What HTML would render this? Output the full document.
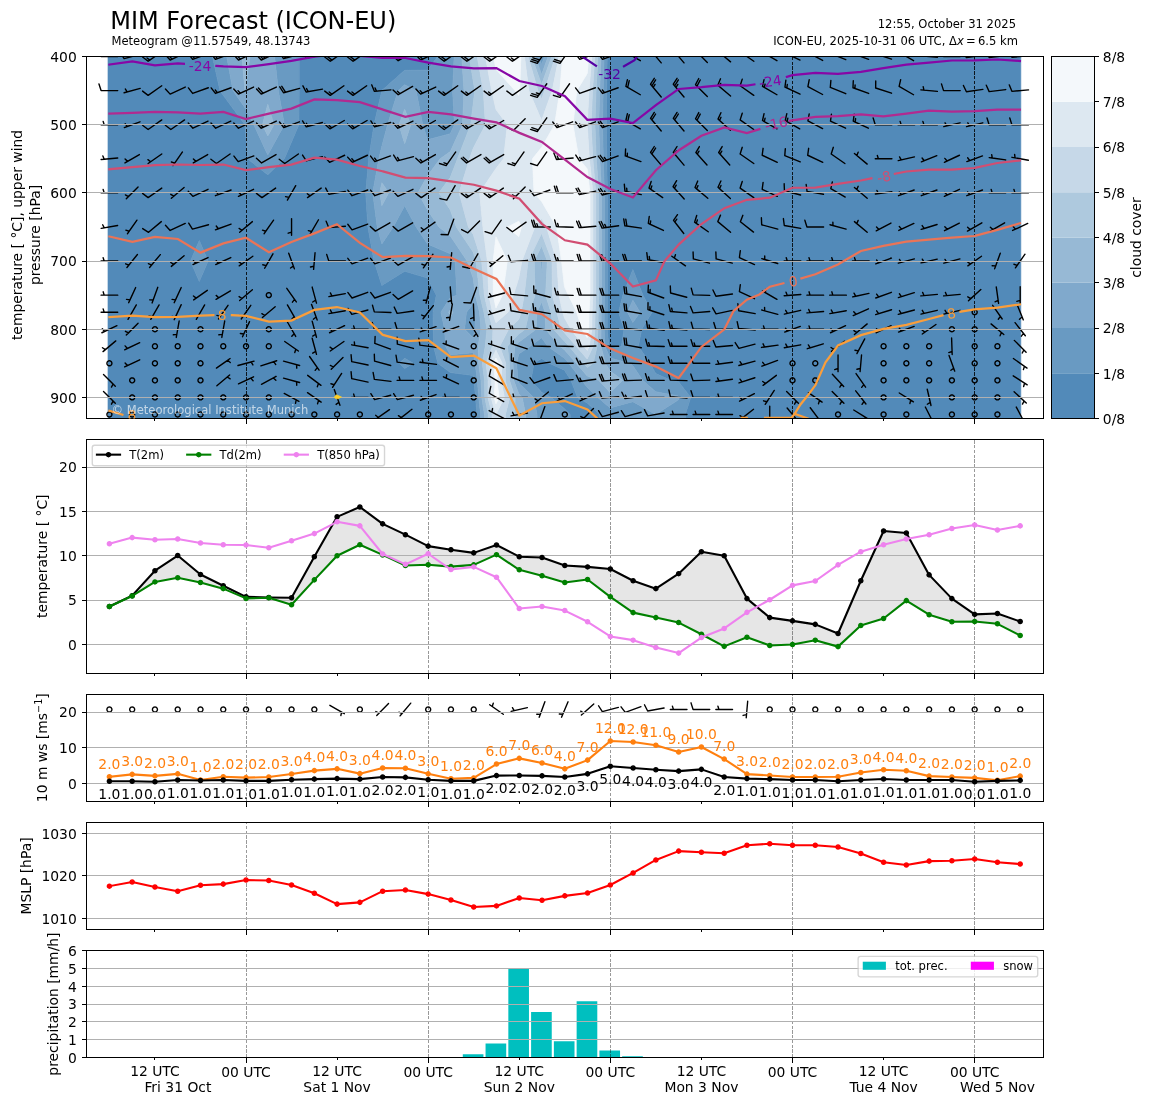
<!DOCTYPE html>
<html><head><meta charset="utf-8"><title>MIM Forecast (ICON-EU)</title>
<style>html,body{margin:0;padding:0;background:#fff}svg{display:block}text{font-family:"DejaVu Sans","Liberation Sans",sans-serif}</style></head>
<body>
<svg width="1155" height="1105" viewBox="0 0 831.6 795.6"><defs><style type="text/css">*{stroke-linejoin: round; stroke-linecap: butt}</style></defs><g id="figure_1"><g id="patch_1"><path d="M 0 795.6 L 831.6 795.6 L 831.6 0 L 0 0 z " style="fill: #ffffff"/></g><g id="axes_1"><g id="patch_2"><path d="M 62.28 301.32 L 751.32 301.32 L 751.32 40.68 L 62.28 40.68 z " style="fill: #ffffff"/></g><g id="QuadContourSet_1"><path d="M 94.21 40.68 L 110.64 40.68 L 127.07 40.68 L 143.5 40.68 L 152.96 40.68 L 158.37 65.22 L 159.93 67.56 L 176.36 89.77 L 176.36 89.77 L 178.19 114.31 L 192.79 125.86 L 204.74 114.31 L 209.22 103.8 L 215.2 89.77 L 215.38 65.22 L 215.38 40.68 L 225.65 40.68 L 242.08 40.68 L 258.51 40.68 L 274.94 40.68 L 291.37 40.68 L 307.8 40.68 L 315.11 40.68 L 307.8 50.5 L 291.37 50.6 L 274.94 65.22 L 274.94 65.22 L 269.28 89.77 L 265.45 114.31 L 263.32 138.86 L 264.88 163.4 L 269.28 187.95 L 274.94 205.48 L 291.37 195.31 L 307.8 200.22 L 314.12 212.49 L 311.77 224.77 L 311.91 237.04 L 312.13 249.31 L 315.27 261.58 L 324.23 268.28 L 340.66 270.35 L 341.18 273.86 L 342.44 286.13 L 343.29 298.4 L 343.29 310.67 L 340.66 310.67 L 324.23 310.67 L 307.8 310.67 L 291.37 310.67 L 274.94 310.67 L 258.51 310.67 L 242.08 310.67 L 225.65 310.67 L 209.22 310.67 L 192.79 310.67 L 176.36 310.67 L 159.93 310.67 L 143.5 310.67 L 127.07 310.67 L 110.64 310.67 L 94.21 310.67 L 77.78 310.67 L 77.78 298.4 L 77.78 286.13 L 77.78 273.86 L 77.78 261.58 L 77.78 249.31 L 77.78 237.04 L 77.78 224.77 L 77.78 212.49 L 77.78 187.95 L 77.78 163.4 L 77.78 138.86 L 77.78 114.31 L 77.78 89.77 L 77.78 65.22 L 77.78 40.68 z M 137.14 187.95 L 143.5 202.68 L 149.86 187.95 L 143.5 173.22 z M 287.43 261.58 L 291.37 265.26 L 297.53 261.58 L 291.37 257.9 z M 439.24 40.68 L 455.67 40.68 L 472.1 40.68 L 488.53 40.68 L 504.96 40.68 L 521.39 40.68 L 537.82 40.68 L 554.25 40.68 L 570.68 40.68 L 587.11 40.68 L 603.54 40.68 L 619.97 40.68 L 636.4 40.68 L 652.83 40.68 L 669.26 40.68 L 685.69 40.68 L 702.12 40.68 L 718.55 40.68 L 734.98 40.68 L 734.98 65.22 L 734.98 89.77 L 734.98 114.31 L 734.98 138.86 L 734.98 163.4 L 734.98 187.95 L 734.98 212.49 L 734.98 224.77 L 734.98 237.04 L 734.98 249.31 L 734.98 261.58 L 734.98 273.86 L 734.98 286.13 L 734.98 298.4 L 734.98 310.67 L 718.55 310.67 L 702.12 310.67 L 685.69 310.67 L 669.26 310.67 L 652.83 310.67 L 636.4 310.67 L 619.97 310.67 L 603.54 310.67 L 587.11 310.67 L 570.68 310.67 L 554.25 310.67 L 537.82 310.67 L 521.39 310.67 L 504.96 310.67 L 493.4 310.67 L 493.4 298.4 L 497.35 286.13 L 488.53 274.88 L 483.06 273.86 L 472.1 268.95 L 467.99 261.58 L 459.62 249.31 L 462.03 237.04 L 469.51 224.77 L 462.92 212.49 L 455.67 194.09 L 448.42 212.49 L 445.36 224.77 L 449.31 237.04 L 447.46 249.31 L 439.24 251.25 L 438.39 249.31 L 437.15 237.04 L 437.18 224.77 L 437.27 212.49 L 437.27 187.95 L 437.27 163.4 L 437.27 138.86 L 436.86 114.31 L 436.62 89.77 L 436.82 65.22 L 437.15 40.68 z M 389.95 258.08 L 395.43 261.58 L 406.38 266.49 L 411.08 273.86 L 415.77 286.13 L 422.81 290.22 L 431.77 298.4 L 431.77 310.67 L 422.81 310.67 L 410.49 310.67 L 410.49 298.4 L 406.38 294.31 L 396.99 286.13 L 389.95 282.45 L 382.29 273.86 L 384.48 261.58 z " clip-path="url(#p9851077e19)" style="fill: #528ab9; stroke: #528ab9; stroke-width: 0.5"/><path d="M 159.93 40.68 L 163.22 40.68 L 167.72 65.22 L 176.36 77.5 L 182.68 89.77 L 192.79 111.59 L 204.74 89.77 L 200.38 65.22 L 197.72 40.68 L 209.22 40.68 L 215.38 40.68 L 215.38 65.22 L 215.2 89.77 L 209.22 103.8 L 204.74 114.31 L 192.79 125.86 L 178.19 114.31 L 176.36 89.77 L 176.36 89.77 L 159.93 67.56 L 158.37 65.22 L 152.96 40.68 z M 291.37 50.6 L 307.8 50.5 L 315.11 40.68 L 324.23 40.68 L 326.97 40.68 L 325.88 65.22 L 327.17 89.77 L 324.23 96.23 L 307.8 100.68 L 304.34 89.77 L 299.59 65.22 L 291.37 61.05 L 286.68 65.22 L 279.05 89.77 L 274.94 105.11 L 272.75 114.31 L 268.37 138.86 L 271.59 163.4 L 274.94 175.68 L 283.16 163.4 L 291.37 148.06 L 299.59 163.4 L 307.8 175.68 L 324.23 182.78 L 327.69 187.95 L 328.93 212.49 L 324.23 214.25 L 317.43 224.77 L 320.13 237.04 L 320.77 249.31 L 324.23 255.45 L 340.66 253.91 L 341.99 261.58 L 343.74 273.86 L 344.66 286.13 L 346.05 298.4 L 346.05 310.67 L 343.29 310.67 L 343.29 298.4 L 342.44 286.13 L 341.18 273.86 L 340.66 270.35 L 324.23 268.28 L 315.27 261.58 L 312.13 249.31 L 311.91 237.04 L 311.77 224.77 L 314.12 212.49 L 307.8 200.22 L 291.37 195.31 L 274.94 205.48 L 269.28 187.95 L 264.88 163.4 L 263.32 138.86 L 265.45 114.31 L 269.28 89.77 L 274.94 65.22 L 274.94 65.22 z M 389.95 40.68 L 392.04 40.68 L 389.95 46.46 L 387.9 40.68 z M 436.82 65.22 L 436.62 89.77 L 436.86 114.31 L 437.27 138.86 L 437.27 163.4 L 437.27 187.95 L 437.27 212.49 L 437.18 224.77 L 437.15 237.04 L 438.39 249.31 L 439.24 251.25 L 447.46 249.31 L 449.31 237.04 L 445.36 224.77 L 448.42 212.49 L 455.67 194.09 L 462.92 212.49 L 469.51 224.77 L 462.03 237.04 L 459.62 249.31 L 467.99 261.58 L 472.1 268.95 L 483.06 273.86 L 488.53 274.88 L 497.35 286.13 L 493.4 298.4 L 493.4 310.67 L 488.53 310.67 L 472.1 310.67 L 455.67 310.67 L 439.24 310.67 L 431.77 310.67 L 431.77 298.4 L 422.81 290.22 L 415.77 286.13 L 411.08 273.86 L 406.38 266.49 L 395.43 261.58 L 389.95 258.08 L 384.48 261.58 L 382.29 273.86 L 389.95 282.45 L 396.99 286.13 L 406.38 294.31 L 410.49 298.4 L 410.49 310.67 L 406.38 310.67 L 389.95 310.67 L 386.67 310.67 L 386.67 298.4 L 384.2 286.13 L 373.52 275.49 L 372.91 273.86 L 371.96 261.58 L 373.52 254.89 L 381.74 249.31 L 389.95 243.17 L 394.28 249.31 L 406.38 257.9 L 409.56 261.58 L 418.9 273.86 L 422.81 278.97 L 430.48 286.13 L 439.24 293.68 L 455.67 289.2 L 472.1 298.4 L 488.53 287.88 L 489.33 286.13 L 488.53 285.11 L 472.1 282.04 L 462.71 273.86 L 455.67 263.34 L 453.33 261.58 L 439.24 257.71 L 435.56 249.31 L 434.94 237.04 L 435 224.77 L 435.19 212.49 L 435.19 187.95 L 435.19 163.4 L 435.19 138.86 L 434.35 114.31 L 433.86 89.77 L 434.28 65.22 L 434.94 40.68 L 437.15 40.68 z M 451.81 224.77 L 455.67 232.13 L 460.86 224.77 L 455.67 216.1 z M 143.5 173.22 L 149.86 187.95 L 143.5 202.68 L 137.14 187.95 z M 340.66 218.63 L 342.21 224.77 L 341.96 237.04 L 340.66 243.17 L 334.5 237.04 L 335.83 224.77 z M 291.37 257.9 L 297.53 261.58 L 291.37 265.26 L 287.43 261.58 z " clip-path="url(#p9851077e19)" style="fill: #699ac2; stroke: #699ac2; stroke-width: 0.5"/><path d="M 176.36 65.22 L 180.01 40.68 L 192.79 40.68 L 197.72 40.68 L 200.38 65.22 L 204.74 89.77 L 192.79 111.59 L 182.68 89.77 L 176.36 77.5 L 167.72 65.22 L 163.22 40.68 L 174.17 40.68 z M 189 89.77 L 192.79 97.95 L 197.27 89.77 L 192.79 75.04 z M 291.37 61.05 L 299.59 65.22 L 304.34 89.77 L 307.8 100.68 L 324.23 96.23 L 327.17 89.77 L 325.88 65.22 L 326.97 40.68 L 332.45 40.68 L 334.09 65.22 L 333.03 89.77 L 324.23 109.15 L 316.93 114.31 L 307.8 126.59 L 300.96 138.86 L 307.8 151.13 L 316.02 163.4 L 324.23 169.86 L 336.34 187.95 L 340.66 200.22 L 342.27 212.49 L 345.31 224.77 L 346.28 237.04 L 344.26 249.31 L 344.64 261.58 L 346.31 273.86 L 346.88 286.13 L 348.81 298.4 L 348.81 310.67 L 346.05 310.67 L 346.05 298.4 L 344.66 286.13 L 343.74 273.86 L 341.99 261.58 L 340.66 253.91 L 324.23 255.45 L 320.77 249.31 L 320.13 237.04 L 317.43 224.77 L 324.23 214.25 L 328.93 212.49 L 327.69 187.95 L 324.23 182.78 L 307.8 175.68 L 299.59 163.4 L 291.37 148.06 L 283.16 163.4 L 274.94 175.68 L 271.59 163.4 L 268.37 138.86 L 272.75 114.31 L 274.94 105.11 L 279.05 89.77 L 286.68 65.22 z M 287.27 89.77 L 291.37 103.41 L 295.7 89.77 L 291.37 78.61 z M 273.43 138.86 L 274.94 148.06 L 279.87 138.86 L 274.94 131.5 z M 323.1 224.77 L 324.23 228.27 L 326.17 224.77 L 324.23 223.01 z M 335.83 224.77 L 334.5 237.04 L 340.66 243.17 L 341.96 237.04 L 342.21 224.77 L 340.66 218.63 z M 389.95 46.46 L 392.04 40.68 L 394.65 40.68 L 389.95 53.67 L 385.33 40.68 L 387.9 40.68 z M 434.28 65.22 L 433.86 89.77 L 434.35 114.31 L 435.19 138.86 L 435.19 163.4 L 435.19 187.95 L 435.19 212.49 L 435 224.77 L 434.94 237.04 L 435.56 249.31 L 439.24 257.71 L 453.33 261.58 L 455.67 263.34 L 462.71 273.86 L 472.1 282.04 L 488.53 285.11 L 489.33 286.13 L 488.53 287.88 L 472.1 298.4 L 455.67 289.2 L 439.24 293.68 L 430.48 286.13 L 422.81 278.97 L 418.9 273.86 L 409.56 261.58 L 406.38 257.9 L 394.28 249.31 L 389.95 243.17 L 381.74 249.31 L 373.52 254.89 L 371.96 261.58 L 372.91 273.86 L 373.52 275.49 L 384.2 286.13 L 386.67 298.4 L 386.67 310.67 L 378.45 310.67 L 378.45 298.4 L 375.99 286.13 L 373.52 283.67 L 369.87 273.86 L 369.35 261.58 L 370.78 249.31 L 373.52 246.39 L 386.04 237.04 L 386.55 224.77 L 389.95 217.4 L 392.48 224.77 L 392.79 237.04 L 402.92 249.31 L 406.38 251.77 L 414.86 261.58 L 422.81 270.79 L 431.03 273.86 L 439.24 282.62 L 448.37 273.86 L 439.24 267.04 L 435.78 261.58 L 432.73 249.31 L 432.74 237.04 L 432.82 224.77 L 433.11 212.49 L 433.11 187.95 L 433.11 163.4 L 433.11 138.86 L 431.84 114.31 L 431.1 89.77 L 431.73 65.22 L 432.74 40.68 L 434.94 40.68 z M 389.95 186.13 L 390.64 187.95 L 389.95 196.13 L 389.06 187.95 z M 455.67 216.1 L 460.86 224.77 L 455.67 232.13 L 451.81 224.77 z " clip-path="url(#p9851077e19)" style="fill: #80a9cc; stroke: #80a9cc; stroke-width: 0.5"/><path d="M 176.36 40.68 L 180.01 40.68 L 176.36 65.22 L 174.17 40.68 z M 340.66 58.21 L 341.88 65.22 L 340.66 75.04 L 338.9 89.77 L 329.42 114.31 L 324.23 127.7 L 316.02 138.86 L 324.23 151.13 L 328.56 163.4 L 340.66 181.49 L 342.72 187.95 L 345.5 212.49 L 348.41 224.77 L 350.61 237.04 L 349.39 249.31 L 347.29 261.58 L 348.88 273.86 L 349.1 286.13 L 351.57 298.4 L 351.57 310.67 L 348.81 310.67 L 348.81 298.4 L 346.88 286.13 L 346.31 273.86 L 344.64 261.58 L 344.26 249.31 L 346.28 237.04 L 345.31 224.77 L 342.27 212.49 L 340.66 200.22 L 336.34 187.95 L 324.23 169.86 L 316.02 163.4 L 307.8 151.13 L 300.96 138.86 L 307.8 126.59 L 316.93 114.31 L 324.23 109.15 L 333.03 89.77 L 334.09 65.22 L 332.45 40.68 L 337.92 40.68 z M 389.95 53.67 L 394.65 40.68 L 397.26 40.68 L 389.95 60.89 L 382.76 40.68 L 385.33 40.68 z M 431.73 65.22 L 431.1 89.77 L 431.84 114.31 L 433.11 138.86 L 433.11 163.4 L 433.11 187.95 L 433.11 212.49 L 432.82 224.77 L 432.74 237.04 L 432.73 249.31 L 435.78 261.58 L 439.24 267.04 L 448.37 273.86 L 439.24 282.62 L 431.03 273.86 L 422.81 270.79 L 414.86 261.58 L 406.38 251.77 L 402.92 249.31 L 392.79 237.04 L 392.48 224.77 L 389.95 217.4 L 386.55 224.77 L 386.04 237.04 L 373.52 246.39 L 370.78 249.31 L 369.35 261.58 L 369.87 273.86 L 373.52 283.67 L 375.99 286.13 L 378.45 298.4 L 378.45 310.67 L 373.52 310.67 L 370.78 310.67 L 370.78 298.4 L 370.85 286.13 L 366.83 273.86 L 366.74 261.58 L 365.31 249.31 L 373.52 240.54 L 378.22 237.04 L 380.89 224.77 L 385.26 212.49 L 384.62 187.95 L 389.95 177.04 L 394.06 187.95 L 392.85 212.49 L 396.69 224.77 L 398.45 237.04 L 406.38 245.63 L 409.56 249.31 L 420.16 261.58 L 422.81 264.65 L 427.14 261.58 L 429.89 249.31 L 430.53 237.04 L 430.65 224.77 L 431.03 212.49 L 431.03 187.95 L 431.03 163.4 L 431.03 138.86 L 429.33 114.31 L 428.34 89.77 L 429.18 65.22 L 430.53 40.68 L 432.74 40.68 z M 389.06 187.95 L 389.95 196.13 L 390.64 187.95 L 389.95 186.13 z M 192.79 75.04 L 197.27 89.77 L 192.79 97.95 L 189 89.77 z M 291.37 78.61 L 295.7 89.77 L 291.37 103.41 L 287.27 89.77 z M 274.94 131.5 L 279.87 138.86 L 274.94 148.06 L 273.43 138.86 z M 324.23 223.01 L 326.17 224.77 L 324.23 228.27 L 323.1 224.77 z " clip-path="url(#p9851077e19)" style="fill: #97b9d5; stroke: #97b9d5; stroke-width: 0.5"/><path d="M 340.66 40.68 L 343.6 40.68 L 347.97 65.22 L 349.51 89.77 L 340.66 106.95 L 338.07 114.31 L 330.55 138.86 L 337.2 163.4 L 340.66 168.57 L 346.82 187.95 L 348.72 212.49 L 351.51 224.77 L 354.93 237.04 L 354.53 249.31 L 349.94 261.58 L 351.45 273.86 L 351.32 286.13 L 354.33 298.4 L 354.33 310.67 L 351.57 310.67 L 351.57 298.4 L 349.1 286.13 L 348.88 273.86 L 347.29 261.58 L 349.39 249.31 L 350.61 237.04 L 348.41 224.77 L 345.5 212.49 L 342.72 187.95 L 340.66 181.49 L 328.56 163.4 L 324.23 151.13 L 316.02 138.86 L 324.23 127.7 L 329.42 114.31 L 338.9 89.77 L 340.66 75.04 L 341.88 65.22 L 340.66 58.21 L 337.92 40.68 z M 389.95 60.89 L 397.26 40.68 L 399.86 40.68 L 392.14 65.22 L 389.95 71.36 L 387.32 65.22 L 380.2 40.68 L 382.76 40.68 z M 429.18 65.22 L 428.34 89.77 L 429.33 114.31 L 431.03 138.86 L 431.03 163.4 L 431.03 187.95 L 431.03 212.49 L 430.65 224.77 L 430.53 237.04 L 429.89 249.31 L 427.14 261.58 L 422.81 264.65 L 420.16 261.58 L 409.56 249.31 L 406.38 245.63 L 398.45 237.04 L 396.69 224.77 L 392.85 212.49 L 394.06 187.95 L 389.95 177.04 L 384.62 187.95 L 385.26 212.49 L 380.89 224.77 L 378.22 237.04 L 373.52 240.54 L 365.31 249.31 L 366.74 261.58 L 366.83 273.86 L 370.85 286.13 L 370.78 298.4 L 370.78 310.67 L 363.94 310.67 L 363.94 298.4 L 367.03 286.13 L 363.79 273.86 L 364.13 261.58 L 359.83 249.31 L 366.22 237.04 L 373.52 230.03 L 375.22 224.77 L 377.43 212.49 L 380.18 187.95 L 389.95 167.95 L 397.48 187.95 L 397.68 212.49 L 400.91 224.77 L 404.12 237.04 L 406.38 239.49 L 414.86 249.31 L 422.81 258.52 L 427.06 249.31 L 428.33 237.04 L 428.47 224.77 L 428.95 212.49 L 428.95 187.95 L 428.95 163.4 L 428.95 138.86 L 426.83 114.31 L 425.57 89.77 L 426.63 65.22 L 428.33 40.68 L 430.53 40.68 z " clip-path="url(#p9851077e19)" style="fill: #aec9de; stroke: #aec9de; stroke-width: 0.5"/><path d="M 354.05 65.22 L 357.09 78.86 L 365.31 89.77 L 362.57 114.31 L 357.09 121.33 L 345.36 138.86 L 347.7 163.4 L 350.93 187.95 L 351.94 212.49 L 354.61 224.77 L 357.09 232.32 L 365.86 224.77 L 369.61 212.49 L 373.52 200.22 L 375.74 187.95 L 385.12 163.4 L 389.95 157.27 L 393.52 163.4 L 400.91 187.95 L 402.52 212.49 L 405.12 224.77 L 406.38 228.86 L 411.08 237.04 L 420.16 249.31 L 422.81 252.38 L 424.23 249.31 L 426.12 237.04 L 426.29 224.77 L 426.87 212.49 L 426.87 187.95 L 426.87 163.4 L 426.87 138.86 L 424.32 114.31 L 422.81 89.77 L 422.81 89.77 L 422.81 89.77 L 424.09 65.22 L 426.12 40.68 L 428.33 40.68 L 426.63 65.22 L 425.57 89.77 L 426.83 114.31 L 428.95 138.86 L 428.95 163.4 L 428.95 187.95 L 428.95 212.49 L 428.47 224.77 L 428.33 237.04 L 427.06 249.31 L 422.81 258.52 L 414.86 249.31 L 406.38 239.49 L 404.12 237.04 L 400.91 224.77 L 397.68 212.49 L 397.48 187.95 L 389.95 167.95 L 380.18 187.95 L 377.43 212.49 L 375.22 224.77 L 373.52 230.03 L 366.22 237.04 L 359.83 249.31 L 364.13 261.58 L 363.79 273.86 L 367.03 286.13 L 363.94 298.4 L 363.94 310.67 L 357.09 310.67 L 354.33 310.67 L 354.33 298.4 L 351.32 286.13 L 351.45 273.86 L 349.94 261.58 L 354.53 249.31 L 354.93 237.04 L 351.51 224.77 L 348.72 212.49 L 346.82 187.95 L 340.66 168.57 L 337.2 163.4 L 330.55 138.86 L 338.07 114.31 L 340.66 106.95 L 349.51 89.77 L 347.97 65.22 L 343.6 40.68 L 349.46 40.68 z M 352.59 261.58 L 354.01 273.86 L 353.54 286.13 L 357.09 298.4 L 363.21 286.13 L 360.74 273.86 L 361.53 261.58 L 357.09 252.1 z M 387.32 65.22 L 389.95 71.36 L 392.14 65.22 L 399.86 40.68 L 402.47 40.68 L 397.62 65.22 L 389.95 86.7 L 380.75 65.22 L 377.63 40.68 L 380.2 40.68 z M 373.52 138.86 L 373.52 138.86 L 373.52 138.86 L 373.52 138.86 z " clip-path="url(#p9851077e19)" style="fill: #c6d8e8; stroke: #c6d8e8; stroke-width: 0.5"/><path d="M 357.09 49.88 L 370.78 65.22 L 373.52 68.73 L 374.18 65.22 L 375.06 40.68 L 377.63 40.68 L 380.75 65.22 L 389.95 86.7 L 397.62 65.22 L 402.47 40.68 L 405.08 40.68 L 403.1 65.22 L 399.34 89.77 L 389.95 106.13 L 383.38 114.31 L 384.48 138.86 L 389.95 145 L 400.67 163.4 L 404.33 187.95 L 406.38 206.36 L 409.24 212.49 L 415.23 224.77 L 418.9 237.04 L 422.81 243.17 L 423.92 237.04 L 424.12 224.77 L 424.79 212.49 L 424.79 187.95 L 424.79 163.4 L 424.79 138.86 L 422.81 121.59 L 416.84 114.31 L 412.54 89.77 L 415.34 65.22 L 422.81 52.95 L 423.92 40.68 L 426.12 40.68 L 424.09 65.22 L 422.81 89.77 L 422.81 89.77 L 422.81 89.77 L 424.32 114.31 L 426.87 138.86 L 426.87 163.4 L 426.87 187.95 L 426.87 212.49 L 426.29 224.77 L 426.12 237.04 L 424.23 249.31 L 422.81 252.38 L 420.16 249.31 L 411.08 237.04 L 406.38 228.86 L 405.12 224.77 L 402.52 212.49 L 400.91 187.95 L 393.52 163.4 L 389.95 157.27 L 385.12 163.4 L 375.74 187.95 L 373.52 200.22 L 369.61 212.49 L 365.86 224.77 L 357.09 232.32 L 354.61 224.77 L 351.94 212.49 L 350.93 187.95 L 347.7 163.4 L 345.36 138.86 L 357.09 121.33 L 362.57 114.31 L 365.31 89.77 L 357.09 78.86 L 354.05 65.22 L 349.46 40.68 L 355.33 40.68 z M 373.52 138.86 L 373.52 138.86 L 373.52 138.86 L 373.52 138.86 z M 365.31 163.4 L 373.52 170.42 L 375.46 163.4 L 373.52 159.31 z M 355.04 187.95 L 355.16 212.49 L 357.09 221.7 L 361.79 212.49 L 365.31 187.95 L 357.09 170.42 z M 357.09 252.1 L 361.53 261.58 L 360.74 273.86 L 363.21 286.13 L 357.09 298.4 L 353.54 286.13 L 354.01 273.86 L 352.59 261.58 z M 355.24 261.58 L 356.58 273.86 L 355.76 286.13 L 357.09 290.73 L 359.39 286.13 L 357.7 273.86 L 358.92 261.58 L 357.09 257.68 z " clip-path="url(#p9851077e19)" style="fill: #dde8f1; stroke: #dde8f1; stroke-width: 0.5"/><path d="M 357.09 40.68 L 373.52 40.68 L 375.06 40.68 L 374.18 65.22 L 373.52 68.73 L 370.78 65.22 L 357.09 49.88 L 355.33 40.68 z M 406.38 40.68 L 422.81 40.68 L 423.92 40.68 L 422.81 52.95 L 415.34 65.22 L 412.54 89.77 L 416.84 114.31 L 422.81 121.59 L 424.79 138.86 L 424.79 163.4 L 424.79 187.95 L 424.79 212.49 L 424.12 224.77 L 423.92 237.04 L 422.81 243.17 L 418.9 237.04 L 415.23 224.77 L 409.24 212.49 L 406.38 206.36 L 404.33 187.95 L 400.67 163.4 L 389.95 145 L 384.48 138.86 L 383.38 114.31 L 389.95 106.13 L 399.34 89.77 L 403.1 65.22 L 405.08 40.68 z M 373.52 159.31 L 375.46 163.4 L 373.52 170.42 L 365.31 163.4 z M 357.09 170.42 L 365.31 187.95 L 361.79 212.49 L 357.09 221.7 L 355.16 212.49 L 355.04 187.95 z M 357.09 257.68 L 358.92 261.58 L 357.7 273.86 L 359.39 286.13 L 357.09 290.73 L 355.76 286.13 L 356.58 273.86 L 355.24 261.58 z " clip-path="url(#p9851077e19)" style="fill: #f4f8fb; stroke: #f4f8fb; stroke-width: 0.5"/></g><g id="Barbs_1"><path d="M 84.77 40.68 L 72.77 40.68 L 71.26 35.88 L 72.77 40.68 L 74.27 40.68 L 73.52 38.28 L 74.27 40.68 z " clip-path="url(#p9851077e19)" style="stroke: #000000"/><path d="M 100.96 39.13 L 89.36 42.23 L 86.67 37.98 L 89.36 42.23 z " clip-path="url(#p9851077e19)" style="stroke: #000000"/><path d="M 116.47 37.24 L 106.64 44.12 L 102.66 41.05 L 106.64 44.12 L 107.87 43.26 L 105.88 41.73 L 107.87 43.26 z " clip-path="url(#p9851077e19)" style="stroke: #000000"/><path d="M 133.39 38.14 L 122.51 43.22 L 119.12 39.5 L 122.51 43.22 L 123.87 42.58 L 122.18 40.72 L 123.87 42.58 z " clip-path="url(#p9851077e19)" style="stroke: #000000"/><path d="M 149.99 38.63 L 138.71 42.73 L 135.65 38.73 L 138.71 42.73 L 140.12 42.22 L 138.59 40.22 L 140.12 42.22 z " clip-path="url(#p9851077e19)" style="stroke: #000000"/><path d="M 166.38 38.63 L 155.1 42.73 L 152.05 38.73 L 155.1 42.73 L 156.51 42.22 L 153.46 38.22 L 156.51 42.22 z " clip-path="url(#p9851077e19)" style="stroke: #000000"/><path d="M 182.57 38.14 L 171.69 43.22 L 168.3 39.5 L 171.69 43.22 L 173.05 42.58 L 169.66 38.86 L 173.05 42.58 z " clip-path="url(#p9851077e19)" style="stroke: #000000"/><path d="M 198.97 38.14 L 188.09 43.22 L 184.7 39.5 L 188.09 43.22 L 189.45 42.58 L 186.06 38.86 L 189.45 42.58 L 190.81 41.95 L 189.11 40.09 L 190.81 41.95 z " clip-path="url(#p9851077e19)" style="stroke: #000000"/><path d="M 215.72 39.13 L 204.13 42.23 L 201.43 37.98 L 204.13 42.23 L 205.57 41.85 L 202.88 37.6 L 205.57 41.85 L 207.02 41.46 L 205.68 39.33 L 207.02 41.46 z " clip-path="url(#p9851077e19)" style="stroke: #000000"/><path d="M 232.23 39.64 L 220.41 41.72 L 218.09 37.25 L 220.41 41.72 L 221.88 41.46 L 219.57 36.99 L 221.88 41.46 z " clip-path="url(#p9851077e19)" style="stroke: #000000"/><path d="M 247.63 37.24 L 237.8 44.12 L 233.81 41.05 L 237.8 44.12 L 239.02 43.26 L 235.04 40.19 L 239.02 43.26 z " clip-path="url(#p9851077e19)" style="stroke: #000000"/><path d="M 264.02 37.24 L 254.19 44.12 L 250.21 41.05 L 254.19 44.12 L 255.42 43.26 L 251.44 40.19 L 255.42 43.26 z " clip-path="url(#p9851077e19)" style="stroke: #000000"/><path d="M 281.48 40.16 L 269.52 41.2 L 267.61 36.55 L 269.52 41.2 L 271.02 41.07 L 269.1 36.42 L 271.02 41.07 z " clip-path="url(#p9851077e19)" style="stroke: #000000"/><path d="M 297.09 37.68 L 286.7 43.68 L 283 40.27 L 286.7 43.68 L 288 42.93 L 284.3 39.52 L 288 42.93 z " clip-path="url(#p9851077e19)" style="stroke: #000000"/><path d="M 313.73 38.14 L 302.85 43.22 L 299.46 39.5 L 302.85 43.22 L 304.21 42.58 L 300.82 38.86 L 304.21 42.58 z " clip-path="url(#p9851077e19)" style="stroke: #000000"/><path d="M 329.6 37.24 L 319.77 44.12 L 315.78 41.05 L 319.77 44.12 L 321 43.26 L 317.01 40.19 L 321 43.26 z " clip-path="url(#p9851077e19)" style="stroke: #000000"/><path d="M 346 37.24 L 336.16 44.12 L 332.18 41.05 L 336.16 44.12 L 337.39 43.26 L 333.41 40.19 L 337.39 43.26 z " clip-path="url(#p9851077e19)" style="stroke: #000000"/><path d="M 362.39 37.24 L 352.56 44.12 L 348.57 41.05 L 352.56 44.12 L 353.79 43.26 L 349.8 40.19 L 353.79 43.26 z " clip-path="url(#p9851077e19)" style="stroke: #000000"/><path d="M 378.78 37.24 L 368.95 44.12 L 364.97 41.05 L 368.95 44.12 L 370.18 43.26 L 368.19 41.73 L 370.18 43.26 z " clip-path="url(#p9851077e19)" style="stroke: #000000"/><path d="M 393.7 35.76 L 386.82 45.6 L 382.02 44.07 L 386.82 45.6 L 387.68 44.37 L 382.89 42.84 L 387.68 44.37 L 388.54 43.14 L 383.75 41.61 L 388.54 43.14 z " clip-path="url(#p9851077e19)" style="stroke: #000000"/><path d="M 410.1 35.76 L 403.21 45.6 L 398.42 44.07 L 403.21 45.6 L 404.07 44.37 L 399.28 42.84 L 404.07 44.37 z " clip-path="url(#p9851077e19)" style="stroke: #000000"/><path d="M 428.69 38.63 L 417.41 42.73 L 414.36 38.73 L 417.41 42.73 L 418.82 42.22 L 417.29 40.22 L 418.82 42.22 z " clip-path="url(#p9851077e19)" style="stroke: #000000"/><path d="M 445.09 38.63 L 433.8 42.73 L 430.75 38.73 L 433.8 42.73 L 435.21 42.22 L 432.16 38.22 L 435.21 42.22 z " clip-path="url(#p9851077e19)" style="stroke: #000000"/><path d="M 461.04 43.68 L 450.64 37.68 L 451.74 32.77 L 450.64 37.68 L 451.94 38.43 L 453.04 33.52 L 451.94 38.43 L 453.24 39.18 L 453.79 36.72 L 453.24 39.18 z " clip-path="url(#p9851077e19)" style="stroke: #000000"/><path d="M 476.09 45.28 L 468.38 36.08 L 471.09 31.85 L 468.38 36.08 L 469.34 37.23 L 472.05 33 L 469.34 37.23 L 470.3 38.38 L 473.02 34.14 L 470.3 38.38 z " clip-path="url(#p9851077e19)" style="stroke: #000000"/><path d="M 492.49 45.28 L 484.77 36.08 L 487.48 31.85 L 484.77 36.08 L 485.73 37.23 L 488.45 33 L 485.73 37.23 L 486.7 38.38 L 489.41 34.14 L 486.7 38.38 z " clip-path="url(#p9851077e19)" style="stroke: #000000"/><path d="M 509.27 44.92 L 500.78 36.44 L 503.11 31.98 L 500.78 36.44 L 501.84 37.5 L 504.17 33.04 L 501.84 37.5 L 502.9 38.56 L 504.07 36.33 L 502.9 38.56 z " clip-path="url(#p9851077e19)" style="stroke: #000000"/><path d="M 526.01 44.54 L 516.82 36.82 L 518.76 32.18 L 516.82 36.82 L 517.97 37.79 L 519.91 33.14 L 517.97 37.79 z " clip-path="url(#p9851077e19)" style="stroke: #000000"/><path d="M 542.73 44.12 L 532.89 37.24 L 534.42 32.44 L 532.89 37.24 L 534.12 38.1 L 534.89 35.7 L 534.12 38.1 z " clip-path="url(#p9851077e19)" style="stroke: #000000"/><path d="M 559.4 43.68 L 549.01 37.68 L 550.11 32.77 L 549.01 37.68 L 550.31 38.43 L 551.41 33.52 L 550.31 38.43 z " clip-path="url(#p9851077e19)" style="stroke: #000000"/><path d="M 576.04 43.22 L 565.16 38.14 L 565.83 33.16 L 565.16 38.14 L 566.52 38.78 L 567.19 33.79 L 566.52 38.78 z " clip-path="url(#p9851077e19)" style="stroke: #000000"/><path d="M 592.29 43.5 L 581.69 37.86 L 582.62 32.92 L 581.69 37.86 L 583.02 38.57 L 583.48 36.09 L 583.02 38.57 z " clip-path="url(#p9851077e19)" style="stroke: #000000"/><path d="M 608.95 42.93 L 597.82 38.43 L 598.23 33.42 L 597.82 38.43 L 599.21 38.99 L 599.42 36.49 L 599.21 38.99 z " clip-path="url(#p9851077e19)" style="stroke: #000000"/><path d="M 625.42 42.73 L 614.14 38.63 L 614.37 33.6 L 614.14 38.63 L 615.55 39.14 L 615.79 34.11 L 615.55 39.14 z " clip-path="url(#p9851077e19)" style="stroke: #000000"/><path d="M 641.89 42.53 L 630.47 38.83 L 630.53 33.79 L 630.47 38.83 L 631.9 39.29 L 631.92 36.77 L 631.9 39.29 z " clip-path="url(#p9851077e19)" style="stroke: #000000"/><path d="M 657.77 43.68 L 647.37 37.68 L 648.48 32.77 L 647.37 37.68 L 648.67 38.43 L 649.22 35.97 L 648.67 38.43 z " clip-path="url(#p9851077e19)" style="stroke: #000000"/><path d="M 674.95 41.2 L 662.99 40.16 L 661.91 35.24 L 662.99 40.16 z " clip-path="url(#p9851077e19)" style="stroke: #000000"/><path d="M 691.36 40.68 L 679.36 40.68 L 677.86 35.88 L 679.36 40.68 L 680.86 40.68 L 680.11 38.28 L 680.86 40.68 z " clip-path="url(#p9851077e19)" style="stroke: #000000"/><path d="M 707.7 39.84 L 695.81 41.52 L 693.66 36.97 L 695.81 41.52 L 697.3 41.31 L 696.22 39.03 L 697.3 41.31 z " clip-path="url(#p9851077e19)" style="stroke: #000000"/><path d="M 724.11 39.95 L 712.19 41.41 L 710.12 36.83 L 712.19 41.41 L 713.68 41.23 L 712.64 38.94 L 713.68 41.23 z " clip-path="url(#p9851077e19)" style="stroke: #000000"/><path d="M 740.52 40.16 L 728.56 41.2 L 726.65 36.55 L 728.56 41.2 L 730.06 41.07 L 729.1 38.75 L 730.06 41.07 z " clip-path="url(#p9851077e19)" style="stroke: #000000"/><path d="M 84.77 65.22 L 72.77 65.22 L 71.26 60.42 L 72.77 65.22 z " clip-path="url(#p9851077e19)" style="stroke: #000000"/><path d="M 100.96 63.67 L 89.36 66.78 L 91.54 66.2 L 90.19 64.07 L 91.54 66.2 z " clip-path="url(#p9851077e19)" style="stroke: #000000"/><path d="M 116.47 61.78 L 106.64 68.67 L 102.66 65.59 L 106.64 68.67 z " clip-path="url(#p9851077e19)" style="stroke: #000000"/><path d="M 133.39 62.69 L 122.51 67.76 L 119.12 64.04 L 122.51 67.76 z " clip-path="url(#p9851077e19)" style="stroke: #000000"/><path d="M 149.99 63.17 L 138.71 67.28 L 135.65 63.28 L 138.71 67.28 z " clip-path="url(#p9851077e19)" style="stroke: #000000"/><path d="M 166.38 63.17 L 155.1 67.28 L 152.05 63.28 L 155.1 67.28 L 156.51 66.76 L 154.98 64.76 L 156.51 66.76 z " clip-path="url(#p9851077e19)" style="stroke: #000000"/><path d="M 182.57 62.69 L 171.69 67.76 L 168.3 64.04 L 171.69 67.76 L 173.05 67.13 L 171.36 65.27 L 173.05 67.13 z " clip-path="url(#p9851077e19)" style="stroke: #000000"/><path d="M 198.97 62.69 L 188.09 67.76 L 184.7 64.04 L 188.09 67.76 L 189.45 67.13 L 186.06 63.41 L 189.45 67.13 z " clip-path="url(#p9851077e19)" style="stroke: #000000"/><path d="M 215.72 63.67 L 204.13 66.78 L 201.43 62.53 L 204.13 66.78 L 205.57 66.39 L 202.88 62.14 L 205.57 66.39 z " clip-path="url(#p9851077e19)" style="stroke: #000000"/><path d="M 232.23 64.18 L 220.41 66.27 L 218.09 61.8 L 220.41 66.27 L 221.88 66.01 L 220.73 63.77 L 221.88 66.01 z " clip-path="url(#p9851077e19)" style="stroke: #000000"/><path d="M 247.63 61.78 L 237.8 68.67 L 233.81 65.59 L 237.8 68.67 L 239.02 67.81 L 237.03 66.27 L 239.02 67.81 z " clip-path="url(#p9851077e19)" style="stroke: #000000"/><path d="M 264.02 61.78 L 254.19 68.67 L 250.21 65.59 L 254.19 68.67 L 255.42 67.81 L 253.43 66.27 L 255.42 67.81 z " clip-path="url(#p9851077e19)" style="stroke: #000000"/><path d="M 281.48 64.7 L 269.52 65.75 L 267.61 61.1 L 269.52 65.75 L 271.02 65.62 L 270.06 63.29 L 271.02 65.62 z " clip-path="url(#p9851077e19)" style="stroke: #000000"/><path d="M 297.09 62.22 L 286.7 68.23 L 283 64.82 L 286.7 68.23 L 288 67.48 L 286.15 65.77 L 288 67.48 z " clip-path="url(#p9851077e19)" style="stroke: #000000"/><path d="M 313.73 62.69 L 302.85 67.76 L 299.46 64.04 L 302.85 67.76 L 304.21 67.13 L 302.51 65.27 L 304.21 67.13 z " clip-path="url(#p9851077e19)" style="stroke: #000000"/><path d="M 329.6 61.78 L 319.77 68.67 L 315.78 65.59 L 319.77 68.67 L 321 67.81 L 319 66.27 L 321 67.81 z " clip-path="url(#p9851077e19)" style="stroke: #000000"/><path d="M 346 61.78 L 336.16 68.67 L 332.18 65.59 L 336.16 68.67 L 337.39 67.81 L 335.4 66.27 L 337.39 67.81 z " clip-path="url(#p9851077e19)" style="stroke: #000000"/><path d="M 362.39 61.78 L 352.56 68.67 L 348.57 65.59 L 352.56 68.67 L 353.79 67.81 L 351.79 66.27 L 353.79 67.81 z " clip-path="url(#p9851077e19)" style="stroke: #000000"/><path d="M 378.78 61.78 L 368.95 68.67 L 364.97 65.59 L 368.95 68.67 z " clip-path="url(#p9851077e19)" style="stroke: #000000"/><path d="M 393.7 60.31 L 386.82 70.14 L 382.02 68.62 L 386.82 70.14 L 387.68 68.91 L 382.89 67.39 L 387.68 68.91 L 388.54 67.68 L 386.14 66.92 L 388.54 67.68 z " clip-path="url(#p9851077e19)" style="stroke: #000000"/><path d="M 410.1 60.31 L 403.21 70.14 L 398.42 68.62 L 403.21 70.14 L 404.07 68.91 L 401.68 68.15 L 404.07 68.91 z " clip-path="url(#p9851077e19)" style="stroke: #000000"/><path d="M 428.69 63.17 L 417.41 67.28 L 414.36 63.28 L 417.41 67.28 z " clip-path="url(#p9851077e19)" style="stroke: #000000"/><path d="M 445.09 63.17 L 433.8 67.28 L 430.75 63.28 L 433.8 67.28 L 435.21 66.76 L 433.69 64.76 L 435.21 66.76 z " clip-path="url(#p9851077e19)" style="stroke: #000000"/><path d="M 461.04 68.23 L 450.64 62.22 L 451.74 57.31 L 450.64 62.22 L 451.94 62.97 L 453.04 58.06 L 451.94 62.97 z " clip-path="url(#p9851077e19)" style="stroke: #000000"/><path d="M 476.09 69.82 L 468.38 60.63 L 471.09 56.39 L 468.38 60.63 L 469.34 61.78 L 472.05 57.54 L 469.34 61.78 L 470.3 62.93 L 471.66 60.81 L 470.3 62.93 z " clip-path="url(#p9851077e19)" style="stroke: #000000"/><path d="M 492.49 69.82 L 484.77 60.63 L 487.48 56.39 L 484.77 60.63 L 485.73 61.78 L 488.45 57.54 L 485.73 61.78 L 486.7 62.93 L 488.06 60.81 L 486.7 62.93 z " clip-path="url(#p9851077e19)" style="stroke: #000000"/><path d="M 509.27 69.47 L 500.78 60.98 L 503.11 56.52 L 500.78 60.98 L 501.84 62.04 L 504.17 57.58 L 501.84 62.04 z " clip-path="url(#p9851077e19)" style="stroke: #000000"/><path d="M 526.01 69.08 L 516.82 61.37 L 518.76 56.72 L 516.82 61.37 L 517.97 62.33 L 518.94 60.01 L 517.97 62.33 z " clip-path="url(#p9851077e19)" style="stroke: #000000"/><path d="M 542.73 68.67 L 532.89 61.78 L 534.42 56.99 L 532.89 61.78 z " clip-path="url(#p9851077e19)" style="stroke: #000000"/><path d="M 559.4 68.23 L 549.01 62.22 L 550.11 57.31 L 549.01 62.22 L 550.31 62.97 L 550.86 60.52 L 550.31 62.97 z " clip-path="url(#p9851077e19)" style="stroke: #000000"/><path d="M 576.04 67.76 L 565.16 62.69 L 565.83 57.7 L 565.16 62.69 L 566.52 63.32 L 566.85 60.83 L 566.52 63.32 z " clip-path="url(#p9851077e19)" style="stroke: #000000"/><path d="M 592.29 68.04 L 581.69 62.41 L 582.62 57.46 L 581.69 62.41 z " clip-path="url(#p9851077e19)" style="stroke: #000000"/><path d="M 608.95 67.47 L 597.82 62.98 L 598.23 57.96 L 597.82 62.98 z " clip-path="url(#p9851077e19)" style="stroke: #000000"/><path d="M 625.42 67.28 L 614.14 63.17 L 614.37 58.15 L 614.14 63.17 L 615.55 63.69 L 615.67 61.17 L 615.55 63.69 z " clip-path="url(#p9851077e19)" style="stroke: #000000"/><path d="M 641.89 67.08 L 630.47 63.37 L 630.53 58.34 L 630.47 63.37 z " clip-path="url(#p9851077e19)" style="stroke: #000000"/><path d="M 657.77 68.23 L 647.37 62.22 L 648.48 57.31 L 647.37 62.22 z " clip-path="url(#p9851077e19)" style="stroke: #000000"/><path d="M 674.95 65.75 L 662.99 64.7 L 665.23 64.9 L 664.69 62.44 L 665.23 64.9 z " clip-path="url(#p9851077e19)" style="stroke: #000000"/><path d="M 691.36 65.22 L 679.36 65.22 L 677.86 60.42 L 679.36 65.22 z " clip-path="url(#p9851077e19)" style="stroke: #000000"/><path d="M 707.7 64.39 L 695.81 66.06 L 693.66 61.51 L 695.81 66.06 z " clip-path="url(#p9851077e19)" style="stroke: #000000"/><path d="M 724.11 64.49 L 712.19 65.96 L 710.12 61.37 L 712.19 65.96 z " clip-path="url(#p9851077e19)" style="stroke: #000000"/><path d="M 740.52 64.7 L 728.56 65.75 L 726.65 61.1 L 728.56 65.75 z " clip-path="url(#p9851077e19)" style="stroke: #000000"/><path d="M 84.77 89.77 L 72.77 89.77 L 75.02 89.77 L 74.27 87.37 L 75.02 89.77 z " clip-path="url(#p9851077e19)" style="stroke: #000000"/><path d="M 100.8 87.72 L 89.52 91.82 L 91.64 91.05 L 90.11 89.05 L 91.64 91.05 z " clip-path="url(#p9851077e19)" style="stroke: #000000"/><path d="M 116.47 86.33 L 106.64 93.21 L 102.66 90.14 L 106.64 93.21 z " clip-path="url(#p9851077e19)" style="stroke: #000000"/><path d="M 132.87 86.33 L 123.03 93.21 L 119.05 90.14 L 123.03 93.21 z " clip-path="url(#p9851077e19)" style="stroke: #000000"/><path d="M 149.79 87.23 L 138.91 92.31 L 135.52 88.59 L 138.91 92.31 z " clip-path="url(#p9851077e19)" style="stroke: #000000"/><path d="M 166.18 87.23 L 155.3 92.31 L 151.91 88.59 L 155.3 92.31 z " clip-path="url(#p9851077e19)" style="stroke: #000000"/><path d="M 182.57 87.23 L 171.69 92.31 L 168.3 88.59 L 171.69 92.31 z " clip-path="url(#p9851077e19)" style="stroke: #000000"/><path d="M 198.97 87.23 L 188.09 92.31 L 184.7 88.59 L 188.09 92.31 L 189.45 91.67 L 187.75 89.81 L 189.45 91.67 z " clip-path="url(#p9851077e19)" style="stroke: #000000"/><path d="M 215.56 87.72 L 204.28 91.82 L 201.23 87.82 L 204.28 91.82 L 205.69 91.31 L 204.17 89.31 L 205.69 91.31 z " clip-path="url(#p9851077e19)" style="stroke: #000000"/><path d="M 232.12 88.22 L 220.52 91.32 L 217.83 87.07 L 220.52 91.32 L 221.97 90.93 L 220.62 88.81 L 221.97 90.93 z " clip-path="url(#p9851077e19)" style="stroke: #000000"/><path d="M 247.91 86.77 L 237.51 92.77 L 233.81 89.36 L 237.51 92.77 L 238.81 92.02 L 236.96 90.32 L 238.81 92.02 z " clip-path="url(#p9851077e19)" style="stroke: #000000"/><path d="M 264.3 86.77 L 253.91 92.77 L 250.21 89.36 L 253.91 92.77 L 255.21 92.02 L 253.36 90.32 L 255.21 92.02 z " clip-path="url(#p9851077e19)" style="stroke: #000000"/><path d="M 281.3 88.22 L 269.7 91.32 L 267.01 87.07 L 269.7 91.32 L 271.15 90.93 L 269.81 88.81 L 271.15 90.93 z " clip-path="url(#p9851077e19)" style="stroke: #000000"/><path d="M 297.34 87.23 L 286.46 92.31 L 283.07 88.59 L 286.46 92.31 L 287.82 91.67 L 286.12 89.81 L 287.82 91.67 z " clip-path="url(#p9851077e19)" style="stroke: #000000"/><path d="M 313.49 86.77 L 303.09 92.77 L 299.39 89.36 L 303.09 92.77 L 304.39 92.02 L 302.54 90.32 L 304.39 92.02 z " clip-path="url(#p9851077e19)" style="stroke: #000000"/><path d="M 329.6 86.33 L 319.77 93.21 L 315.78 90.14 L 319.77 93.21 L 321 92.35 L 319 90.82 L 321 92.35 z " clip-path="url(#p9851077e19)" style="stroke: #000000"/><path d="M 346.28 86.77 L 335.88 92.77 L 332.18 89.36 L 335.88 92.77 L 337.18 92.02 L 335.33 90.32 L 337.18 92.02 z " clip-path="url(#p9851077e19)" style="stroke: #000000"/><path d="M 362.67 86.77 L 352.27 92.77 L 348.57 89.36 L 352.27 92.77 L 353.57 92.02 L 351.72 90.32 L 353.57 92.02 z " clip-path="url(#p9851077e19)" style="stroke: #000000"/><path d="M 378.11 85.53 L 369.62 94.01 L 365.17 91.68 L 369.62 94.01 z " clip-path="url(#p9851077e19)" style="stroke: #000000"/><path d="M 393.7 84.85 L 386.82 94.69 L 382.02 93.16 L 386.82 94.69 L 387.68 93.46 L 382.89 91.93 L 387.68 93.46 z " clip-path="url(#p9851077e19)" style="stroke: #000000"/><path d="M 412.3 87.72 L 401.02 91.82 L 397.96 87.82 L 401.02 91.82 L 402.43 91.31 L 400.9 89.31 L 402.43 91.31 z " clip-path="url(#p9851077e19)" style="stroke: #000000"/><path d="M 428.69 87.72 L 417.41 91.82 L 414.36 87.82 L 417.41 91.82 L 418.82 91.31 L 417.29 89.31 L 418.82 91.31 z " clip-path="url(#p9851077e19)" style="stroke: #000000"/><path d="M 445.09 87.72 L 433.8 91.82 L 430.75 87.82 L 433.8 91.82 L 435.21 91.31 L 432.16 87.31 L 435.21 91.31 z " clip-path="url(#p9851077e19)" style="stroke: #000000"/><path d="M 461.04 92.77 L 450.64 86.77 L 451.74 81.86 L 450.64 86.77 L 451.94 87.52 L 453.04 82.61 L 451.94 87.52 z " clip-path="url(#p9851077e19)" style="stroke: #000000"/><path d="M 476.09 94.37 L 468.38 85.17 L 471.09 80.94 L 468.38 85.17 L 469.34 86.32 L 472.05 82.08 L 469.34 86.32 z " clip-path="url(#p9851077e19)" style="stroke: #000000"/><path d="M 492.49 94.37 L 484.77 85.17 L 487.48 80.94 L 484.77 85.17 L 485.73 86.32 L 488.45 82.08 L 485.73 86.32 z " clip-path="url(#p9851077e19)" style="stroke: #000000"/><path d="M 509.27 94.01 L 500.78 85.53 L 503.11 81.07 L 500.78 85.53 L 501.84 86.59 L 504.17 82.13 L 501.84 86.59 z " clip-path="url(#p9851077e19)" style="stroke: #000000"/><path d="M 525.88 93.79 L 516.96 85.75 L 519.05 81.18 L 516.96 85.75 L 518.07 86.76 L 519.12 84.47 L 518.07 86.76 z " clip-path="url(#p9851077e19)" style="stroke: #000000"/><path d="M 542.73 93.21 L 532.89 86.33 L 534.42 81.53 L 532.89 86.33 z " clip-path="url(#p9851077e19)" style="stroke: #000000"/><path d="M 559.4 92.77 L 549.01 86.77 L 550.11 81.86 L 549.01 86.77 L 550.31 87.52 L 550.86 85.06 L 550.31 87.52 z " clip-path="url(#p9851077e19)" style="stroke: #000000"/><path d="M 575.8 92.77 L 565.4 86.77 L 566.5 81.86 L 565.4 86.77 L 566.7 87.52 L 567.25 85.06 L 566.7 87.52 z " clip-path="url(#p9851077e19)" style="stroke: #000000"/><path d="M 592.29 92.59 L 581.69 86.95 L 582.62 82.01 L 581.69 86.95 z " clip-path="url(#p9851077e19)" style="stroke: #000000"/><path d="M 608.83 92.31 L 597.95 87.23 L 598.62 82.25 L 597.95 87.23 z " clip-path="url(#p9851077e19)" style="stroke: #000000"/><path d="M 625.22 92.31 L 614.34 87.23 L 615.01 82.25 L 614.34 87.23 L 615.7 87.87 L 616.04 85.37 L 615.7 87.87 z " clip-path="url(#p9851077e19)" style="stroke: #000000"/><path d="M 642.18 89.77 L 630.18 89.77 L 628.67 84.97 L 630.18 89.77 z " clip-path="url(#p9851077e19)" style="stroke: #000000"/><path d="M 658.57 89.77 L 646.57 89.77 L 648.82 89.77 L 648.07 87.37 L 648.82 89.77 z " clip-path="url(#p9851077e19)" style="stroke: #000000"/><path d="M 674.97 89.77 L 662.96 89.77 L 665.21 89.77 L 664.46 87.37 L 665.21 89.77 z " clip-path="url(#p9851077e19)" style="stroke: #000000"/><path d="M 691.21 88.42 L 679.51 91.12 L 681.71 90.61 L 680.43 88.44 L 681.71 90.61 z " clip-path="url(#p9851077e19)" style="stroke: #000000"/><path d="M 707.6 88.42 L 695.91 91.12 L 698.1 90.61 L 696.83 88.44 L 698.1 90.61 z " clip-path="url(#p9851077e19)" style="stroke: #000000"/><path d="M 724.15 89.77 L 712.15 89.77 L 710.65 84.97 L 712.15 89.77 z " clip-path="url(#p9851077e19)" style="stroke: #000000"/><path d="M 740.55 89.77 L 728.54 89.77 L 727.04 84.97 L 728.54 89.77 z " clip-path="url(#p9851077e19)" style="stroke: #000000"/><path d="M 84.75 113.79 L 72.79 114.84 L 75.03 114.64 L 74.07 112.31 L 75.03 114.64 z " clip-path="url(#p9851077e19)" style="stroke: #000000"/><path d="M 100.36 111.31 L 89.96 117.32 L 91.91 116.19 L 90.06 114.49 L 91.91 116.19 z " clip-path="url(#p9851077e19)" style="stroke: #000000"/><path d="M 116.47 110.87 L 106.64 117.76 L 108.48 116.47 L 106.49 114.93 L 108.48 116.47 z " clip-path="url(#p9851077e19)" style="stroke: #000000"/><path d="M 131.39 109.4 L 124.51 119.23 L 125.8 117.39 L 123.4 116.62 L 125.8 117.39 z " clip-path="url(#p9851077e19)" style="stroke: #000000"/><path d="M 149.54 111.31 L 139.15 117.32 L 141.1 116.19 L 139.25 114.49 L 141.1 116.19 z " clip-path="url(#p9851077e19)" style="stroke: #000000"/><path d="M 165.66 110.87 L 155.82 117.76 L 151.84 114.68 L 155.82 117.76 z " clip-path="url(#p9851077e19)" style="stroke: #000000"/><path d="M 182.77 112.26 L 171.49 116.37 L 168.44 112.37 L 171.49 116.37 z " clip-path="url(#p9851077e19)" style="stroke: #000000"/><path d="M 198.73 111.31 L 188.33 117.32 L 184.63 113.91 L 188.33 117.32 z " clip-path="url(#p9851077e19)" style="stroke: #000000"/><path d="M 214.84 110.87 L 205.01 117.76 L 201.02 114.68 L 205.01 117.76 z " clip-path="url(#p9851077e19)" style="stroke: #000000"/><path d="M 232.12 112.76 L 220.52 115.87 L 217.83 111.62 L 220.52 115.87 z " clip-path="url(#p9851077e19)" style="stroke: #000000"/><path d="M 248.15 111.78 L 237.27 116.85 L 233.88 113.13 L 237.27 116.85 z " clip-path="url(#p9851077e19)" style="stroke: #000000"/><path d="M 264.55 111.78 L 253.67 116.85 L 250.28 113.13 L 253.67 116.85 L 255.03 116.22 L 253.33 114.36 L 255.03 116.22 z " clip-path="url(#p9851077e19)" style="stroke: #000000"/><path d="M 281.14 112.26 L 269.86 116.37 L 266.81 112.37 L 269.86 116.37 L 271.27 115.85 L 269.74 113.85 L 271.27 115.85 z " clip-path="url(#p9851077e19)" style="stroke: #000000"/><path d="M 297.69 112.76 L 286.1 115.87 L 283.4 111.62 L 286.1 115.87 L 287.55 115.48 L 286.2 113.35 L 287.55 115.48 z " clip-path="url(#p9851077e19)" style="stroke: #000000"/><path d="M 313.49 111.31 L 303.09 117.32 L 299.39 113.91 L 303.09 117.32 L 304.39 116.57 L 302.54 114.86 L 304.39 116.57 z " clip-path="url(#p9851077e19)" style="stroke: #000000"/><path d="M 328.13 109.4 L 321.24 119.23 L 316.45 117.71 L 321.24 119.23 L 322.1 118 L 319.7 117.24 L 322.1 118 z " clip-path="url(#p9851077e19)" style="stroke: #000000"/><path d="M 346.28 111.31 L 335.88 117.32 L 332.18 113.91 L 335.88 117.32 L 337.18 116.57 L 333.48 113.16 L 337.18 116.57 z " clip-path="url(#p9851077e19)" style="stroke: #000000"/><path d="M 362.67 111.31 L 352.27 117.32 L 348.57 113.91 L 352.27 117.32 L 353.57 116.57 L 349.87 113.16 L 353.57 116.57 z " clip-path="url(#p9851077e19)" style="stroke: #000000"/><path d="M 377.31 109.4 L 370.42 119.23 L 365.63 117.71 L 370.42 119.23 L 371.29 118 L 368.89 117.24 L 371.29 118 z " clip-path="url(#p9851077e19)" style="stroke: #000000"/><path d="M 393.7 109.4 L 386.82 119.23 L 382.02 117.71 L 386.82 119.23 z " clip-path="url(#p9851077e19)" style="stroke: #000000"/><path d="M 412.64 113.79 L 400.68 114.84 L 398.76 110.18 L 400.68 114.84 L 402.17 114.71 L 401.21 112.38 L 402.17 114.71 z " clip-path="url(#p9851077e19)" style="stroke: #000000"/><path d="M 428.85 112.76 L 417.25 115.87 L 414.56 111.62 L 417.25 115.87 L 418.7 115.48 L 417.36 113.35 L 418.7 115.48 z " clip-path="url(#p9851077e19)" style="stroke: #000000"/><path d="M 445.09 112.26 L 433.8 116.37 L 430.75 112.37 L 433.8 116.37 L 435.21 115.85 L 432.16 111.85 L 435.21 115.85 L 436.62 115.34 L 435.1 113.34 L 436.62 115.34 z " clip-path="url(#p9851077e19)" style="stroke: #000000"/><path d="M 461.48 116.37 L 450.2 112.26 L 450.43 107.24 L 450.2 112.26 L 451.61 112.77 L 451.72 110.26 L 451.61 112.77 z " clip-path="url(#p9851077e19)" style="stroke: #000000"/><path d="M 476.09 118.91 L 468.38 109.72 L 471.09 105.48 L 468.38 109.72 L 469.34 110.87 L 472.05 106.63 L 469.34 110.87 z " clip-path="url(#p9851077e19)" style="stroke: #000000"/><path d="M 492.49 118.91 L 484.77 109.72 L 487.48 105.48 L 484.77 109.72 L 485.73 110.87 L 487.09 108.75 L 485.73 110.87 z " clip-path="url(#p9851077e19)" style="stroke: #000000"/><path d="M 509.04 118.78 L 501.01 109.85 L 503.57 105.53 L 501.01 109.85 L 502.01 110.97 L 503.29 108.8 L 502.01 110.97 z " clip-path="url(#p9851077e19)" style="stroke: #000000"/><path d="M 525.43 118.78 L 517.4 109.85 L 519.96 105.53 L 517.4 109.85 L 518.4 110.97 L 519.69 108.8 L 518.4 110.97 z " clip-path="url(#p9851077e19)" style="stroke: #000000"/><path d="M 542.73 117.76 L 532.89 110.87 L 534.42 106.08 L 532.89 110.87 z " clip-path="url(#p9851077e19)" style="stroke: #000000"/><path d="M 559.65 116.85 L 548.77 111.78 L 549.43 106.79 L 548.77 111.78 z " clip-path="url(#p9851077e19)" style="stroke: #000000"/><path d="M 576.17 116.56 L 565.03 112.07 L 565.44 107.05 L 565.03 112.07 z " clip-path="url(#p9851077e19)" style="stroke: #000000"/><path d="M 592.43 116.85 L 581.55 111.78 L 582.22 106.79 L 581.55 111.78 z " clip-path="url(#p9851077e19)" style="stroke: #000000"/><path d="M 608.31 117.76 L 598.47 110.87 L 600 106.08 L 598.47 110.87 z " clip-path="url(#p9851077e19)" style="stroke: #000000"/><path d="M 624.38 118.17 L 615.19 110.46 L 616.91 111.9 L 617.88 109.58 L 616.91 111.9 z " clip-path="url(#p9851077e19)" style="stroke: #000000"/><path d="M 642.18 114.31 L 630.18 114.31 L 632.43 114.31 L 631.68 111.91 L 632.43 114.31 z " clip-path="url(#p9851077e19)" style="stroke: #000000"/><path d="M 658.42 112.96 L 646.72 115.66 L 648.92 115.16 L 647.65 112.99 L 648.92 115.16 z " clip-path="url(#p9851077e19)" style="stroke: #000000"/><path d="M 674.53 112.07 L 663.4 116.56 L 665.49 115.72 L 663.89 113.77 L 665.49 115.72 z " clip-path="url(#p9851077e19)" style="stroke: #000000"/><path d="M 690.8 111.78 L 679.92 116.85 L 681.96 115.9 L 680.27 114.04 L 681.96 115.9 z " clip-path="url(#p9851077e19)" style="stroke: #000000"/><path d="M 707.4 112.26 L 696.11 116.37 L 698.23 115.6 L 696.7 113.6 L 698.23 115.6 z " clip-path="url(#p9851077e19)" style="stroke: #000000"/><path d="M 724.09 115.15 L 712.21 113.48 L 714.43 113.79 L 714.03 111.31 L 714.43 113.79 z " clip-path="url(#p9851077e19)" style="stroke: #000000"/><path d="M 740.46 115.36 L 728.63 113.27 L 730.85 113.66 L 730.53 111.17 L 730.85 113.66 z " clip-path="url(#p9851077e19)" style="stroke: #000000"/><path d="M 84.77 138.86 L 72.77 138.86 L 75.02 138.86 L 74.27 136.46 L 75.02 138.86 z " clip-path="url(#p9851077e19)" style="stroke: #000000"/><path d="M 99.41 134.61 L 90.92 143.1 L 92.51 141.51 L 90.28 140.34 L 92.51 141.51 z " clip-path="url(#p9851077e19)" style="stroke: #000000"/><path d="M 116.47 135.42 L 106.64 142.3 L 102.66 139.23 L 106.64 142.3 z " clip-path="url(#p9851077e19)" style="stroke: #000000"/><path d="M 132.55 135 L 123.35 142.72 L 125.08 141.27 L 122.96 139.91 L 125.08 141.27 z " clip-path="url(#p9851077e19)" style="stroke: #000000"/><path d="M 149.79 136.32 L 138.91 141.4 L 135.52 137.68 L 138.91 141.4 z " clip-path="url(#p9851077e19)" style="stroke: #000000"/><path d="M 166.38 136.81 L 155.1 140.91 L 157.21 140.14 L 155.69 138.14 L 157.21 140.14 z " clip-path="url(#p9851077e19)" style="stroke: #000000"/><path d="M 182.57 136.32 L 171.69 141.4 L 173.73 140.44 L 172.04 138.59 L 173.73 140.44 z " clip-path="url(#p9851077e19)" style="stroke: #000000"/><path d="M 198.45 135.42 L 188.61 142.3 L 184.63 139.23 L 188.61 142.3 z " clip-path="url(#p9851077e19)" style="stroke: #000000"/><path d="M 212.92 133.66 L 206.92 144.06 L 208.05 142.11 L 205.59 141.56 L 208.05 142.11 z " clip-path="url(#p9851077e19)" style="stroke: #000000"/><path d="M 231.23 135.42 L 221.4 142.3 L 223.24 141.01 L 221.25 139.47 L 223.24 141.01 z " clip-path="url(#p9851077e19)" style="stroke: #000000"/><path d="M 248.62 137.82 L 236.8 139.9 L 234.49 135.43 L 236.8 139.9 z " clip-path="url(#p9851077e19)" style="stroke: #000000"/><path d="M 264.75 136.81 L 253.47 140.91 L 250.41 136.91 L 253.47 140.91 z " clip-path="url(#p9851077e19)" style="stroke: #000000"/><path d="M 281.14 136.81 L 269.86 140.91 L 266.81 136.91 L 269.86 140.91 z " clip-path="url(#p9851077e19)" style="stroke: #000000"/><path d="M 297.34 136.32 L 286.46 141.4 L 283.07 137.68 L 286.46 141.4 z " clip-path="url(#p9851077e19)" style="stroke: #000000"/><path d="M 313.21 135.42 L 303.37 142.3 L 299.39 139.23 L 303.37 142.3 z " clip-path="url(#p9851077e19)" style="stroke: #000000"/><path d="M 327.69 133.66 L 321.68 144.06 L 316.77 142.96 L 321.68 144.06 z " clip-path="url(#p9851077e19)" style="stroke: #000000"/><path d="M 346 135.42 L 336.16 142.3 L 332.18 139.23 L 336.16 142.3 L 337.39 141.44 L 335.4 139.9 L 337.39 141.44 z " clip-path="url(#p9851077e19)" style="stroke: #000000"/><path d="M 362.39 135.42 L 352.56 142.3 L 348.57 139.23 L 352.56 142.3 L 353.79 141.44 L 351.79 139.9 L 353.79 141.44 z " clip-path="url(#p9851077e19)" style="stroke: #000000"/><path d="M 378.11 134.61 L 369.62 143.1 L 371.21 141.51 L 368.99 140.34 L 371.21 141.51 z " clip-path="url(#p9851077e19)" style="stroke: #000000"/><path d="M 395.9 136.81 L 384.62 140.91 L 381.57 136.91 L 384.62 140.91 z " clip-path="url(#p9851077e19)" style="stroke: #000000"/><path d="M 412.66 138.86 L 400.65 138.86 L 399.15 134.06 L 400.65 138.86 L 402.15 138.86 L 400.65 134.06 L 402.15 138.86 z " clip-path="url(#p9851077e19)" style="stroke: #000000"/><path d="M 428.92 137.61 L 417.18 140.11 L 414.71 135.72 L 417.18 140.11 L 418.65 139.8 L 416.18 135.41 L 418.65 139.8 z " clip-path="url(#p9851077e19)" style="stroke: #000000"/><path d="M 445.24 137.31 L 433.65 140.41 L 430.95 136.16 L 433.65 140.41 L 435.1 140.02 L 432.4 135.77 L 435.1 140.02 L 436.55 139.64 L 435.2 137.51 L 436.55 139.64 z " clip-path="url(#p9851077e19)" style="stroke: #000000"/><path d="M 461.71 140.11 L 449.97 137.61 L 449.5 132.6 L 449.97 137.61 L 451.44 137.92 L 451.2 135.42 L 451.44 137.92 z " clip-path="url(#p9851077e19)" style="stroke: #000000"/><path d="M 477.15 142.3 L 467.32 135.42 L 468.84 130.62 L 467.32 135.42 L 468.55 136.28 L 469.31 133.88 L 468.55 136.28 z " clip-path="url(#p9851077e19)" style="stroke: #000000"/><path d="M 492.64 143.32 L 484.61 134.4 L 487.18 130.07 L 484.61 134.4 L 485.62 135.51 L 486.9 133.35 L 485.62 135.51 z " clip-path="url(#p9851077e19)" style="stroke: #000000"/><path d="M 509.62 142.72 L 500.42 135 L 502.36 130.36 L 500.42 135 L 501.57 135.97 L 502.54 133.64 L 501.57 135.97 z " clip-path="url(#p9851077e19)" style="stroke: #000000"/><path d="M 525.88 142.88 L 516.96 134.84 L 519.05 130.27 L 516.96 134.84 L 518.07 135.85 L 519.12 133.56 L 518.07 135.85 z " clip-path="url(#p9851077e19)" style="stroke: #000000"/><path d="M 542.73 142.3 L 532.89 135.42 L 534.42 130.62 L 532.89 135.42 z " clip-path="url(#p9851077e19)" style="stroke: #000000"/><path d="M 559.65 141.4 L 548.77 136.32 L 549.43 131.34 L 548.77 136.32 z " clip-path="url(#p9851077e19)" style="stroke: #000000"/><path d="M 576.4 140.41 L 564.8 137.31 L 564.6 132.28 L 564.8 137.31 z " clip-path="url(#p9851077e19)" style="stroke: #000000"/><path d="M 592.91 139.9 L 581.08 137.82 L 580.44 132.83 L 581.08 137.82 z " clip-path="url(#p9851077e19)" style="stroke: #000000"/><path d="M 608.59 141.86 L 598.19 135.86 L 599.29 130.95 L 598.19 135.86 z " clip-path="url(#p9851077e19)" style="stroke: #000000"/><path d="M 624.38 142.72 L 615.19 135 L 616.91 136.45 L 617.88 134.13 L 616.91 136.45 z " clip-path="url(#p9851077e19)" style="stroke: #000000"/><path d="M 642.12 138.02 L 630.23 139.69 L 632.46 139.38 L 631.39 137.11 L 632.46 139.38 z " clip-path="url(#p9851077e19)" style="stroke: #000000"/><path d="M 658.21 136.81 L 646.93 140.91 L 649.05 140.14 L 647.52 138.14 L 649.05 140.14 z " clip-path="url(#p9851077e19)" style="stroke: #000000"/><path d="M 674.61 136.81 L 663.33 140.91 L 665.44 140.14 L 663.91 138.14 L 665.44 140.14 z " clip-path="url(#p9851077e19)" style="stroke: #000000"/><path d="M 690.8 136.32 L 679.92 141.4 L 681.96 140.44 L 680.27 138.59 L 681.96 140.44 z " clip-path="url(#p9851077e19)" style="stroke: #000000"/><path d="M 707.4 136.81 L 696.11 140.91 L 698.23 140.14 L 696.7 138.14 L 698.23 140.14 z " clip-path="url(#p9851077e19)" style="stroke: #000000"/><path d="M 724.15 138.86 L 712.15 138.86 L 714.4 138.86 L 713.65 136.46 L 714.4 138.86 z " clip-path="url(#p9851077e19)" style="stroke: #000000"/><path d="M 740.55 138.86 L 728.54 138.86 L 730.79 138.86 L 730.04 136.46 L 730.79 138.86 z " clip-path="url(#p9851077e19)" style="stroke: #000000"/><path d="M 84.68 162.36 L 72.86 164.45 L 75.07 164.06 L 73.92 161.82 L 75.07 164.06 z " clip-path="url(#p9851077e19)" style="stroke: #000000"/><path d="M 98.61 158.49 L 91.72 168.32 L 93.01 166.48 L 90.61 165.71 L 93.01 166.48 z " clip-path="url(#p9851077e19)" style="stroke: #000000"/><path d="M 116.15 159.55 L 106.96 167.26 L 102.72 164.55 L 106.96 167.26 z " clip-path="url(#p9851077e19)" style="stroke: #000000"/><path d="M 133.39 160.87 L 122.51 165.94 L 119.12 162.22 L 122.51 165.94 z " clip-path="url(#p9851077e19)" style="stroke: #000000"/><path d="M 150.14 161.85 L 138.55 164.96 L 135.86 160.71 L 138.55 164.96 z " clip-path="url(#p9851077e19)" style="stroke: #000000"/><path d="M 166.38 161.35 L 155.1 165.46 L 157.21 164.69 L 155.69 162.69 L 157.21 164.69 z " clip-path="url(#p9851077e19)" style="stroke: #000000"/><path d="M 181.73 159.55 L 172.54 167.26 L 174.26 165.82 L 172.14 164.46 L 174.26 165.82 z " clip-path="url(#p9851077e19)" style="stroke: #000000"/><path d="M 196.97 158.49 L 190.09 168.32 L 191.38 166.48 L 188.98 165.71 L 191.38 166.48 z " clip-path="url(#p9851077e19)" style="stroke: #000000"/><path d="M 209.92 157.4 L 209.92 169.41 L 209.92 167.16 L 207.52 167.91 L 209.92 167.16 z " clip-path="url(#p9851077e19)" style="stroke: #000000"/><path d="M 229.32 158.21 L 223.32 168.6 L 224.44 166.65 L 221.99 166.1 L 224.44 166.65 z " clip-path="url(#p9851077e19)" style="stroke: #000000"/><path d="M 248.69 162.88 L 236.73 163.93 L 234.82 159.27 L 236.73 163.93 z " clip-path="url(#p9851077e19)" style="stroke: #000000"/><path d="M 264.75 161.35 L 253.47 165.46 L 250.41 161.46 L 253.47 165.46 z " clip-path="url(#p9851077e19)" style="stroke: #000000"/><path d="M 280.7 160.4 L 270.3 166.41 L 266.6 163 L 270.3 166.41 z " clip-path="url(#p9851077e19)" style="stroke: #000000"/><path d="M 297.09 160.4 L 286.7 166.41 L 283 163 L 286.7 166.41 z " clip-path="url(#p9851077e19)" style="stroke: #000000"/><path d="M 313.21 159.96 L 303.37 166.85 L 305.22 165.56 L 303.22 164.02 L 305.22 165.56 z " clip-path="url(#p9851077e19)" style="stroke: #000000"/><path d="M 326.74 157.76 L 322.63 169.04 L 317.61 168.81 L 322.63 169.04 z " clip-path="url(#p9851077e19)" style="stroke: #000000"/><path d="M 345.32 159.16 L 336.83 167.65 L 332.38 165.31 L 336.83 167.65 z " clip-path="url(#p9851077e19)" style="stroke: #000000"/><path d="M 360.92 158.49 L 354.03 168.32 L 349.24 166.8 L 354.03 168.32 z " clip-path="url(#p9851077e19)" style="stroke: #000000"/><path d="M 378.78 159.96 L 368.95 166.85 L 364.97 163.77 L 368.95 166.85 z " clip-path="url(#p9851077e19)" style="stroke: #000000"/><path d="M 396.26 163.4 L 384.26 163.4 L 382.76 158.6 L 384.26 163.4 L 385.76 163.4 L 384.26 158.6 L 385.76 163.4 L 387.26 163.4 L 386.51 161 L 387.26 163.4 z " clip-path="url(#p9851077e19)" style="stroke: #000000"/><path d="M 412.65 163.61 L 400.66 163.19 L 399.33 158.34 L 400.66 163.19 L 402.16 163.25 L 401.49 160.82 L 402.16 163.25 z " clip-path="url(#p9851077e19)" style="stroke: #000000"/><path d="M 429.03 162.88 L 417.07 163.93 L 415.16 159.27 L 417.07 163.93 L 418.57 163.8 L 416.65 159.14 L 418.57 163.8 z " clip-path="url(#p9851077e19)" style="stroke: #000000"/><path d="M 445.39 162.57 L 433.5 164.24 L 431.35 159.69 L 433.5 164.24 L 434.99 164.03 L 432.83 159.48 L 434.99 164.03 L 436.47 163.82 L 435.4 161.55 L 436.47 163.82 z " clip-path="url(#p9851077e19)" style="stroke: #000000"/><path d="M 461.78 164.24 L 449.9 162.57 L 449.08 157.6 L 449.9 162.57 L 451.38 162.78 L 450.56 157.81 L 451.38 162.78 z " clip-path="url(#p9851077e19)" style="stroke: #000000"/><path d="M 477.67 165.94 L 466.79 160.87 L 467.46 155.88 L 466.79 160.87 L 468.15 161.5 L 468.49 159.01 L 468.15 161.5 z " clip-path="url(#p9851077e19)" style="stroke: #000000"/><path d="M 492.32 168.13 L 484.93 158.67 L 487.79 154.54 L 484.93 158.67 L 485.86 159.86 L 487.29 157.79 L 485.86 159.86 z " clip-path="url(#p9851077e19)" style="stroke: #000000"/><path d="M 509.94 166.85 L 500.11 159.96 L 501.63 155.17 L 500.11 159.96 L 501.33 160.82 L 502.1 158.42 L 501.33 160.82 z " clip-path="url(#p9851077e19)" style="stroke: #000000"/><path d="M 526.01 167.26 L 516.82 159.55 L 518.76 154.9 L 516.82 159.55 z " clip-path="url(#p9851077e19)" style="stroke: #000000"/><path d="M 542.54 167.1 L 533.08 159.71 L 534.86 155 L 533.08 159.71 z " clip-path="url(#p9851077e19)" style="stroke: #000000"/><path d="M 560 164.96 L 548.41 161.85 L 548.2 156.82 L 548.41 161.85 z " clip-path="url(#p9851077e19)" style="stroke: #000000"/><path d="M 576.51 164.45 L 564.69 162.36 L 564.04 157.37 L 564.69 162.36 z " clip-path="url(#p9851077e19)" style="stroke: #000000"/><path d="M 593 163.4 L 580.99 163.4 L 579.49 158.6 L 580.99 163.4 z " clip-path="url(#p9851077e19)" style="stroke: #000000"/><path d="M 609.19 164.96 L 597.59 161.85 L 599.77 162.43 L 599.66 159.92 L 599.77 162.43 z " clip-path="url(#p9851077e19)" style="stroke: #000000"/><path d="M 624.38 167.26 L 615.19 159.55 L 616.91 160.99 L 617.88 158.67 L 616.91 160.99 z " clip-path="url(#p9851077e19)" style="stroke: #000000"/><path d="M 641.48 160.59 L 630.88 166.22 L 632.87 165.17 L 631.08 163.4 L 632.87 165.17 z " clip-path="url(#p9851077e19)" style="stroke: #000000"/><path d="M 658.01 160.87 L 647.13 165.94 L 649.17 164.99 L 647.48 163.13 L 649.17 164.99 z " clip-path="url(#p9851077e19)" style="stroke: #000000"/><path d="M 674.71 161.65 L 663.23 165.16 L 665.38 164.5 L 663.96 162.42 L 665.38 164.5 z " clip-path="url(#p9851077e19)" style="stroke: #000000"/><path d="M 690.71 160.68 L 680.01 166.13 L 682.02 165.11 L 680.26 163.31 L 682.02 165.11 z " clip-path="url(#p9851077e19)" style="stroke: #000000"/><path d="M 706.95 160.4 L 696.56 166.41 L 698.51 165.28 L 696.66 163.58 L 698.51 165.28 z " clip-path="url(#p9851077e19)" style="stroke: #000000"/><path d="M 723.35 160.4 L 712.95 166.41 L 714.9 165.28 L 713.05 163.58 L 714.9 165.28 z " clip-path="url(#p9851077e19)" style="stroke: #000000"/><path d="M 739.98 160.87 L 729.1 165.94 L 731.14 164.99 L 729.45 163.13 L 731.14 164.99 z " clip-path="url(#p9851077e19)" style="stroke: #000000"/><path d="M 84.77 187.95 L 72.77 187.95 L 75.02 187.95 L 74.27 185.55 L 75.02 187.95 z " clip-path="url(#p9851077e19)" style="stroke: #000000"/><path d="M 98.94 183.28 L 91.38 192.61 L 92.8 190.86 L 90.46 189.94 L 92.8 190.86 z " clip-path="url(#p9851077e19)" style="stroke: #000000"/><path d="M 115.42 183.35 L 107.7 192.55 L 109.15 190.82 L 106.82 189.85 L 109.15 190.82 z " clip-path="url(#p9851077e19)" style="stroke: #000000"/><path d="M 132.55 184.09 L 123.35 191.81 L 125.08 190.36 L 122.96 189 L 125.08 190.36 z " clip-path="url(#p9851077e19)" style="stroke: #000000"/><path d="M 149.79 185.41 L 138.91 190.49 L 140.95 189.53 L 139.25 187.68 L 140.95 189.53 z " clip-path="url(#p9851077e19)" style="stroke: #000000"/><path d="M 166.18 185.41 L 155.3 190.49 L 157.34 189.53 L 155.65 187.68 L 157.34 189.53 z " clip-path="url(#p9851077e19)" style="stroke: #000000"/><path d="M 182.05 184.51 L 172.22 191.39 L 174.06 190.1 L 172.07 188.56 L 174.06 190.1 z " clip-path="url(#p9851077e19)" style="stroke: #000000"/><path d="M 196.53 182.75 L 190.53 193.15 L 191.65 191.2 L 189.2 190.65 L 191.65 191.2 z " clip-path="url(#p9851077e19)" style="stroke: #000000"/><path d="M 207.87 182.31 L 211.98 193.59 L 211.21 191.47 L 209.21 193 L 211.21 191.47 z " clip-path="url(#p9851077e19)" style="stroke: #000000"/><path d="M 226.84 181.97 L 225.79 193.93 L 225.99 191.69 L 223.53 192.22 L 225.99 191.69 z " clip-path="url(#p9851077e19)" style="stroke: #000000"/><path d="M 248.71 187.95 L 236.71 187.95 L 235.21 183.15 L 236.71 187.95 z " clip-path="url(#p9851077e19)" style="stroke: #000000"/><path d="M 264.75 185.9 L 253.47 190 L 250.41 186 L 253.47 190 z " clip-path="url(#p9851077e19)" style="stroke: #000000"/><path d="M 281.14 185.9 L 269.86 190 L 266.81 186 L 269.86 190 z " clip-path="url(#p9851077e19)" style="stroke: #000000"/><path d="M 297.09 184.95 L 286.7 190.95 L 283 187.54 L 286.7 190.95 z " clip-path="url(#p9851077e19)" style="stroke: #000000"/><path d="M 311.73 183.03 L 304.85 192.87 L 306.14 191.02 L 303.74 190.26 L 306.14 191.02 z " clip-path="url(#p9851077e19)" style="stroke: #000000"/><path d="M 325.21 181.97 L 324.16 193.93 L 324.36 191.69 L 321.9 192.22 L 324.36 191.69 z " clip-path="url(#p9851077e19)" style="stroke: #000000"/><path d="M 344.08 182.75 L 338.08 193.15 L 333.17 192.05 L 338.08 193.15 z " clip-path="url(#p9851077e19)" style="stroke: #000000"/><path d="M 362.07 184.09 L 352.87 191.81 L 354.6 190.36 L 352.48 189 L 354.6 190.36 z " clip-path="url(#p9851077e19)" style="stroke: #000000"/><path d="M 379.85 187.43 L 367.89 188.47 L 365.97 183.82 L 367.89 188.47 z " clip-path="url(#p9851077e19)" style="stroke: #000000"/><path d="M 396.26 187.95 L 384.26 187.95 L 382.76 183.15 L 384.26 187.95 L 385.76 187.95 L 384.26 183.15 L 385.76 187.95 z " clip-path="url(#p9851077e19)" style="stroke: #000000"/><path d="M 412.66 187.95 L 400.65 187.95 L 399.15 183.15 L 400.65 187.95 L 402.15 187.95 L 401.4 185.55 L 402.15 187.95 z " clip-path="url(#p9851077e19)" style="stroke: #000000"/><path d="M 429.05 187.95 L 417.05 187.95 L 415.55 183.15 L 417.05 187.95 L 418.55 187.95 L 417.05 183.15 L 418.55 187.95 z " clip-path="url(#p9851077e19)" style="stroke: #000000"/><path d="M 445.44 187.74 L 433.45 188.16 L 431.78 183.41 L 433.45 188.16 L 434.95 188.11 L 433.28 183.36 L 434.95 188.11 L 436.45 188.05 L 435.61 185.68 L 436.45 188.05 z " clip-path="url(#p9851077e19)" style="stroke: #000000"/><path d="M 461.84 187.95 L 449.84 187.95 L 448.34 183.15 L 449.84 187.95 L 451.34 187.95 L 449.84 183.15 L 451.34 187.95 z " clip-path="url(#p9851077e19)" style="stroke: #000000"/><path d="M 478.14 188.99 L 466.32 186.91 L 465.68 181.92 L 466.32 186.91 L 467.8 187.17 L 467.48 184.67 L 467.8 187.17 z " clip-path="url(#p9851077e19)" style="stroke: #000000"/><path d="M 493.54 191.39 L 483.71 184.51 L 485.55 185.8 L 486.32 183.4 L 485.55 185.8 z " clip-path="url(#p9851077e19)" style="stroke: #000000"/><path d="M 510.82 189.5 L 499.22 186.4 L 499.02 181.37 L 499.22 186.4 z " clip-path="url(#p9851077e19)" style="stroke: #000000"/><path d="M 527.21 189.5 L 515.62 186.4 L 515.41 181.37 L 515.62 186.4 z " clip-path="url(#p9851077e19)" style="stroke: #000000"/><path d="M 543.25 190.49 L 532.37 185.41 L 533.04 180.43 L 532.37 185.41 z " clip-path="url(#p9851077e19)" style="stroke: #000000"/><path d="M 559.95 189.7 L 548.47 186.19 L 550.62 186.85 L 550.6 184.34 L 550.62 186.85 z " clip-path="url(#p9851077e19)" style="stroke: #000000"/><path d="M 576.6 187.95 L 564.6 187.95 L 566.85 187.95 L 566.1 185.55 L 566.85 187.95 z " clip-path="url(#p9851077e19)" style="stroke: #000000"/><path d="M 593 187.95 L 580.99 187.95 L 583.24 187.95 L 582.49 185.55 L 583.24 187.95 z " clip-path="url(#p9851077e19)" style="stroke: #000000"/><path d="M 609.39 187.95 L 597.39 187.95 L 599.64 187.95 L 598.89 185.55 L 599.64 187.95 z " clip-path="url(#p9851077e19)" style="stroke: #000000"/><path d="M 625.79 187.95 L 613.78 187.95 L 616.03 187.95 L 615.28 185.55 L 616.03 187.95 z " clip-path="url(#p9851077e19)" style="stroke: #000000"/><path d="M 641.82 185.9 L 630.54 190 L 632.65 189.23 L 631.13 187.23 L 632.65 189.23 z " clip-path="url(#p9851077e19)" style="stroke: #000000"/><path d="M 658.37 186.4 L 646.77 189.5 L 648.95 188.92 L 647.6 186.79 L 648.95 188.92 z " clip-path="url(#p9851077e19)" style="stroke: #000000"/><path d="M 674.82 186.6 L 663.12 189.3 L 665.31 188.79 L 664.04 186.62 L 665.31 188.79 z " clip-path="url(#p9851077e19)" style="stroke: #000000"/><path d="M 691.16 186.4 L 679.56 189.5 L 681.74 188.92 L 680.39 186.79 L 681.74 188.92 z " clip-path="url(#p9851077e19)" style="stroke: #000000"/><path d="M 706.67 184.51 L 696.84 191.39 L 698.68 190.1 L 696.69 188.56 L 698.68 190.1 z " clip-path="url(#p9851077e19)" style="stroke: #000000"/><path d="M 720.2 182.31 L 716.1 193.59 L 716.87 191.47 L 714.35 191.36 L 716.87 191.47 z " clip-path="url(#p9851077e19)" style="stroke: #000000"/><path d="M 737.99 183.03 L 731.1 192.87 L 732.39 191.02 L 730 190.26 L 732.39 191.02 z " clip-path="url(#p9851077e19)" style="stroke: #000000"/><path d="M 84.77 212.49 L 72.77 212.49 L 75.02 212.49 L 74.27 210.09 L 75.02 212.49 z " clip-path="url(#p9851077e19)" style="stroke: #000000"/><path d="M 97.7 207.05 L 92.63 217.93 L 93.58 215.89 L 91.08 215.56 L 93.58 215.89 z " clip-path="url(#p9851077e19)" style="stroke: #000000"/><path d="M 113.61 206.85 L 109.5 218.13 L 110.27 216.02 L 107.76 215.9 L 110.27 216.02 z " clip-path="url(#p9851077e19)" style="stroke: #000000"/><path d="M 130.49 207.05 L 125.41 217.93 L 126.37 215.89 L 123.87 215.56 L 126.37 215.89 z " clip-path="url(#p9851077e19)" style="stroke: #000000"/><path d="M 149.26 209.05 L 139.43 215.94 L 141.27 214.65 L 139.28 213.11 L 141.27 214.65 z " clip-path="url(#p9851077e19)" style="stroke: #000000"/><path d="M 165.94 209.49 L 155.54 215.49 L 157.49 214.37 L 155.64 212.67 L 157.49 214.37 z " clip-path="url(#p9851077e19)" style="stroke: #000000"/><path d="M 181.73 208.64 L 172.54 216.35 L 174.26 214.91 L 172.14 213.55 L 174.26 214.91 z " clip-path="url(#p9851077e19)" style="stroke: #000000"/><path d="M 193.53 210.69 L 192.97 210.78 L 192.47 211.04 L 192.07 211.44 L 191.82 211.94 L 191.73 212.49 L 191.82 213.05 L 192.07 213.55 L 192.47 213.95 L 192.97 214.21 L 193.53 214.29 L 194.09 214.21 L 194.59 213.95 L 194.99 213.55 L 195.24 213.05 L 195.33 212.49 L 195.24 211.94 L 194.99 211.44 L 194.59 211.04 L 194.09 210.78 L 193.53 210.69 L 193.53 210.69 L 194.09 210.78 L 194.59 211.04 L 194.99 211.44 L 195.24 211.94 L 195.33 212.49 L 195.24 213.05 L 194.99 213.55 L 194.59 213.95 L 194.09 214.21 L 193.53 214.29 L 192.97 214.21 L 192.47 213.95 L 192.07 213.55 L 191.82 213.05 L 191.73 212.49 L 191.82 211.94 L 192.07 211.44 L 192.47 211.04 L 192.97 210.78 L 193.53 210.69 z " clip-path="url(#p9851077e19)" style="stroke: #000000"/><path d="M 206.48 207.58 L 213.37 217.41 L 212.08 215.57 L 210.54 217.56 L 212.08 215.57 z " clip-path="url(#p9851077e19)" style="stroke: #000000"/><path d="M 224.76 206.7 L 227.87 218.29 L 227.29 216.12 L 225.16 217.46 L 227.29 216.12 z " clip-path="url(#p9851077e19)" style="stroke: #000000"/><path d="M 248.62 211.45 L 236.8 213.54 L 239.02 213.15 L 237.86 210.91 L 239.02 213.15 z " clip-path="url(#p9851077e19)" style="stroke: #000000"/><path d="M 264.75 210.44 L 253.47 214.55 L 250.41 210.55 L 253.47 214.55 z " clip-path="url(#p9851077e19)" style="stroke: #000000"/><path d="M 281.14 210.44 L 269.86 214.55 L 266.81 210.55 L 269.86 214.55 z " clip-path="url(#p9851077e19)" style="stroke: #000000"/><path d="M 297.09 209.49 L 286.7 215.49 L 283 212.09 L 286.7 215.49 z " clip-path="url(#p9851077e19)" style="stroke: #000000"/><path d="M 309.84 206.7 L 306.74 218.29 L 307.32 216.12 L 304.81 216.22 L 307.32 216.12 z " clip-path="url(#p9851077e19)" style="stroke: #000000"/><path d="M 324.16 206.51 L 325.21 218.47 L 325.01 216.23 L 322.68 217.19 L 325.01 216.23 z " clip-path="url(#p9851077e19)" style="stroke: #000000"/><path d="M 343.13 206.85 L 339.03 218.13 L 334 217.9 L 339.03 218.13 z " clip-path="url(#p9851077e19)" style="stroke: #000000"/><path d="M 363.27 210.94 L 351.67 214.05 L 353.85 213.46 L 352.5 211.34 L 353.85 213.46 z " clip-path="url(#p9851077e19)" style="stroke: #000000"/><path d="M 379.85 213.02 L 367.89 211.97 L 366.81 207.06 L 367.89 211.97 z " clip-path="url(#p9851077e19)" style="stroke: #000000"/><path d="M 396.06 214.05 L 384.46 210.94 L 384.26 205.91 L 384.46 210.94 L 385.91 211.33 L 385.81 208.82 L 385.91 211.33 z " clip-path="url(#p9851077e19)" style="stroke: #000000"/><path d="M 412.65 212.7 L 400.66 212.28 L 399.33 207.43 L 400.66 212.28 L 402.16 212.34 L 401.49 209.91 L 402.16 212.34 z " clip-path="url(#p9851077e19)" style="stroke: #000000"/><path d="M 429.05 212.49 L 417.05 212.49 L 415.55 207.69 L 417.05 212.49 L 418.55 212.49 L 417.05 207.69 L 418.55 212.49 z " clip-path="url(#p9851077e19)" style="stroke: #000000"/><path d="M 445.45 212.49 L 433.44 212.49 L 431.94 207.69 L 433.44 212.49 L 434.94 212.49 L 433.44 207.69 L 434.94 212.49 z " clip-path="url(#p9851077e19)" style="stroke: #000000"/><path d="M 461.75 213.54 L 449.93 211.45 L 449.28 206.46 L 449.93 211.45 L 451.41 211.71 L 450.76 206.72 L 451.41 211.71 z " clip-path="url(#p9851077e19)" style="stroke: #000000"/><path d="M 477.87 214.55 L 466.59 210.44 L 466.83 205.41 L 466.59 210.44 L 468 210.95 L 468.12 208.44 L 468 210.95 z " clip-path="url(#p9851077e19)" style="stroke: #000000"/><path d="M 494.43 214.05 L 482.83 210.94 L 482.62 205.91 L 482.83 210.94 z " clip-path="url(#p9851077e19)" style="stroke: #000000"/><path d="M 511.02 212.7 L 499.02 212.28 L 497.69 207.43 L 499.02 212.28 z " clip-path="url(#p9851077e19)" style="stroke: #000000"/><path d="M 527.36 211.66 L 515.47 213.33 L 513.32 208.78 L 515.47 213.33 z " clip-path="url(#p9851077e19)" style="stroke: #000000"/><path d="M 543.25 215.03 L 532.37 209.96 L 533.04 204.97 L 532.37 209.96 z " clip-path="url(#p9851077e19)" style="stroke: #000000"/><path d="M 559.4 215.49 L 549.01 209.49 L 550.96 210.62 L 551.51 208.16 L 550.96 210.62 z " clip-path="url(#p9851077e19)" style="stroke: #000000"/><path d="M 576.59 212.07 L 564.61 212.91 L 566.86 212.76 L 565.94 210.41 L 566.86 212.76 z " clip-path="url(#p9851077e19)" style="stroke: #000000"/><path d="M 593 212.49 L 580.99 212.49 L 583.24 212.49 L 582.49 210.09 L 583.24 212.49 z " clip-path="url(#p9851077e19)" style="stroke: #000000"/><path d="M 609.39 212.49 L 597.39 212.49 L 599.64 212.49 L 598.89 210.09 L 599.64 212.49 z " clip-path="url(#p9851077e19)" style="stroke: #000000"/><path d="M 625.65 211.25 L 613.91 213.74 L 616.11 213.27 L 614.88 211.08 L 616.11 213.27 z " clip-path="url(#p9851077e19)" style="stroke: #000000"/><path d="M 641.82 210.44 L 630.54 214.55 L 632.65 213.78 L 631.13 211.78 L 632.65 213.78 z " clip-path="url(#p9851077e19)" style="stroke: #000000"/><path d="M 658.31 210.74 L 646.83 214.25 L 648.98 213.59 L 647.56 211.51 L 648.98 213.59 z " clip-path="url(#p9851077e19)" style="stroke: #000000"/><path d="M 674.95 211.97 L 662.99 213.02 L 665.23 212.82 L 664.27 210.49 L 665.23 212.82 z " clip-path="url(#p9851077e19)" style="stroke: #000000"/><path d="M 691.34 211.97 L 679.38 213.02 L 681.62 212.82 L 680.67 210.49 L 681.62 212.82 z " clip-path="url(#p9851077e19)" style="stroke: #000000"/><path d="M 706.22 208.48 L 697.29 216.51 L 698.97 215 L 696.8 213.72 L 698.97 215 z " clip-path="url(#p9851077e19)" style="stroke: #000000"/><path d="M 717.31 206.55 L 718.98 218.44 L 718.67 216.21 L 716.4 217.29 L 718.67 216.21 z " clip-path="url(#p9851077e19)" style="stroke: #000000"/><path d="M 734.54 206.49 L 734.54 218.5 L 734.54 216.25 L 732.14 217 L 734.54 216.25 z " clip-path="url(#p9851077e19)" style="stroke: #000000"/><path d="M 84.77 224.77 L 72.77 224.77 L 75.02 224.77 L 74.27 222.37 L 75.02 224.77 z " clip-path="url(#p9851077e19)" style="stroke: #000000"/><path d="M 98.16 219.57 L 92.16 229.96 L 93.29 228.01 L 90.83 227.46 L 93.29 228.01 z " clip-path="url(#p9851077e19)" style="stroke: #000000"/><path d="M 114.56 219.57 L 108.56 229.96 L 109.68 228.01 L 107.23 227.46 L 109.68 228.01 z " clip-path="url(#p9851077e19)" style="stroke: #000000"/><path d="M 130.49 219.33 L 125.41 230.21 L 126.37 228.17 L 123.87 227.83 L 126.37 228.17 z " clip-path="url(#p9851077e19)" style="stroke: #000000"/><path d="M 147.35 219.57 L 141.34 229.96 L 142.47 228.01 L 140.02 227.46 L 142.47 228.01 z " clip-path="url(#p9851077e19)" style="stroke: #000000"/><path d="M 164.18 219.85 L 157.3 229.68 L 158.59 227.84 L 156.19 227.08 L 158.59 227.84 z " clip-path="url(#p9851077e19)" style="stroke: #000000"/><path d="M 180.58 219.85 L 173.69 229.68 L 174.98 227.84 L 172.59 227.08 L 174.98 227.84 z " clip-path="url(#p9851077e19)" style="stroke: #000000"/><path d="M 198.13 220.91 L 188.93 228.62 L 190.65 227.18 L 188.54 225.82 L 190.65 227.18 z " clip-path="url(#p9851077e19)" style="stroke: #000000"/><path d="M 206.92 219.57 L 212.92 229.96 L 211.8 228.01 L 210.09 229.87 L 211.8 228.01 z " clip-path="url(#p9851077e19)" style="stroke: #000000"/><path d="M 224.26 219.13 L 228.37 230.41 L 227.6 228.29 L 225.6 229.82 L 227.6 228.29 z " clip-path="url(#p9851077e19)" style="stroke: #000000"/><path d="M 248.62 223.72 L 236.8 225.81 L 239.02 225.42 L 237.86 223.18 L 239.02 225.42 z " clip-path="url(#p9851077e19)" style="stroke: #000000"/><path d="M 264.9 223.21 L 253.31 226.32 L 250.62 222.07 L 253.31 226.32 z " clip-path="url(#p9851077e19)" style="stroke: #000000"/><path d="M 281.5 224.98 L 269.5 224.56 L 268.17 219.71 L 269.5 224.56 z " clip-path="url(#p9851077e19)" style="stroke: #000000"/><path d="M 297.84 223.93 L 285.95 225.6 L 283.8 221.05 L 285.95 225.6 z " clip-path="url(#p9851077e19)" style="stroke: #000000"/><path d="M 311.99 220.04 L 304.59 229.5 L 305.98 227.72 L 303.63 226.84 L 305.98 227.72 z " clip-path="url(#p9851077e19)" style="stroke: #000000"/><path d="M 325.73 218.85 L 323.64 230.68 L 324.03 228.46 L 321.54 228.78 L 324.03 228.46 z " clip-path="url(#p9851077e19)" style="stroke: #000000"/><path d="M 340.87 218.77 L 341.29 230.76 L 341.21 228.52 L 338.84 229.35 L 341.21 228.52 z " clip-path="url(#p9851077e19)" style="stroke: #000000"/><path d="M 363.21 223.01 L 351.73 226.52 L 353.89 225.86 L 352.47 223.79 L 353.89 225.86 z " clip-path="url(#p9851077e19)" style="stroke: #000000"/><path d="M 379.78 225.81 L 367.96 223.72 L 367.31 218.73 L 367.96 223.72 z " clip-path="url(#p9851077e19)" style="stroke: #000000"/><path d="M 396.17 225.81 L 384.35 223.72 L 383.71 218.73 L 384.35 223.72 L 385.83 223.98 L 385.51 221.49 L 385.83 223.98 z " clip-path="url(#p9851077e19)" style="stroke: #000000"/><path d="M 412.65 224.98 L 400.66 224.56 L 399.33 219.71 L 400.66 224.56 L 402.16 224.61 L 401.49 222.18 L 402.16 224.61 z " clip-path="url(#p9851077e19)" style="stroke: #000000"/><path d="M 429.05 224.77 L 417.05 224.77 L 415.55 219.96 L 417.05 224.77 L 418.55 224.77 L 417.05 219.96 L 418.55 224.77 z " clip-path="url(#p9851077e19)" style="stroke: #000000"/><path d="M 445.45 224.77 L 433.44 224.77 L 431.94 219.96 L 433.44 224.77 L 434.94 224.77 L 433.44 219.96 L 434.94 224.77 z " clip-path="url(#p9851077e19)" style="stroke: #000000"/><path d="M 461.75 225.81 L 449.93 223.72 L 449.28 218.73 L 449.93 223.72 L 451.41 223.98 L 450.76 218.99 L 451.41 223.98 z " clip-path="url(#p9851077e19)" style="stroke: #000000"/><path d="M 477.94 226.62 L 466.52 222.91 L 466.58 217.88 L 466.52 222.91 L 467.95 223.37 L 467.98 220.86 L 467.95 223.37 z " clip-path="url(#p9851077e19)" style="stroke: #000000"/><path d="M 494.61 225.29 L 482.65 224.24 L 481.57 219.33 L 482.65 224.24 L 484.14 224.37 L 483.61 221.92 L 484.14 224.37 z " clip-path="url(#p9851077e19)" style="stroke: #000000"/><path d="M 511 224.24 L 499.04 225.29 L 497.13 220.64 L 499.04 225.29 z " clip-path="url(#p9851077e19)" style="stroke: #000000"/><path d="M 527.29 223.52 L 515.55 226.01 L 513.08 221.63 L 515.55 226.01 z " clip-path="url(#p9851077e19)" style="stroke: #000000"/><path d="M 543.72 225.81 L 531.9 223.72 L 531.26 218.73 L 531.9 223.72 z " clip-path="url(#p9851077e19)" style="stroke: #000000"/><path d="M 560 226.32 L 548.41 223.21 L 550.58 223.8 L 550.48 221.28 L 550.58 223.8 z " clip-path="url(#p9851077e19)" style="stroke: #000000"/><path d="M 576.45 223.42 L 564.75 226.12 L 566.94 225.61 L 565.67 223.44 L 566.94 225.61 z " clip-path="url(#p9851077e19)" style="stroke: #000000"/><path d="M 592.97 224.24 L 581.01 225.29 L 583.26 225.09 L 582.3 222.77 L 583.26 225.09 z " clip-path="url(#p9851077e19)" style="stroke: #000000"/><path d="M 609.3 223.72 L 597.48 225.81 L 599.69 225.42 L 598.54 223.18 L 599.69 225.42 z " clip-path="url(#p9851077e19)" style="stroke: #000000"/><path d="M 625.27 222.32 L 614.3 227.21 L 616.36 226.29 L 614.69 224.4 L 616.36 226.29 z " clip-path="url(#p9851077e19)" style="stroke: #000000"/><path d="M 641.92 223.01 L 630.44 226.52 L 632.59 225.86 L 631.17 223.79 L 632.59 225.86 z " clip-path="url(#p9851077e19)" style="stroke: #000000"/><path d="M 658.37 223.21 L 646.77 226.32 L 648.95 225.74 L 647.6 223.61 L 648.95 225.74 z " clip-path="url(#p9851077e19)" style="stroke: #000000"/><path d="M 674.82 223.42 L 663.12 226.12 L 665.31 225.61 L 664.04 223.44 L 665.31 225.61 z " clip-path="url(#p9851077e19)" style="stroke: #000000"/><path d="M 691.21 223.42 L 679.51 226.12 L 681.71 225.61 L 680.43 223.44 L 681.71 225.61 z " clip-path="url(#p9851077e19)" style="stroke: #000000"/><path d="M 701.76 222.97 L 701.2 223.05 L 700.7 223.31 L 700.3 223.71 L 700.04 224.21 L 699.95 224.77 L 700.04 225.32 L 700.3 225.82 L 700.7 226.22 L 701.2 226.48 L 701.76 226.57 L 702.31 226.48 L 702.81 226.22 L 703.21 225.82 L 703.47 225.32 L 703.56 224.77 L 703.47 224.21 L 703.21 223.71 L 702.81 223.31 L 702.31 223.05 L 701.76 222.97 L 701.76 222.97 L 702.31 223.05 L 702.81 223.31 L 703.21 223.71 L 703.47 224.21 L 703.56 224.77 L 703.47 225.32 L 703.21 225.82 L 702.81 226.22 L 702.31 226.48 L 701.76 226.57 L 701.2 226.48 L 700.7 226.22 L 700.3 225.82 L 700.04 225.32 L 699.95 224.77 L 700.04 224.21 L 700.3 223.71 L 700.7 223.31 L 701.2 223.05 L 701.76 222.97 z " clip-path="url(#p9851077e19)" style="stroke: #000000"/><path d="M 714.71 219.85 L 721.59 229.68 L 720.3 227.84 L 718.76 229.83 L 720.3 227.84 z " clip-path="url(#p9851077e19)" style="stroke: #000000"/><path d="M 732.3 219.2 L 736.79 230.33 L 735.95 228.24 L 734 229.84 L 735.95 228.24 z " clip-path="url(#p9851077e19)" style="stroke: #000000"/><path d="M 84.21 234.5 L 73.33 239.58 L 75.37 238.62 L 73.67 236.76 L 75.37 238.62 z " clip-path="url(#p9851077e19)" style="stroke: #000000"/><path d="M 99.41 232.79 L 90.92 241.28 L 92.51 239.69 L 90.28 238.52 L 92.51 239.69 z " clip-path="url(#p9851077e19)" style="stroke: #000000"/><path d="M 111.56 235.24 L 111 235.33 L 110.5 235.58 L 110.1 235.98 L 109.84 236.48 L 109.76 237.04 L 109.84 237.59 L 110.1 238.1 L 110.5 238.5 L 111 238.75 L 111.56 238.84 L 112.11 238.75 L 112.62 238.5 L 113.01 238.1 L 113.27 237.59 L 113.36 237.04 L 113.27 236.48 L 113.01 235.98 L 112.62 235.58 L 112.11 235.33 L 111.56 235.24 L 111.56 235.24 L 112.11 235.33 L 112.62 235.58 L 113.01 235.98 L 113.27 236.48 L 113.36 237.04 L 113.27 237.59 L 113.01 238.1 L 112.62 238.5 L 112.11 238.75 L 111.56 238.84 L 111 238.75 L 110.5 238.5 L 110.1 238.1 L 109.84 237.59 L 109.76 237.04 L 109.84 236.48 L 110.1 235.98 L 110.5 235.58 L 111 235.33 L 111.56 235.24 z " clip-path="url(#p9851077e19)" style="stroke: #000000"/><path d="M 128.99 231.13 L 126.91 242.95 L 127.3 240.73 L 124.8 241.05 L 127.3 240.73 z " clip-path="url(#p9851077e19)" style="stroke: #000000"/><path d="M 144.35 235.24 L 143.79 235.33 L 143.29 235.58 L 142.89 235.98 L 142.63 236.48 L 142.54 237.04 L 142.63 237.59 L 142.89 238.1 L 143.29 238.5 L 143.79 238.75 L 144.35 238.84 L 144.9 238.75 L 145.4 238.5 L 145.8 238.1 L 146.06 237.59 L 146.15 237.04 L 146.06 236.48 L 145.8 235.98 L 145.4 235.58 L 144.9 235.33 L 144.35 235.24 L 144.35 235.24 L 144.9 235.33 L 145.4 235.58 L 145.8 235.98 L 146.06 236.48 L 146.15 237.04 L 146.06 237.59 L 145.8 238.1 L 145.4 238.5 L 144.9 238.75 L 144.35 238.84 L 143.79 238.75 L 143.29 238.5 L 142.89 238.1 L 142.63 237.59 L 142.54 237.04 L 142.63 236.48 L 142.89 235.98 L 143.29 235.58 L 143.79 235.33 L 144.35 235.24 z " clip-path="url(#p9851077e19)" style="stroke: #000000"/><path d="M 161.78 231.13 L 159.7 242.95 L 160.09 240.73 L 157.59 241.05 L 160.09 240.73 z " clip-path="url(#p9851077e19)" style="stroke: #000000"/><path d="M 179.67 231.6 L 174.6 242.48 L 175.55 240.44 L 173.06 240.1 L 175.55 240.44 z " clip-path="url(#p9851077e19)" style="stroke: #000000"/><path d="M 193.53 235.24 L 192.97 235.33 L 192.47 235.58 L 192.07 235.98 L 191.82 236.48 L 191.73 237.04 L 191.82 237.59 L 192.07 238.1 L 192.47 238.5 L 192.97 238.75 L 193.53 238.84 L 194.09 238.75 L 194.59 238.5 L 194.99 238.1 L 195.24 237.59 L 195.33 237.04 L 195.24 236.48 L 194.99 235.98 L 194.59 235.58 L 194.09 235.33 L 193.53 235.24 L 193.53 235.24 L 194.09 235.33 L 194.59 235.58 L 194.99 235.98 L 195.24 236.48 L 195.33 237.04 L 195.24 237.59 L 194.99 238.1 L 194.59 238.5 L 194.09 238.75 L 193.53 238.84 L 192.97 238.75 L 192.47 238.5 L 192.07 238.1 L 191.82 237.59 L 191.73 237.04 L 191.82 236.48 L 192.07 235.98 L 192.47 235.58 L 192.97 235.33 L 193.53 235.24 z " clip-path="url(#p9851077e19)" style="stroke: #000000"/><path d="M 206.92 231.84 L 212.92 242.24 L 211.8 240.29 L 210.09 242.14 L 211.8 240.29 z " clip-path="url(#p9851077e19)" style="stroke: #000000"/><path d="M 224.76 231.24 L 227.87 242.84 L 227.29 240.66 L 225.16 242.01 L 227.29 240.66 z " clip-path="url(#p9851077e19)" style="stroke: #000000"/><path d="M 248.15 234.5 L 237.27 239.58 L 239.31 238.62 L 237.62 236.76 L 239.31 238.62 z " clip-path="url(#p9851077e19)" style="stroke: #000000"/><path d="M 265.11 237.04 L 253.1 237.04 L 255.35 237.04 L 254.6 234.64 L 255.35 237.04 z " clip-path="url(#p9851077e19)" style="stroke: #000000"/><path d="M 281.5 237.04 L 269.5 237.04 L 268 232.24 L 269.5 237.04 z " clip-path="url(#p9851077e19)" style="stroke: #000000"/><path d="M 297.9 237.04 L 285.89 237.04 L 284.39 232.24 L 285.89 237.04 z " clip-path="url(#p9851077e19)" style="stroke: #000000"/><path d="M 314 235.18 L 302.58 238.89 L 304.72 238.2 L 303.27 236.15 L 304.72 238.2 z " clip-path="url(#p9851077e19)" style="stroke: #000000"/><path d="M 330.32 234.99 L 319.04 239.09 L 321.16 238.32 L 319.63 236.32 L 321.16 238.32 z " clip-path="url(#p9851077e19)" style="stroke: #000000"/><path d="M 338.08 231.84 L 344.08 242.24 L 342.95 240.29 L 341.25 242.14 L 342.95 240.29 z " clip-path="url(#p9851077e19)" style="stroke: #000000"/><path d="M 363.48 237.04 L 351.47 237.04 L 353.72 237.04 L 352.97 234.64 L 353.72 237.04 z " clip-path="url(#p9851077e19)" style="stroke: #000000"/><path d="M 379.87 237.04 L 367.86 237.04 L 366.36 232.24 L 367.86 237.04 L 369.37 237.04 L 368.62 234.64 L 369.37 237.04 z " clip-path="url(#p9851077e19)" style="stroke: #000000"/><path d="M 396.17 238.08 L 384.35 236 L 383.71 231.01 L 384.35 236 z " clip-path="url(#p9851077e19)" style="stroke: #000000"/><path d="M 412.65 237.25 L 400.66 236.83 L 399.33 231.98 L 400.66 236.83 z " clip-path="url(#p9851077e19)" style="stroke: #000000"/><path d="M 429.05 237.04 L 417.05 237.04 L 415.55 232.24 L 417.05 237.04 L 418.55 237.04 L 417.05 232.24 L 418.55 237.04 z " clip-path="url(#p9851077e19)" style="stroke: #000000"/><path d="M 445.45 237.04 L 433.44 237.04 L 431.94 232.24 L 433.44 237.04 L 434.94 237.04 L 433.44 232.24 L 434.94 237.04 z " clip-path="url(#p9851077e19)" style="stroke: #000000"/><path d="M 461.82 237.56 L 449.86 236.52 L 448.78 231.6 L 449.86 236.52 L 451.35 236.65 L 450.28 231.73 L 451.35 236.65 z " clip-path="url(#p9851077e19)" style="stroke: #000000"/><path d="M 478.18 237.87 L 466.29 236.2 L 465.47 231.24 L 466.29 236.2 L 467.78 236.41 L 467.37 233.93 L 467.78 236.41 z " clip-path="url(#p9851077e19)" style="stroke: #000000"/><path d="M 494.61 237.56 L 482.65 236.52 L 481.57 231.6 L 482.65 236.52 L 484.14 236.65 L 483.61 234.19 L 484.14 236.65 z " clip-path="url(#p9851077e19)" style="stroke: #000000"/><path d="M 511.02 237.25 L 499.02 236.83 L 497.69 231.98 L 499.02 236.83 z " clip-path="url(#p9851077e19)" style="stroke: #000000"/><path d="M 527.42 237.04 L 515.41 237.04 L 513.91 232.24 L 515.41 237.04 z " clip-path="url(#p9851077e19)" style="stroke: #000000"/><path d="M 543.79 237.56 L 531.83 236.52 L 530.76 231.6 L 531.83 236.52 z " clip-path="url(#p9851077e19)" style="stroke: #000000"/><path d="M 560.21 237.04 L 548.2 237.04 L 550.45 237.04 L 549.7 234.64 L 550.45 237.04 z " clip-path="url(#p9851077e19)" style="stroke: #000000"/><path d="M 576.24 234.99 L 564.96 239.09 L 567.07 238.32 L 565.55 236.32 L 567.07 238.32 z " clip-path="url(#p9851077e19)" style="stroke: #000000"/><path d="M 593 237.04 L 580.99 237.04 L 583.24 237.04 L 582.49 234.64 L 583.24 237.04 z " clip-path="url(#p9851077e19)" style="stroke: #000000"/><path d="M 608.83 234.5 L 597.95 239.58 L 599.99 238.62 L 598.29 236.76 L 599.99 238.62 z " clip-path="url(#p9851077e19)" style="stroke: #000000"/><path d="M 624.38 233.18 L 615.19 240.9 L 616.91 239.45 L 614.79 238.09 L 616.91 239.45 z " clip-path="url(#p9851077e19)" style="stroke: #000000"/><path d="M 641.62 234.5 L 630.74 239.58 L 632.78 238.62 L 631.08 236.76 L 632.78 238.62 z " clip-path="url(#p9851077e19)" style="stroke: #000000"/><path d="M 658.21 234.99 L 646.93 239.09 L 649.05 238.32 L 647.52 236.32 L 649.05 238.32 z " clip-path="url(#p9851077e19)" style="stroke: #000000"/><path d="M 673.88 233.6 L 664.05 240.48 L 665.89 239.19 L 663.9 237.65 L 665.89 239.19 z " clip-path="url(#p9851077e19)" style="stroke: #000000"/><path d="M 685.36 235.24 L 684.8 235.33 L 684.3 235.58 L 683.9 235.98 L 683.65 236.48 L 683.56 237.04 L 683.65 237.59 L 683.9 238.1 L 684.3 238.5 L 684.8 238.75 L 685.36 238.84 L 685.92 238.75 L 686.42 238.5 L 686.82 238.1 L 687.07 237.59 L 687.16 237.04 L 687.07 236.48 L 686.82 235.98 L 686.42 235.58 L 685.92 235.33 L 685.36 235.24 L 685.36 235.24 L 685.92 235.33 L 686.42 235.58 L 686.82 235.98 L 687.07 236.48 L 687.16 237.04 L 687.07 237.59 L 686.82 238.1 L 686.42 238.5 L 685.92 238.75 L 685.36 238.84 L 684.8 238.75 L 684.3 238.5 L 683.9 238.1 L 683.65 237.59 L 683.56 237.04 L 683.65 236.48 L 683.9 235.98 L 684.3 235.58 L 684.8 235.33 L 685.36 235.24 z " clip-path="url(#p9851077e19)" style="stroke: #000000"/><path d="M 701.76 235.24 L 701.2 235.33 L 700.7 235.58 L 700.3 235.98 L 700.04 236.48 L 699.95 237.04 L 700.04 237.59 L 700.3 238.1 L 700.7 238.5 L 701.2 238.75 L 701.76 238.84 L 702.31 238.75 L 702.81 238.5 L 703.21 238.1 L 703.47 237.59 L 703.56 237.04 L 703.47 236.48 L 703.21 235.98 L 702.81 235.58 L 702.31 235.33 L 701.76 235.24 L 701.76 235.24 L 702.31 235.33 L 702.81 235.58 L 703.21 235.98 L 703.47 236.48 L 703.56 237.04 L 703.47 237.59 L 703.21 238.1 L 702.81 238.5 L 702.31 238.75 L 701.76 238.84 L 701.2 238.75 L 700.7 238.5 L 700.3 238.1 L 700.04 237.59 L 699.95 237.04 L 700.04 236.48 L 700.3 235.98 L 700.7 235.58 L 701.2 235.33 L 701.76 235.24 z " clip-path="url(#p9851077e19)" style="stroke: #000000"/><path d="M 713.55 233.18 L 722.75 240.9 L 721.02 239.45 L 720.05 241.77 L 721.02 239.45 z " clip-path="url(#p9851077e19)" style="stroke: #000000"/><path d="M 730.85 232.31 L 738.24 241.77 L 736.85 239.99 L 735.42 242.06 L 736.85 239.99 z " clip-path="url(#p9851077e19)" style="stroke: #000000"/><path d="M 83.37 245.45 L 74.17 253.17 L 75.89 251.72 L 73.78 250.37 L 75.89 251.72 z " clip-path="url(#p9851077e19)" style="stroke: #000000"/><path d="M 100.6 246.77 L 89.72 251.85 L 91.76 250.9 L 90.07 249.04 L 91.76 250.9 z " clip-path="url(#p9851077e19)" style="stroke: #000000"/><path d="M 111.56 247.51 L 111 247.6 L 110.5 247.85 L 110.1 248.25 L 109.84 248.75 L 109.76 249.31 L 109.84 249.87 L 110.1 250.37 L 110.5 250.77 L 111 251.02 L 111.56 251.11 L 112.11 251.02 L 112.62 250.77 L 113.01 250.37 L 113.27 249.87 L 113.36 249.31 L 113.27 248.75 L 113.01 248.25 L 112.62 247.85 L 112.11 247.6 L 111.56 247.51 L 111.56 247.51 L 112.11 247.6 L 112.62 247.85 L 113.01 248.25 L 113.27 248.75 L 113.36 249.31 L 113.27 249.87 L 113.01 250.37 L 112.62 250.77 L 112.11 251.02 L 111.56 251.11 L 111 251.02 L 110.5 250.77 L 110.1 250.37 L 109.84 249.87 L 109.76 249.31 L 109.84 248.75 L 110.1 248.25 L 110.5 247.85 L 111 247.6 L 111.56 247.51 z " clip-path="url(#p9851077e19)" style="stroke: #000000"/><path d="M 127.95 247.51 L 127.39 247.6 L 126.89 247.85 L 126.49 248.25 L 126.24 248.75 L 126.15 249.31 L 126.24 249.87 L 126.49 250.37 L 126.89 250.77 L 127.39 251.02 L 127.95 251.11 L 128.51 251.02 L 129.01 250.77 L 129.41 250.37 L 129.66 249.87 L 129.75 249.31 L 129.66 248.75 L 129.41 248.25 L 129.01 247.85 L 128.51 247.6 L 127.95 247.51 L 127.95 247.51 L 128.51 247.6 L 129.01 247.85 L 129.41 248.25 L 129.66 248.75 L 129.75 249.31 L 129.66 249.87 L 129.41 250.37 L 129.01 250.77 L 128.51 251.02 L 127.95 251.11 L 127.39 251.02 L 126.89 250.77 L 126.49 250.37 L 126.24 249.87 L 126.15 249.31 L 126.24 248.75 L 126.49 248.25 L 126.89 247.85 L 127.39 247.6 L 127.95 247.51 z " clip-path="url(#p9851077e19)" style="stroke: #000000"/><path d="M 144.35 247.51 L 143.79 247.6 L 143.29 247.85 L 142.89 248.25 L 142.63 248.75 L 142.54 249.31 L 142.63 249.87 L 142.89 250.37 L 143.29 250.77 L 143.79 251.02 L 144.35 251.11 L 144.9 251.02 L 145.4 250.77 L 145.8 250.37 L 146.06 249.87 L 146.15 249.31 L 146.06 248.75 L 145.8 248.25 L 145.4 247.85 L 144.9 247.6 L 144.35 247.51 L 144.35 247.51 L 144.9 247.6 L 145.4 247.85 L 145.8 248.25 L 146.06 248.75 L 146.15 249.31 L 146.06 249.87 L 145.8 250.37 L 145.4 250.77 L 144.9 251.02 L 144.35 251.11 L 143.79 251.02 L 143.29 250.77 L 142.89 250.37 L 142.63 249.87 L 142.54 249.31 L 142.63 248.75 L 142.89 248.25 L 143.29 247.85 L 143.79 247.6 L 144.35 247.51 z " clip-path="url(#p9851077e19)" style="stroke: #000000"/><path d="M 160.74 247.51 L 160.18 247.6 L 159.68 247.85 L 159.28 248.25 L 159.03 248.75 L 158.94 249.31 L 159.03 249.87 L 159.28 250.37 L 159.68 250.77 L 160.18 251.02 L 160.74 251.11 L 161.3 251.02 L 161.8 250.77 L 162.2 250.37 L 162.45 249.87 L 162.54 249.31 L 162.45 248.75 L 162.2 248.25 L 161.8 247.85 L 161.3 247.6 L 160.74 247.51 L 160.74 247.51 L 161.3 247.6 L 161.8 247.85 L 162.2 248.25 L 162.45 248.75 L 162.54 249.31 L 162.45 249.87 L 162.2 250.37 L 161.8 250.77 L 161.3 251.02 L 160.74 251.11 L 160.18 251.02 L 159.68 250.77 L 159.28 250.37 L 159.03 249.87 L 158.94 249.31 L 159.03 248.75 L 159.28 248.25 L 159.68 247.85 L 160.18 247.6 L 160.74 247.51 z " clip-path="url(#p9851077e19)" style="stroke: #000000"/><path d="M 177.13 247.51 L 176.58 247.6 L 176.08 247.85 L 175.68 248.25 L 175.42 248.75 L 175.33 249.31 L 175.42 249.87 L 175.68 250.37 L 176.08 250.77 L 176.58 251.02 L 177.13 251.11 L 177.69 251.02 L 178.19 250.77 L 178.59 250.37 L 178.85 249.87 L 178.94 249.31 L 178.85 248.75 L 178.59 248.25 L 178.19 247.85 L 177.69 247.6 L 177.13 247.51 L 177.13 247.51 L 177.69 247.6 L 178.19 247.85 L 178.59 248.25 L 178.85 248.75 L 178.94 249.31 L 178.85 249.87 L 178.59 250.37 L 178.19 250.77 L 177.69 251.02 L 177.13 251.11 L 176.58 251.02 L 176.08 250.77 L 175.68 250.37 L 175.42 249.87 L 175.33 249.31 L 175.42 248.75 L 175.68 248.25 L 176.08 247.85 L 176.58 247.6 L 177.13 247.51 z " clip-path="url(#p9851077e19)" style="stroke: #000000"/><path d="M 193.53 247.51 L 192.97 247.6 L 192.47 247.85 L 192.07 248.25 L 191.82 248.75 L 191.73 249.31 L 191.82 249.87 L 192.07 250.37 L 192.47 250.77 L 192.97 251.02 L 193.53 251.11 L 194.09 251.02 L 194.59 250.77 L 194.99 250.37 L 195.24 249.87 L 195.33 249.31 L 195.24 248.75 L 194.99 248.25 L 194.59 247.85 L 194.09 247.6 L 193.53 247.51 L 193.53 247.51 L 194.09 247.6 L 194.59 247.85 L 194.99 248.25 L 195.24 248.75 L 195.33 249.31 L 195.24 249.87 L 194.99 250.37 L 194.59 250.77 L 194.09 251.02 L 193.53 251.11 L 192.97 251.02 L 192.47 250.77 L 192.07 250.37 L 191.82 249.87 L 191.73 249.31 L 191.82 248.75 L 192.07 248.25 L 192.47 247.85 L 192.97 247.6 L 193.53 247.51 z " clip-path="url(#p9851077e19)" style="stroke: #000000"/><path d="M 205.01 245.87 L 214.84 252.75 L 213 251.46 L 212.23 253.86 L 213 251.46 z " clip-path="url(#p9851077e19)" style="stroke: #000000"/><path d="M 224.76 243.51 L 227.87 255.11 L 227.29 252.93 L 225.16 254.28 L 227.29 252.93 z " clip-path="url(#p9851077e19)" style="stroke: #000000"/><path d="M 247.63 245.87 L 237.8 252.75 L 239.64 251.46 L 237.65 249.93 L 239.64 251.46 z " clip-path="url(#p9851077e19)" style="stroke: #000000"/><path d="M 265.02 250.35 L 253.2 248.27 L 255.41 248.66 L 255.09 246.16 L 255.41 248.66 z " clip-path="url(#p9851077e19)" style="stroke: #000000"/><path d="M 281.14 251.36 L 269.86 247.26 L 270.09 242.23 L 269.86 247.26 z " clip-path="url(#p9851077e19)" style="stroke: #000000"/><path d="M 297.69 250.86 L 286.1 247.76 L 285.89 242.73 L 286.1 247.76 z " clip-path="url(#p9851077e19)" style="stroke: #000000"/><path d="M 314.23 250.15 L 302.35 248.48 L 301.53 243.51 L 302.35 248.48 z " clip-path="url(#p9851077e19)" style="stroke: #000000"/><path d="M 330.32 251.36 L 319.04 247.26 L 321.16 248.03 L 321.27 245.51 L 321.16 248.03 z " clip-path="url(#p9851077e19)" style="stroke: #000000"/><path d="M 341.08 247.51 L 340.52 247.6 L 340.02 247.85 L 339.62 248.25 L 339.37 248.75 L 339.28 249.31 L 339.37 249.87 L 339.62 250.37 L 340.02 250.77 L 340.52 251.02 L 341.08 251.11 L 341.63 251.02 L 342.14 250.77 L 342.54 250.37 L 342.79 249.87 L 342.88 249.31 L 342.79 248.75 L 342.54 248.25 L 342.14 247.85 L 341.63 247.6 L 341.08 247.51 L 341.08 247.51 L 341.63 247.6 L 342.14 247.85 L 342.54 248.25 L 342.79 248.75 L 342.88 249.31 L 342.79 249.87 L 342.54 250.37 L 342.14 250.77 L 341.63 251.02 L 341.08 251.11 L 340.52 251.02 L 340.02 250.77 L 339.62 250.37 L 339.37 249.87 L 339.28 249.31 L 339.37 248.75 L 339.62 248.25 L 340.02 247.85 L 340.52 247.6 L 341.08 247.51 z " clip-path="url(#p9851077e19)" style="stroke: #000000"/><path d="M 363.18 251.17 L 351.76 247.46 L 353.9 248.15 L 353.93 245.64 L 353.9 248.15 z " clip-path="url(#p9851077e19)" style="stroke: #000000"/><path d="M 379.58 251.17 L 368.16 247.46 L 368.22 242.43 L 368.16 247.46 L 369.59 247.92 L 369.61 245.4 L 369.59 247.92 z " clip-path="url(#p9851077e19)" style="stroke: #000000"/><path d="M 396.26 249.52 L 384.26 249.1 L 382.93 244.25 L 384.26 249.1 z " clip-path="url(#p9851077e19)" style="stroke: #000000"/><path d="M 412.65 249.52 L 400.66 249.1 L 399.33 244.25 L 400.66 249.1 z " clip-path="url(#p9851077e19)" style="stroke: #000000"/><path d="M 429.05 249.1 L 417.05 249.52 L 415.38 244.77 L 417.05 249.52 L 418.55 249.47 L 416.88 244.72 L 418.55 249.47 z " clip-path="url(#p9851077e19)" style="stroke: #000000"/><path d="M 445.45 249.31 L 433.44 249.31 L 431.94 244.51 L 433.44 249.31 L 434.94 249.31 L 433.44 244.51 L 434.94 249.31 z " clip-path="url(#p9851077e19)" style="stroke: #000000"/><path d="M 461.75 250.35 L 449.93 248.27 L 449.28 243.28 L 449.93 248.27 L 451.41 248.53 L 450.76 243.54 L 451.41 248.53 z " clip-path="url(#p9851077e19)" style="stroke: #000000"/><path d="M 478.23 249.52 L 466.23 249.1 L 464.9 244.25 L 466.23 249.1 L 467.73 249.15 L 467.07 246.73 L 467.73 249.15 z " clip-path="url(#p9851077e19)" style="stroke: #000000"/><path d="M 494.63 249.31 L 482.63 249.31 L 481.12 244.51 L 482.63 249.31 L 484.13 249.31 L 483.38 246.91 L 484.13 249.31 z " clip-path="url(#p9851077e19)" style="stroke: #000000"/><path d="M 511.02 249.31 L 499.02 249.31 L 497.52 244.51 L 499.02 249.31 L 500.52 249.31 L 499.77 246.91 L 500.52 249.31 z " clip-path="url(#p9851077e19)" style="stroke: #000000"/><path d="M 527.4 248.79 L 515.44 249.83 L 513.52 245.18 L 515.44 249.83 z " clip-path="url(#p9851077e19)" style="stroke: #000000"/><path d="M 543.61 247.76 L 532.01 250.86 L 529.32 246.61 L 532.01 250.86 z " clip-path="url(#p9851077e19)" style="stroke: #000000"/><path d="M 560.15 248.48 L 548.26 250.15 L 550.49 249.83 L 549.41 247.56 L 550.49 249.83 z " clip-path="url(#p9851077e19)" style="stroke: #000000"/><path d="M 576.51 248.27 L 564.69 250.35 L 566.91 249.96 L 565.75 247.73 L 566.91 249.96 z " clip-path="url(#p9851077e19)" style="stroke: #000000"/><path d="M 592.73 247.56 L 581.25 251.07 L 583.41 250.41 L 581.99 248.33 L 583.41 250.41 z " clip-path="url(#p9851077e19)" style="stroke: #000000"/><path d="M 608.12 245.62 L 598.66 253.01 L 600.43 251.62 L 598.36 250.19 L 600.43 251.62 z " clip-path="url(#p9851077e19)" style="stroke: #000000"/><path d="M 622.6 244.01 L 616.97 254.61 L 618.02 252.62 L 615.55 252.16 L 618.02 252.62 z " clip-path="url(#p9851077e19)" style="stroke: #000000"/><path d="M 636.18 247.51 L 635.62 247.6 L 635.12 247.85 L 634.72 248.25 L 634.46 248.75 L 634.38 249.31 L 634.46 249.87 L 634.72 250.37 L 635.12 250.77 L 635.62 251.02 L 636.18 251.11 L 636.73 251.02 L 637.24 250.77 L 637.63 250.37 L 637.89 249.87 L 637.98 249.31 L 637.89 248.75 L 637.63 248.25 L 637.24 247.85 L 636.73 247.6 L 636.18 247.51 L 636.18 247.51 L 636.73 247.6 L 637.24 247.85 L 637.63 248.25 L 637.89 248.75 L 637.98 249.31 L 637.89 249.87 L 637.63 250.37 L 637.24 250.77 L 636.73 251.02 L 636.18 251.11 L 635.62 251.02 L 635.12 250.77 L 634.72 250.37 L 634.46 249.87 L 634.38 249.31 L 634.46 248.75 L 634.72 248.25 L 635.12 247.85 L 635.62 247.6 L 636.18 247.51 z " clip-path="url(#p9851077e19)" style="stroke: #000000"/><path d="M 652.57 247.51 L 652.02 247.6 L 651.51 247.85 L 651.12 248.25 L 650.86 248.75 L 650.77 249.31 L 650.86 249.87 L 651.12 250.37 L 651.51 250.77 L 652.02 251.02 L 652.57 251.11 L 653.13 251.02 L 653.63 250.77 L 654.03 250.37 L 654.28 249.87 L 654.37 249.31 L 654.28 248.75 L 654.03 248.25 L 653.63 247.85 L 653.13 247.6 L 652.57 247.51 L 652.57 247.51 L 653.13 247.6 L 653.63 247.85 L 654.03 248.25 L 654.28 248.75 L 654.37 249.31 L 654.28 249.87 L 654.03 250.37 L 653.63 250.77 L 653.13 251.02 L 652.57 251.11 L 652.02 251.02 L 651.51 250.77 L 651.12 250.37 L 650.86 249.87 L 650.77 249.31 L 650.86 248.75 L 651.12 248.25 L 651.51 247.85 L 652.02 247.6 L 652.57 247.51 z " clip-path="url(#p9851077e19)" style="stroke: #000000"/><path d="M 668.97 247.51 L 668.41 247.6 L 667.91 247.85 L 667.51 248.25 L 667.25 248.75 L 667.17 249.31 L 667.25 249.87 L 667.51 250.37 L 667.91 250.77 L 668.41 251.02 L 668.97 251.11 L 669.52 251.02 L 670.02 250.77 L 670.42 250.37 L 670.68 249.87 L 670.77 249.31 L 670.68 248.75 L 670.42 248.25 L 670.02 247.85 L 669.52 247.6 L 668.97 247.51 L 668.97 247.51 L 669.52 247.6 L 670.02 247.85 L 670.42 248.25 L 670.68 248.75 L 670.77 249.31 L 670.68 249.87 L 670.42 250.37 L 670.02 250.77 L 669.52 251.02 L 668.97 251.11 L 668.41 251.02 L 667.91 250.77 L 667.51 250.37 L 667.25 249.87 L 667.17 249.31 L 667.25 248.75 L 667.51 248.25 L 667.91 247.85 L 668.41 247.6 L 668.97 247.51 z " clip-path="url(#p9851077e19)" style="stroke: #000000"/><path d="M 685.15 243.31 L 685.57 255.31 L 685.49 253.06 L 683.12 253.89 L 685.49 253.06 z " clip-path="url(#p9851077e19)" style="stroke: #000000"/><path d="M 701.76 247.51 L 701.2 247.6 L 700.7 247.85 L 700.3 248.25 L 700.04 248.75 L 699.95 249.31 L 700.04 249.87 L 700.3 250.37 L 700.7 250.77 L 701.2 251.02 L 701.76 251.11 L 702.31 251.02 L 702.81 250.77 L 703.21 250.37 L 703.47 249.87 L 703.56 249.31 L 703.47 248.75 L 703.21 248.25 L 702.81 247.85 L 702.31 247.6 L 701.76 247.51 L 701.76 247.51 L 702.31 247.6 L 702.81 247.85 L 703.21 248.25 L 703.47 248.75 L 703.56 249.31 L 703.47 249.87 L 703.21 250.37 L 702.81 250.77 L 702.31 251.02 L 701.76 251.11 L 701.2 251.02 L 700.7 250.77 L 700.3 250.37 L 700.04 249.87 L 699.95 249.31 L 700.04 248.75 L 700.3 248.25 L 700.7 247.85 L 701.2 247.6 L 701.76 247.51 z " clip-path="url(#p9851077e19)" style="stroke: #000000"/><path d="M 718.15 247.51 L 717.59 247.6 L 717.09 247.85 L 716.69 248.25 L 716.44 248.75 L 716.35 249.31 L 716.44 249.87 L 716.69 250.37 L 717.09 250.77 L 717.59 251.02 L 718.15 251.11 L 718.71 251.02 L 719.21 250.77 L 719.61 250.37 L 719.86 249.87 L 719.95 249.31 L 719.86 248.75 L 719.61 248.25 L 719.21 247.85 L 718.71 247.6 L 718.15 247.51 L 718.15 247.51 L 718.71 247.6 L 719.21 247.85 L 719.61 248.25 L 719.86 248.75 L 719.95 249.31 L 719.86 249.87 L 719.61 250.37 L 719.21 250.77 L 718.71 251.02 L 718.15 251.11 L 717.59 251.02 L 717.09 250.77 L 716.69 250.37 L 716.44 249.87 L 716.35 249.31 L 716.44 248.75 L 716.69 248.25 L 717.09 247.85 L 717.59 247.6 L 718.15 247.51 z " clip-path="url(#p9851077e19)" style="stroke: #000000"/><path d="M 730.3 245.07 L 738.79 253.56 L 737.2 251.96 L 736.03 254.19 L 737.2 251.96 z " clip-path="url(#p9851077e19)" style="stroke: #000000"/><path d="M 78.77 259.78 L 78.21 259.87 L 77.71 260.13 L 77.31 260.52 L 77.06 261.03 L 76.97 261.58 L 77.06 262.14 L 77.31 262.64 L 77.71 263.04 L 78.21 263.3 L 78.77 263.38 L 79.32 263.3 L 79.83 263.04 L 80.22 262.64 L 80.48 262.14 L 80.57 261.58 L 80.48 261.03 L 80.22 260.52 L 79.83 260.13 L 79.32 259.87 L 78.77 259.78 L 78.77 259.78 L 79.32 259.87 L 79.83 260.13 L 80.22 260.52 L 80.48 261.03 L 80.57 261.58 L 80.48 262.14 L 80.22 262.64 L 79.83 263.04 L 79.32 263.3 L 78.77 263.38 L 78.21 263.3 L 77.71 263.04 L 77.31 262.64 L 77.06 262.14 L 76.97 261.58 L 77.06 261.03 L 77.31 260.52 L 77.71 260.13 L 78.21 259.87 L 78.77 259.78 z " clip-path="url(#p9851077e19)" style="stroke: #000000"/><path d="M 100.6 259.05 L 89.72 264.12 L 91.76 263.17 L 90.07 261.31 L 91.76 263.17 z " clip-path="url(#p9851077e19)" style="stroke: #000000"/><path d="M 111.56 259.78 L 111 259.87 L 110.5 260.13 L 110.1 260.52 L 109.84 261.03 L 109.76 261.58 L 109.84 262.14 L 110.1 262.64 L 110.5 263.04 L 111 263.3 L 111.56 263.38 L 112.11 263.3 L 112.62 263.04 L 113.01 262.64 L 113.27 262.14 L 113.36 261.58 L 113.27 261.03 L 113.01 260.52 L 112.62 260.13 L 112.11 259.87 L 111.56 259.78 L 111.56 259.78 L 112.11 259.87 L 112.62 260.13 L 113.01 260.52 L 113.27 261.03 L 113.36 261.58 L 113.27 262.14 L 113.01 262.64 L 112.62 263.04 L 112.11 263.3 L 111.56 263.38 L 111 263.3 L 110.5 263.04 L 110.1 262.64 L 109.84 262.14 L 109.76 261.58 L 109.84 261.03 L 110.1 260.52 L 110.5 260.13 L 111 259.87 L 111.56 259.78 z " clip-path="url(#p9851077e19)" style="stroke: #000000"/><path d="M 127.95 259.78 L 127.39 259.87 L 126.89 260.13 L 126.49 260.52 L 126.24 261.03 L 126.15 261.58 L 126.24 262.14 L 126.49 262.64 L 126.89 263.04 L 127.39 263.3 L 127.95 263.38 L 128.51 263.3 L 129.01 263.04 L 129.41 262.64 L 129.66 262.14 L 129.75 261.58 L 129.66 261.03 L 129.41 260.52 L 129.01 260.13 L 128.51 259.87 L 127.95 259.78 L 127.95 259.78 L 128.51 259.87 L 129.01 260.13 L 129.41 260.52 L 129.66 261.03 L 129.75 261.58 L 129.66 262.14 L 129.41 262.64 L 129.01 263.04 L 128.51 263.3 L 127.95 263.38 L 127.39 263.3 L 126.89 263.04 L 126.49 262.64 L 126.24 262.14 L 126.15 261.58 L 126.24 261.03 L 126.49 260.52 L 126.89 260.13 L 127.39 259.87 L 127.95 259.78 z " clip-path="url(#p9851077e19)" style="stroke: #000000"/><path d="M 144.35 259.78 L 143.79 259.87 L 143.29 260.13 L 142.89 260.52 L 142.63 261.03 L 142.54 261.58 L 142.63 262.14 L 142.89 262.64 L 143.29 263.04 L 143.79 263.3 L 144.35 263.38 L 144.9 263.3 L 145.4 263.04 L 145.8 262.64 L 146.06 262.14 L 146.15 261.58 L 146.06 261.03 L 145.8 260.52 L 145.4 260.13 L 144.9 259.87 L 144.35 259.78 L 144.35 259.78 L 144.9 259.87 L 145.4 260.13 L 145.8 260.52 L 146.06 261.03 L 146.15 261.58 L 146.06 262.14 L 145.8 262.64 L 145.4 263.04 L 144.9 263.3 L 144.35 263.38 L 143.79 263.3 L 143.29 263.04 L 142.89 262.64 L 142.63 262.14 L 142.54 261.58 L 142.63 261.03 L 142.89 260.52 L 143.29 260.13 L 143.79 259.87 L 144.35 259.78 z " clip-path="url(#p9851077e19)" style="stroke: #000000"/><path d="M 155.82 265.03 L 165.66 258.14 L 163.81 259.43 L 165.8 260.97 L 163.81 259.43 z " clip-path="url(#p9851077e19)" style="stroke: #000000"/><path d="M 171.34 263.14 L 182.93 260.03 L 180.76 260.61 L 182.1 262.74 L 180.76 260.61 z " clip-path="url(#p9851077e19)" style="stroke: #000000"/><path d="M 187.82 263.44 L 199.24 259.73 L 197.1 260.42 L 198.55 262.48 L 197.1 260.42 z " clip-path="url(#p9851077e19)" style="stroke: #000000"/><path d="M 204.13 260.03 L 215.72 263.14 L 213.55 262.55 L 213.65 265.07 L 213.55 262.55 z " clip-path="url(#p9851077e19)" style="stroke: #000000"/><path d="M 222.87 256.67 L 229.76 266.5 L 228.47 264.66 L 226.93 266.65 L 228.47 264.66 z " clip-path="url(#p9851077e19)" style="stroke: #000000"/><path d="M 246.96 257.34 L 238.47 265.83 L 240.06 264.24 L 237.83 263.07 L 240.06 264.24 z " clip-path="url(#p9851077e19)" style="stroke: #000000"/><path d="M 264.98 262.83 L 253.24 260.34 L 252.77 255.33 L 253.24 260.34 z " clip-path="url(#p9851077e19)" style="stroke: #000000"/><path d="M 281.3 263.14 L 269.7 260.03 L 269.5 255 L 269.7 260.03 z " clip-path="url(#p9851077e19)" style="stroke: #000000"/><path d="M 297.84 262.42 L 285.95 260.75 L 285.13 255.78 L 285.95 260.75 z " clip-path="url(#p9851077e19)" style="stroke: #000000"/><path d="M 314.25 262.31 L 302.33 260.85 L 304.57 261.13 L 304.11 258.65 L 304.57 261.13 z " clip-path="url(#p9851077e19)" style="stroke: #000000"/><path d="M 330.03 264.31 L 319.34 258.86 L 321.34 259.88 L 321.76 257.4 L 321.34 259.88 z " clip-path="url(#p9851077e19)" style="stroke: #000000"/><path d="M 341.08 259.78 L 340.52 259.87 L 340.02 260.13 L 339.62 260.52 L 339.37 261.03 L 339.28 261.58 L 339.37 262.14 L 339.62 262.64 L 340.02 263.04 L 340.52 263.3 L 341.08 263.38 L 341.63 263.3 L 342.14 263.04 L 342.54 262.64 L 342.79 262.14 L 342.88 261.58 L 342.79 261.03 L 342.54 260.52 L 342.14 260.13 L 341.63 259.87 L 341.08 259.78 L 341.08 259.78 L 341.63 259.87 L 342.14 260.13 L 342.54 260.52 L 342.79 261.03 L 342.88 261.58 L 342.79 262.14 L 342.54 262.64 L 342.14 263.04 L 341.63 263.3 L 341.08 263.38 L 340.52 263.3 L 340.02 263.04 L 339.62 262.64 L 339.37 262.14 L 339.28 261.58 L 339.37 261.03 L 339.62 260.52 L 340.02 260.13 L 340.52 259.87 L 341.08 259.78 z " clip-path="url(#p9851077e19)" style="stroke: #000000"/><path d="M 362.67 264.58 L 352.27 258.58 L 353.38 253.67 L 352.27 258.58 z " clip-path="url(#p9851077e19)" style="stroke: #000000"/><path d="M 379.58 263.44 L 368.16 259.73 L 368.22 254.7 L 368.16 259.73 L 369.59 260.19 L 369.61 257.68 L 369.59 260.19 z " clip-path="url(#p9851077e19)" style="stroke: #000000"/><path d="M 396.21 260.75 L 384.32 262.42 L 382.16 257.87 L 384.32 262.42 L 385.8 262.21 L 384.73 259.94 L 385.8 262.21 z " clip-path="url(#p9851077e19)" style="stroke: #000000"/><path d="M 412.66 261.58 L 400.65 261.58 L 399.15 256.78 L 400.65 261.58 z " clip-path="url(#p9851077e19)" style="stroke: #000000"/><path d="M 428.99 260.75 L 417.11 262.42 L 414.95 257.87 L 417.11 262.42 L 418.59 262.21 L 417.52 259.94 L 418.59 262.21 z " clip-path="url(#p9851077e19)" style="stroke: #000000"/><path d="M 445.44 261.37 L 433.45 261.79 L 431.78 257.05 L 433.45 261.79 L 434.95 261.74 L 433.28 256.99 L 434.95 261.74 z " clip-path="url(#p9851077e19)" style="stroke: #000000"/><path d="M 461.84 261.79 L 449.84 261.37 L 448.51 256.52 L 449.84 261.37 L 451.34 261.43 L 450.01 256.57 L 451.34 261.43 z " clip-path="url(#p9851077e19)" style="stroke: #000000"/><path d="M 478.24 261.58 L 466.23 261.58 L 464.73 256.78 L 466.23 261.58 L 467.73 261.58 L 466.98 259.18 L 467.73 261.58 z " clip-path="url(#p9851077e19)" style="stroke: #000000"/><path d="M 494.63 261.58 L 482.63 261.58 L 481.12 256.78 L 482.63 261.58 L 484.13 261.58 L 483.38 259.18 L 484.13 261.58 z " clip-path="url(#p9851077e19)" style="stroke: #000000"/><path d="M 511.02 261.58 L 499.02 261.58 L 497.52 256.78 L 499.02 261.58 z " clip-path="url(#p9851077e19)" style="stroke: #000000"/><path d="M 527.37 260.85 L 515.46 262.31 L 517.69 262.04 L 516.66 259.75 L 517.69 262.04 z " clip-path="url(#p9851077e19)" style="stroke: #000000"/><path d="M 543.61 260.03 L 532.01 263.14 L 534.19 262.55 L 532.84 260.43 L 534.19 262.55 z " clip-path="url(#p9851077e19)" style="stroke: #000000"/><path d="M 559.85 259.53 L 548.57 263.64 L 550.68 262.87 L 549.15 260.87 L 550.68 262.87 z " clip-path="url(#p9851077e19)" style="stroke: #000000"/><path d="M 570.6 259.78 L 570.04 259.87 L 569.54 260.13 L 569.14 260.52 L 568.89 261.03 L 568.8 261.58 L 568.89 262.14 L 569.14 262.64 L 569.54 263.04 L 570.04 263.3 L 570.6 263.38 L 571.16 263.3 L 571.66 263.04 L 572.06 262.64 L 572.31 262.14 L 572.4 261.58 L 572.31 261.03 L 572.06 260.52 L 571.66 260.13 L 571.16 259.87 L 570.6 259.78 L 570.6 259.78 L 571.16 259.87 L 571.66 260.13 L 572.06 260.52 L 572.31 261.03 L 572.4 261.58 L 572.31 262.14 L 572.06 262.64 L 571.66 263.04 L 571.16 263.3 L 570.6 263.38 L 570.04 263.3 L 569.54 263.04 L 569.14 262.64 L 568.89 262.14 L 568.8 261.58 L 568.89 261.03 L 569.14 260.52 L 569.54 260.13 L 570.04 259.87 L 570.6 259.78 z " clip-path="url(#p9851077e19)" style="stroke: #000000"/><path d="M 586.99 259.78 L 586.44 259.87 L 585.94 260.13 L 585.54 260.52 L 585.28 261.03 L 585.19 261.58 L 585.28 262.14 L 585.54 262.64 L 585.94 263.04 L 586.44 263.3 L 586.99 263.38 L 587.55 263.3 L 588.05 263.04 L 588.45 262.64 L 588.71 262.14 L 588.8 261.58 L 588.71 261.03 L 588.45 260.52 L 588.05 260.13 L 587.55 259.87 L 586.99 259.78 L 586.99 259.78 L 587.55 259.87 L 588.05 260.13 L 588.45 260.52 L 588.71 261.03 L 588.8 261.58 L 588.71 262.14 L 588.45 262.64 L 588.05 263.04 L 587.55 263.3 L 586.99 263.38 L 586.44 263.3 L 585.94 263.04 L 585.54 262.64 L 585.28 262.14 L 585.19 261.58 L 585.28 261.03 L 585.54 260.52 L 585.94 260.13 L 586.44 259.87 L 586.99 259.78 z " clip-path="url(#p9851077e19)" style="stroke: #000000"/><path d="M 603.39 255.58 L 603.39 267.59 L 603.39 265.33 L 600.99 266.09 L 603.39 265.33 z " clip-path="url(#p9851077e19)" style="stroke: #000000"/><path d="M 620.31 255.6 L 619.26 267.56 L 619.46 265.32 L 617 265.86 L 619.46 265.32 z " clip-path="url(#p9851077e19)" style="stroke: #000000"/><path d="M 636.18 259.78 L 635.62 259.87 L 635.12 260.13 L 634.72 260.52 L 634.46 261.03 L 634.38 261.58 L 634.46 262.14 L 634.72 262.64 L 635.12 263.04 L 635.62 263.3 L 636.18 263.38 L 636.73 263.3 L 637.24 263.04 L 637.63 262.64 L 637.89 262.14 L 637.98 261.58 L 637.89 261.03 L 637.63 260.52 L 637.24 260.13 L 636.73 259.87 L 636.18 259.78 L 636.18 259.78 L 636.73 259.87 L 637.24 260.13 L 637.63 260.52 L 637.89 261.03 L 637.98 261.58 L 637.89 262.14 L 637.63 262.64 L 637.24 263.04 L 636.73 263.3 L 636.18 263.38 L 635.62 263.3 L 635.12 263.04 L 634.72 262.64 L 634.46 262.14 L 634.38 261.58 L 634.46 261.03 L 634.72 260.52 L 635.12 260.13 L 635.62 259.87 L 636.18 259.78 z " clip-path="url(#p9851077e19)" style="stroke: #000000"/><path d="M 652.57 259.78 L 652.02 259.87 L 651.51 260.13 L 651.12 260.52 L 650.86 261.03 L 650.77 261.58 L 650.86 262.14 L 651.12 262.64 L 651.51 263.04 L 652.02 263.3 L 652.57 263.38 L 653.13 263.3 L 653.63 263.04 L 654.03 262.64 L 654.28 262.14 L 654.37 261.58 L 654.28 261.03 L 654.03 260.52 L 653.63 260.13 L 653.13 259.87 L 652.57 259.78 L 652.57 259.78 L 653.13 259.87 L 653.63 260.13 L 654.03 260.52 L 654.28 261.03 L 654.37 261.58 L 654.28 262.14 L 654.03 262.64 L 653.63 263.04 L 653.13 263.3 L 652.57 263.38 L 652.02 263.3 L 651.51 263.04 L 651.12 262.64 L 650.86 262.14 L 650.77 261.58 L 650.86 261.03 L 651.12 260.52 L 651.51 260.13 L 652.02 259.87 L 652.57 259.78 z " clip-path="url(#p9851077e19)" style="stroke: #000000"/><path d="M 668.97 259.78 L 668.41 259.87 L 667.91 260.13 L 667.51 260.52 L 667.25 261.03 L 667.17 261.58 L 667.25 262.14 L 667.51 262.64 L 667.91 263.04 L 668.41 263.3 L 668.97 263.38 L 669.52 263.3 L 670.02 263.04 L 670.42 262.64 L 670.68 262.14 L 670.77 261.58 L 670.68 261.03 L 670.42 260.52 L 670.02 260.13 L 669.52 259.87 L 668.97 259.78 L 668.97 259.78 L 669.52 259.87 L 670.02 260.13 L 670.42 260.52 L 670.68 261.03 L 670.77 261.58 L 670.68 262.14 L 670.42 262.64 L 670.02 263.04 L 669.52 263.3 L 668.97 263.38 L 668.41 263.3 L 667.91 263.04 L 667.51 262.64 L 667.25 262.14 L 667.17 261.58 L 667.25 261.03 L 667.51 260.52 L 667.91 260.13 L 668.41 259.87 L 668.97 259.78 z " clip-path="url(#p9851077e19)" style="stroke: #000000"/><path d="M 683.31 255.94 L 687.41 267.22 L 686.64 265.11 L 684.64 266.63 L 686.64 265.11 z " clip-path="url(#p9851077e19)" style="stroke: #000000"/><path d="M 701.76 259.78 L 701.2 259.87 L 700.7 260.13 L 700.3 260.52 L 700.04 261.03 L 699.95 261.58 L 700.04 262.14 L 700.3 262.64 L 700.7 263.04 L 701.2 263.3 L 701.76 263.38 L 702.31 263.3 L 702.81 263.04 L 703.21 262.64 L 703.47 262.14 L 703.56 261.58 L 703.47 261.03 L 703.21 260.52 L 702.81 260.13 L 702.31 259.87 L 701.76 259.78 L 701.76 259.78 L 702.31 259.87 L 702.81 260.13 L 703.21 260.52 L 703.47 261.03 L 703.56 261.58 L 703.47 262.14 L 703.21 262.64 L 702.81 263.04 L 702.31 263.3 L 701.76 263.38 L 701.2 263.3 L 700.7 263.04 L 700.3 262.64 L 700.04 262.14 L 699.95 261.58 L 700.04 261.03 L 700.3 260.52 L 700.7 260.13 L 701.2 259.87 L 701.76 259.78 z " clip-path="url(#p9851077e19)" style="stroke: #000000"/><path d="M 718.15 259.78 L 717.59 259.87 L 717.09 260.13 L 716.69 260.52 L 716.44 261.03 L 716.35 261.58 L 716.44 262.14 L 716.69 262.64 L 717.09 263.04 L 717.59 263.3 L 718.15 263.38 L 718.71 263.3 L 719.21 263.04 L 719.61 262.64 L 719.86 262.14 L 719.95 261.58 L 719.86 261.03 L 719.61 260.52 L 719.21 260.13 L 718.71 259.87 L 718.15 259.78 L 718.15 259.78 L 718.71 259.87 L 719.21 260.13 L 719.61 260.52 L 719.86 261.03 L 719.95 261.58 L 719.86 262.14 L 719.61 262.64 L 719.21 263.04 L 718.71 263.3 L 718.15 263.38 L 717.59 263.3 L 717.09 263.04 L 716.69 262.64 L 716.44 262.14 L 716.35 261.58 L 716.44 261.03 L 716.69 260.52 L 717.09 260.13 L 717.59 259.87 L 718.15 259.78 z " clip-path="url(#p9851077e19)" style="stroke: #000000"/><path d="M 729.63 258.14 L 739.46 265.03 L 737.62 263.74 L 736.85 266.13 L 737.62 263.74 z " clip-path="url(#p9851077e19)" style="stroke: #000000"/><path d="M 74.52 269.61 L 83.01 278.1 L 81.42 276.51 L 80.25 278.74 L 81.42 276.51 z " clip-path="url(#p9851077e19)" style="stroke: #000000"/><path d="M 95.16 272.05 L 94.61 272.14 L 94.1 272.4 L 93.71 272.8 L 93.45 273.3 L 93.36 273.86 L 93.45 274.41 L 93.71 274.91 L 94.1 275.31 L 94.61 275.57 L 95.16 275.66 L 95.72 275.57 L 96.22 275.31 L 96.62 274.91 L 96.88 274.41 L 96.96 273.86 L 96.88 273.3 L 96.62 272.8 L 96.22 272.4 L 95.72 272.14 L 95.16 272.05 L 95.16 272.05 L 95.72 272.14 L 96.22 272.4 L 96.62 272.8 L 96.88 273.3 L 96.96 273.86 L 96.88 274.41 L 96.62 274.91 L 96.22 275.31 L 95.72 275.57 L 95.16 275.66 L 94.61 275.57 L 94.1 275.31 L 93.71 274.91 L 93.45 274.41 L 93.36 273.86 L 93.45 273.3 L 93.71 272.8 L 94.1 272.4 L 94.61 272.14 L 95.16 272.05 z " clip-path="url(#p9851077e19)" style="stroke: #000000"/><path d="M 111.56 272.05 L 111 272.14 L 110.5 272.4 L 110.1 272.8 L 109.84 273.3 L 109.76 273.86 L 109.84 274.41 L 110.1 274.91 L 110.5 275.31 L 111 275.57 L 111.56 275.66 L 112.11 275.57 L 112.62 275.31 L 113.01 274.91 L 113.27 274.41 L 113.36 273.86 L 113.27 273.3 L 113.01 272.8 L 112.62 272.4 L 112.11 272.14 L 111.56 272.05 L 111.56 272.05 L 112.11 272.14 L 112.62 272.4 L 113.01 272.8 L 113.27 273.3 L 113.36 273.86 L 113.27 274.41 L 113.01 274.91 L 112.62 275.31 L 112.11 275.57 L 111.56 275.66 L 111 275.57 L 110.5 275.31 L 110.1 274.91 L 109.84 274.41 L 109.76 273.86 L 109.84 273.3 L 110.1 272.8 L 110.5 272.4 L 111 272.14 L 111.56 272.05 z " clip-path="url(#p9851077e19)" style="stroke: #000000"/><path d="M 127.95 272.05 L 127.39 272.14 L 126.89 272.4 L 126.49 272.8 L 126.24 273.3 L 126.15 273.86 L 126.24 274.41 L 126.49 274.91 L 126.89 275.31 L 127.39 275.57 L 127.95 275.66 L 128.51 275.57 L 129.01 275.31 L 129.41 274.91 L 129.66 274.41 L 129.75 273.86 L 129.66 273.3 L 129.41 272.8 L 129.01 272.4 L 128.51 272.14 L 127.95 272.05 L 127.95 272.05 L 128.51 272.14 L 129.01 272.4 L 129.41 272.8 L 129.66 273.3 L 129.75 273.86 L 129.66 274.41 L 129.41 274.91 L 129.01 275.31 L 128.51 275.57 L 127.95 275.66 L 127.39 275.57 L 126.89 275.31 L 126.49 274.91 L 126.24 274.41 L 126.15 273.86 L 126.24 273.3 L 126.49 272.8 L 126.89 272.4 L 127.39 272.14 L 127.95 272.05 z " clip-path="url(#p9851077e19)" style="stroke: #000000"/><path d="M 144.35 272.05 L 143.79 272.14 L 143.29 272.4 L 142.89 272.8 L 142.63 273.3 L 142.54 273.86 L 142.63 274.41 L 142.89 274.91 L 143.29 275.31 L 143.79 275.57 L 144.35 275.66 L 144.9 275.57 L 145.4 275.31 L 145.8 274.91 L 146.06 274.41 L 146.15 273.86 L 146.06 273.3 L 145.8 272.8 L 145.4 272.4 L 144.9 272.14 L 144.35 272.05 L 144.35 272.05 L 144.9 272.14 L 145.4 272.4 L 145.8 272.8 L 146.06 273.3 L 146.15 273.86 L 146.06 274.41 L 145.8 274.91 L 145.4 275.31 L 144.9 275.57 L 144.35 275.66 L 143.79 275.57 L 143.29 275.31 L 142.89 274.91 L 142.63 274.41 L 142.54 273.86 L 142.63 273.3 L 142.89 272.8 L 143.29 272.4 L 143.79 272.14 L 144.35 272.05 z " clip-path="url(#p9851077e19)" style="stroke: #000000"/><path d="M 156.14 277.71 L 165.34 270 L 163.61 271.44 L 165.73 272.8 L 163.61 271.44 z " clip-path="url(#p9851077e19)" style="stroke: #000000"/><path d="M 171.69 276.39 L 182.57 271.32 L 180.53 272.27 L 182.23 274.13 L 180.53 272.27 z " clip-path="url(#p9851077e19)" style="stroke: #000000"/><path d="M 188.23 276.67 L 198.83 271.04 L 196.84 272.09 L 198.63 273.86 L 196.84 272.09 z " clip-path="url(#p9851077e19)" style="stroke: #000000"/><path d="M 204.13 272.3 L 215.72 275.41 L 213.55 274.83 L 213.65 277.34 L 213.55 274.83 z " clip-path="url(#p9851077e19)" style="stroke: #000000"/><path d="M 221.52 270.24 L 231.11 277.47 L 229.31 276.11 L 228.47 278.48 L 229.31 276.11 z " clip-path="url(#p9851077e19)" style="stroke: #000000"/><path d="M 245.98 268.82 L 239.44 278.89 L 240.67 277 L 238.25 276.32 L 240.67 277 z " clip-path="url(#p9851077e19)" style="stroke: #000000"/><path d="M 264.98 275.1 L 253.24 272.61 L 252.77 267.6 L 253.24 272.61 z " clip-path="url(#p9851077e19)" style="stroke: #000000"/><path d="M 281.46 274.59 L 269.54 273.12 L 268.64 268.17 L 269.54 273.12 z " clip-path="url(#p9851077e19)" style="stroke: #000000"/><path d="M 297.9 273.86 L 285.89 273.86 L 288.14 273.86 L 287.39 271.45 L 288.14 273.86 z " clip-path="url(#p9851077e19)" style="stroke: #000000"/><path d="M 314.29 273.86 L 302.29 273.86 L 304.54 273.86 L 303.79 271.45 L 304.54 273.86 z " clip-path="url(#p9851077e19)" style="stroke: #000000"/><path d="M 330.12 276.39 L 319.24 271.32 L 321.28 272.27 L 321.62 269.78 L 321.28 272.27 z " clip-path="url(#p9851077e19)" style="stroke: #000000"/><path d="M 341.08 272.05 L 340.52 272.14 L 340.02 272.4 L 339.62 272.8 L 339.37 273.3 L 339.28 273.86 L 339.37 274.41 L 339.62 274.91 L 340.02 275.31 L 340.52 275.57 L 341.08 275.66 L 341.63 275.57 L 342.14 275.31 L 342.54 274.91 L 342.79 274.41 L 342.88 273.86 L 342.79 273.3 L 342.54 272.8 L 342.14 272.4 L 341.63 272.14 L 341.08 272.05 L 341.08 272.05 L 341.63 272.14 L 342.14 272.4 L 342.54 272.8 L 342.79 273.3 L 342.88 273.86 L 342.79 274.41 L 342.54 274.91 L 342.14 275.31 L 341.63 275.57 L 341.08 275.66 L 340.52 275.57 L 340.02 275.31 L 339.62 274.91 L 339.37 274.41 L 339.28 273.86 L 339.37 273.3 L 339.62 272.8 L 340.02 272.4 L 340.52 272.14 L 341.08 272.05 z " clip-path="url(#p9851077e19)" style="stroke: #000000"/><path d="M 362.67 276.86 L 352.27 270.85 L 353.38 265.95 L 352.27 270.85 z " clip-path="url(#p9851077e19)" style="stroke: #000000"/><path d="M 379.43 276.1 L 368.3 271.61 L 368.71 266.59 L 368.3 271.61 z " clip-path="url(#p9851077e19)" style="stroke: #000000"/><path d="M 395.9 271.8 L 384.62 275.91 L 381.57 271.91 L 384.62 275.91 z " clip-path="url(#p9851077e19)" style="stroke: #000000"/><path d="M 412.64 273.33 L 400.68 274.38 L 398.76 269.73 L 400.68 274.38 z " clip-path="url(#p9851077e19)" style="stroke: #000000"/><path d="M 428.99 273.02 L 417.11 274.69 L 414.95 270.14 L 417.11 274.69 L 418.59 274.48 L 417.52 272.21 L 418.59 274.48 z " clip-path="url(#p9851077e19)" style="stroke: #000000"/><path d="M 445.42 273.33 L 433.47 274.38 L 431.55 269.73 L 433.47 274.38 L 434.96 274.25 L 433.05 269.6 L 434.96 274.25 z " clip-path="url(#p9851077e19)" style="stroke: #000000"/><path d="M 461.84 273.65 L 449.84 274.07 L 448.17 269.32 L 449.84 274.07 L 451.34 274.01 L 449.67 269.27 L 451.34 274.01 z " clip-path="url(#p9851077e19)" style="stroke: #000000"/><path d="M 478.24 273.86 L 466.23 273.86 L 464.73 269.05 L 466.23 273.86 L 467.73 273.86 L 466.98 271.45 L 467.73 273.86 z " clip-path="url(#p9851077e19)" style="stroke: #000000"/><path d="M 494.63 274.07 L 482.63 273.65 L 481.3 268.79 L 482.63 273.65 z " clip-path="url(#p9851077e19)" style="stroke: #000000"/><path d="M 511.02 273.65 L 499.02 274.07 L 497.36 269.32 L 499.02 274.07 z " clip-path="url(#p9851077e19)" style="stroke: #000000"/><path d="M 527.36 273.02 L 515.47 274.69 L 517.7 274.38 L 516.62 272.1 L 517.7 274.38 z " clip-path="url(#p9851077e19)" style="stroke: #000000"/><path d="M 543.52 272 L 532.1 275.71 L 534.24 275.01 L 532.79 272.96 L 534.24 275.01 z " clip-path="url(#p9851077e19)" style="stroke: #000000"/><path d="M 559 270.24 L 549.41 277.47 L 551.21 276.11 L 549.17 274.65 L 551.21 276.11 z " clip-path="url(#p9851077e19)" style="stroke: #000000"/><path d="M 570.6 272.05 L 570.04 272.14 L 569.54 272.4 L 569.14 272.8 L 568.89 273.3 L 568.8 273.86 L 568.89 274.41 L 569.14 274.91 L 569.54 275.31 L 570.04 275.57 L 570.6 275.66 L 571.16 275.57 L 571.66 275.31 L 572.06 274.91 L 572.31 274.41 L 572.4 273.86 L 572.31 273.3 L 572.06 272.8 L 571.66 272.4 L 571.16 272.14 L 570.6 272.05 L 570.6 272.05 L 571.16 272.14 L 571.66 272.4 L 572.06 272.8 L 572.31 273.3 L 572.4 273.86 L 572.31 274.41 L 572.06 274.91 L 571.66 275.31 L 571.16 275.57 L 570.6 275.66 L 570.04 275.57 L 569.54 275.31 L 569.14 274.91 L 568.89 274.41 L 568.8 273.86 L 568.89 273.3 L 569.14 272.8 L 569.54 272.4 L 570.04 272.14 L 570.6 272.05 z " clip-path="url(#p9851077e19)" style="stroke: #000000"/><path d="M 586.99 272.05 L 586.44 272.14 L 585.94 272.4 L 585.54 272.8 L 585.28 273.3 L 585.19 273.86 L 585.28 274.41 L 585.54 274.91 L 585.94 275.31 L 586.44 275.57 L 586.99 275.66 L 587.55 275.57 L 588.05 275.31 L 588.45 274.91 L 588.71 274.41 L 588.8 273.86 L 588.71 273.3 L 588.45 272.8 L 588.05 272.4 L 587.55 272.14 L 586.99 272.05 L 586.99 272.05 L 587.55 272.14 L 588.05 272.4 L 588.45 272.8 L 588.71 273.3 L 588.8 273.86 L 588.71 274.41 L 588.45 274.91 L 588.05 275.31 L 587.55 275.57 L 586.99 275.66 L 586.44 275.57 L 585.94 275.31 L 585.54 274.91 L 585.28 274.41 L 585.19 273.86 L 585.28 273.3 L 585.54 272.8 L 585.94 272.4 L 586.44 272.14 L 586.99 272.05 z " clip-path="url(#p9851077e19)" style="stroke: #000000"/><path d="M 599.3 269.47 L 607.48 278.25 L 605.95 276.6 L 604.7 278.79 L 605.95 276.6 z " clip-path="url(#p9851077e19)" style="stroke: #000000"/><path d="M 616.34 268.94 L 623.23 278.77 L 621.94 276.93 L 620.4 278.92 L 621.94 276.93 z " clip-path="url(#p9851077e19)" style="stroke: #000000"/><path d="M 636.18 272.05 L 635.62 272.14 L 635.12 272.4 L 634.72 272.8 L 634.46 273.3 L 634.38 273.86 L 634.46 274.41 L 634.72 274.91 L 635.12 275.31 L 635.62 275.57 L 636.18 275.66 L 636.73 275.57 L 637.24 275.31 L 637.63 274.91 L 637.89 274.41 L 637.98 273.86 L 637.89 273.3 L 637.63 272.8 L 637.24 272.4 L 636.73 272.14 L 636.18 272.05 L 636.18 272.05 L 636.73 272.14 L 637.24 272.4 L 637.63 272.8 L 637.89 273.3 L 637.98 273.86 L 637.89 274.41 L 637.63 274.91 L 637.24 275.31 L 636.73 275.57 L 636.18 275.66 L 635.62 275.57 L 635.12 275.31 L 634.72 274.91 L 634.46 274.41 L 634.38 273.86 L 634.46 273.3 L 634.72 272.8 L 635.12 272.4 L 635.62 272.14 L 636.18 272.05 z " clip-path="url(#p9851077e19)" style="stroke: #000000"/><path d="M 652.57 272.05 L 652.02 272.14 L 651.51 272.4 L 651.12 272.8 L 650.86 273.3 L 650.77 273.86 L 650.86 274.41 L 651.12 274.91 L 651.51 275.31 L 652.02 275.57 L 652.57 275.66 L 653.13 275.57 L 653.63 275.31 L 654.03 274.91 L 654.28 274.41 L 654.37 273.86 L 654.28 273.3 L 654.03 272.8 L 653.63 272.4 L 653.13 272.14 L 652.57 272.05 L 652.57 272.05 L 653.13 272.14 L 653.63 272.4 L 654.03 272.8 L 654.28 273.3 L 654.37 273.86 L 654.28 274.41 L 654.03 274.91 L 653.63 275.31 L 653.13 275.57 L 652.57 275.66 L 652.02 275.57 L 651.51 275.31 L 651.12 274.91 L 650.86 274.41 L 650.77 273.86 L 650.86 273.3 L 651.12 272.8 L 651.51 272.4 L 652.02 272.14 L 652.57 272.05 z " clip-path="url(#p9851077e19)" style="stroke: #000000"/><path d="M 668.97 272.05 L 668.41 272.14 L 667.91 272.4 L 667.51 272.8 L 667.25 273.3 L 667.17 273.86 L 667.25 274.41 L 667.51 274.91 L 667.91 275.31 L 668.41 275.57 L 668.97 275.66 L 669.52 275.57 L 670.02 275.31 L 670.42 274.91 L 670.68 274.41 L 670.77 273.86 L 670.68 273.3 L 670.42 272.8 L 670.02 272.4 L 669.52 272.14 L 668.97 272.05 L 668.97 272.05 L 669.52 272.14 L 670.02 272.4 L 670.42 272.8 L 670.68 273.3 L 670.77 273.86 L 670.68 274.41 L 670.42 274.91 L 670.02 275.31 L 669.52 275.57 L 668.97 275.66 L 668.41 275.57 L 667.91 275.31 L 667.51 274.91 L 667.25 274.41 L 667.17 273.86 L 667.25 273.3 L 667.51 272.8 L 667.91 272.4 L 668.41 272.14 L 668.97 272.05 z " clip-path="url(#p9851077e19)" style="stroke: #000000"/><path d="M 685.36 272.05 L 684.8 272.14 L 684.3 272.4 L 683.9 272.8 L 683.65 273.3 L 683.56 273.86 L 683.65 274.41 L 683.9 274.91 L 684.3 275.31 L 684.8 275.57 L 685.36 275.66 L 685.92 275.57 L 686.42 275.31 L 686.82 274.91 L 687.07 274.41 L 687.16 273.86 L 687.07 273.3 L 686.82 272.8 L 686.42 272.4 L 685.92 272.14 L 685.36 272.05 L 685.36 272.05 L 685.92 272.14 L 686.42 272.4 L 686.82 272.8 L 687.07 273.3 L 687.16 273.86 L 687.07 274.41 L 686.82 274.91 L 686.42 275.31 L 685.92 275.57 L 685.36 275.66 L 684.8 275.57 L 684.3 275.31 L 683.9 274.91 L 683.65 274.41 L 683.56 273.86 L 683.65 273.3 L 683.9 272.8 L 684.3 272.4 L 684.8 272.14 L 685.36 272.05 z " clip-path="url(#p9851077e19)" style="stroke: #000000"/><path d="M 701.76 272.05 L 701.2 272.14 L 700.7 272.4 L 700.3 272.8 L 700.04 273.3 L 699.95 273.86 L 700.04 274.41 L 700.3 274.91 L 700.7 275.31 L 701.2 275.57 L 701.76 275.66 L 702.31 275.57 L 702.81 275.31 L 703.21 274.91 L 703.47 274.41 L 703.56 273.86 L 703.47 273.3 L 703.21 272.8 L 702.81 272.4 L 702.31 272.14 L 701.76 272.05 L 701.76 272.05 L 702.31 272.14 L 702.81 272.4 L 703.21 272.8 L 703.47 273.3 L 703.56 273.86 L 703.47 274.41 L 703.21 274.91 L 702.81 275.31 L 702.31 275.57 L 701.76 275.66 L 701.2 275.57 L 700.7 275.31 L 700.3 274.91 L 700.04 274.41 L 699.95 273.86 L 700.04 273.3 L 700.3 272.8 L 700.7 272.4 L 701.2 272.14 L 701.76 272.05 z " clip-path="url(#p9851077e19)" style="stroke: #000000"/><path d="M 718.15 272.05 L 717.59 272.14 L 717.09 272.4 L 716.69 272.8 L 716.44 273.3 L 716.35 273.86 L 716.44 274.41 L 716.69 274.91 L 717.09 275.31 L 717.59 275.57 L 718.15 275.66 L 718.71 275.57 L 719.21 275.31 L 719.61 274.91 L 719.86 274.41 L 719.95 273.86 L 719.86 273.3 L 719.61 272.8 L 719.21 272.4 L 718.71 272.14 L 718.15 272.05 L 718.15 272.05 L 718.71 272.14 L 719.21 272.4 L 719.61 272.8 L 719.86 273.3 L 719.95 273.86 L 719.86 274.41 L 719.61 274.91 L 719.21 275.31 L 718.71 275.57 L 718.15 275.66 L 717.59 275.57 L 717.09 275.31 L 716.69 274.91 L 716.44 274.41 L 716.35 273.86 L 716.44 273.3 L 716.69 272.8 L 717.09 272.4 L 717.59 272.14 L 718.15 272.05 z " clip-path="url(#p9851077e19)" style="stroke: #000000"/><path d="M 729.51 270.59 L 739.58 277.12 L 737.69 275.9 L 737.01 278.32 L 737.69 275.9 z " clip-path="url(#p9851077e19)" style="stroke: #000000"/><path d="M 74.52 281.88 L 83.01 290.37 L 81.42 288.78 L 80.25 291.01 L 81.42 288.78 z " clip-path="url(#p9851077e19)" style="stroke: #000000"/><path d="M 95.16 284.33 L 94.61 284.42 L 94.1 284.67 L 93.71 285.07 L 93.45 285.57 L 93.36 286.13 L 93.45 286.68 L 93.71 287.19 L 94.1 287.58 L 94.61 287.84 L 95.16 287.93 L 95.72 287.84 L 96.22 287.58 L 96.62 287.19 L 96.88 286.68 L 96.96 286.13 L 96.88 285.57 L 96.62 285.07 L 96.22 284.67 L 95.72 284.42 L 95.16 284.33 L 95.16 284.33 L 95.72 284.42 L 96.22 284.67 L 96.62 285.07 L 96.88 285.57 L 96.96 286.13 L 96.88 286.68 L 96.62 287.19 L 96.22 287.58 L 95.72 287.84 L 95.16 287.93 L 94.61 287.84 L 94.1 287.58 L 93.71 287.19 L 93.45 286.68 L 93.36 286.13 L 93.45 285.57 L 93.71 285.07 L 94.1 284.67 L 94.61 284.42 L 95.16 284.33 z " clip-path="url(#p9851077e19)" style="stroke: #000000"/><path d="M 111.56 284.33 L 111 284.42 L 110.5 284.67 L 110.1 285.07 L 109.84 285.57 L 109.76 286.13 L 109.84 286.68 L 110.1 287.19 L 110.5 287.58 L 111 287.84 L 111.56 287.93 L 112.11 287.84 L 112.62 287.58 L 113.01 287.19 L 113.27 286.68 L 113.36 286.13 L 113.27 285.57 L 113.01 285.07 L 112.62 284.67 L 112.11 284.42 L 111.56 284.33 L 111.56 284.33 L 112.11 284.42 L 112.62 284.67 L 113.01 285.07 L 113.27 285.57 L 113.36 286.13 L 113.27 286.68 L 113.01 287.19 L 112.62 287.58 L 112.11 287.84 L 111.56 287.93 L 111 287.84 L 110.5 287.58 L 110.1 287.19 L 109.84 286.68 L 109.76 286.13 L 109.84 285.57 L 110.1 285.07 L 110.5 284.67 L 111 284.42 L 111.56 284.33 z " clip-path="url(#p9851077e19)" style="stroke: #000000"/><path d="M 127.95 284.33 L 127.39 284.42 L 126.89 284.67 L 126.49 285.07 L 126.24 285.57 L 126.15 286.13 L 126.24 286.68 L 126.49 287.19 L 126.89 287.58 L 127.39 287.84 L 127.95 287.93 L 128.51 287.84 L 129.01 287.58 L 129.41 287.19 L 129.66 286.68 L 129.75 286.13 L 129.66 285.57 L 129.41 285.07 L 129.01 284.67 L 128.51 284.42 L 127.95 284.33 L 127.95 284.33 L 128.51 284.42 L 129.01 284.67 L 129.41 285.07 L 129.66 285.57 L 129.75 286.13 L 129.66 286.68 L 129.41 287.19 L 129.01 287.58 L 128.51 287.84 L 127.95 287.93 L 127.39 287.84 L 126.89 287.58 L 126.49 287.19 L 126.24 286.68 L 126.15 286.13 L 126.24 285.57 L 126.49 285.07 L 126.89 284.67 L 127.39 284.42 L 127.95 284.33 z " clip-path="url(#p9851077e19)" style="stroke: #000000"/><path d="M 144.35 284.33 L 143.79 284.42 L 143.29 284.67 L 142.89 285.07 L 142.63 285.57 L 142.54 286.13 L 142.63 286.68 L 142.89 287.19 L 143.29 287.58 L 143.79 287.84 L 144.35 287.93 L 144.9 287.84 L 145.4 287.58 L 145.8 287.19 L 146.06 286.68 L 146.15 286.13 L 146.06 285.57 L 145.8 285.07 L 145.4 284.67 L 144.9 284.42 L 144.35 284.33 L 144.35 284.33 L 144.9 284.42 L 145.4 284.67 L 145.8 285.07 L 146.06 285.57 L 146.15 286.13 L 146.06 286.68 L 145.8 287.19 L 145.4 287.58 L 144.9 287.84 L 144.35 287.93 L 143.79 287.84 L 143.29 287.58 L 142.89 287.19 L 142.63 286.68 L 142.54 286.13 L 142.63 285.57 L 142.89 285.07 L 143.29 284.67 L 143.79 284.42 L 144.35 284.33 z " clip-path="url(#p9851077e19)" style="stroke: #000000"/><path d="M 160.74 284.33 L 160.18 284.42 L 159.68 284.67 L 159.28 285.07 L 159.03 285.57 L 158.94 286.13 L 159.03 286.68 L 159.28 287.19 L 159.68 287.58 L 160.18 287.84 L 160.74 287.93 L 161.3 287.84 L 161.8 287.58 L 162.2 287.19 L 162.45 286.68 L 162.54 286.13 L 162.45 285.57 L 162.2 285.07 L 161.8 284.67 L 161.3 284.42 L 160.74 284.33 L 160.74 284.33 L 161.3 284.42 L 161.8 284.67 L 162.2 285.07 L 162.45 285.57 L 162.54 286.13 L 162.45 286.68 L 162.2 287.19 L 161.8 287.58 L 161.3 287.84 L 160.74 287.93 L 160.18 287.84 L 159.68 287.58 L 159.28 287.19 L 159.03 286.68 L 158.94 286.13 L 159.03 285.57 L 159.28 285.07 L 159.68 284.67 L 160.18 284.42 L 160.74 284.33 z " clip-path="url(#p9851077e19)" style="stroke: #000000"/><path d="M 177.13 284.33 L 176.58 284.42 L 176.08 284.67 L 175.68 285.07 L 175.42 285.57 L 175.33 286.13 L 175.42 286.68 L 175.68 287.19 L 176.08 287.58 L 176.58 287.84 L 177.13 287.93 L 177.69 287.84 L 178.19 287.58 L 178.59 287.19 L 178.85 286.68 L 178.94 286.13 L 178.85 285.57 L 178.59 285.07 L 178.19 284.67 L 177.69 284.42 L 177.13 284.33 L 177.13 284.33 L 177.69 284.42 L 178.19 284.67 L 178.59 285.07 L 178.85 285.57 L 178.94 286.13 L 178.85 286.68 L 178.59 287.19 L 178.19 287.58 L 177.69 287.84 L 177.13 287.93 L 176.58 287.84 L 176.08 287.58 L 175.68 287.19 L 175.42 286.68 L 175.33 286.13 L 175.42 285.57 L 175.68 285.07 L 176.08 284.67 L 176.58 284.42 L 177.13 284.33 z " clip-path="url(#p9851077e19)" style="stroke: #000000"/><path d="M 193.53 284.33 L 192.97 284.42 L 192.47 284.67 L 192.07 285.07 L 191.82 285.57 L 191.73 286.13 L 191.82 286.68 L 192.07 287.19 L 192.47 287.58 L 192.97 287.84 L 193.53 287.93 L 194.09 287.84 L 194.59 287.58 L 194.99 287.19 L 195.24 286.68 L 195.33 286.13 L 195.24 285.57 L 194.99 285.07 L 194.59 284.67 L 194.09 284.42 L 193.53 284.33 L 193.53 284.33 L 194.09 284.42 L 194.59 284.67 L 194.99 285.07 L 195.24 285.57 L 195.33 286.13 L 195.24 286.68 L 194.99 287.19 L 194.59 287.58 L 194.09 287.84 L 193.53 287.93 L 192.97 287.84 L 192.47 287.58 L 192.07 287.19 L 191.82 286.68 L 191.73 286.13 L 191.82 285.57 L 192.07 285.07 L 192.47 284.67 L 192.97 284.42 L 193.53 284.33 z " clip-path="url(#p9851077e19)" style="stroke: #000000"/><path d="M 204.62 283.31 L 215.22 288.95 L 213.24 287.89 L 212.77 290.36 L 213.24 287.89 z " clip-path="url(#p9851077e19)" style="stroke: #000000"/><path d="M 221.4 282.69 L 231.23 289.57 L 229.39 288.28 L 228.63 290.68 L 229.39 288.28 z " clip-path="url(#p9851077e19)" style="stroke: #000000"/><path d="M 240.66 280.49 L 244.76 291.77 L 244 289.65 L 242 291.18 L 244 289.65 z " clip-path="url(#p9851077e19)" style="stroke: #000000"/><path d="M 265.11 286.13 L 253.1 286.13 L 255.35 286.13 L 254.6 283.73 L 255.35 286.13 z " clip-path="url(#p9851077e19)" style="stroke: #000000"/><path d="M 281.3 284.57 L 269.7 287.68 L 267.01 283.43 L 269.7 287.68 z " clip-path="url(#p9851077e19)" style="stroke: #000000"/><path d="M 297.69 284.57 L 286.1 287.68 L 283.4 283.43 L 286.1 287.68 z " clip-path="url(#p9851077e19)" style="stroke: #000000"/><path d="M 313.93 284.08 L 302.65 288.18 L 304.76 287.41 L 303.24 285.41 L 304.76 287.41 z " clip-path="url(#p9851077e19)" style="stroke: #000000"/><path d="M 330.69 286.13 L 318.68 286.13 L 320.93 286.13 L 320.18 283.73 L 320.93 286.13 z " clip-path="url(#p9851077e19)" style="stroke: #000000"/><path d="M 341.08 284.33 L 340.52 284.42 L 340.02 284.67 L 339.62 285.07 L 339.37 285.57 L 339.28 286.13 L 339.37 286.68 L 339.62 287.19 L 340.02 287.58 L 340.52 287.84 L 341.08 287.93 L 341.63 287.84 L 342.14 287.58 L 342.54 287.19 L 342.79 286.68 L 342.88 286.13 L 342.79 285.57 L 342.54 285.07 L 342.14 284.67 L 341.63 284.42 L 341.08 284.33 L 341.08 284.33 L 341.63 284.42 L 342.14 284.67 L 342.54 285.07 L 342.79 285.57 L 342.88 286.13 L 342.79 286.68 L 342.54 287.19 L 342.14 287.58 L 341.63 287.84 L 341.08 287.93 L 340.52 287.84 L 340.02 287.58 L 339.62 287.19 L 339.37 286.68 L 339.28 286.13 L 339.37 285.57 L 339.62 285.07 L 340.02 284.67 L 340.52 284.42 L 341.08 284.33 z " clip-path="url(#p9851077e19)" style="stroke: #000000"/><path d="M 362.67 289.13 L 352.27 283.13 L 353.38 278.22 L 352.27 283.13 z " clip-path="url(#p9851077e19)" style="stroke: #000000"/><path d="M 379.87 286.13 L 367.86 286.13 L 370.12 286.13 L 369.37 283.73 L 370.12 286.13 z " clip-path="url(#p9851077e19)" style="stroke: #000000"/><path d="M 394.86 282.27 L 385.66 289.99 L 387.39 288.54 L 385.27 287.18 L 387.39 288.54 z " clip-path="url(#p9851077e19)" style="stroke: #000000"/><path d="M 412.1 283.59 L 401.22 288.66 L 403.26 287.71 L 401.56 285.85 L 403.26 287.71 z " clip-path="url(#p9851077e19)" style="stroke: #000000"/><path d="M 428.49 283.59 L 417.61 288.66 L 419.65 287.71 L 417.96 285.85 L 419.65 287.71 z " clip-path="url(#p9851077e19)" style="stroke: #000000"/><path d="M 445.42 285.6 L 433.47 286.65 L 431.55 282 L 433.47 286.65 z " clip-path="url(#p9851077e19)" style="stroke: #000000"/><path d="M 461.78 285.29 L 449.9 286.96 L 447.74 282.42 L 449.9 286.96 L 451.38 286.75 L 450.3 284.48 L 451.38 286.75 z " clip-path="url(#p9851077e19)" style="stroke: #000000"/><path d="M 478.24 286.13 L 466.23 286.13 L 464.73 281.33 L 466.23 286.13 z " clip-path="url(#p9851077e19)" style="stroke: #000000"/><path d="M 494.61 286.65 L 482.65 285.6 L 481.57 280.69 L 482.65 285.6 z " clip-path="url(#p9851077e19)" style="stroke: #000000"/><path d="M 511.02 286.13 L 499.02 286.13 L 497.52 281.33 L 499.02 286.13 z " clip-path="url(#p9851077e19)" style="stroke: #000000"/><path d="M 527.42 286.13 L 515.41 286.13 L 517.67 286.13 L 516.91 283.73 L 517.67 286.13 z " clip-path="url(#p9851077e19)" style="stroke: #000000"/><path d="M 543.16 283.4 L 532.46 288.85 L 534.47 287.83 L 532.71 286.03 L 534.47 287.83 z " clip-path="url(#p9851077e19)" style="stroke: #000000"/><path d="M 557.47 281.09 L 550.94 291.16 L 552.16 289.27 L 549.74 288.6 L 552.16 289.27 z " clip-path="url(#p9851077e19)" style="stroke: #000000"/><path d="M 566.36 281.88 L 574.84 290.37 L 573.25 288.78 L 572.09 291.01 L 573.25 288.78 z " clip-path="url(#p9851077e19)" style="stroke: #000000"/><path d="M 582.08 282.69 L 591.91 289.57 L 590.07 288.28 L 589.3 290.68 L 590.07 288.28 z " clip-path="url(#p9851077e19)" style="stroke: #000000"/><path d="M 599.14 281.88 L 607.63 290.37 L 606.04 288.78 L 604.87 291.01 L 606.04 288.78 z " clip-path="url(#p9851077e19)" style="stroke: #000000"/><path d="M 616.09 281.4 L 623.48 290.86 L 622.09 289.08 L 620.66 291.15 L 622.09 289.08 z " clip-path="url(#p9851077e19)" style="stroke: #000000"/><path d="M 636.18 284.33 L 635.62 284.42 L 635.12 284.67 L 634.72 285.07 L 634.46 285.57 L 634.38 286.13 L 634.46 286.68 L 634.72 287.19 L 635.12 287.58 L 635.62 287.84 L 636.18 287.93 L 636.73 287.84 L 637.24 287.58 L 637.63 287.19 L 637.89 286.68 L 637.98 286.13 L 637.89 285.57 L 637.63 285.07 L 637.24 284.67 L 636.73 284.42 L 636.18 284.33 L 636.18 284.33 L 636.73 284.42 L 637.24 284.67 L 637.63 285.07 L 637.89 285.57 L 637.98 286.13 L 637.89 286.68 L 637.63 287.19 L 637.24 287.58 L 636.73 287.84 L 636.18 287.93 L 635.62 287.84 L 635.12 287.58 L 634.72 287.19 L 634.46 286.68 L 634.38 286.13 L 634.46 285.57 L 634.72 285.07 L 635.12 284.67 L 635.62 284.42 L 636.18 284.33 z " clip-path="url(#p9851077e19)" style="stroke: #000000"/><path d="M 647.48 282.95 L 657.66 289.31 L 655.75 288.12 L 655.12 290.55 L 655.75 288.12 z " clip-path="url(#p9851077e19)" style="stroke: #000000"/><path d="M 667.62 280.28 L 670.32 291.98 L 669.81 289.78 L 667.64 291.05 L 669.81 289.78 z " clip-path="url(#p9851077e19)" style="stroke: #000000"/><path d="M 685.36 284.33 L 684.8 284.42 L 684.3 284.67 L 683.9 285.07 L 683.65 285.57 L 683.56 286.13 L 683.65 286.68 L 683.9 287.19 L 684.3 287.58 L 684.8 287.84 L 685.36 287.93 L 685.92 287.84 L 686.42 287.58 L 686.82 287.19 L 687.07 286.68 L 687.16 286.13 L 687.07 285.57 L 686.82 285.07 L 686.42 284.67 L 685.92 284.42 L 685.36 284.33 L 685.36 284.33 L 685.92 284.42 L 686.42 284.67 L 686.82 285.07 L 687.07 285.57 L 687.16 286.13 L 687.07 286.68 L 686.82 287.19 L 686.42 287.58 L 685.92 287.84 L 685.36 287.93 L 684.8 287.84 L 684.3 287.58 L 683.9 287.19 L 683.65 286.68 L 683.56 286.13 L 683.65 285.57 L 683.9 285.07 L 684.3 284.67 L 684.8 284.42 L 685.36 284.33 z " clip-path="url(#p9851077e19)" style="stroke: #000000"/><path d="M 701.76 284.33 L 701.2 284.42 L 700.7 284.67 L 700.3 285.07 L 700.04 285.57 L 699.95 286.13 L 700.04 286.68 L 700.3 287.19 L 700.7 287.58 L 701.2 287.84 L 701.76 287.93 L 702.31 287.84 L 702.81 287.58 L 703.21 287.19 L 703.47 286.68 L 703.56 286.13 L 703.47 285.57 L 703.21 285.07 L 702.81 284.67 L 702.31 284.42 L 701.76 284.33 L 701.76 284.33 L 702.31 284.42 L 702.81 284.67 L 703.21 285.07 L 703.47 285.57 L 703.56 286.13 L 703.47 286.68 L 703.21 287.19 L 702.81 287.58 L 702.31 287.84 L 701.76 287.93 L 701.2 287.84 L 700.7 287.58 L 700.3 287.19 L 700.04 286.68 L 699.95 286.13 L 700.04 285.57 L 700.3 285.07 L 700.7 284.67 L 701.2 284.42 L 701.76 284.33 z " clip-path="url(#p9851077e19)" style="stroke: #000000"/><path d="M 718.15 284.33 L 717.59 284.42 L 717.09 284.67 L 716.69 285.07 L 716.44 285.57 L 716.35 286.13 L 716.44 286.68 L 716.69 287.19 L 717.09 287.58 L 717.59 287.84 L 718.15 287.93 L 718.71 287.84 L 719.21 287.58 L 719.61 287.19 L 719.86 286.68 L 719.95 286.13 L 719.86 285.57 L 719.61 285.07 L 719.21 284.67 L 718.71 284.42 L 718.15 284.33 L 718.15 284.33 L 718.71 284.42 L 719.21 284.67 L 719.61 285.07 L 719.86 285.57 L 719.95 286.13 L 719.86 286.68 L 719.61 287.19 L 719.21 287.58 L 718.71 287.84 L 718.15 287.93 L 717.59 287.84 L 717.09 287.58 L 716.69 287.19 L 716.44 286.68 L 716.35 286.13 L 716.44 285.57 L 716.69 285.07 L 717.09 284.67 L 717.59 284.42 L 718.15 284.33 z " clip-path="url(#p9851077e19)" style="stroke: #000000"/><path d="M 730.15 282.03 L 738.93 290.22 L 737.29 288.69 L 736.2 290.95 L 737.29 288.69 z " clip-path="url(#p9851077e19)" style="stroke: #000000"/><path d="M 78.77 296.6 L 78.21 296.69 L 77.71 296.94 L 77.31 297.34 L 77.06 297.84 L 76.97 298.4 L 77.06 298.96 L 77.31 299.46 L 77.71 299.86 L 78.21 300.11 L 78.77 300.2 L 79.32 300.11 L 79.83 299.86 L 80.22 299.46 L 80.48 298.96 L 80.57 298.4 L 80.48 297.84 L 80.22 297.34 L 79.83 296.94 L 79.32 296.69 L 78.77 296.6 L 78.77 296.6 L 79.32 296.69 L 79.83 296.94 L 80.22 297.34 L 80.48 297.84 L 80.57 298.4 L 80.48 298.96 L 80.22 299.46 L 79.83 299.86 L 79.32 300.11 L 78.77 300.2 L 78.21 300.11 L 77.71 299.86 L 77.31 299.46 L 77.06 298.96 L 76.97 298.4 L 77.06 297.84 L 77.31 297.34 L 77.71 296.94 L 78.21 296.69 L 78.77 296.6 z " clip-path="url(#p9851077e19)" style="stroke: #000000"/><path d="M 95.16 296.6 L 94.61 296.69 L 94.1 296.94 L 93.71 297.34 L 93.45 297.84 L 93.36 298.4 L 93.45 298.96 L 93.71 299.46 L 94.1 299.86 L 94.61 300.11 L 95.16 300.2 L 95.72 300.11 L 96.22 299.86 L 96.62 299.46 L 96.88 298.96 L 96.96 298.4 L 96.88 297.84 L 96.62 297.34 L 96.22 296.94 L 95.72 296.69 L 95.16 296.6 L 95.16 296.6 L 95.72 296.69 L 96.22 296.94 L 96.62 297.34 L 96.88 297.84 L 96.96 298.4 L 96.88 298.96 L 96.62 299.46 L 96.22 299.86 L 95.72 300.11 L 95.16 300.2 L 94.61 300.11 L 94.1 299.86 L 93.71 299.46 L 93.45 298.96 L 93.36 298.4 L 93.45 297.84 L 93.71 297.34 L 94.1 296.94 L 94.61 296.69 L 95.16 296.6 z " clip-path="url(#p9851077e19)" style="stroke: #000000"/><path d="M 111.56 296.6 L 111 296.69 L 110.5 296.94 L 110.1 297.34 L 109.84 297.84 L 109.76 298.4 L 109.84 298.96 L 110.1 299.46 L 110.5 299.86 L 111 300.11 L 111.56 300.2 L 112.11 300.11 L 112.62 299.86 L 113.01 299.46 L 113.27 298.96 L 113.36 298.4 L 113.27 297.84 L 113.01 297.34 L 112.62 296.94 L 112.11 296.69 L 111.56 296.6 L 111.56 296.6 L 112.11 296.69 L 112.62 296.94 L 113.01 297.34 L 113.27 297.84 L 113.36 298.4 L 113.27 298.96 L 113.01 299.46 L 112.62 299.86 L 112.11 300.11 L 111.56 300.2 L 111 300.11 L 110.5 299.86 L 110.1 299.46 L 109.84 298.96 L 109.76 298.4 L 109.84 297.84 L 110.1 297.34 L 110.5 296.94 L 111 296.69 L 111.56 296.6 z " clip-path="url(#p9851077e19)" style="stroke: #000000"/><path d="M 127.95 296.6 L 127.39 296.69 L 126.89 296.94 L 126.49 297.34 L 126.24 297.84 L 126.15 298.4 L 126.24 298.96 L 126.49 299.46 L 126.89 299.86 L 127.39 300.11 L 127.95 300.2 L 128.51 300.11 L 129.01 299.86 L 129.41 299.46 L 129.66 298.96 L 129.75 298.4 L 129.66 297.84 L 129.41 297.34 L 129.01 296.94 L 128.51 296.69 L 127.95 296.6 L 127.95 296.6 L 128.51 296.69 L 129.01 296.94 L 129.41 297.34 L 129.66 297.84 L 129.75 298.4 L 129.66 298.96 L 129.41 299.46 L 129.01 299.86 L 128.51 300.11 L 127.95 300.2 L 127.39 300.11 L 126.89 299.86 L 126.49 299.46 L 126.24 298.96 L 126.15 298.4 L 126.24 297.84 L 126.49 297.34 L 126.89 296.94 L 127.39 296.69 L 127.95 296.6 z " clip-path="url(#p9851077e19)" style="stroke: #000000"/><path d="M 144.35 296.6 L 143.79 296.69 L 143.29 296.94 L 142.89 297.34 L 142.63 297.84 L 142.54 298.4 L 142.63 298.96 L 142.89 299.46 L 143.29 299.86 L 143.79 300.11 L 144.35 300.2 L 144.9 300.11 L 145.4 299.86 L 145.8 299.46 L 146.06 298.96 L 146.15 298.4 L 146.06 297.84 L 145.8 297.34 L 145.4 296.94 L 144.9 296.69 L 144.35 296.6 L 144.35 296.6 L 144.9 296.69 L 145.4 296.94 L 145.8 297.34 L 146.06 297.84 L 146.15 298.4 L 146.06 298.96 L 145.8 299.46 L 145.4 299.86 L 144.9 300.11 L 144.35 300.2 L 143.79 300.11 L 143.29 299.86 L 142.89 299.46 L 142.63 298.96 L 142.54 298.4 L 142.63 297.84 L 142.89 297.34 L 143.29 296.94 L 143.79 296.69 L 144.35 296.6 z " clip-path="url(#p9851077e19)" style="stroke: #000000"/><path d="M 160.74 296.6 L 160.18 296.69 L 159.68 296.94 L 159.28 297.34 L 159.03 297.84 L 158.94 298.4 L 159.03 298.96 L 159.28 299.46 L 159.68 299.86 L 160.18 300.11 L 160.74 300.2 L 161.3 300.11 L 161.8 299.86 L 162.2 299.46 L 162.45 298.96 L 162.54 298.4 L 162.45 297.84 L 162.2 297.34 L 161.8 296.94 L 161.3 296.69 L 160.74 296.6 L 160.74 296.6 L 161.3 296.69 L 161.8 296.94 L 162.2 297.34 L 162.45 297.84 L 162.54 298.4 L 162.45 298.96 L 162.2 299.46 L 161.8 299.86 L 161.3 300.11 L 160.74 300.2 L 160.18 300.11 L 159.68 299.86 L 159.28 299.46 L 159.03 298.96 L 158.94 298.4 L 159.03 297.84 L 159.28 297.34 L 159.68 296.94 L 160.18 296.69 L 160.74 296.6 z " clip-path="url(#p9851077e19)" style="stroke: #000000"/><path d="M 177.13 296.6 L 176.58 296.69 L 176.08 296.94 L 175.68 297.34 L 175.42 297.84 L 175.33 298.4 L 175.42 298.96 L 175.68 299.46 L 176.08 299.86 L 176.58 300.11 L 177.13 300.2 L 177.69 300.11 L 178.19 299.86 L 178.59 299.46 L 178.85 298.96 L 178.94 298.4 L 178.85 297.84 L 178.59 297.34 L 178.19 296.94 L 177.69 296.69 L 177.13 296.6 L 177.13 296.6 L 177.69 296.69 L 178.19 296.94 L 178.59 297.34 L 178.85 297.84 L 178.94 298.4 L 178.85 298.96 L 178.59 299.46 L 178.19 299.86 L 177.69 300.11 L 177.13 300.2 L 176.58 300.11 L 176.08 299.86 L 175.68 299.46 L 175.42 298.96 L 175.33 298.4 L 175.42 297.84 L 175.68 297.34 L 176.08 296.94 L 176.58 296.69 L 177.13 296.6 z " clip-path="url(#p9851077e19)" style="stroke: #000000"/><path d="M 193.53 296.6 L 192.97 296.69 L 192.47 296.94 L 192.07 297.34 L 191.82 297.84 L 191.73 298.4 L 191.82 298.96 L 192.07 299.46 L 192.47 299.86 L 192.97 300.11 L 193.53 300.2 L 194.09 300.11 L 194.59 299.86 L 194.99 299.46 L 195.24 298.96 L 195.33 298.4 L 195.24 297.84 L 194.99 297.34 L 194.59 296.94 L 194.09 296.69 L 193.53 296.6 L 193.53 296.6 L 194.09 296.69 L 194.59 296.94 L 194.99 297.34 L 195.24 297.84 L 195.33 298.4 L 195.24 298.96 L 194.99 299.46 L 194.59 299.86 L 194.09 300.11 L 193.53 300.2 L 192.97 300.11 L 192.47 299.86 L 192.07 299.46 L 191.82 298.96 L 191.73 298.4 L 191.82 297.84 L 192.07 297.34 L 192.47 296.94 L 192.97 296.69 L 193.53 296.6 z " clip-path="url(#p9851077e19)" style="stroke: #000000"/><path d="M 209.92 296.6 L 209.37 296.69 L 208.86 296.94 L 208.47 297.34 L 208.21 297.84 L 208.12 298.4 L 208.21 298.96 L 208.47 299.46 L 208.86 299.86 L 209.37 300.11 L 209.92 300.2 L 210.48 300.11 L 210.98 299.86 L 211.38 299.46 L 211.64 298.96 L 211.72 298.4 L 211.64 297.84 L 211.38 297.34 L 210.98 296.94 L 210.48 296.69 L 209.92 296.6 L 209.92 296.6 L 210.48 296.69 L 210.98 296.94 L 211.38 297.34 L 211.64 297.84 L 211.72 298.4 L 211.64 298.96 L 211.38 299.46 L 210.98 299.86 L 210.48 300.11 L 209.92 300.2 L 209.37 300.11 L 208.86 299.86 L 208.47 299.46 L 208.21 298.96 L 208.12 298.4 L 208.21 297.84 L 208.47 297.34 L 208.86 296.94 L 209.37 296.69 L 209.92 296.6 z " clip-path="url(#p9851077e19)" style="stroke: #000000"/><path d="M 226.32 296.6 L 225.76 296.69 L 225.26 296.94 L 224.86 297.34 L 224.6 297.84 L 224.52 298.4 L 224.6 298.96 L 224.86 299.46 L 225.26 299.86 L 225.76 300.11 L 226.32 300.2 L 226.87 300.11 L 227.38 299.86 L 227.77 299.46 L 228.03 298.96 L 228.12 298.4 L 228.03 297.84 L 227.77 297.34 L 227.38 296.94 L 226.87 296.69 L 226.32 296.6 L 226.32 296.6 L 226.87 296.69 L 227.38 296.94 L 227.77 297.34 L 228.03 297.84 L 228.12 298.4 L 228.03 298.96 L 227.77 299.46 L 227.38 299.86 L 226.87 300.11 L 226.32 300.2 L 225.76 300.11 L 225.26 299.86 L 224.86 299.46 L 224.6 298.96 L 224.52 298.4 L 224.6 297.84 L 224.86 297.34 L 225.26 296.94 L 225.76 296.69 L 226.32 296.6 z " clip-path="url(#p9851077e19)" style="stroke: #000000"/><path d="M 242.71 296.6 L 242.16 296.69 L 241.65 296.94 L 241.26 297.34 L 241 297.84 L 240.91 298.4 L 241 298.96 L 241.26 299.46 L 241.65 299.86 L 242.16 300.11 L 242.71 300.2 L 243.27 300.11 L 243.77 299.86 L 244.17 299.46 L 244.42 298.96 L 244.51 298.4 L 244.42 297.84 L 244.17 297.34 L 243.77 296.94 L 243.27 296.69 L 242.71 296.6 L 242.71 296.6 L 243.27 296.69 L 243.77 296.94 L 244.17 297.34 L 244.42 297.84 L 244.51 298.4 L 244.42 298.96 L 244.17 299.46 L 243.77 299.86 L 243.27 300.11 L 242.71 300.2 L 242.16 300.11 L 241.65 299.86 L 241.26 299.46 L 241 298.96 L 240.91 298.4 L 241 297.84 L 241.26 297.34 L 241.65 296.94 L 242.16 296.69 L 242.71 296.6 z " clip-path="url(#p9851077e19)" style="stroke: #000000"/><path d="M 259.11 296.6 L 258.55 296.69 L 258.05 296.94 L 257.65 297.34 L 257.39 297.84 L 257.31 298.4 L 257.39 298.96 L 257.65 299.46 L 258.05 299.86 L 258.55 300.11 L 259.11 300.2 L 259.66 300.11 L 260.16 299.86 L 260.56 299.46 L 260.82 298.96 L 260.91 298.4 L 260.82 297.84 L 260.56 297.34 L 260.16 296.94 L 259.66 296.69 L 259.11 296.6 L 259.11 296.6 L 259.66 296.69 L 260.16 296.94 L 260.56 297.34 L 260.82 297.84 L 260.91 298.4 L 260.82 298.96 L 260.56 299.46 L 260.16 299.86 L 259.66 300.11 L 259.11 300.2 L 258.55 300.11 L 258.05 299.86 L 257.65 299.46 L 257.39 298.96 L 257.31 298.4 L 257.39 297.84 L 257.65 297.34 L 258.05 296.94 L 258.55 296.69 L 259.11 296.6 z " clip-path="url(#p9851077e19)" style="stroke: #000000"/><path d="M 280.42 294.96 L 270.58 301.84 L 272.43 300.55 L 270.44 299.02 L 272.43 300.55 z " clip-path="url(#p9851077e19)" style="stroke: #000000"/><path d="M 296.63 294.7 L 287.17 302.1 L 288.94 300.71 L 286.87 299.28 L 288.94 300.71 z " clip-path="url(#p9851077e19)" style="stroke: #000000"/><path d="M 308.29 296.6 L 307.73 296.69 L 307.23 296.94 L 306.83 297.34 L 306.58 297.84 L 306.49 298.4 L 306.58 298.96 L 306.83 299.46 L 307.23 299.86 L 307.73 300.11 L 308.29 300.2 L 308.85 300.11 L 309.35 299.86 L 309.75 299.46 L 310 298.96 L 310.09 298.4 L 310 297.84 L 309.75 297.34 L 309.35 296.94 L 308.85 296.69 L 308.29 296.6 L 308.29 296.6 L 308.85 296.69 L 309.35 296.94 L 309.75 297.34 L 310 297.84 L 310.09 298.4 L 310 298.96 L 309.75 299.46 L 309.35 299.86 L 308.85 300.11 L 308.29 300.2 L 307.73 300.11 L 307.23 299.86 L 306.83 299.46 L 306.58 298.96 L 306.49 298.4 L 306.58 297.84 L 306.83 297.34 L 307.23 296.94 L 307.73 296.69 L 308.29 296.6 z " clip-path="url(#p9851077e19)" style="stroke: #000000"/><path d="M 324.68 296.6 L 324.13 296.69 L 323.63 296.94 L 323.23 297.34 L 322.97 297.84 L 322.88 298.4 L 322.97 298.96 L 323.23 299.46 L 323.63 299.86 L 324.13 300.11 L 324.68 300.2 L 325.24 300.11 L 325.74 299.86 L 326.14 299.46 L 326.4 298.96 L 326.48 298.4 L 326.4 297.84 L 326.14 297.34 L 325.74 296.94 L 325.24 296.69 L 324.68 296.6 L 324.68 296.6 L 325.24 296.69 L 325.74 296.94 L 326.14 297.34 L 326.4 297.84 L 326.48 298.4 L 326.4 298.96 L 326.14 299.46 L 325.74 299.86 L 325.24 300.11 L 324.68 300.2 L 324.13 300.11 L 323.63 299.86 L 323.23 299.46 L 322.97 298.96 L 322.88 298.4 L 322.97 297.84 L 323.23 297.34 L 323.63 296.94 L 324.13 296.69 L 324.68 296.6 z " clip-path="url(#p9851077e19)" style="stroke: #000000"/><path d="M 341.08 296.6 L 340.52 296.69 L 340.02 296.94 L 339.62 297.34 L 339.37 297.84 L 339.28 298.4 L 339.37 298.96 L 339.62 299.46 L 340.02 299.86 L 340.52 300.11 L 341.08 300.2 L 341.63 300.11 L 342.14 299.86 L 342.54 299.46 L 342.79 298.96 L 342.88 298.4 L 342.79 297.84 L 342.54 297.34 L 342.14 296.94 L 341.63 296.69 L 341.08 296.6 L 341.08 296.6 L 341.63 296.69 L 342.14 296.94 L 342.54 297.34 L 342.79 297.84 L 342.88 298.4 L 342.79 298.96 L 342.54 299.46 L 342.14 299.86 L 341.63 300.11 L 341.08 300.2 L 340.52 300.11 L 340.02 299.86 L 339.62 299.46 L 339.37 298.96 L 339.28 298.4 L 339.37 297.84 L 339.62 297.34 L 340.02 296.94 L 340.52 296.69 L 341.08 296.6 z " clip-path="url(#p9851077e19)" style="stroke: #000000"/><path d="M 362.77 301.22 L 352.17 295.58 L 354.16 296.64 L 354.63 294.17 L 354.16 296.64 z " clip-path="url(#p9851077e19)" style="stroke: #000000"/><path d="M 379.78 297.36 L 367.96 299.44 L 370.17 299.05 L 369.02 296.82 L 370.17 299.05 z " clip-path="url(#p9851077e19)" style="stroke: #000000"/><path d="M 392.31 292.76 L 388.21 304.04 L 388.98 301.93 L 386.47 301.81 L 388.98 301.93 z " clip-path="url(#p9851077e19)" style="stroke: #000000"/><path d="M 406.66 296.6 L 406.1 296.69 L 405.6 296.94 L 405.2 297.34 L 404.94 297.84 L 404.86 298.4 L 404.94 298.96 L 405.2 299.46 L 405.6 299.86 L 406.1 300.11 L 406.66 300.2 L 407.21 300.11 L 407.71 299.86 L 408.11 299.46 L 408.37 298.96 L 408.46 298.4 L 408.37 297.84 L 408.11 297.34 L 407.71 296.94 L 407.21 296.69 L 406.66 296.6 L 406.66 296.6 L 407.21 296.69 L 407.71 296.94 L 408.11 297.34 L 408.37 297.84 L 408.46 298.4 L 408.37 298.96 L 408.11 299.46 L 407.71 299.86 L 407.21 300.11 L 406.66 300.2 L 406.1 300.11 L 405.6 299.86 L 405.2 299.46 L 404.94 298.96 L 404.86 298.4 L 404.94 297.84 L 405.2 297.34 L 405.6 296.94 L 406.1 296.69 L 406.66 296.6 z " clip-path="url(#p9851077e19)" style="stroke: #000000"/><path d="M 427.29 294.16 L 418.81 302.64 L 420.4 301.05 L 418.17 299.89 L 420.4 301.05 z " clip-path="url(#p9851077e19)" style="stroke: #000000"/><path d="M 445.24 296.85 L 433.65 299.95 L 430.95 295.7 L 433.65 299.95 z " clip-path="url(#p9851077e19)" style="stroke: #000000"/><path d="M 461.64 296.85 L 450.04 299.95 L 447.35 295.7 L 450.04 299.95 z " clip-path="url(#p9851077e19)" style="stroke: #000000"/><path d="M 478.14 297.36 L 466.32 299.44 L 464.01 294.97 L 466.32 299.44 z " clip-path="url(#p9851077e19)" style="stroke: #000000"/><path d="M 494.63 298.4 L 482.63 298.4 L 484.88 298.4 L 484.13 296 L 484.88 298.4 z " clip-path="url(#p9851077e19)" style="stroke: #000000"/><path d="M 511.02 298.4 L 499.02 298.4 L 501.27 298.4 L 500.52 296 L 501.27 298.4 z " clip-path="url(#p9851077e19)" style="stroke: #000000"/><path d="M 527.42 298.4 L 515.41 298.4 L 517.67 298.4 L 516.91 296 L 517.67 298.4 z " clip-path="url(#p9851077e19)" style="stroke: #000000"/><path d="M 542.54 294.7 L 533.08 302.1 L 534.85 300.71 L 532.79 299.28 L 534.85 300.71 z " clip-path="url(#p9851077e19)" style="stroke: #000000"/><path d="M 554.21 292.4 L 554.21 304.4 L 554.21 302.15 L 551.8 302.9 L 554.21 302.15 z " clip-path="url(#p9851077e19)" style="stroke: #000000"/><path d="M 566.74 293.8 L 574.46 303 L 573.01 301.27 L 571.65 303.39 L 573.01 301.27 z " clip-path="url(#p9851077e19)" style="stroke: #000000"/><path d="M 583.38 293.61 L 590.61 303.19 L 589.25 301.4 L 587.79 303.44 L 589.25 301.4 z " clip-path="url(#p9851077e19)" style="stroke: #000000"/><path d="M 603.39 296.6 L 602.83 296.69 L 602.33 296.94 L 601.93 297.34 L 601.68 297.84 L 601.59 298.4 L 601.68 298.96 L 601.93 299.46 L 602.33 299.86 L 602.83 300.11 L 603.39 300.2 L 603.95 300.11 L 604.45 299.86 L 604.85 299.46 L 605.1 298.96 L 605.19 298.4 L 605.1 297.84 L 604.85 297.34 L 604.45 296.94 L 603.95 296.69 L 603.39 296.6 L 603.39 296.6 L 603.95 296.69 L 604.45 296.94 L 604.85 297.34 L 605.1 297.84 L 605.19 298.4 L 605.1 298.96 L 604.85 299.46 L 604.45 299.86 L 603.95 300.11 L 603.39 300.2 L 602.83 300.11 L 602.33 299.86 L 601.93 299.46 L 601.68 298.96 L 601.59 298.4 L 601.68 297.84 L 601.93 297.34 L 602.33 296.94 L 602.83 296.69 L 603.39 296.6 z " clip-path="url(#p9851077e19)" style="stroke: #000000"/><path d="M 614.69 295.22 L 624.87 301.58 L 622.96 300.39 L 622.33 302.82 L 622.96 300.39 z " clip-path="url(#p9851077e19)" style="stroke: #000000"/><path d="M 636.18 296.6 L 635.62 296.69 L 635.12 296.94 L 634.72 297.34 L 634.46 297.84 L 634.38 298.4 L 634.46 298.96 L 634.72 299.46 L 635.12 299.86 L 635.62 300.11 L 636.18 300.2 L 636.73 300.11 L 637.24 299.86 L 637.63 299.46 L 637.89 298.96 L 637.98 298.4 L 637.89 297.84 L 637.63 297.34 L 637.24 296.94 L 636.73 296.69 L 636.18 296.6 L 636.18 296.6 L 636.73 296.69 L 637.24 296.94 L 637.63 297.34 L 637.89 297.84 L 637.98 298.4 L 637.89 298.96 L 637.63 299.46 L 637.24 299.86 L 636.73 300.11 L 636.18 300.2 L 635.62 300.11 L 635.12 299.86 L 634.72 299.46 L 634.46 298.96 L 634.38 298.4 L 634.46 297.84 L 634.72 297.34 L 635.12 296.94 L 635.62 296.69 L 636.18 296.6 z " clip-path="url(#p9851077e19)" style="stroke: #000000"/><path d="M 652.57 296.6 L 652.02 296.69 L 651.51 296.94 L 651.12 297.34 L 650.86 297.84 L 650.77 298.4 L 650.86 298.96 L 651.12 299.46 L 651.51 299.86 L 652.02 300.11 L 652.57 300.2 L 653.13 300.11 L 653.63 299.86 L 654.03 299.46 L 654.28 298.96 L 654.37 298.4 L 654.28 297.84 L 654.03 297.34 L 653.63 296.94 L 653.13 296.69 L 652.57 296.6 L 652.57 296.6 L 653.13 296.69 L 653.63 296.94 L 654.03 297.34 L 654.28 297.84 L 654.37 298.4 L 654.28 298.96 L 654.03 299.46 L 653.63 299.86 L 653.13 300.11 L 652.57 300.2 L 652.02 300.11 L 651.51 299.86 L 651.12 299.46 L 650.86 298.96 L 650.77 298.4 L 650.86 297.84 L 651.12 297.34 L 651.51 296.94 L 652.02 296.69 L 652.57 296.6 z " clip-path="url(#p9851077e19)" style="stroke: #000000"/><path d="M 666.24 293.05 L 671.69 303.75 L 670.67 301.74 L 668.87 303.5 L 670.67 301.74 z " clip-path="url(#p9851077e19)" style="stroke: #000000"/><path d="M 685.36 296.6 L 684.8 296.69 L 684.3 296.94 L 683.9 297.34 L 683.65 297.84 L 683.56 298.4 L 683.65 298.96 L 683.9 299.46 L 684.3 299.86 L 684.8 300.11 L 685.36 300.2 L 685.92 300.11 L 686.42 299.86 L 686.82 299.46 L 687.07 298.96 L 687.16 298.4 L 687.07 297.84 L 686.82 297.34 L 686.42 296.94 L 685.92 296.69 L 685.36 296.6 L 685.36 296.6 L 685.92 296.69 L 686.42 296.94 L 686.82 297.34 L 687.07 297.84 L 687.16 298.4 L 687.07 298.96 L 686.82 299.46 L 686.42 299.86 L 685.92 300.11 L 685.36 300.2 L 684.8 300.11 L 684.3 299.86 L 683.9 299.46 L 683.65 298.96 L 683.56 298.4 L 683.65 297.84 L 683.9 297.34 L 684.3 296.94 L 684.8 296.69 L 685.36 296.6 z " clip-path="url(#p9851077e19)" style="stroke: #000000"/><path d="M 701.76 296.6 L 701.2 296.69 L 700.7 296.94 L 700.3 297.34 L 700.04 297.84 L 699.95 298.4 L 700.04 298.96 L 700.3 299.46 L 700.7 299.86 L 701.2 300.11 L 701.76 300.2 L 702.31 300.11 L 702.81 299.86 L 703.21 299.46 L 703.47 298.96 L 703.56 298.4 L 703.47 297.84 L 703.21 297.34 L 702.81 296.94 L 702.31 296.69 L 701.76 296.6 L 701.76 296.6 L 702.31 296.69 L 702.81 296.94 L 703.21 297.34 L 703.47 297.84 L 703.56 298.4 L 703.47 298.96 L 703.21 299.46 L 702.81 299.86 L 702.31 300.11 L 701.76 300.2 L 701.2 300.11 L 700.7 299.86 L 700.3 299.46 L 700.04 298.96 L 699.95 298.4 L 700.04 297.84 L 700.3 297.34 L 700.7 296.94 L 701.2 296.69 L 701.76 296.6 z " clip-path="url(#p9851077e19)" style="stroke: #000000"/><path d="M 718.15 296.6 L 717.59 296.69 L 717.09 296.94 L 716.69 297.34 L 716.44 297.84 L 716.35 298.4 L 716.44 298.96 L 716.69 299.46 L 717.09 299.86 L 717.59 300.11 L 718.15 300.2 L 718.71 300.11 L 719.21 299.86 L 719.61 299.46 L 719.86 298.96 L 719.95 298.4 L 719.86 297.84 L 719.61 297.34 L 719.21 296.94 L 718.71 296.69 L 718.15 296.6 L 718.15 296.6 L 718.71 296.69 L 719.21 296.94 L 719.61 297.34 L 719.86 297.84 L 719.95 298.4 L 719.86 298.96 L 719.61 299.46 L 719.21 299.86 L 718.71 300.11 L 718.15 300.2 L 717.59 300.11 L 717.09 299.86 L 716.69 299.46 L 716.44 298.96 L 716.35 298.4 L 716.44 297.84 L 716.69 297.34 L 717.09 296.94 L 717.59 296.69 L 718.15 296.6 z " clip-path="url(#p9851077e19)" style="stroke: #000000"/><path d="M 731.73 293.1 L 737.36 303.7 L 736.31 301.71 L 734.54 303.5 L 736.31 301.71 z " clip-path="url(#p9851077e19)" style="stroke: #000000"/></g><g id="matplotlib.axis_1"><g id="xtick_1"><g id="line2d_1"><path shape-rendering="crispEdges" d="M 177.13 301.32 L 177.13 40.68 " clip-path="url(#p9851077e19)" style="fill: none; stroke-dasharray: 2.4,1.04; stroke-dashoffset: 0; stroke: #000000; stroke-opacity: 0.85; stroke-width: 0.72"/></g><g id="line2d_2"><g><path shape-rendering="crispEdges" d="M 0 0 L 0 4 " transform="translate(177.13 301.32)" style="stroke: #000000; stroke-width: 0.72;stroke: #000000; stroke-width: 0.72"/></g></g></g><g id="xtick_2"><g id="line2d_3"><path shape-rendering="crispEdges" d="M 308.29 301.32 L 308.29 40.68 " clip-path="url(#p9851077e19)" style="fill: none; stroke-dasharray: 2.4,1.04; stroke-dashoffset: 0; stroke: #000000; stroke-opacity: 0.85; stroke-width: 0.72"/></g><g id="line2d_4"><g><path shape-rendering="crispEdges" d="M 0 0 L 0 4 " transform="translate(308.29 301.32)" style="stroke: #000000; stroke-width: 0.72;stroke: #000000; stroke-width: 0.72"/></g></g></g><g id="xtick_3"><g id="line2d_5"><path shape-rendering="crispEdges" d="M 439.44 301.32 L 439.44 40.68 " clip-path="url(#p9851077e19)" style="fill: none; stroke-dasharray: 2.4,1.04; stroke-dashoffset: 0; stroke: #000000; stroke-opacity: 0.85; stroke-width: 0.72"/></g><g id="line2d_6"><g><path shape-rendering="crispEdges" d="M 0 0 L 0 4 " transform="translate(439.44 301.32)" style="stroke: #000000; stroke-width: 0.72;stroke: #000000; stroke-width: 0.72"/></g></g></g><g id="xtick_4"><g id="line2d_7"><path shape-rendering="crispEdges" d="M 570.6 301.32 L 570.6 40.68 " clip-path="url(#p9851077e19)" style="fill: none; stroke-dasharray: 2.4,1.04; stroke-dashoffset: 0; stroke: #000000; stroke-opacity: 0.85; stroke-width: 0.72"/></g><g id="line2d_8"><g><path shape-rendering="crispEdges" d="M 0 0 L 0 4 " transform="translate(570.6 301.32)" style="stroke: #000000; stroke-width: 0.72;stroke: #000000; stroke-width: 0.72"/></g></g></g><g id="xtick_5"><g id="line2d_9"><path shape-rendering="crispEdges" d="M 701.76 301.32 L 701.76 40.68 " clip-path="url(#p9851077e19)" style="fill: none; stroke-dasharray: 2.4,1.04; stroke-dashoffset: 0; stroke: #000000; stroke-opacity: 0.85; stroke-width: 0.72"/></g><g id="line2d_10"><g><path shape-rendering="crispEdges" d="M 0 0 L 0 4 " transform="translate(701.76 301.32)" style="stroke: #000000; stroke-width: 0.72;stroke: #000000; stroke-width: 0.72"/></g></g></g><g id="xtick_6"><g id="line2d_11"><g><path shape-rendering="crispEdges" d="M 0 0 L 0 2 " transform="translate(111.56 301.32)" style="stroke: #000000; stroke-width: 0.72;stroke: #000000; stroke-width: 0.72"/></g></g></g><g id="xtick_7"><g id="line2d_12"><g><path shape-rendering="crispEdges" d="M 0 0 L 0 2 " transform="translate(242.71 301.32)" style="stroke: #000000; stroke-width: 0.72;stroke: #000000; stroke-width: 0.72"/></g></g></g><g id="xtick_8"><g id="line2d_13"><g><path shape-rendering="crispEdges" d="M 0 0 L 0 2 " transform="translate(373.87 301.32)" style="stroke: #000000; stroke-width: 0.72;stroke: #000000; stroke-width: 0.72"/></g></g></g><g id="xtick_9"><g id="line2d_14"><g><path shape-rendering="crispEdges" d="M 0 0 L 0 2 " transform="translate(505.02 301.32)" style="stroke: #000000; stroke-width: 0.72;stroke: #000000; stroke-width: 0.72"/></g></g></g><g id="xtick_10"><g id="line2d_15"><g><path shape-rendering="crispEdges" d="M 0 0 L 0 2 " transform="translate(636.18 301.32)" style="stroke: #000000; stroke-width: 0.72;stroke: #000000; stroke-width: 0.72"/></g></g></g></g><g id="matplotlib.axis_2"><g id="ytick_1"><g id="line2d_16"><path shape-rendering="crispEdges" d="M 62.28 40.68 L 751.32 40.68 " clip-path="url(#p9851077e19)" style="fill: none; stroke: #b0b0b0; stroke-width: 0.72; stroke-linecap: square"/></g><g id="line2d_17"><g><path shape-rendering="crispEdges" d="M 0 0 L -3.5 0 " transform="translate(62.28 40.68)" style="stroke: #000000; stroke-width: 0.72;stroke: #000000; stroke-width: 0.72"/></g></g><g id="text_1"><text style="font-size: 10px; font-family: 'DejaVu Sans', 'Liberation Sans', sans-serif; text-anchor: end" x="55.28" y="44.48" transform="rotate(-0 55.28 44.48)">400</text></g></g><g id="ytick_2"><g id="line2d_18"><path shape-rendering="crispEdges" d="M 62.28 89.77 L 751.32 89.77 " clip-path="url(#p9851077e19)" style="fill: none; stroke: #b0b0b0; stroke-width: 0.72; stroke-linecap: square"/></g><g id="line2d_19"><g><path shape-rendering="crispEdges" d="M 0 0 L -3.5 0 " transform="translate(62.28 89.77)" style="stroke: #000000; stroke-width: 0.72;stroke: #000000; stroke-width: 0.72"/></g></g><g id="text_2"><text style="font-size: 10px; font-family: 'DejaVu Sans', 'Liberation Sans', sans-serif; text-anchor: end" x="55.28" y="93.57" transform="rotate(-0 55.28 93.57)">500</text></g></g><g id="ytick_3"><g id="line2d_20"><path shape-rendering="crispEdges" d="M 62.28 138.86 L 751.32 138.86 " clip-path="url(#p9851077e19)" style="fill: none; stroke: #b0b0b0; stroke-width: 0.72; stroke-linecap: square"/></g><g id="line2d_21"><g><path shape-rendering="crispEdges" d="M 0 0 L -3.5 0 " transform="translate(62.28 138.86)" style="stroke: #000000; stroke-width: 0.72;stroke: #000000; stroke-width: 0.72"/></g></g><g id="text_3"><text style="font-size: 10px; font-family: 'DejaVu Sans', 'Liberation Sans', sans-serif; text-anchor: end" x="55.28" y="142.66" transform="rotate(-0 55.28 142.66)">600</text></g></g><g id="ytick_4"><g id="line2d_22"><path shape-rendering="crispEdges" d="M 62.28 187.95 L 751.32 187.95 " clip-path="url(#p9851077e19)" style="fill: none; stroke: #b0b0b0; stroke-width: 0.72; stroke-linecap: square"/></g><g id="line2d_23"><g><path shape-rendering="crispEdges" d="M 0 0 L -3.5 0 " transform="translate(62.28 187.95)" style="stroke: #000000; stroke-width: 0.72;stroke: #000000; stroke-width: 0.72"/></g></g><g id="text_4"><text style="font-size: 10px; font-family: 'DejaVu Sans', 'Liberation Sans', sans-serif; text-anchor: end" x="55.28" y="191.75" transform="rotate(-0 55.28 191.75)">700</text></g></g><g id="ytick_5"><g id="line2d_24"><path shape-rendering="crispEdges" d="M 62.28 237.04 L 751.32 237.04 " clip-path="url(#p9851077e19)" style="fill: none; stroke: #b0b0b0; stroke-width: 0.72; stroke-linecap: square"/></g><g id="line2d_25"><g><path shape-rendering="crispEdges" d="M 0 0 L -3.5 0 " transform="translate(62.28 237.04)" style="stroke: #000000; stroke-width: 0.72;stroke: #000000; stroke-width: 0.72"/></g></g><g id="text_5"><text style="font-size: 10px; font-family: 'DejaVu Sans', 'Liberation Sans', sans-serif; text-anchor: end" x="55.28" y="240.84" transform="rotate(-0 55.28 240.84)">800</text></g></g><g id="ytick_6"><g id="line2d_26"><path shape-rendering="crispEdges" d="M 62.28 286.13 L 751.32 286.13 " clip-path="url(#p9851077e19)" style="fill: none; stroke: #b0b0b0; stroke-width: 0.72; stroke-linecap: square"/></g><g id="line2d_27"><g><path shape-rendering="crispEdges" d="M 0 0 L -3.5 0 " transform="translate(62.28 286.13)" style="stroke: #000000; stroke-width: 0.72;stroke: #000000; stroke-width: 0.72"/></g></g><g id="text_6"><text style="font-size: 10px; font-family: 'DejaVu Sans', 'Liberation Sans', sans-serif; text-anchor: end" x="55.28" y="289.93" transform="rotate(-0 55.28 289.93)">900</text></g></g></g><g id="line2d_28"><path d="M 78.77 46.51 L 95.33 44.24 L 111.53 47.08 L 128.09 45.66 L 132.41 45.96 " clip-path="url(#p9851077e19)" style="fill: none; stroke: #8707a6; stroke-width: 1.6; stroke-linejoin: miter; stroke-linecap: square"/></g><g id="line2d_29"><path d="M 155.81 47.5 L 160.85 47.81 L 177.05 48.38 L 193.61 46.21 L 209.81 43.86 L 226.37 40.82 L 242.57 38.9 L 259.13 40.32 L 275.33 41.74 L 275.69 41.76 L 291.89 41.76 L 308.45 45.1 L 324.65 47.8 L 341.21 49.25 L 357.41 49.03 L 373.97 58.34 L 390.17 61.9 L 406.73 69.2 L 422.93 86.27 L 439.49 85.4 L 455.69 88.6 L 472.25 75.73 L 488.45 64.21 L 488.81 64.07 L 505.01 62.79 L 521.57 61.06 L 537.77 61.63 L 543.17 60.79 " clip-path="url(#p9851077e19)" style="fill: none; stroke: #8707a6; stroke-width: 1.6; stroke-linejoin: miter; stroke-linecap: square"/></g><g id="line2d_30"><path d="M 566.57 55.29 L 570.53 54.09 L 587.09 52.49 L 603.29 53.2 L 619.85 51.69 L 636.05 49.05 L 652.61 46.58 L 668.81 45.09 L 685.37 43.56 L 701.57 43.49 L 701.93 43.48 L 718.13 42.84 L 734.33 43.91 " clip-path="url(#p9851077e19)" style="fill: none; stroke: #8707a6; stroke-width: 1.6; stroke-linejoin: miter; stroke-linecap: square"/></g><g id="line2d_31"><path d="M 78.77 81.79 L 95.33 81.21 L 111.53 80.57 L 128.09 80.94 L 144.29 81.79 L 160.85 80.6 L 177.05 85.72 L 193.61 81.77 L 209.81 78.22 L 226.37 71.57 L 242.57 72.14 L 259.13 73.59 L 275.33 78.78 L 275.69 78.9 L 291.89 84.17 L 308.45 80.59 L 324.65 82.36 L 341.21 85.41 L 357.41 88.05 L 373.97 95.66 L 390.17 102.2 L 406.73 114.97 L 422.93 127.49 L 439.49 136.02 L 455.69 142.21 L 472.25 122.53 L 488.45 108.44 L 488.81 108.17 L 505.01 97.71 L 521.57 91.7 L 537.77 95.89 L 546.77 93.07 " clip-path="url(#p9851077e19)" style="fill: none; stroke: #b12a90; stroke-width: 1.6; stroke-linejoin: miter; stroke-linecap: square"/></g><g id="line2d_32"><path d="M 568.73 87.08 L 570.53 86.63 L 587.09 84.16 L 603.29 83.6 L 619.85 82.37 L 636.05 83.8 L 652.61 81.79 L 668.81 79.72 L 685.37 80.35 L 701.57 80 L 701.93 79.98 L 718.13 78.99 L 734.33 78.98 " clip-path="url(#p9851077e19)" style="fill: none; stroke: #b12a90; stroke-width: 1.6; stroke-linejoin: miter; stroke-linecap: square"/></g><g id="line2d_33"><path d="M 78.77 121.82 L 95.33 120.37 L 111.53 118.87 L 128.09 118.44 L 144.29 118.8 L 160.85 118.47 L 177.05 122.52 L 193.61 120.37 L 209.81 118.53 L 226.37 113.48 L 242.57 114.9 L 259.13 119.53 L 275.33 123.3 L 275.69 123.39 L 291.89 127.94 L 308.45 128.18 L 324.65 130.6 L 341.21 133.02 L 357.41 137.22 L 373.97 143.1 L 390.17 161.18 L 406.73 173.03 L 422.93 176.09 L 439.49 189.76 L 455.69 206.27 L 472.25 201.86 L 478.37 188.11 L 488.45 176.32 L 488.81 175.95 L 505.01 161.29 L 521.57 149.85 L 537.77 143.87 L 554.33 142.36 L 570.53 135.18 L 587.09 135.06 L 603.29 132.42 L 619.85 129.95 L 627.41 128.45 " clip-path="url(#p9851077e19)" style="fill: none; stroke: #d14e72; stroke-width: 1.6; stroke-linejoin: miter; stroke-linecap: square"/></g><g id="line2d_34"><path d="M 644.33 125.11 L 652.61 123.48 L 668.81 122.2 L 685.37 122.18 L 701.57 120.97 L 701.93 120.92 L 718.13 117.36 L 734.33 115.58 " clip-path="url(#p9851077e19)" style="fill: none; stroke: #d14e72; stroke-width: 1.6; stroke-linejoin: miter; stroke-linecap: square"/></g><g id="line2d_35"><path d="M 78.77 170.28 L 95.33 174.2 L 111.53 170.57 L 128.09 172.09 L 144.29 181.91 L 160.85 175.22 L 177.05 171.17 L 193.61 181.62 L 209.81 174.29 L 226.37 168.03 L 242.57 161.41 L 259.13 174.9 L 275.33 185.08 L 275.69 185.17 L 291.89 184.18 L 308.45 184.4 L 324.65 185.4 L 341.21 193.52 L 357.41 200.85 L 373.97 223.15 L 390.17 226.21 L 406.73 237.97 L 422.93 240.46 L 439.49 251.01 L 455.69 257.7 L 472.25 263.96 L 488.45 272.14 L 488.81 271.99 L 505.01 249.79 L 521.57 237.08 L 528.05 224.07 L 537.77 215.75 L 546.77 211.97 L 554.33 206.39 L 564.05 203.96 " clip-path="url(#p9851077e19)" style="fill: none; stroke: #ea7457; stroke-width: 1.6; stroke-linejoin: miter; stroke-linecap: square"/></g><g id="line2d_36"><path d="M 577.01 200.43 L 587.09 197.46 L 603.29 190.41 L 619.85 180.71 L 636.05 177.01 L 652.61 174.02 L 668.81 172.46 L 685.37 171.14 L 701.57 169.93 L 701.93 169.87 L 718.13 165.46 L 734.33 160.77 " clip-path="url(#p9851077e19)" style="fill: none; stroke: #ea7457; stroke-width: 1.6; stroke-linejoin: miter; stroke-linecap: square"/></g><g id="line2d_37"><path d="M 78.77 228.24 L 95.33 227.24 L 111.53 228.31 L 128.09 228.09 L 144.29 227.24 L 153.65 226.86 " clip-path="url(#p9851077e19)" style="fill: none; stroke: #fa9e3b; stroke-width: 1.6; stroke-linejoin: miter; stroke-linecap: square"/></g><g id="line2d_38"><path d="M 166.97 226.91 L 177.05 227.44 L 193.61 231.55 L 209.81 230.84 L 226.37 223.12 L 242.57 221.06 L 259.13 225.02 L 275.33 240.89 L 275.69 241.11 L 291.89 245.66 L 308.45 244.92 L 324.65 257.16 L 341.21 256.03 L 357.41 265.14 L 373.97 299.18 L 390.17 290.35 L 406.73 288.75 L 422.93 294.87 L 430.85 301.97 " clip-path="url(#p9851077e19)" style="fill: none; stroke: #fa9e3b; stroke-width: 1.6; stroke-linejoin: miter; stroke-linecap: square"/></g><g id="line2d_39"><path d="M 78.77 295.78 L 88.13 298.56 " clip-path="url(#p9851077e19)" style="fill: none; stroke: #fa9e3b; stroke-width: 1.6; stroke-linejoin: miter; stroke-linecap: square"/></g><g id="line2d_40"><path d="M 534.1 300.82 L 537.7 300.82 " clip-path="url(#p9851077e19)" style="fill: none; stroke: #fa9e3b; stroke-width: 1.6; stroke-linejoin: miter; stroke-linecap: square"/></g><g id="line2d_41"><path d="M 550.8 300.82 L 569.88 300.82 L 572.04 298.1 L 576.36 291.24 L 581.4 284.98 L 587.16 277.23 L 594.36 260.86 L 603.36 248.76 L 619.92 241.3 L 636.12 236.76 L 652.68 233.91 L 668.88 229.7 L 678.6 227.14 " clip-path="url(#p9851077e19)" style="fill: none; stroke: #fa9e3b; stroke-width: 1.6; stroke-linejoin: miter; stroke-linecap: square"/></g><g id="line2d_42"><path d="M 691.56 224.38 L 701.64 222.79 L 718.2 221.54 L 734.4 219.19 " clip-path="url(#p9851077e19)" style="fill: none; stroke: #fa9e3b; stroke-width: 1.6; stroke-linejoin: miter; stroke-linecap: square"/></g><g id="line2d_43"><path d="M 572.11 298.01 L 581.47 301.22 " clip-path="url(#p9851077e19)" style="fill: none; stroke: #fa9e3b; stroke-width: 1.6; stroke-linejoin: miter; stroke-linecap: square"/></g><g id="line2d_44"><path d="M 419.04 39.6 L 420.12 41.29 L 429.12 47.35 " clip-path="url(#p9851077e19)" style="fill: none; stroke: #5601a4; stroke-width: 1.6; stroke-linejoin: miter; stroke-linecap: square"/></g><g id="line2d_45"><path d="M 449.28 47.72 L 456.84 43.28 L 458.64 40.55 " clip-path="url(#p9851077e19)" style="fill: none; stroke: #5601a4; stroke-width: 1.6; stroke-linejoin: miter; stroke-linecap: square"/></g><g id="patch_3"><path d="M 240.62 285.84 L 242.28 284.26 L 245.88 285.84 L 243.36 287.14 L 241.56 286.99 z " clip-path="url(#p9851077e19)" style="fill: #fcce25; stroke: #fcce25; stroke-width: 0.5; stroke-linejoin: miter"/></g><g id="patch_4"><path shape-rendering="crispEdges" d="M 62.28 301.32 L 62.28 40.68 " style="fill: none; stroke: #000000; stroke-width: 0.72; stroke-linejoin: miter; stroke-linecap: square"/></g><g id="patch_5"><path shape-rendering="crispEdges" d="M 751.32 301.32 L 751.32 40.68 " style="fill: none; stroke: #000000; stroke-width: 0.72; stroke-linejoin: miter; stroke-linecap: square"/></g><g id="patch_6"><path shape-rendering="crispEdges" d="M 62.28 301.32 L 751.32 301.32 " style="fill: none; stroke: #000000; stroke-width: 0.72; stroke-linejoin: miter; stroke-linecap: square"/></g><g id="patch_7"><path shape-rendering="crispEdges" d="M 62.28 40.68 L 751.32 40.68 " style="fill: none; stroke: #000000; stroke-width: 0.72; stroke-linejoin: miter; stroke-linecap: square"/></g><g id="text_7"><g clip-path="url(#p9851077e19)"><text style="font-size: 10px; font-family: 'DejaVu Sans', 'Liberation Sans', sans-serif; text-anchor: middle; fill: #8707a6" x="144" y="51" transform="rotate(-0 144 51)">-24</text></g></g><g id="text_8"><g clip-path="url(#p9851077e19)"><text style="font-size: 10px; font-family: 'DejaVu Sans', 'Liberation Sans', sans-serif; fill: #8707a6" transform="translate(547.06 63.27) rotate(-8)">-24</text></g></g><g id="text_9"><g clip-path="url(#p9851077e19)"><text style="font-size: 10px; font-family: 'DejaVu Sans', 'Liberation Sans', sans-serif; fill: #b12a90" transform="translate(551.59 94.11) rotate(-12)">-16</text></g></g><g id="text_10"><g clip-path="url(#p9851077e19)"><text style="font-size: 10px; font-family: 'DejaVu Sans', 'Liberation Sans', sans-serif; fill: #d14e72" transform="translate(632.12 131.67) rotate(-10)">-8</text></g></g><g id="text_11"><g clip-path="url(#p9851077e19)"><text style="font-size: 10px; font-family: 'DejaVu Sans', 'Liberation Sans', sans-serif; fill: #ea7457" transform="translate(568.67 206.67) rotate(-10)">0</text></g></g><g id="text_12"><g clip-path="url(#p9851077e19)"><text style="font-size: 10px; font-family: 'DejaVu Sans', 'Liberation Sans', sans-serif; text-anchor: middle; fill: #fa9e3b" x="159.98" y="230.06" transform="rotate(-0 159.98 230.06)">8</text></g></g><g id="text_13"><g clip-path="url(#p9851077e19)"><text style="font-size: 10px; font-family: 'DejaVu Sans', 'Liberation Sans', sans-serif; fill: #fa9e3b" transform="translate(682.31 229.62) rotate(-8)">8</text></g></g><g id="text_14"><g clip-path="url(#p9851077e19)"><text style="font-size: 10px; font-family: 'DejaVu Sans', 'Liberation Sans', sans-serif; text-anchor: middle; fill: #5601a4" x="438.91" y="56.54" transform="rotate(-0 438.91 56.54)">-32</text></g></g><g id="text_15"><g clip-path="url(#p9851077e19)"><text style="font-size: 10px; font-family: 'DejaVu Sans', 'Liberation Sans', sans-serif; text-anchor: middle; fill: #fa9e3b" x="95.04" y="302.42" transform="rotate(-0 95.04 302.42)">8</text></g></g><g id="text_16"><text style="font-size: 8.33px; font-family: 'DejaVu Sans', 'Liberation Sans', sans-serif; text-anchor: start; fill: #ffffff; opacity: 0.65" x="80.28" y="297.86" transform="rotate(-0 80.28 297.86)">© Meteorological Institute Munich</text></g></g><g id="axes_2"><g id="patch_8"><path d="M 757.08 301.32 L 788.04 301.32 L 788.04 40.68 L 757.08 40.68 z " style="fill: #ffffff"/></g><g id="patch_9"><path d="M 757.08 301.32 L 788.04 301.32 L 788.04 268.74 L 757.08 268.74 z " clip-path="url(#p7bbf53f812)" style="fill: #528ab9"/></g><g id="patch_10"><path d="M 757.08 268.74 L 788.04 268.74 L 788.04 236.16 L 757.08 236.16 z " clip-path="url(#p7bbf53f812)" style="fill: #699ac2"/></g><g id="patch_11"><path d="M 757.08 236.16 L 788.04 236.16 L 788.04 203.58 L 757.08 203.58 z " clip-path="url(#p7bbf53f812)" style="fill: #80a9cc"/></g><g id="patch_12"><path d="M 757.08 203.58 L 788.04 203.58 L 788.04 171 L 757.08 171 z " clip-path="url(#p7bbf53f812)" style="fill: #97b9d5"/></g><g id="patch_13"><path d="M 757.08 171 L 788.04 171 L 788.04 138.42 L 757.08 138.42 z " clip-path="url(#p7bbf53f812)" style="fill: #aec9de"/></g><g id="patch_14"><path d="M 757.08 138.42 L 788.04 138.42 L 788.04 105.84 L 757.08 105.84 z " clip-path="url(#p7bbf53f812)" style="fill: #c6d8e8"/></g><g id="patch_15"><path d="M 757.08 105.84 L 788.04 105.84 L 788.04 73.26 L 757.08 73.26 z " clip-path="url(#p7bbf53f812)" style="fill: #dde8f1"/></g><g id="patch_16"><path d="M 757.08 73.26 L 788.04 73.26 L 788.04 40.68 L 757.08 40.68 z " clip-path="url(#p7bbf53f812)" style="fill: #f4f8fb"/></g><g id="matplotlib.axis_3"/><g id="matplotlib.axis_4"><g id="ytick_7"><g id="line2d_46"><g><path shape-rendering="crispEdges" d="M 0 0 L 3.5 0 " transform="translate(788.04 301.32)" style="stroke: #000000; stroke-width: 0.72;stroke: #000000; stroke-width: 0.72"/></g></g><g id="text_17"><text style="font-size: 10px; font-family: 'DejaVu Sans', 'Liberation Sans', sans-serif; text-anchor: start" x="794.04" y="305.12" transform="rotate(-0 794.04 305.12)">0/8</text></g></g><g id="ytick_8"><g id="line2d_47"><g><path shape-rendering="crispEdges" d="M 0 0 L 3.5 0 " transform="translate(788.04 268.74)" style="stroke: #000000; stroke-width: 0.72;stroke: #000000; stroke-width: 0.72"/></g></g><g id="text_18"><text style="font-size: 10px; font-family: 'DejaVu Sans', 'Liberation Sans', sans-serif; text-anchor: start" x="794.04" y="272.54" transform="rotate(-0 794.04 272.54)">1/8</text></g></g><g id="ytick_9"><g id="line2d_48"><g><path shape-rendering="crispEdges" d="M 0 0 L 3.5 0 " transform="translate(788.04 236.16)" style="stroke: #000000; stroke-width: 0.72;stroke: #000000; stroke-width: 0.72"/></g></g><g id="text_19"><text style="font-size: 10px; font-family: 'DejaVu Sans', 'Liberation Sans', sans-serif; text-anchor: start" x="794.04" y="239.96" transform="rotate(-0 794.04 239.96)">2/8</text></g></g><g id="ytick_10"><g id="line2d_49"><g><path shape-rendering="crispEdges" d="M 0 0 L 3.5 0 " transform="translate(788.04 203.58)" style="stroke: #000000; stroke-width: 0.72;stroke: #000000; stroke-width: 0.72"/></g></g><g id="text_20"><text style="font-size: 10px; font-family: 'DejaVu Sans', 'Liberation Sans', sans-serif; text-anchor: start" x="794.04" y="207.38" transform="rotate(-0 794.04 207.38)">3/8</text></g></g><g id="ytick_11"><g id="line2d_50"><g><path shape-rendering="crispEdges" d="M 0 0 L 3.5 0 " transform="translate(788.04 171)" style="stroke: #000000; stroke-width: 0.72;stroke: #000000; stroke-width: 0.72"/></g></g><g id="text_21"><text style="font-size: 10px; font-family: 'DejaVu Sans', 'Liberation Sans', sans-serif; text-anchor: start" x="794.04" y="174.8" transform="rotate(-0 794.04 174.8)">4/8</text></g></g><g id="ytick_12"><g id="line2d_51"><g><path shape-rendering="crispEdges" d="M 0 0 L 3.5 0 " transform="translate(788.04 138.42)" style="stroke: #000000; stroke-width: 0.72;stroke: #000000; stroke-width: 0.72"/></g></g><g id="text_22"><text style="font-size: 10px; font-family: 'DejaVu Sans', 'Liberation Sans', sans-serif; text-anchor: start" x="794.04" y="142.22" transform="rotate(-0 794.04 142.22)">5/8</text></g></g><g id="ytick_13"><g id="line2d_52"><g><path shape-rendering="crispEdges" d="M 0 0 L 3.5 0 " transform="translate(788.04 105.84)" style="stroke: #000000; stroke-width: 0.72;stroke: #000000; stroke-width: 0.72"/></g></g><g id="text_23"><text style="font-size: 10px; font-family: 'DejaVu Sans', 'Liberation Sans', sans-serif; text-anchor: start" x="794.04" y="109.64" transform="rotate(-0 794.04 109.64)">6/8</text></g></g><g id="ytick_14"><g id="line2d_53"><g><path shape-rendering="crispEdges" d="M 0 0 L 3.5 0 " transform="translate(788.04 73.26)" style="stroke: #000000; stroke-width: 0.72;stroke: #000000; stroke-width: 0.72"/></g></g><g id="text_24"><text style="font-size: 10px; font-family: 'DejaVu Sans', 'Liberation Sans', sans-serif; text-anchor: start" x="794.04" y="77.06" transform="rotate(-0 794.04 77.06)">7/8</text></g></g><g id="ytick_15"><g id="line2d_54"><g><path shape-rendering="crispEdges" d="M 0 0 L 3.5 0 " transform="translate(788.04 40.68)" style="stroke: #000000; stroke-width: 0.72;stroke: #000000; stroke-width: 0.72"/></g></g><g id="text_25"><text style="font-size: 10px; font-family: 'DejaVu Sans', 'Liberation Sans', sans-serif; text-anchor: start" x="794.04" y="44.48" transform="rotate(-0 794.04 44.48)">8/8</text></g></g><g id="text_26"><text style="font-size: 10px; font-family: 'DejaVu Sans', 'Liberation Sans', sans-serif; text-anchor: middle" x="821.73" y="171" transform="rotate(-90 821.73 171)">cloud cover</text></g></g><g id="patch_17"><path shape-rendering="crispEdges" d="M 757.08 301.32 L 757.08 40.68 " style="fill: none; stroke: #000000; stroke-width: 0.72; stroke-linejoin: miter; stroke-linecap: square"/></g><g id="patch_18"><path shape-rendering="crispEdges" d="M 788.04 301.32 L 788.04 40.68 " style="fill: none; stroke: #000000; stroke-width: 0.72; stroke-linejoin: miter; stroke-linecap: square"/></g><g id="patch_19"><path shape-rendering="crispEdges" d="M 757.08 301.32 L 788.04 301.32 " style="fill: none; stroke: #000000; stroke-width: 0.72; stroke-linejoin: miter; stroke-linecap: square"/></g><g id="patch_20"><path shape-rendering="crispEdges" d="M 757.08 40.68 L 788.04 40.68 " style="fill: none; stroke: #000000; stroke-width: 0.72; stroke-linejoin: miter; stroke-linecap: square"/></g></g><g id="axes_3"><g id="patch_21"><path d="M 62.28 484.56 L 751.32 484.56 L 751.32 316.44 L 62.28 316.44 z " style="fill: #ffffff"/></g><g id="FillBetweenPolyCollection_1"><g clip-path="url(#p8bf510d1eb)"><path d="M 78.77 -358.92 L 78.77 -358.92 L 95.16 -366.72 L 111.56 -384.68 L 127.95 -395.61 L 144.35 -381.93 L 160.74 -373.88 L 177.13 -365.89 L 193.53 -365.44 L 209.92 -365.25 L 226.32 -394.78 L 242.71 -423.48 L 259.11 -430.58 L 275.5 -418.43 L 291.9 -410.63 L 308.29 -402.39 L 324.68 -399.83 L 341.08 -397.53 L 357.47 -403.22 L 373.87 -394.78 L 390.26 -394.14 L 406.66 -388.45 L 423.05 -387.43 L 439.44 -385.89 L 455.84 -377.46 L 472.23 -371.77 L 488.63 -382.57 L 505.02 -398.36 L 521.42 -395.42 L 537.81 -364.61 L 554.21 -350.93 L 570.6 -348.56 L 586.99 -346.07 L 603.39 -339.49 L 619.78 -377.46 L 636.18 -413.32 L 652.57 -411.85 L 668.97 -381.68 L 685.36 -364.61 L 701.76 -353.23 L 718.15 -353.87 L 734.54 -348.12 L 734.54 -338.02 L 734.54 -338.02 L 718.15 -346.45 L 701.76 -348.12 L 685.36 -347.92 L 668.97 -353.04 L 652.57 -363.14 L 636.18 -350.29 L 619.78 -345.24 L 603.39 -330.03 L 586.99 -334.69 L 570.6 -331.5 L 554.21 -330.86 L 537.81 -336.8 L 521.42 -330.22 L 505.02 -338.91 L 488.63 -347.35 L 472.23 -350.93 L 455.84 -354.51 L 439.44 -365.89 L 423.05 -378.35 L 406.66 -376.24 L 390.26 -381.1 L 373.87 -385.32 L 357.47 -396.25 L 341.08 -388.9 L 324.68 -387.62 L 308.29 -389.03 L 291.9 -388.45 L 275.5 -396.06 L 259.11 -403.41 L 242.71 -395.42 L 226.32 -378.1 L 209.92 -360.2 L 193.53 -365.25 L 177.13 -364.74 L 160.74 -371.77 L 144.35 -376.24 L 127.95 -379.57 L 111.56 -376.63 L 95.16 -366.53 L 78.77 -358.92 z " transform="translate(0 795.6)" style="fill: #808080; fill-opacity: 0.2"/></g></g><g id="matplotlib.axis_5"><g id="xtick_11"><g id="line2d_55"><path shape-rendering="crispEdges" d="M 177.13 484.56 L 177.13 316.44 " clip-path="url(#p8bf510d1eb)" style="fill: none; stroke-dasharray: 2.4,1.04; stroke-dashoffset: 0; stroke: #000000; stroke-opacity: 0.4; stroke-width: 0.72"/></g><g id="line2d_56"><g><path shape-rendering="crispEdges" d="M 0 0 L 0 4 " transform="translate(177.13 484.56)" style="stroke: #000000; stroke-width: 0.72;stroke: #000000; stroke-width: 0.72"/></g></g></g><g id="xtick_12"><g id="line2d_57"><path shape-rendering="crispEdges" d="M 308.29 484.56 L 308.29 316.44 " clip-path="url(#p8bf510d1eb)" style="fill: none; stroke-dasharray: 2.4,1.04; stroke-dashoffset: 0; stroke: #000000; stroke-opacity: 0.4; stroke-width: 0.72"/></g><g id="line2d_58"><g><path shape-rendering="crispEdges" d="M 0 0 L 0 4 " transform="translate(308.29 484.56)" style="stroke: #000000; stroke-width: 0.72;stroke: #000000; stroke-width: 0.72"/></g></g></g><g id="xtick_13"><g id="line2d_59"><path shape-rendering="crispEdges" d="M 439.44 484.56 L 439.44 316.44 " clip-path="url(#p8bf510d1eb)" style="fill: none; stroke-dasharray: 2.4,1.04; stroke-dashoffset: 0; stroke: #000000; stroke-opacity: 0.4; stroke-width: 0.72"/></g><g id="line2d_60"><g><path shape-rendering="crispEdges" d="M 0 0 L 0 4 " transform="translate(439.44 484.56)" style="stroke: #000000; stroke-width: 0.72;stroke: #000000; stroke-width: 0.72"/></g></g></g><g id="xtick_14"><g id="line2d_61"><path shape-rendering="crispEdges" d="M 570.6 484.56 L 570.6 316.44 " clip-path="url(#p8bf510d1eb)" style="fill: none; stroke-dasharray: 2.4,1.04; stroke-dashoffset: 0; stroke: #000000; stroke-opacity: 0.4; stroke-width: 0.72"/></g><g id="line2d_62"><g><path shape-rendering="crispEdges" d="M 0 0 L 0 4 " transform="translate(570.6 484.56)" style="stroke: #000000; stroke-width: 0.72;stroke: #000000; stroke-width: 0.72"/></g></g></g><g id="xtick_15"><g id="line2d_63"><path shape-rendering="crispEdges" d="M 701.76 484.56 L 701.76 316.44 " clip-path="url(#p8bf510d1eb)" style="fill: none; stroke-dasharray: 2.4,1.04; stroke-dashoffset: 0; stroke: #000000; stroke-opacity: 0.4; stroke-width: 0.72"/></g><g id="line2d_64"><g><path shape-rendering="crispEdges" d="M 0 0 L 0 4 " transform="translate(701.76 484.56)" style="stroke: #000000; stroke-width: 0.72;stroke: #000000; stroke-width: 0.72"/></g></g></g><g id="xtick_16"><g id="line2d_65"><g><path shape-rendering="crispEdges" d="M 0 0 L 0 2 " transform="translate(111.56 484.56)" style="stroke: #000000; stroke-width: 0.72;stroke: #000000; stroke-width: 0.72"/></g></g></g><g id="xtick_17"><g id="line2d_66"><g><path shape-rendering="crispEdges" d="M 0 0 L 0 2 " transform="translate(242.71 484.56)" style="stroke: #000000; stroke-width: 0.72;stroke: #000000; stroke-width: 0.72"/></g></g></g><g id="xtick_18"><g id="line2d_67"><g><path shape-rendering="crispEdges" d="M 0 0 L 0 2 " transform="translate(373.87 484.56)" style="stroke: #000000; stroke-width: 0.72;stroke: #000000; stroke-width: 0.72"/></g></g></g><g id="xtick_19"><g id="line2d_68"><g><path shape-rendering="crispEdges" d="M 0 0 L 0 2 " transform="translate(505.02 484.56)" style="stroke: #000000; stroke-width: 0.72;stroke: #000000; stroke-width: 0.72"/></g></g></g><g id="xtick_20"><g id="line2d_69"><g><path shape-rendering="crispEdges" d="M 0 0 L 0 2 " transform="translate(636.18 484.56)" style="stroke: #000000; stroke-width: 0.72;stroke: #000000; stroke-width: 0.72"/></g></g></g></g><g id="matplotlib.axis_6"><g id="ytick_16"><g id="line2d_70"><path shape-rendering="crispEdges" d="M 62.28 464.1 L 751.32 464.1 " clip-path="url(#p8bf510d1eb)" style="fill: none; stroke: #b0b0b0; stroke-width: 0.72; stroke-linecap: square"/></g><g id="line2d_71"><g><path shape-rendering="crispEdges" d="M 0 0 L -3.5 0 " transform="translate(62.28 464.1)" style="stroke: #000000; stroke-width: 0.72;stroke: #000000; stroke-width: 0.72"/></g></g><g id="text_27"><text style="font-size: 10px; font-family: 'DejaVu Sans', 'Liberation Sans', sans-serif; text-anchor: end" x="55.28" y="467.9" transform="rotate(-0 55.28 467.9)">0</text></g></g><g id="ytick_17"><g id="line2d_72"><path shape-rendering="crispEdges" d="M 62.28 432.14 L 751.32 432.14 " clip-path="url(#p8bf510d1eb)" style="fill: none; stroke: #b0b0b0; stroke-width: 0.72; stroke-linecap: square"/></g><g id="line2d_73"><g><path shape-rendering="crispEdges" d="M 0 0 L -3.5 0 " transform="translate(62.28 432.14)" style="stroke: #000000; stroke-width: 0.72;stroke: #000000; stroke-width: 0.72"/></g></g><g id="text_28"><text style="font-size: 10px; font-family: 'DejaVu Sans', 'Liberation Sans', sans-serif; text-anchor: end" x="55.28" y="435.94" transform="rotate(-0 55.28 435.94)">5</text></g></g><g id="ytick_18"><g id="line2d_74"><path shape-rendering="crispEdges" d="M 62.28 400.18 L 751.32 400.18 " clip-path="url(#p8bf510d1eb)" style="fill: none; stroke: #b0b0b0; stroke-width: 0.72; stroke-linecap: square"/></g><g id="line2d_75"><g><path shape-rendering="crispEdges" d="M 0 0 L -3.5 0 " transform="translate(62.28 400.18)" style="stroke: #000000; stroke-width: 0.72;stroke: #000000; stroke-width: 0.72"/></g></g><g id="text_29"><text style="font-size: 10px; font-family: 'DejaVu Sans', 'Liberation Sans', sans-serif; text-anchor: end" x="55.28" y="403.98" transform="rotate(-0 55.28 403.98)">10</text></g></g><g id="ytick_19"><g id="line2d_76"><path shape-rendering="crispEdges" d="M 62.28 368.22 L 751.32 368.22 " clip-path="url(#p8bf510d1eb)" style="fill: none; stroke: #b0b0b0; stroke-width: 0.72; stroke-linecap: square"/></g><g id="line2d_77"><g><path shape-rendering="crispEdges" d="M 0 0 L -3.5 0 " transform="translate(62.28 368.22)" style="stroke: #000000; stroke-width: 0.72;stroke: #000000; stroke-width: 0.72"/></g></g><g id="text_30"><text style="font-size: 10px; font-family: 'DejaVu Sans', 'Liberation Sans', sans-serif; text-anchor: end" x="55.28" y="372.02" transform="rotate(-0 55.28 372.02)">15</text></g></g><g id="ytick_20"><g id="line2d_78"><path shape-rendering="crispEdges" d="M 62.28 336.26 L 751.32 336.26 " clip-path="url(#p8bf510d1eb)" style="fill: none; stroke: #b0b0b0; stroke-width: 0.72; stroke-linecap: square"/></g><g id="line2d_79"><g><path shape-rendering="crispEdges" d="M 0 0 L -3.5 0 " transform="translate(62.28 336.26)" style="stroke: #000000; stroke-width: 0.72;stroke: #000000; stroke-width: 0.72"/></g></g><g id="text_31"><text style="font-size: 10px; font-family: 'DejaVu Sans', 'Liberation Sans', sans-serif; text-anchor: end" x="55.28" y="340.06" transform="rotate(-0 55.28 340.06)">20</text></g></g><g id="text_32"><text style="font-size: 10px; font-family: 'DejaVu Sans', 'Liberation Sans', sans-serif; text-anchor: middle" x="33.88" y="400.5" transform="rotate(-90 33.88 400.5)">temperature [ °C]</text></g></g><g id="line2d_80"><path d="M 78.77 436.68 L 95.16 428.88 L 111.56 410.92 L 127.95 399.99 L 144.35 413.67 L 160.74 421.72 L 177.13 429.71 L 193.53 430.16 L 209.92 430.35 L 226.32 400.82 L 242.71 372.12 L 259.11 365.02 L 275.5 377.17 L 291.9 384.97 L 308.29 393.21 L 324.68 395.77 L 341.08 398.07 L 357.47 392.38 L 373.87 400.82 L 390.26 401.46 L 406.66 407.15 L 423.05 408.17 L 439.44 409.71 L 455.84 418.14 L 472.23 423.83 L 488.63 413.03 L 505.02 397.24 L 521.42 400.18 L 537.81 430.99 L 554.21 444.67 L 570.6 447.04 L 586.99 449.53 L 603.39 456.11 L 619.78 418.14 L 636.18 382.28 L 652.57 383.75 L 668.97 413.92 L 685.36 430.99 L 701.76 442.37 L 718.15 441.73 L 734.54 447.48 " clip-path="url(#p8bf510d1eb)" style="fill: none; stroke: #000000; stroke-width: 1.5; stroke-linecap: square"/><g clip-path="url(#p8bf510d1eb)"><path d="M 0 1.5 C 0.4 1.5 0.78 1.34 1.06 1.06 C 1.34 0.78 1.5 0.4 1.5 0 C 1.5 -0.4 1.34 -0.78 1.06 -1.06 C 0.78 -1.34 0.4 -1.5 0 -1.5 C -0.4 -1.5 -0.78 -1.34 -1.06 -1.06 C -1.34 -0.78 -1.5 -0.4 -1.5 0 C -1.5 0.4 -1.34 0.78 -1.06 1.06 C -0.78 1.34 -0.4 1.5 0 1.5 z " transform="translate(78.77 436.68)" style="stroke: #000000;stroke: #000000"/><path d="M 0 1.5 C 0.4 1.5 0.78 1.34 1.06 1.06 C 1.34 0.78 1.5 0.4 1.5 0 C 1.5 -0.4 1.34 -0.78 1.06 -1.06 C 0.78 -1.34 0.4 -1.5 0 -1.5 C -0.4 -1.5 -0.78 -1.34 -1.06 -1.06 C -1.34 -0.78 -1.5 -0.4 -1.5 0 C -1.5 0.4 -1.34 0.78 -1.06 1.06 C -0.78 1.34 -0.4 1.5 0 1.5 z " transform="translate(95.16 428.88)" style="stroke: #000000;stroke: #000000"/><path d="M 0 1.5 C 0.4 1.5 0.78 1.34 1.06 1.06 C 1.34 0.78 1.5 0.4 1.5 0 C 1.5 -0.4 1.34 -0.78 1.06 -1.06 C 0.78 -1.34 0.4 -1.5 0 -1.5 C -0.4 -1.5 -0.78 -1.34 -1.06 -1.06 C -1.34 -0.78 -1.5 -0.4 -1.5 0 C -1.5 0.4 -1.34 0.78 -1.06 1.06 C -0.78 1.34 -0.4 1.5 0 1.5 z " transform="translate(111.56 410.92)" style="stroke: #000000;stroke: #000000"/><path d="M 0 1.5 C 0.4 1.5 0.78 1.34 1.06 1.06 C 1.34 0.78 1.5 0.4 1.5 0 C 1.5 -0.4 1.34 -0.78 1.06 -1.06 C 0.78 -1.34 0.4 -1.5 0 -1.5 C -0.4 -1.5 -0.78 -1.34 -1.06 -1.06 C -1.34 -0.78 -1.5 -0.4 -1.5 0 C -1.5 0.4 -1.34 0.78 -1.06 1.06 C -0.78 1.34 -0.4 1.5 0 1.5 z " transform="translate(127.95 399.99)" style="stroke: #000000;stroke: #000000"/><path d="M 0 1.5 C 0.4 1.5 0.78 1.34 1.06 1.06 C 1.34 0.78 1.5 0.4 1.5 0 C 1.5 -0.4 1.34 -0.78 1.06 -1.06 C 0.78 -1.34 0.4 -1.5 0 -1.5 C -0.4 -1.5 -0.78 -1.34 -1.06 -1.06 C -1.34 -0.78 -1.5 -0.4 -1.5 0 C -1.5 0.4 -1.34 0.78 -1.06 1.06 C -0.78 1.34 -0.4 1.5 0 1.5 z " transform="translate(144.35 413.67)" style="stroke: #000000;stroke: #000000"/><path d="M 0 1.5 C 0.4 1.5 0.78 1.34 1.06 1.06 C 1.34 0.78 1.5 0.4 1.5 0 C 1.5 -0.4 1.34 -0.78 1.06 -1.06 C 0.78 -1.34 0.4 -1.5 0 -1.5 C -0.4 -1.5 -0.78 -1.34 -1.06 -1.06 C -1.34 -0.78 -1.5 -0.4 -1.5 0 C -1.5 0.4 -1.34 0.78 -1.06 1.06 C -0.78 1.34 -0.4 1.5 0 1.5 z " transform="translate(160.74 421.72)" style="stroke: #000000;stroke: #000000"/><path d="M 0 1.5 C 0.4 1.5 0.78 1.34 1.06 1.06 C 1.34 0.78 1.5 0.4 1.5 0 C 1.5 -0.4 1.34 -0.78 1.06 -1.06 C 0.78 -1.34 0.4 -1.5 0 -1.5 C -0.4 -1.5 -0.78 -1.34 -1.06 -1.06 C -1.34 -0.78 -1.5 -0.4 -1.5 0 C -1.5 0.4 -1.34 0.78 -1.06 1.06 C -0.78 1.34 -0.4 1.5 0 1.5 z " transform="translate(177.13 429.71)" style="stroke: #000000;stroke: #000000"/><path d="M 0 1.5 C 0.4 1.5 0.78 1.34 1.06 1.06 C 1.34 0.78 1.5 0.4 1.5 0 C 1.5 -0.4 1.34 -0.78 1.06 -1.06 C 0.78 -1.34 0.4 -1.5 0 -1.5 C -0.4 -1.5 -0.78 -1.34 -1.06 -1.06 C -1.34 -0.78 -1.5 -0.4 -1.5 0 C -1.5 0.4 -1.34 0.78 -1.06 1.06 C -0.78 1.34 -0.4 1.5 0 1.5 z " transform="translate(193.53 430.16)" style="stroke: #000000;stroke: #000000"/><path d="M 0 1.5 C 0.4 1.5 0.78 1.34 1.06 1.06 C 1.34 0.78 1.5 0.4 1.5 0 C 1.5 -0.4 1.34 -0.78 1.06 -1.06 C 0.78 -1.34 0.4 -1.5 0 -1.5 C -0.4 -1.5 -0.78 -1.34 -1.06 -1.06 C -1.34 -0.78 -1.5 -0.4 -1.5 0 C -1.5 0.4 -1.34 0.78 -1.06 1.06 C -0.78 1.34 -0.4 1.5 0 1.5 z " transform="translate(209.92 430.35)" style="stroke: #000000;stroke: #000000"/><path d="M 0 1.5 C 0.4 1.5 0.78 1.34 1.06 1.06 C 1.34 0.78 1.5 0.4 1.5 0 C 1.5 -0.4 1.34 -0.78 1.06 -1.06 C 0.78 -1.34 0.4 -1.5 0 -1.5 C -0.4 -1.5 -0.78 -1.34 -1.06 -1.06 C -1.34 -0.78 -1.5 -0.4 -1.5 0 C -1.5 0.4 -1.34 0.78 -1.06 1.06 C -0.78 1.34 -0.4 1.5 0 1.5 z " transform="translate(226.32 400.82)" style="stroke: #000000;stroke: #000000"/><path d="M 0 1.5 C 0.4 1.5 0.78 1.34 1.06 1.06 C 1.34 0.78 1.5 0.4 1.5 0 C 1.5 -0.4 1.34 -0.78 1.06 -1.06 C 0.78 -1.34 0.4 -1.5 0 -1.5 C -0.4 -1.5 -0.78 -1.34 -1.06 -1.06 C -1.34 -0.78 -1.5 -0.4 -1.5 0 C -1.5 0.4 -1.34 0.78 -1.06 1.06 C -0.78 1.34 -0.4 1.5 0 1.5 z " transform="translate(242.71 372.12)" style="stroke: #000000;stroke: #000000"/><path d="M 0 1.5 C 0.4 1.5 0.78 1.34 1.06 1.06 C 1.34 0.78 1.5 0.4 1.5 0 C 1.5 -0.4 1.34 -0.78 1.06 -1.06 C 0.78 -1.34 0.4 -1.5 0 -1.5 C -0.4 -1.5 -0.78 -1.34 -1.06 -1.06 C -1.34 -0.78 -1.5 -0.4 -1.5 0 C -1.5 0.4 -1.34 0.78 -1.06 1.06 C -0.78 1.34 -0.4 1.5 0 1.5 z " transform="translate(259.11 365.02)" style="stroke: #000000;stroke: #000000"/><path d="M 0 1.5 C 0.4 1.5 0.78 1.34 1.06 1.06 C 1.34 0.78 1.5 0.4 1.5 0 C 1.5 -0.4 1.34 -0.78 1.06 -1.06 C 0.78 -1.34 0.4 -1.5 0 -1.5 C -0.4 -1.5 -0.78 -1.34 -1.06 -1.06 C -1.34 -0.78 -1.5 -0.4 -1.5 0 C -1.5 0.4 -1.34 0.78 -1.06 1.06 C -0.78 1.34 -0.4 1.5 0 1.5 z " transform="translate(275.5 377.17)" style="stroke: #000000;stroke: #000000"/><path d="M 0 1.5 C 0.4 1.5 0.78 1.34 1.06 1.06 C 1.34 0.78 1.5 0.4 1.5 0 C 1.5 -0.4 1.34 -0.78 1.06 -1.06 C 0.78 -1.34 0.4 -1.5 0 -1.5 C -0.4 -1.5 -0.78 -1.34 -1.06 -1.06 C -1.34 -0.78 -1.5 -0.4 -1.5 0 C -1.5 0.4 -1.34 0.78 -1.06 1.06 C -0.78 1.34 -0.4 1.5 0 1.5 z " transform="translate(291.9 384.97)" style="stroke: #000000;stroke: #000000"/><path d="M 0 1.5 C 0.4 1.5 0.78 1.34 1.06 1.06 C 1.34 0.78 1.5 0.4 1.5 0 C 1.5 -0.4 1.34 -0.78 1.06 -1.06 C 0.78 -1.34 0.4 -1.5 0 -1.5 C -0.4 -1.5 -0.78 -1.34 -1.06 -1.06 C -1.34 -0.78 -1.5 -0.4 -1.5 0 C -1.5 0.4 -1.34 0.78 -1.06 1.06 C -0.78 1.34 -0.4 1.5 0 1.5 z " transform="translate(308.29 393.21)" style="stroke: #000000;stroke: #000000"/><path d="M 0 1.5 C 0.4 1.5 0.78 1.34 1.06 1.06 C 1.34 0.78 1.5 0.4 1.5 0 C 1.5 -0.4 1.34 -0.78 1.06 -1.06 C 0.78 -1.34 0.4 -1.5 0 -1.5 C -0.4 -1.5 -0.78 -1.34 -1.06 -1.06 C -1.34 -0.78 -1.5 -0.4 -1.5 0 C -1.5 0.4 -1.34 0.78 -1.06 1.06 C -0.78 1.34 -0.4 1.5 0 1.5 z " transform="translate(324.68 395.77)" style="stroke: #000000;stroke: #000000"/><path d="M 0 1.5 C 0.4 1.5 0.78 1.34 1.06 1.06 C 1.34 0.78 1.5 0.4 1.5 0 C 1.5 -0.4 1.34 -0.78 1.06 -1.06 C 0.78 -1.34 0.4 -1.5 0 -1.5 C -0.4 -1.5 -0.78 -1.34 -1.06 -1.06 C -1.34 -0.78 -1.5 -0.4 -1.5 0 C -1.5 0.4 -1.34 0.78 -1.06 1.06 C -0.78 1.34 -0.4 1.5 0 1.5 z " transform="translate(341.08 398.07)" style="stroke: #000000;stroke: #000000"/><path d="M 0 1.5 C 0.4 1.5 0.78 1.34 1.06 1.06 C 1.34 0.78 1.5 0.4 1.5 0 C 1.5 -0.4 1.34 -0.78 1.06 -1.06 C 0.78 -1.34 0.4 -1.5 0 -1.5 C -0.4 -1.5 -0.78 -1.34 -1.06 -1.06 C -1.34 -0.78 -1.5 -0.4 -1.5 0 C -1.5 0.4 -1.34 0.78 -1.06 1.06 C -0.78 1.34 -0.4 1.5 0 1.5 z " transform="translate(357.47 392.38)" style="stroke: #000000;stroke: #000000"/><path d="M 0 1.5 C 0.4 1.5 0.78 1.34 1.06 1.06 C 1.34 0.78 1.5 0.4 1.5 0 C 1.5 -0.4 1.34 -0.78 1.06 -1.06 C 0.78 -1.34 0.4 -1.5 0 -1.5 C -0.4 -1.5 -0.78 -1.34 -1.06 -1.06 C -1.34 -0.78 -1.5 -0.4 -1.5 0 C -1.5 0.4 -1.34 0.78 -1.06 1.06 C -0.78 1.34 -0.4 1.5 0 1.5 z " transform="translate(373.87 400.82)" style="stroke: #000000;stroke: #000000"/><path d="M 0 1.5 C 0.4 1.5 0.78 1.34 1.06 1.06 C 1.34 0.78 1.5 0.4 1.5 0 C 1.5 -0.4 1.34 -0.78 1.06 -1.06 C 0.78 -1.34 0.4 -1.5 0 -1.5 C -0.4 -1.5 -0.78 -1.34 -1.06 -1.06 C -1.34 -0.78 -1.5 -0.4 -1.5 0 C -1.5 0.4 -1.34 0.78 -1.06 1.06 C -0.78 1.34 -0.4 1.5 0 1.5 z " transform="translate(390.26 401.46)" style="stroke: #000000;stroke: #000000"/><path d="M 0 1.5 C 0.4 1.5 0.78 1.34 1.06 1.06 C 1.34 0.78 1.5 0.4 1.5 0 C 1.5 -0.4 1.34 -0.78 1.06 -1.06 C 0.78 -1.34 0.4 -1.5 0 -1.5 C -0.4 -1.5 -0.78 -1.34 -1.06 -1.06 C -1.34 -0.78 -1.5 -0.4 -1.5 0 C -1.5 0.4 -1.34 0.78 -1.06 1.06 C -0.78 1.34 -0.4 1.5 0 1.5 z " transform="translate(406.66 407.15)" style="stroke: #000000;stroke: #000000"/><path d="M 0 1.5 C 0.4 1.5 0.78 1.34 1.06 1.06 C 1.34 0.78 1.5 0.4 1.5 0 C 1.5 -0.4 1.34 -0.78 1.06 -1.06 C 0.78 -1.34 0.4 -1.5 0 -1.5 C -0.4 -1.5 -0.78 -1.34 -1.06 -1.06 C -1.34 -0.78 -1.5 -0.4 -1.5 0 C -1.5 0.4 -1.34 0.78 -1.06 1.06 C -0.78 1.34 -0.4 1.5 0 1.5 z " transform="translate(423.05 408.17)" style="stroke: #000000;stroke: #000000"/><path d="M 0 1.5 C 0.4 1.5 0.78 1.34 1.06 1.06 C 1.34 0.78 1.5 0.4 1.5 0 C 1.5 -0.4 1.34 -0.78 1.06 -1.06 C 0.78 -1.34 0.4 -1.5 0 -1.5 C -0.4 -1.5 -0.78 -1.34 -1.06 -1.06 C -1.34 -0.78 -1.5 -0.4 -1.5 0 C -1.5 0.4 -1.34 0.78 -1.06 1.06 C -0.78 1.34 -0.4 1.5 0 1.5 z " transform="translate(439.44 409.71)" style="stroke: #000000;stroke: #000000"/><path d="M 0 1.5 C 0.4 1.5 0.78 1.34 1.06 1.06 C 1.34 0.78 1.5 0.4 1.5 0 C 1.5 -0.4 1.34 -0.78 1.06 -1.06 C 0.78 -1.34 0.4 -1.5 0 -1.5 C -0.4 -1.5 -0.78 -1.34 -1.06 -1.06 C -1.34 -0.78 -1.5 -0.4 -1.5 0 C -1.5 0.4 -1.34 0.78 -1.06 1.06 C -0.78 1.34 -0.4 1.5 0 1.5 z " transform="translate(455.84 418.14)" style="stroke: #000000;stroke: #000000"/><path d="M 0 1.5 C 0.4 1.5 0.78 1.34 1.06 1.06 C 1.34 0.78 1.5 0.4 1.5 0 C 1.5 -0.4 1.34 -0.78 1.06 -1.06 C 0.78 -1.34 0.4 -1.5 0 -1.5 C -0.4 -1.5 -0.78 -1.34 -1.06 -1.06 C -1.34 -0.78 -1.5 -0.4 -1.5 0 C -1.5 0.4 -1.34 0.78 -1.06 1.06 C -0.78 1.34 -0.4 1.5 0 1.5 z " transform="translate(472.23 423.83)" style="stroke: #000000;stroke: #000000"/><path d="M 0 1.5 C 0.4 1.5 0.78 1.34 1.06 1.06 C 1.34 0.78 1.5 0.4 1.5 0 C 1.5 -0.4 1.34 -0.78 1.06 -1.06 C 0.78 -1.34 0.4 -1.5 0 -1.5 C -0.4 -1.5 -0.78 -1.34 -1.06 -1.06 C -1.34 -0.78 -1.5 -0.4 -1.5 0 C -1.5 0.4 -1.34 0.78 -1.06 1.06 C -0.78 1.34 -0.4 1.5 0 1.5 z " transform="translate(488.63 413.03)" style="stroke: #000000;stroke: #000000"/><path d="M 0 1.5 C 0.4 1.5 0.78 1.34 1.06 1.06 C 1.34 0.78 1.5 0.4 1.5 0 C 1.5 -0.4 1.34 -0.78 1.06 -1.06 C 0.78 -1.34 0.4 -1.5 0 -1.5 C -0.4 -1.5 -0.78 -1.34 -1.06 -1.06 C -1.34 -0.78 -1.5 -0.4 -1.5 0 C -1.5 0.4 -1.34 0.78 -1.06 1.06 C -0.78 1.34 -0.4 1.5 0 1.5 z " transform="translate(505.02 397.24)" style="stroke: #000000;stroke: #000000"/><path d="M 0 1.5 C 0.4 1.5 0.78 1.34 1.06 1.06 C 1.34 0.78 1.5 0.4 1.5 0 C 1.5 -0.4 1.34 -0.78 1.06 -1.06 C 0.78 -1.34 0.4 -1.5 0 -1.5 C -0.4 -1.5 -0.78 -1.34 -1.06 -1.06 C -1.34 -0.78 -1.5 -0.4 -1.5 0 C -1.5 0.4 -1.34 0.78 -1.06 1.06 C -0.78 1.34 -0.4 1.5 0 1.5 z " transform="translate(521.42 400.18)" style="stroke: #000000;stroke: #000000"/><path d="M 0 1.5 C 0.4 1.5 0.78 1.34 1.06 1.06 C 1.34 0.78 1.5 0.4 1.5 0 C 1.5 -0.4 1.34 -0.78 1.06 -1.06 C 0.78 -1.34 0.4 -1.5 0 -1.5 C -0.4 -1.5 -0.78 -1.34 -1.06 -1.06 C -1.34 -0.78 -1.5 -0.4 -1.5 0 C -1.5 0.4 -1.34 0.78 -1.06 1.06 C -0.78 1.34 -0.4 1.5 0 1.5 z " transform="translate(537.81 430.99)" style="stroke: #000000;stroke: #000000"/><path d="M 0 1.5 C 0.4 1.5 0.78 1.34 1.06 1.06 C 1.34 0.78 1.5 0.4 1.5 0 C 1.5 -0.4 1.34 -0.78 1.06 -1.06 C 0.78 -1.34 0.4 -1.5 0 -1.5 C -0.4 -1.5 -0.78 -1.34 -1.06 -1.06 C -1.34 -0.78 -1.5 -0.4 -1.5 0 C -1.5 0.4 -1.34 0.78 -1.06 1.06 C -0.78 1.34 -0.4 1.5 0 1.5 z " transform="translate(554.21 444.67)" style="stroke: #000000;stroke: #000000"/><path d="M 0 1.5 C 0.4 1.5 0.78 1.34 1.06 1.06 C 1.34 0.78 1.5 0.4 1.5 0 C 1.5 -0.4 1.34 -0.78 1.06 -1.06 C 0.78 -1.34 0.4 -1.5 0 -1.5 C -0.4 -1.5 -0.78 -1.34 -1.06 -1.06 C -1.34 -0.78 -1.5 -0.4 -1.5 0 C -1.5 0.4 -1.34 0.78 -1.06 1.06 C -0.78 1.34 -0.4 1.5 0 1.5 z " transform="translate(570.6 447.04)" style="stroke: #000000;stroke: #000000"/><path d="M 0 1.5 C 0.4 1.5 0.78 1.34 1.06 1.06 C 1.34 0.78 1.5 0.4 1.5 0 C 1.5 -0.4 1.34 -0.78 1.06 -1.06 C 0.78 -1.34 0.4 -1.5 0 -1.5 C -0.4 -1.5 -0.78 -1.34 -1.06 -1.06 C -1.34 -0.78 -1.5 -0.4 -1.5 0 C -1.5 0.4 -1.34 0.78 -1.06 1.06 C -0.78 1.34 -0.4 1.5 0 1.5 z " transform="translate(586.99 449.53)" style="stroke: #000000;stroke: #000000"/><path d="M 0 1.5 C 0.4 1.5 0.78 1.34 1.06 1.06 C 1.34 0.78 1.5 0.4 1.5 0 C 1.5 -0.4 1.34 -0.78 1.06 -1.06 C 0.78 -1.34 0.4 -1.5 0 -1.5 C -0.4 -1.5 -0.78 -1.34 -1.06 -1.06 C -1.34 -0.78 -1.5 -0.4 -1.5 0 C -1.5 0.4 -1.34 0.78 -1.06 1.06 C -0.78 1.34 -0.4 1.5 0 1.5 z " transform="translate(603.39 456.11)" style="stroke: #000000;stroke: #000000"/><path d="M 0 1.5 C 0.4 1.5 0.78 1.34 1.06 1.06 C 1.34 0.78 1.5 0.4 1.5 0 C 1.5 -0.4 1.34 -0.78 1.06 -1.06 C 0.78 -1.34 0.4 -1.5 0 -1.5 C -0.4 -1.5 -0.78 -1.34 -1.06 -1.06 C -1.34 -0.78 -1.5 -0.4 -1.5 0 C -1.5 0.4 -1.34 0.78 -1.06 1.06 C -0.78 1.34 -0.4 1.5 0 1.5 z " transform="translate(619.78 418.14)" style="stroke: #000000;stroke: #000000"/><path d="M 0 1.5 C 0.4 1.5 0.78 1.34 1.06 1.06 C 1.34 0.78 1.5 0.4 1.5 0 C 1.5 -0.4 1.34 -0.78 1.06 -1.06 C 0.78 -1.34 0.4 -1.5 0 -1.5 C -0.4 -1.5 -0.78 -1.34 -1.06 -1.06 C -1.34 -0.78 -1.5 -0.4 -1.5 0 C -1.5 0.4 -1.34 0.78 -1.06 1.06 C -0.78 1.34 -0.4 1.5 0 1.5 z " transform="translate(636.18 382.28)" style="stroke: #000000;stroke: #000000"/><path d="M 0 1.5 C 0.4 1.5 0.78 1.34 1.06 1.06 C 1.34 0.78 1.5 0.4 1.5 0 C 1.5 -0.4 1.34 -0.78 1.06 -1.06 C 0.78 -1.34 0.4 -1.5 0 -1.5 C -0.4 -1.5 -0.78 -1.34 -1.06 -1.06 C -1.34 -0.78 -1.5 -0.4 -1.5 0 C -1.5 0.4 -1.34 0.78 -1.06 1.06 C -0.78 1.34 -0.4 1.5 0 1.5 z " transform="translate(652.57 383.75)" style="stroke: #000000;stroke: #000000"/><path d="M 0 1.5 C 0.4 1.5 0.78 1.34 1.06 1.06 C 1.34 0.78 1.5 0.4 1.5 0 C 1.5 -0.4 1.34 -0.78 1.06 -1.06 C 0.78 -1.34 0.4 -1.5 0 -1.5 C -0.4 -1.5 -0.78 -1.34 -1.06 -1.06 C -1.34 -0.78 -1.5 -0.4 -1.5 0 C -1.5 0.4 -1.34 0.78 -1.06 1.06 C -0.78 1.34 -0.4 1.5 0 1.5 z " transform="translate(668.97 413.92)" style="stroke: #000000;stroke: #000000"/><path d="M 0 1.5 C 0.4 1.5 0.78 1.34 1.06 1.06 C 1.34 0.78 1.5 0.4 1.5 0 C 1.5 -0.4 1.34 -0.78 1.06 -1.06 C 0.78 -1.34 0.4 -1.5 0 -1.5 C -0.4 -1.5 -0.78 -1.34 -1.06 -1.06 C -1.34 -0.78 -1.5 -0.4 -1.5 0 C -1.5 0.4 -1.34 0.78 -1.06 1.06 C -0.78 1.34 -0.4 1.5 0 1.5 z " transform="translate(685.36 430.99)" style="stroke: #000000;stroke: #000000"/><path d="M 0 1.5 C 0.4 1.5 0.78 1.34 1.06 1.06 C 1.34 0.78 1.5 0.4 1.5 0 C 1.5 -0.4 1.34 -0.78 1.06 -1.06 C 0.78 -1.34 0.4 -1.5 0 -1.5 C -0.4 -1.5 -0.78 -1.34 -1.06 -1.06 C -1.34 -0.78 -1.5 -0.4 -1.5 0 C -1.5 0.4 -1.34 0.78 -1.06 1.06 C -0.78 1.34 -0.4 1.5 0 1.5 z " transform="translate(701.76 442.37)" style="stroke: #000000;stroke: #000000"/><path d="M 0 1.5 C 0.4 1.5 0.78 1.34 1.06 1.06 C 1.34 0.78 1.5 0.4 1.5 0 C 1.5 -0.4 1.34 -0.78 1.06 -1.06 C 0.78 -1.34 0.4 -1.5 0 -1.5 C -0.4 -1.5 -0.78 -1.34 -1.06 -1.06 C -1.34 -0.78 -1.5 -0.4 -1.5 0 C -1.5 0.4 -1.34 0.78 -1.06 1.06 C -0.78 1.34 -0.4 1.5 0 1.5 z " transform="translate(718.15 441.73)" style="stroke: #000000;stroke: #000000"/><path d="M 0 1.5 C 0.4 1.5 0.78 1.34 1.06 1.06 C 1.34 0.78 1.5 0.4 1.5 0 C 1.5 -0.4 1.34 -0.78 1.06 -1.06 C 0.78 -1.34 0.4 -1.5 0 -1.5 C -0.4 -1.5 -0.78 -1.34 -1.06 -1.06 C -1.34 -0.78 -1.5 -0.4 -1.5 0 C -1.5 0.4 -1.34 0.78 -1.06 1.06 C -0.78 1.34 -0.4 1.5 0 1.5 z " transform="translate(734.54 447.48)" style="stroke: #000000;stroke: #000000"/></g></g><g id="line2d_81"><path d="M 78.77 436.68 L 95.16 429.07 L 111.56 418.97 L 127.95 416.03 L 144.35 419.36 L 160.74 423.83 L 177.13 430.86 L 193.53 430.35 L 209.92 435.4 L 226.32 417.5 L 242.71 400.18 L 259.11 392.19 L 275.5 399.54 L 291.9 407.15 L 308.29 406.57 L 324.68 407.98 L 341.08 406.7 L 357.47 399.35 L 373.87 410.28 L 390.26 414.5 L 406.66 419.36 L 423.05 417.25 L 439.44 429.71 L 455.84 441.09 L 472.23 444.67 L 488.63 448.25 L 505.02 456.69 L 521.42 465.38 L 537.81 458.8 L 554.21 464.74 L 570.6 464.1 L 586.99 460.91 L 603.39 465.57 L 619.78 450.36 L 636.18 445.31 L 652.57 432.46 L 668.97 442.56 L 685.36 447.68 L 701.76 447.48 L 718.15 449.15 L 734.54 457.58 " clip-path="url(#p8bf510d1eb)" style="fill: none; stroke: #008000; stroke-width: 1.5; stroke-linecap: square"/><g clip-path="url(#p8bf510d1eb)"><path d="M 0 1.5 C 0.4 1.5 0.78 1.34 1.06 1.06 C 1.34 0.78 1.5 0.4 1.5 0 C 1.5 -0.4 1.34 -0.78 1.06 -1.06 C 0.78 -1.34 0.4 -1.5 0 -1.5 C -0.4 -1.5 -0.78 -1.34 -1.06 -1.06 C -1.34 -0.78 -1.5 -0.4 -1.5 0 C -1.5 0.4 -1.34 0.78 -1.06 1.06 C -0.78 1.34 -0.4 1.5 0 1.5 z " transform="translate(78.77 436.68)" style="stroke: #008000;fill: #008000; stroke: #008000"/><path d="M 0 1.5 C 0.4 1.5 0.78 1.34 1.06 1.06 C 1.34 0.78 1.5 0.4 1.5 0 C 1.5 -0.4 1.34 -0.78 1.06 -1.06 C 0.78 -1.34 0.4 -1.5 0 -1.5 C -0.4 -1.5 -0.78 -1.34 -1.06 -1.06 C -1.34 -0.78 -1.5 -0.4 -1.5 0 C -1.5 0.4 -1.34 0.78 -1.06 1.06 C -0.78 1.34 -0.4 1.5 0 1.5 z " transform="translate(95.16 429.07)" style="stroke: #008000;fill: #008000; stroke: #008000"/><path d="M 0 1.5 C 0.4 1.5 0.78 1.34 1.06 1.06 C 1.34 0.78 1.5 0.4 1.5 0 C 1.5 -0.4 1.34 -0.78 1.06 -1.06 C 0.78 -1.34 0.4 -1.5 0 -1.5 C -0.4 -1.5 -0.78 -1.34 -1.06 -1.06 C -1.34 -0.78 -1.5 -0.4 -1.5 0 C -1.5 0.4 -1.34 0.78 -1.06 1.06 C -0.78 1.34 -0.4 1.5 0 1.5 z " transform="translate(111.56 418.97)" style="stroke: #008000;fill: #008000; stroke: #008000"/><path d="M 0 1.5 C 0.4 1.5 0.78 1.34 1.06 1.06 C 1.34 0.78 1.5 0.4 1.5 0 C 1.5 -0.4 1.34 -0.78 1.06 -1.06 C 0.78 -1.34 0.4 -1.5 0 -1.5 C -0.4 -1.5 -0.78 -1.34 -1.06 -1.06 C -1.34 -0.78 -1.5 -0.4 -1.5 0 C -1.5 0.4 -1.34 0.78 -1.06 1.06 C -0.78 1.34 -0.4 1.5 0 1.5 z " transform="translate(127.95 416.03)" style="stroke: #008000;fill: #008000; stroke: #008000"/><path d="M 0 1.5 C 0.4 1.5 0.78 1.34 1.06 1.06 C 1.34 0.78 1.5 0.4 1.5 0 C 1.5 -0.4 1.34 -0.78 1.06 -1.06 C 0.78 -1.34 0.4 -1.5 0 -1.5 C -0.4 -1.5 -0.78 -1.34 -1.06 -1.06 C -1.34 -0.78 -1.5 -0.4 -1.5 0 C -1.5 0.4 -1.34 0.78 -1.06 1.06 C -0.78 1.34 -0.4 1.5 0 1.5 z " transform="translate(144.35 419.36)" style="stroke: #008000;fill: #008000; stroke: #008000"/><path d="M 0 1.5 C 0.4 1.5 0.78 1.34 1.06 1.06 C 1.34 0.78 1.5 0.4 1.5 0 C 1.5 -0.4 1.34 -0.78 1.06 -1.06 C 0.78 -1.34 0.4 -1.5 0 -1.5 C -0.4 -1.5 -0.78 -1.34 -1.06 -1.06 C -1.34 -0.78 -1.5 -0.4 -1.5 0 C -1.5 0.4 -1.34 0.78 -1.06 1.06 C -0.78 1.34 -0.4 1.5 0 1.5 z " transform="translate(160.74 423.83)" style="stroke: #008000;fill: #008000; stroke: #008000"/><path d="M 0 1.5 C 0.4 1.5 0.78 1.34 1.06 1.06 C 1.34 0.78 1.5 0.4 1.5 0 C 1.5 -0.4 1.34 -0.78 1.06 -1.06 C 0.78 -1.34 0.4 -1.5 0 -1.5 C -0.4 -1.5 -0.78 -1.34 -1.06 -1.06 C -1.34 -0.78 -1.5 -0.4 -1.5 0 C -1.5 0.4 -1.34 0.78 -1.06 1.06 C -0.78 1.34 -0.4 1.5 0 1.5 z " transform="translate(177.13 430.86)" style="stroke: #008000;fill: #008000; stroke: #008000"/><path d="M 0 1.5 C 0.4 1.5 0.78 1.34 1.06 1.06 C 1.34 0.78 1.5 0.4 1.5 0 C 1.5 -0.4 1.34 -0.78 1.06 -1.06 C 0.78 -1.34 0.4 -1.5 0 -1.5 C -0.4 -1.5 -0.78 -1.34 -1.06 -1.06 C -1.34 -0.78 -1.5 -0.4 -1.5 0 C -1.5 0.4 -1.34 0.78 -1.06 1.06 C -0.78 1.34 -0.4 1.5 0 1.5 z " transform="translate(193.53 430.35)" style="stroke: #008000;fill: #008000; stroke: #008000"/><path d="M 0 1.5 C 0.4 1.5 0.78 1.34 1.06 1.06 C 1.34 0.78 1.5 0.4 1.5 0 C 1.5 -0.4 1.34 -0.78 1.06 -1.06 C 0.78 -1.34 0.4 -1.5 0 -1.5 C -0.4 -1.5 -0.78 -1.34 -1.06 -1.06 C -1.34 -0.78 -1.5 -0.4 -1.5 0 C -1.5 0.4 -1.34 0.78 -1.06 1.06 C -0.78 1.34 -0.4 1.5 0 1.5 z " transform="translate(209.92 435.4)" style="stroke: #008000;fill: #008000; stroke: #008000"/><path d="M 0 1.5 C 0.4 1.5 0.78 1.34 1.06 1.06 C 1.34 0.78 1.5 0.4 1.5 0 C 1.5 -0.4 1.34 -0.78 1.06 -1.06 C 0.78 -1.34 0.4 -1.5 0 -1.5 C -0.4 -1.5 -0.78 -1.34 -1.06 -1.06 C -1.34 -0.78 -1.5 -0.4 -1.5 0 C -1.5 0.4 -1.34 0.78 -1.06 1.06 C -0.78 1.34 -0.4 1.5 0 1.5 z " transform="translate(226.32 417.5)" style="stroke: #008000;fill: #008000; stroke: #008000"/><path d="M 0 1.5 C 0.4 1.5 0.78 1.34 1.06 1.06 C 1.34 0.78 1.5 0.4 1.5 0 C 1.5 -0.4 1.34 -0.78 1.06 -1.06 C 0.78 -1.34 0.4 -1.5 0 -1.5 C -0.4 -1.5 -0.78 -1.34 -1.06 -1.06 C -1.34 -0.78 -1.5 -0.4 -1.5 0 C -1.5 0.4 -1.34 0.78 -1.06 1.06 C -0.78 1.34 -0.4 1.5 0 1.5 z " transform="translate(242.71 400.18)" style="stroke: #008000;fill: #008000; stroke: #008000"/><path d="M 0 1.5 C 0.4 1.5 0.78 1.34 1.06 1.06 C 1.34 0.78 1.5 0.4 1.5 0 C 1.5 -0.4 1.34 -0.78 1.06 -1.06 C 0.78 -1.34 0.4 -1.5 0 -1.5 C -0.4 -1.5 -0.78 -1.34 -1.06 -1.06 C -1.34 -0.78 -1.5 -0.4 -1.5 0 C -1.5 0.4 -1.34 0.78 -1.06 1.06 C -0.78 1.34 -0.4 1.5 0 1.5 z " transform="translate(259.11 392.19)" style="stroke: #008000;fill: #008000; stroke: #008000"/><path d="M 0 1.5 C 0.4 1.5 0.78 1.34 1.06 1.06 C 1.34 0.78 1.5 0.4 1.5 0 C 1.5 -0.4 1.34 -0.78 1.06 -1.06 C 0.78 -1.34 0.4 -1.5 0 -1.5 C -0.4 -1.5 -0.78 -1.34 -1.06 -1.06 C -1.34 -0.78 -1.5 -0.4 -1.5 0 C -1.5 0.4 -1.34 0.78 -1.06 1.06 C -0.78 1.34 -0.4 1.5 0 1.5 z " transform="translate(275.5 399.54)" style="stroke: #008000;fill: #008000; stroke: #008000"/><path d="M 0 1.5 C 0.4 1.5 0.78 1.34 1.06 1.06 C 1.34 0.78 1.5 0.4 1.5 0 C 1.5 -0.4 1.34 -0.78 1.06 -1.06 C 0.78 -1.34 0.4 -1.5 0 -1.5 C -0.4 -1.5 -0.78 -1.34 -1.06 -1.06 C -1.34 -0.78 -1.5 -0.4 -1.5 0 C -1.5 0.4 -1.34 0.78 -1.06 1.06 C -0.78 1.34 -0.4 1.5 0 1.5 z " transform="translate(291.9 407.15)" style="stroke: #008000;fill: #008000; stroke: #008000"/><path d="M 0 1.5 C 0.4 1.5 0.78 1.34 1.06 1.06 C 1.34 0.78 1.5 0.4 1.5 0 C 1.5 -0.4 1.34 -0.78 1.06 -1.06 C 0.78 -1.34 0.4 -1.5 0 -1.5 C -0.4 -1.5 -0.78 -1.34 -1.06 -1.06 C -1.34 -0.78 -1.5 -0.4 -1.5 0 C -1.5 0.4 -1.34 0.78 -1.06 1.06 C -0.78 1.34 -0.4 1.5 0 1.5 z " transform="translate(308.29 406.57)" style="stroke: #008000;fill: #008000; stroke: #008000"/><path d="M 0 1.5 C 0.4 1.5 0.78 1.34 1.06 1.06 C 1.34 0.78 1.5 0.4 1.5 0 C 1.5 -0.4 1.34 -0.78 1.06 -1.06 C 0.78 -1.34 0.4 -1.5 0 -1.5 C -0.4 -1.5 -0.78 -1.34 -1.06 -1.06 C -1.34 -0.78 -1.5 -0.4 -1.5 0 C -1.5 0.4 -1.34 0.78 -1.06 1.06 C -0.78 1.34 -0.4 1.5 0 1.5 z " transform="translate(324.68 407.98)" style="stroke: #008000;fill: #008000; stroke: #008000"/><path d="M 0 1.5 C 0.4 1.5 0.78 1.34 1.06 1.06 C 1.34 0.78 1.5 0.4 1.5 0 C 1.5 -0.4 1.34 -0.78 1.06 -1.06 C 0.78 -1.34 0.4 -1.5 0 -1.5 C -0.4 -1.5 -0.78 -1.34 -1.06 -1.06 C -1.34 -0.78 -1.5 -0.4 -1.5 0 C -1.5 0.4 -1.34 0.78 -1.06 1.06 C -0.78 1.34 -0.4 1.5 0 1.5 z " transform="translate(341.08 406.7)" style="stroke: #008000;fill: #008000; stroke: #008000"/><path d="M 0 1.5 C 0.4 1.5 0.78 1.34 1.06 1.06 C 1.34 0.78 1.5 0.4 1.5 0 C 1.5 -0.4 1.34 -0.78 1.06 -1.06 C 0.78 -1.34 0.4 -1.5 0 -1.5 C -0.4 -1.5 -0.78 -1.34 -1.06 -1.06 C -1.34 -0.78 -1.5 -0.4 -1.5 0 C -1.5 0.4 -1.34 0.78 -1.06 1.06 C -0.78 1.34 -0.4 1.5 0 1.5 z " transform="translate(357.47 399.35)" style="stroke: #008000;fill: #008000; stroke: #008000"/><path d="M 0 1.5 C 0.4 1.5 0.78 1.34 1.06 1.06 C 1.34 0.78 1.5 0.4 1.5 0 C 1.5 -0.4 1.34 -0.78 1.06 -1.06 C 0.78 -1.34 0.4 -1.5 0 -1.5 C -0.4 -1.5 -0.78 -1.34 -1.06 -1.06 C -1.34 -0.78 -1.5 -0.4 -1.5 0 C -1.5 0.4 -1.34 0.78 -1.06 1.06 C -0.78 1.34 -0.4 1.5 0 1.5 z " transform="translate(373.87 410.28)" style="stroke: #008000;fill: #008000; stroke: #008000"/><path d="M 0 1.5 C 0.4 1.5 0.78 1.34 1.06 1.06 C 1.34 0.78 1.5 0.4 1.5 0 C 1.5 -0.4 1.34 -0.78 1.06 -1.06 C 0.78 -1.34 0.4 -1.5 0 -1.5 C -0.4 -1.5 -0.78 -1.34 -1.06 -1.06 C -1.34 -0.78 -1.5 -0.4 -1.5 0 C -1.5 0.4 -1.34 0.78 -1.06 1.06 C -0.78 1.34 -0.4 1.5 0 1.5 z " transform="translate(390.26 414.5)" style="stroke: #008000;fill: #008000; stroke: #008000"/><path d="M 0 1.5 C 0.4 1.5 0.78 1.34 1.06 1.06 C 1.34 0.78 1.5 0.4 1.5 0 C 1.5 -0.4 1.34 -0.78 1.06 -1.06 C 0.78 -1.34 0.4 -1.5 0 -1.5 C -0.4 -1.5 -0.78 -1.34 -1.06 -1.06 C -1.34 -0.78 -1.5 -0.4 -1.5 0 C -1.5 0.4 -1.34 0.78 -1.06 1.06 C -0.78 1.34 -0.4 1.5 0 1.5 z " transform="translate(406.66 419.36)" style="stroke: #008000;fill: #008000; stroke: #008000"/><path d="M 0 1.5 C 0.4 1.5 0.78 1.34 1.06 1.06 C 1.34 0.78 1.5 0.4 1.5 0 C 1.5 -0.4 1.34 -0.78 1.06 -1.06 C 0.78 -1.34 0.4 -1.5 0 -1.5 C -0.4 -1.5 -0.78 -1.34 -1.06 -1.06 C -1.34 -0.78 -1.5 -0.4 -1.5 0 C -1.5 0.4 -1.34 0.78 -1.06 1.06 C -0.78 1.34 -0.4 1.5 0 1.5 z " transform="translate(423.05 417.25)" style="stroke: #008000;fill: #008000; stroke: #008000"/><path d="M 0 1.5 C 0.4 1.5 0.78 1.34 1.06 1.06 C 1.34 0.78 1.5 0.4 1.5 0 C 1.5 -0.4 1.34 -0.78 1.06 -1.06 C 0.78 -1.34 0.4 -1.5 0 -1.5 C -0.4 -1.5 -0.78 -1.34 -1.06 -1.06 C -1.34 -0.78 -1.5 -0.4 -1.5 0 C -1.5 0.4 -1.34 0.78 -1.06 1.06 C -0.78 1.34 -0.4 1.5 0 1.5 z " transform="translate(439.44 429.71)" style="stroke: #008000;fill: #008000; stroke: #008000"/><path d="M 0 1.5 C 0.4 1.5 0.78 1.34 1.06 1.06 C 1.34 0.78 1.5 0.4 1.5 0 C 1.5 -0.4 1.34 -0.78 1.06 -1.06 C 0.78 -1.34 0.4 -1.5 0 -1.5 C -0.4 -1.5 -0.78 -1.34 -1.06 -1.06 C -1.34 -0.78 -1.5 -0.4 -1.5 0 C -1.5 0.4 -1.34 0.78 -1.06 1.06 C -0.78 1.34 -0.4 1.5 0 1.5 z " transform="translate(455.84 441.09)" style="stroke: #008000;fill: #008000; stroke: #008000"/><path d="M 0 1.5 C 0.4 1.5 0.78 1.34 1.06 1.06 C 1.34 0.78 1.5 0.4 1.5 0 C 1.5 -0.4 1.34 -0.78 1.06 -1.06 C 0.78 -1.34 0.4 -1.5 0 -1.5 C -0.4 -1.5 -0.78 -1.34 -1.06 -1.06 C -1.34 -0.78 -1.5 -0.4 -1.5 0 C -1.5 0.4 -1.34 0.78 -1.06 1.06 C -0.78 1.34 -0.4 1.5 0 1.5 z " transform="translate(472.23 444.67)" style="stroke: #008000;fill: #008000; stroke: #008000"/><path d="M 0 1.5 C 0.4 1.5 0.78 1.34 1.06 1.06 C 1.34 0.78 1.5 0.4 1.5 0 C 1.5 -0.4 1.34 -0.78 1.06 -1.06 C 0.78 -1.34 0.4 -1.5 0 -1.5 C -0.4 -1.5 -0.78 -1.34 -1.06 -1.06 C -1.34 -0.78 -1.5 -0.4 -1.5 0 C -1.5 0.4 -1.34 0.78 -1.06 1.06 C -0.78 1.34 -0.4 1.5 0 1.5 z " transform="translate(488.63 448.25)" style="stroke: #008000;fill: #008000; stroke: #008000"/><path d="M 0 1.5 C 0.4 1.5 0.78 1.34 1.06 1.06 C 1.34 0.78 1.5 0.4 1.5 0 C 1.5 -0.4 1.34 -0.78 1.06 -1.06 C 0.78 -1.34 0.4 -1.5 0 -1.5 C -0.4 -1.5 -0.78 -1.34 -1.06 -1.06 C -1.34 -0.78 -1.5 -0.4 -1.5 0 C -1.5 0.4 -1.34 0.78 -1.06 1.06 C -0.78 1.34 -0.4 1.5 0 1.5 z " transform="translate(505.02 456.69)" style="stroke: #008000;fill: #008000; stroke: #008000"/><path d="M 0 1.5 C 0.4 1.5 0.78 1.34 1.06 1.06 C 1.34 0.78 1.5 0.4 1.5 0 C 1.5 -0.4 1.34 -0.78 1.06 -1.06 C 0.78 -1.34 0.4 -1.5 0 -1.5 C -0.4 -1.5 -0.78 -1.34 -1.06 -1.06 C -1.34 -0.78 -1.5 -0.4 -1.5 0 C -1.5 0.4 -1.34 0.78 -1.06 1.06 C -0.78 1.34 -0.4 1.5 0 1.5 z " transform="translate(521.42 465.38)" style="stroke: #008000;fill: #008000; stroke: #008000"/><path d="M 0 1.5 C 0.4 1.5 0.78 1.34 1.06 1.06 C 1.34 0.78 1.5 0.4 1.5 0 C 1.5 -0.4 1.34 -0.78 1.06 -1.06 C 0.78 -1.34 0.4 -1.5 0 -1.5 C -0.4 -1.5 -0.78 -1.34 -1.06 -1.06 C -1.34 -0.78 -1.5 -0.4 -1.5 0 C -1.5 0.4 -1.34 0.78 -1.06 1.06 C -0.78 1.34 -0.4 1.5 0 1.5 z " transform="translate(537.81 458.8)" style="stroke: #008000;fill: #008000; stroke: #008000"/><path d="M 0 1.5 C 0.4 1.5 0.78 1.34 1.06 1.06 C 1.34 0.78 1.5 0.4 1.5 0 C 1.5 -0.4 1.34 -0.78 1.06 -1.06 C 0.78 -1.34 0.4 -1.5 0 -1.5 C -0.4 -1.5 -0.78 -1.34 -1.06 -1.06 C -1.34 -0.78 -1.5 -0.4 -1.5 0 C -1.5 0.4 -1.34 0.78 -1.06 1.06 C -0.78 1.34 -0.4 1.5 0 1.5 z " transform="translate(554.21 464.74)" style="stroke: #008000;fill: #008000; stroke: #008000"/><path d="M 0 1.5 C 0.4 1.5 0.78 1.34 1.06 1.06 C 1.34 0.78 1.5 0.4 1.5 0 C 1.5 -0.4 1.34 -0.78 1.06 -1.06 C 0.78 -1.34 0.4 -1.5 0 -1.5 C -0.4 -1.5 -0.78 -1.34 -1.06 -1.06 C -1.34 -0.78 -1.5 -0.4 -1.5 0 C -1.5 0.4 -1.34 0.78 -1.06 1.06 C -0.78 1.34 -0.4 1.5 0 1.5 z " transform="translate(570.6 464.1)" style="stroke: #008000;fill: #008000; stroke: #008000"/><path d="M 0 1.5 C 0.4 1.5 0.78 1.34 1.06 1.06 C 1.34 0.78 1.5 0.4 1.5 0 C 1.5 -0.4 1.34 -0.78 1.06 -1.06 C 0.78 -1.34 0.4 -1.5 0 -1.5 C -0.4 -1.5 -0.78 -1.34 -1.06 -1.06 C -1.34 -0.78 -1.5 -0.4 -1.5 0 C -1.5 0.4 -1.34 0.78 -1.06 1.06 C -0.78 1.34 -0.4 1.5 0 1.5 z " transform="translate(586.99 460.91)" style="stroke: #008000;fill: #008000; stroke: #008000"/><path d="M 0 1.5 C 0.4 1.5 0.78 1.34 1.06 1.06 C 1.34 0.78 1.5 0.4 1.5 0 C 1.5 -0.4 1.34 -0.78 1.06 -1.06 C 0.78 -1.34 0.4 -1.5 0 -1.5 C -0.4 -1.5 -0.78 -1.34 -1.06 -1.06 C -1.34 -0.78 -1.5 -0.4 -1.5 0 C -1.5 0.4 -1.34 0.78 -1.06 1.06 C -0.78 1.34 -0.4 1.5 0 1.5 z " transform="translate(603.39 465.57)" style="stroke: #008000;fill: #008000; stroke: #008000"/><path d="M 0 1.5 C 0.4 1.5 0.78 1.34 1.06 1.06 C 1.34 0.78 1.5 0.4 1.5 0 C 1.5 -0.4 1.34 -0.78 1.06 -1.06 C 0.78 -1.34 0.4 -1.5 0 -1.5 C -0.4 -1.5 -0.78 -1.34 -1.06 -1.06 C -1.34 -0.78 -1.5 -0.4 -1.5 0 C -1.5 0.4 -1.34 0.78 -1.06 1.06 C -0.78 1.34 -0.4 1.5 0 1.5 z " transform="translate(619.78 450.36)" style="stroke: #008000;fill: #008000; stroke: #008000"/><path d="M 0 1.5 C 0.4 1.5 0.78 1.34 1.06 1.06 C 1.34 0.78 1.5 0.4 1.5 0 C 1.5 -0.4 1.34 -0.78 1.06 -1.06 C 0.78 -1.34 0.4 -1.5 0 -1.5 C -0.4 -1.5 -0.78 -1.34 -1.06 -1.06 C -1.34 -0.78 -1.5 -0.4 -1.5 0 C -1.5 0.4 -1.34 0.78 -1.06 1.06 C -0.78 1.34 -0.4 1.5 0 1.5 z " transform="translate(636.18 445.31)" style="stroke: #008000;fill: #008000; stroke: #008000"/><path d="M 0 1.5 C 0.4 1.5 0.78 1.34 1.06 1.06 C 1.34 0.78 1.5 0.4 1.5 0 C 1.5 -0.4 1.34 -0.78 1.06 -1.06 C 0.78 -1.34 0.4 -1.5 0 -1.5 C -0.4 -1.5 -0.78 -1.34 -1.06 -1.06 C -1.34 -0.78 -1.5 -0.4 -1.5 0 C -1.5 0.4 -1.34 0.78 -1.06 1.06 C -0.78 1.34 -0.4 1.5 0 1.5 z " transform="translate(652.57 432.46)" style="stroke: #008000;fill: #008000; stroke: #008000"/><path d="M 0 1.5 C 0.4 1.5 0.78 1.34 1.06 1.06 C 1.34 0.78 1.5 0.4 1.5 0 C 1.5 -0.4 1.34 -0.78 1.06 -1.06 C 0.78 -1.34 0.4 -1.5 0 -1.5 C -0.4 -1.5 -0.78 -1.34 -1.06 -1.06 C -1.34 -0.78 -1.5 -0.4 -1.5 0 C -1.5 0.4 -1.34 0.78 -1.06 1.06 C -0.78 1.34 -0.4 1.5 0 1.5 z " transform="translate(668.97 442.56)" style="stroke: #008000;fill: #008000; stroke: #008000"/><path d="M 0 1.5 C 0.4 1.5 0.78 1.34 1.06 1.06 C 1.34 0.78 1.5 0.4 1.5 0 C 1.5 -0.4 1.34 -0.78 1.06 -1.06 C 0.78 -1.34 0.4 -1.5 0 -1.5 C -0.4 -1.5 -0.78 -1.34 -1.06 -1.06 C -1.34 -0.78 -1.5 -0.4 -1.5 0 C -1.5 0.4 -1.34 0.78 -1.06 1.06 C -0.78 1.34 -0.4 1.5 0 1.5 z " transform="translate(685.36 447.68)" style="stroke: #008000;fill: #008000; stroke: #008000"/><path d="M 0 1.5 C 0.4 1.5 0.78 1.34 1.06 1.06 C 1.34 0.78 1.5 0.4 1.5 0 C 1.5 -0.4 1.34 -0.78 1.06 -1.06 C 0.78 -1.34 0.4 -1.5 0 -1.5 C -0.4 -1.5 -0.78 -1.34 -1.06 -1.06 C -1.34 -0.78 -1.5 -0.4 -1.5 0 C -1.5 0.4 -1.34 0.78 -1.06 1.06 C -0.78 1.34 -0.4 1.5 0 1.5 z " transform="translate(701.76 447.48)" style="stroke: #008000;fill: #008000; stroke: #008000"/><path d="M 0 1.5 C 0.4 1.5 0.78 1.34 1.06 1.06 C 1.34 0.78 1.5 0.4 1.5 0 C 1.5 -0.4 1.34 -0.78 1.06 -1.06 C 0.78 -1.34 0.4 -1.5 0 -1.5 C -0.4 -1.5 -0.78 -1.34 -1.06 -1.06 C -1.34 -0.78 -1.5 -0.4 -1.5 0 C -1.5 0.4 -1.34 0.78 -1.06 1.06 C -0.78 1.34 -0.4 1.5 0 1.5 z " transform="translate(718.15 449.15)" style="stroke: #008000;fill: #008000; stroke: #008000"/><path d="M 0 1.5 C 0.4 1.5 0.78 1.34 1.06 1.06 C 1.34 0.78 1.5 0.4 1.5 0 C 1.5 -0.4 1.34 -0.78 1.06 -1.06 C 0.78 -1.34 0.4 -1.5 0 -1.5 C -0.4 -1.5 -0.78 -1.34 -1.06 -1.06 C -1.34 -0.78 -1.5 -0.4 -1.5 0 C -1.5 0.4 -1.34 0.78 -1.06 1.06 C -0.78 1.34 -0.4 1.5 0 1.5 z " transform="translate(734.54 457.58)" style="stroke: #008000;fill: #008000; stroke: #008000"/></g></g><g id="line2d_82"><path d="M 78.77 391.55 L 95.16 387.08 L 111.56 388.67 L 127.95 388.03 L 144.35 390.91 L 160.74 392.19 L 177.13 392.38 L 193.53 394.43 L 209.92 389.31 L 226.32 384.2 L 242.71 375.7 L 259.11 378.64 L 275.5 398.9 L 291.9 406.32 L 308.29 398.71 L 324.68 410.09 L 341.08 408.17 L 357.47 415.59 L 373.87 438.15 L 390.26 436.68 L 406.66 439.62 L 423.05 447.68 L 439.44 458.22 L 455.84 460.91 L 472.23 466.21 L 488.63 470.24 L 505.02 459.05 L 521.42 452.47 L 537.81 440.9 L 554.21 431.82 L 570.6 421.47 L 586.99 418.33 L 603.39 406.7 L 619.78 397.24 L 636.18 392.19 L 652.57 388.03 L 668.97 384.97 L 685.36 380.56 L 701.76 378 L 718.15 381.64 L 734.54 378.64 " clip-path="url(#p8bf510d1eb)" style="fill: none; stroke: #ee82ee; stroke-width: 1.5; stroke-linecap: square"/><g clip-path="url(#p8bf510d1eb)"><path d="M 0 1.5 C 0.4 1.5 0.78 1.34 1.06 1.06 C 1.34 0.78 1.5 0.4 1.5 0 C 1.5 -0.4 1.34 -0.78 1.06 -1.06 C 0.78 -1.34 0.4 -1.5 0 -1.5 C -0.4 -1.5 -0.78 -1.34 -1.06 -1.06 C -1.34 -0.78 -1.5 -0.4 -1.5 0 C -1.5 0.4 -1.34 0.78 -1.06 1.06 C -0.78 1.34 -0.4 1.5 0 1.5 z " transform="translate(78.77 391.55)" style="stroke: #ee82ee;fill: #ee82ee; stroke: #ee82ee"/><path d="M 0 1.5 C 0.4 1.5 0.78 1.34 1.06 1.06 C 1.34 0.78 1.5 0.4 1.5 0 C 1.5 -0.4 1.34 -0.78 1.06 -1.06 C 0.78 -1.34 0.4 -1.5 0 -1.5 C -0.4 -1.5 -0.78 -1.34 -1.06 -1.06 C -1.34 -0.78 -1.5 -0.4 -1.5 0 C -1.5 0.4 -1.34 0.78 -1.06 1.06 C -0.78 1.34 -0.4 1.5 0 1.5 z " transform="translate(95.16 387.08)" style="stroke: #ee82ee;fill: #ee82ee; stroke: #ee82ee"/><path d="M 0 1.5 C 0.4 1.5 0.78 1.34 1.06 1.06 C 1.34 0.78 1.5 0.4 1.5 0 C 1.5 -0.4 1.34 -0.78 1.06 -1.06 C 0.78 -1.34 0.4 -1.5 0 -1.5 C -0.4 -1.5 -0.78 -1.34 -1.06 -1.06 C -1.34 -0.78 -1.5 -0.4 -1.5 0 C -1.5 0.4 -1.34 0.78 -1.06 1.06 C -0.78 1.34 -0.4 1.5 0 1.5 z " transform="translate(111.56 388.67)" style="stroke: #ee82ee;fill: #ee82ee; stroke: #ee82ee"/><path d="M 0 1.5 C 0.4 1.5 0.78 1.34 1.06 1.06 C 1.34 0.78 1.5 0.4 1.5 0 C 1.5 -0.4 1.34 -0.78 1.06 -1.06 C 0.78 -1.34 0.4 -1.5 0 -1.5 C -0.4 -1.5 -0.78 -1.34 -1.06 -1.06 C -1.34 -0.78 -1.5 -0.4 -1.5 0 C -1.5 0.4 -1.34 0.78 -1.06 1.06 C -0.78 1.34 -0.4 1.5 0 1.5 z " transform="translate(127.95 388.03)" style="stroke: #ee82ee;fill: #ee82ee; stroke: #ee82ee"/><path d="M 0 1.5 C 0.4 1.5 0.78 1.34 1.06 1.06 C 1.34 0.78 1.5 0.4 1.5 0 C 1.5 -0.4 1.34 -0.78 1.06 -1.06 C 0.78 -1.34 0.4 -1.5 0 -1.5 C -0.4 -1.5 -0.78 -1.34 -1.06 -1.06 C -1.34 -0.78 -1.5 -0.4 -1.5 0 C -1.5 0.4 -1.34 0.78 -1.06 1.06 C -0.78 1.34 -0.4 1.5 0 1.5 z " transform="translate(144.35 390.91)" style="stroke: #ee82ee;fill: #ee82ee; stroke: #ee82ee"/><path d="M 0 1.5 C 0.4 1.5 0.78 1.34 1.06 1.06 C 1.34 0.78 1.5 0.4 1.5 0 C 1.5 -0.4 1.34 -0.78 1.06 -1.06 C 0.78 -1.34 0.4 -1.5 0 -1.5 C -0.4 -1.5 -0.78 -1.34 -1.06 -1.06 C -1.34 -0.78 -1.5 -0.4 -1.5 0 C -1.5 0.4 -1.34 0.78 -1.06 1.06 C -0.78 1.34 -0.4 1.5 0 1.5 z " transform="translate(160.74 392.19)" style="stroke: #ee82ee;fill: #ee82ee; stroke: #ee82ee"/><path d="M 0 1.5 C 0.4 1.5 0.78 1.34 1.06 1.06 C 1.34 0.78 1.5 0.4 1.5 0 C 1.5 -0.4 1.34 -0.78 1.06 -1.06 C 0.78 -1.34 0.4 -1.5 0 -1.5 C -0.4 -1.5 -0.78 -1.34 -1.06 -1.06 C -1.34 -0.78 -1.5 -0.4 -1.5 0 C -1.5 0.4 -1.34 0.78 -1.06 1.06 C -0.78 1.34 -0.4 1.5 0 1.5 z " transform="translate(177.13 392.38)" style="stroke: #ee82ee;fill: #ee82ee; stroke: #ee82ee"/><path d="M 0 1.5 C 0.4 1.5 0.78 1.34 1.06 1.06 C 1.34 0.78 1.5 0.4 1.5 0 C 1.5 -0.4 1.34 -0.78 1.06 -1.06 C 0.78 -1.34 0.4 -1.5 0 -1.5 C -0.4 -1.5 -0.78 -1.34 -1.06 -1.06 C -1.34 -0.78 -1.5 -0.4 -1.5 0 C -1.5 0.4 -1.34 0.78 -1.06 1.06 C -0.78 1.34 -0.4 1.5 0 1.5 z " transform="translate(193.53 394.43)" style="stroke: #ee82ee;fill: #ee82ee; stroke: #ee82ee"/><path d="M 0 1.5 C 0.4 1.5 0.78 1.34 1.06 1.06 C 1.34 0.78 1.5 0.4 1.5 0 C 1.5 -0.4 1.34 -0.78 1.06 -1.06 C 0.78 -1.34 0.4 -1.5 0 -1.5 C -0.4 -1.5 -0.78 -1.34 -1.06 -1.06 C -1.34 -0.78 -1.5 -0.4 -1.5 0 C -1.5 0.4 -1.34 0.78 -1.06 1.06 C -0.78 1.34 -0.4 1.5 0 1.5 z " transform="translate(209.92 389.31)" style="stroke: #ee82ee;fill: #ee82ee; stroke: #ee82ee"/><path d="M 0 1.5 C 0.4 1.5 0.78 1.34 1.06 1.06 C 1.34 0.78 1.5 0.4 1.5 0 C 1.5 -0.4 1.34 -0.78 1.06 -1.06 C 0.78 -1.34 0.4 -1.5 0 -1.5 C -0.4 -1.5 -0.78 -1.34 -1.06 -1.06 C -1.34 -0.78 -1.5 -0.4 -1.5 0 C -1.5 0.4 -1.34 0.78 -1.06 1.06 C -0.78 1.34 -0.4 1.5 0 1.5 z " transform="translate(226.32 384.2)" style="stroke: #ee82ee;fill: #ee82ee; stroke: #ee82ee"/><path d="M 0 1.5 C 0.4 1.5 0.78 1.34 1.06 1.06 C 1.34 0.78 1.5 0.4 1.5 0 C 1.5 -0.4 1.34 -0.78 1.06 -1.06 C 0.78 -1.34 0.4 -1.5 0 -1.5 C -0.4 -1.5 -0.78 -1.34 -1.06 -1.06 C -1.34 -0.78 -1.5 -0.4 -1.5 0 C -1.5 0.4 -1.34 0.78 -1.06 1.06 C -0.78 1.34 -0.4 1.5 0 1.5 z " transform="translate(242.71 375.7)" style="stroke: #ee82ee;fill: #ee82ee; stroke: #ee82ee"/><path d="M 0 1.5 C 0.4 1.5 0.78 1.34 1.06 1.06 C 1.34 0.78 1.5 0.4 1.5 0 C 1.5 -0.4 1.34 -0.78 1.06 -1.06 C 0.78 -1.34 0.4 -1.5 0 -1.5 C -0.4 -1.5 -0.78 -1.34 -1.06 -1.06 C -1.34 -0.78 -1.5 -0.4 -1.5 0 C -1.5 0.4 -1.34 0.78 -1.06 1.06 C -0.78 1.34 -0.4 1.5 0 1.5 z " transform="translate(259.11 378.64)" style="stroke: #ee82ee;fill: #ee82ee; stroke: #ee82ee"/><path d="M 0 1.5 C 0.4 1.5 0.78 1.34 1.06 1.06 C 1.34 0.78 1.5 0.4 1.5 0 C 1.5 -0.4 1.34 -0.78 1.06 -1.06 C 0.78 -1.34 0.4 -1.5 0 -1.5 C -0.4 -1.5 -0.78 -1.34 -1.06 -1.06 C -1.34 -0.78 -1.5 -0.4 -1.5 0 C -1.5 0.4 -1.34 0.78 -1.06 1.06 C -0.78 1.34 -0.4 1.5 0 1.5 z " transform="translate(275.5 398.9)" style="stroke: #ee82ee;fill: #ee82ee; stroke: #ee82ee"/><path d="M 0 1.5 C 0.4 1.5 0.78 1.34 1.06 1.06 C 1.34 0.78 1.5 0.4 1.5 0 C 1.5 -0.4 1.34 -0.78 1.06 -1.06 C 0.78 -1.34 0.4 -1.5 0 -1.5 C -0.4 -1.5 -0.78 -1.34 -1.06 -1.06 C -1.34 -0.78 -1.5 -0.4 -1.5 0 C -1.5 0.4 -1.34 0.78 -1.06 1.06 C -0.78 1.34 -0.4 1.5 0 1.5 z " transform="translate(291.9 406.32)" style="stroke: #ee82ee;fill: #ee82ee; stroke: #ee82ee"/><path d="M 0 1.5 C 0.4 1.5 0.78 1.34 1.06 1.06 C 1.34 0.78 1.5 0.4 1.5 0 C 1.5 -0.4 1.34 -0.78 1.06 -1.06 C 0.78 -1.34 0.4 -1.5 0 -1.5 C -0.4 -1.5 -0.78 -1.34 -1.06 -1.06 C -1.34 -0.78 -1.5 -0.4 -1.5 0 C -1.5 0.4 -1.34 0.78 -1.06 1.06 C -0.78 1.34 -0.4 1.5 0 1.5 z " transform="translate(308.29 398.71)" style="stroke: #ee82ee;fill: #ee82ee; stroke: #ee82ee"/><path d="M 0 1.5 C 0.4 1.5 0.78 1.34 1.06 1.06 C 1.34 0.78 1.5 0.4 1.5 0 C 1.5 -0.4 1.34 -0.78 1.06 -1.06 C 0.78 -1.34 0.4 -1.5 0 -1.5 C -0.4 -1.5 -0.78 -1.34 -1.06 -1.06 C -1.34 -0.78 -1.5 -0.4 -1.5 0 C -1.5 0.4 -1.34 0.78 -1.06 1.06 C -0.78 1.34 -0.4 1.5 0 1.5 z " transform="translate(324.68 410.09)" style="stroke: #ee82ee;fill: #ee82ee; stroke: #ee82ee"/><path d="M 0 1.5 C 0.4 1.5 0.78 1.34 1.06 1.06 C 1.34 0.78 1.5 0.4 1.5 0 C 1.5 -0.4 1.34 -0.78 1.06 -1.06 C 0.78 -1.34 0.4 -1.5 0 -1.5 C -0.4 -1.5 -0.78 -1.34 -1.06 -1.06 C -1.34 -0.78 -1.5 -0.4 -1.5 0 C -1.5 0.4 -1.34 0.78 -1.06 1.06 C -0.78 1.34 -0.4 1.5 0 1.5 z " transform="translate(341.08 408.17)" style="stroke: #ee82ee;fill: #ee82ee; stroke: #ee82ee"/><path d="M 0 1.5 C 0.4 1.5 0.78 1.34 1.06 1.06 C 1.34 0.78 1.5 0.4 1.5 0 C 1.5 -0.4 1.34 -0.78 1.06 -1.06 C 0.78 -1.34 0.4 -1.5 0 -1.5 C -0.4 -1.5 -0.78 -1.34 -1.06 -1.06 C -1.34 -0.78 -1.5 -0.4 -1.5 0 C -1.5 0.4 -1.34 0.78 -1.06 1.06 C -0.78 1.34 -0.4 1.5 0 1.5 z " transform="translate(357.47 415.59)" style="stroke: #ee82ee;fill: #ee82ee; stroke: #ee82ee"/><path d="M 0 1.5 C 0.4 1.5 0.78 1.34 1.06 1.06 C 1.34 0.78 1.5 0.4 1.5 0 C 1.5 -0.4 1.34 -0.78 1.06 -1.06 C 0.78 -1.34 0.4 -1.5 0 -1.5 C -0.4 -1.5 -0.78 -1.34 -1.06 -1.06 C -1.34 -0.78 -1.5 -0.4 -1.5 0 C -1.5 0.4 -1.34 0.78 -1.06 1.06 C -0.78 1.34 -0.4 1.5 0 1.5 z " transform="translate(373.87 438.15)" style="stroke: #ee82ee;fill: #ee82ee; stroke: #ee82ee"/><path d="M 0 1.5 C 0.4 1.5 0.78 1.34 1.06 1.06 C 1.34 0.78 1.5 0.4 1.5 0 C 1.5 -0.4 1.34 -0.78 1.06 -1.06 C 0.78 -1.34 0.4 -1.5 0 -1.5 C -0.4 -1.5 -0.78 -1.34 -1.06 -1.06 C -1.34 -0.78 -1.5 -0.4 -1.5 0 C -1.5 0.4 -1.34 0.78 -1.06 1.06 C -0.78 1.34 -0.4 1.5 0 1.5 z " transform="translate(390.26 436.68)" style="stroke: #ee82ee;fill: #ee82ee; stroke: #ee82ee"/><path d="M 0 1.5 C 0.4 1.5 0.78 1.34 1.06 1.06 C 1.34 0.78 1.5 0.4 1.5 0 C 1.5 -0.4 1.34 -0.78 1.06 -1.06 C 0.78 -1.34 0.4 -1.5 0 -1.5 C -0.4 -1.5 -0.78 -1.34 -1.06 -1.06 C -1.34 -0.78 -1.5 -0.4 -1.5 0 C -1.5 0.4 -1.34 0.78 -1.06 1.06 C -0.78 1.34 -0.4 1.5 0 1.5 z " transform="translate(406.66 439.62)" style="stroke: #ee82ee;fill: #ee82ee; stroke: #ee82ee"/><path d="M 0 1.5 C 0.4 1.5 0.78 1.34 1.06 1.06 C 1.34 0.78 1.5 0.4 1.5 0 C 1.5 -0.4 1.34 -0.78 1.06 -1.06 C 0.78 -1.34 0.4 -1.5 0 -1.5 C -0.4 -1.5 -0.78 -1.34 -1.06 -1.06 C -1.34 -0.78 -1.5 -0.4 -1.5 0 C -1.5 0.4 -1.34 0.78 -1.06 1.06 C -0.78 1.34 -0.4 1.5 0 1.5 z " transform="translate(423.05 447.68)" style="stroke: #ee82ee;fill: #ee82ee; stroke: #ee82ee"/><path d="M 0 1.5 C 0.4 1.5 0.78 1.34 1.06 1.06 C 1.34 0.78 1.5 0.4 1.5 0 C 1.5 -0.4 1.34 -0.78 1.06 -1.06 C 0.78 -1.34 0.4 -1.5 0 -1.5 C -0.4 -1.5 -0.78 -1.34 -1.06 -1.06 C -1.34 -0.78 -1.5 -0.4 -1.5 0 C -1.5 0.4 -1.34 0.78 -1.06 1.06 C -0.78 1.34 -0.4 1.5 0 1.5 z " transform="translate(439.44 458.22)" style="stroke: #ee82ee;fill: #ee82ee; stroke: #ee82ee"/><path d="M 0 1.5 C 0.4 1.5 0.78 1.34 1.06 1.06 C 1.34 0.78 1.5 0.4 1.5 0 C 1.5 -0.4 1.34 -0.78 1.06 -1.06 C 0.78 -1.34 0.4 -1.5 0 -1.5 C -0.4 -1.5 -0.78 -1.34 -1.06 -1.06 C -1.34 -0.78 -1.5 -0.4 -1.5 0 C -1.5 0.4 -1.34 0.78 -1.06 1.06 C -0.78 1.34 -0.4 1.5 0 1.5 z " transform="translate(455.84 460.91)" style="stroke: #ee82ee;fill: #ee82ee; stroke: #ee82ee"/><path d="M 0 1.5 C 0.4 1.5 0.78 1.34 1.06 1.06 C 1.34 0.78 1.5 0.4 1.5 0 C 1.5 -0.4 1.34 -0.78 1.06 -1.06 C 0.78 -1.34 0.4 -1.5 0 -1.5 C -0.4 -1.5 -0.78 -1.34 -1.06 -1.06 C -1.34 -0.78 -1.5 -0.4 -1.5 0 C -1.5 0.4 -1.34 0.78 -1.06 1.06 C -0.78 1.34 -0.4 1.5 0 1.5 z " transform="translate(472.23 466.21)" style="stroke: #ee82ee;fill: #ee82ee; stroke: #ee82ee"/><path d="M 0 1.5 C 0.4 1.5 0.78 1.34 1.06 1.06 C 1.34 0.78 1.5 0.4 1.5 0 C 1.5 -0.4 1.34 -0.78 1.06 -1.06 C 0.78 -1.34 0.4 -1.5 0 -1.5 C -0.4 -1.5 -0.78 -1.34 -1.06 -1.06 C -1.34 -0.78 -1.5 -0.4 -1.5 0 C -1.5 0.4 -1.34 0.78 -1.06 1.06 C -0.78 1.34 -0.4 1.5 0 1.5 z " transform="translate(488.63 470.24)" style="stroke: #ee82ee;fill: #ee82ee; stroke: #ee82ee"/><path d="M 0 1.5 C 0.4 1.5 0.78 1.34 1.06 1.06 C 1.34 0.78 1.5 0.4 1.5 0 C 1.5 -0.4 1.34 -0.78 1.06 -1.06 C 0.78 -1.34 0.4 -1.5 0 -1.5 C -0.4 -1.5 -0.78 -1.34 -1.06 -1.06 C -1.34 -0.78 -1.5 -0.4 -1.5 0 C -1.5 0.4 -1.34 0.78 -1.06 1.06 C -0.78 1.34 -0.4 1.5 0 1.5 z " transform="translate(505.02 459.05)" style="stroke: #ee82ee;fill: #ee82ee; stroke: #ee82ee"/><path d="M 0 1.5 C 0.4 1.5 0.78 1.34 1.06 1.06 C 1.34 0.78 1.5 0.4 1.5 0 C 1.5 -0.4 1.34 -0.78 1.06 -1.06 C 0.78 -1.34 0.4 -1.5 0 -1.5 C -0.4 -1.5 -0.78 -1.34 -1.06 -1.06 C -1.34 -0.78 -1.5 -0.4 -1.5 0 C -1.5 0.4 -1.34 0.78 -1.06 1.06 C -0.78 1.34 -0.4 1.5 0 1.5 z " transform="translate(521.42 452.47)" style="stroke: #ee82ee;fill: #ee82ee; stroke: #ee82ee"/><path d="M 0 1.5 C 0.4 1.5 0.78 1.34 1.06 1.06 C 1.34 0.78 1.5 0.4 1.5 0 C 1.5 -0.4 1.34 -0.78 1.06 -1.06 C 0.78 -1.34 0.4 -1.5 0 -1.5 C -0.4 -1.5 -0.78 -1.34 -1.06 -1.06 C -1.34 -0.78 -1.5 -0.4 -1.5 0 C -1.5 0.4 -1.34 0.78 -1.06 1.06 C -0.78 1.34 -0.4 1.5 0 1.5 z " transform="translate(537.81 440.9)" style="stroke: #ee82ee;fill: #ee82ee; stroke: #ee82ee"/><path d="M 0 1.5 C 0.4 1.5 0.78 1.34 1.06 1.06 C 1.34 0.78 1.5 0.4 1.5 0 C 1.5 -0.4 1.34 -0.78 1.06 -1.06 C 0.78 -1.34 0.4 -1.5 0 -1.5 C -0.4 -1.5 -0.78 -1.34 -1.06 -1.06 C -1.34 -0.78 -1.5 -0.4 -1.5 0 C -1.5 0.4 -1.34 0.78 -1.06 1.06 C -0.78 1.34 -0.4 1.5 0 1.5 z " transform="translate(554.21 431.82)" style="stroke: #ee82ee;fill: #ee82ee; stroke: #ee82ee"/><path d="M 0 1.5 C 0.4 1.5 0.78 1.34 1.06 1.06 C 1.34 0.78 1.5 0.4 1.5 0 C 1.5 -0.4 1.34 -0.78 1.06 -1.06 C 0.78 -1.34 0.4 -1.5 0 -1.5 C -0.4 -1.5 -0.78 -1.34 -1.06 -1.06 C -1.34 -0.78 -1.5 -0.4 -1.5 0 C -1.5 0.4 -1.34 0.78 -1.06 1.06 C -0.78 1.34 -0.4 1.5 0 1.5 z " transform="translate(570.6 421.47)" style="stroke: #ee82ee;fill: #ee82ee; stroke: #ee82ee"/><path d="M 0 1.5 C 0.4 1.5 0.78 1.34 1.06 1.06 C 1.34 0.78 1.5 0.4 1.5 0 C 1.5 -0.4 1.34 -0.78 1.06 -1.06 C 0.78 -1.34 0.4 -1.5 0 -1.5 C -0.4 -1.5 -0.78 -1.34 -1.06 -1.06 C -1.34 -0.78 -1.5 -0.4 -1.5 0 C -1.5 0.4 -1.34 0.78 -1.06 1.06 C -0.78 1.34 -0.4 1.5 0 1.5 z " transform="translate(586.99 418.33)" style="stroke: #ee82ee;fill: #ee82ee; stroke: #ee82ee"/><path d="M 0 1.5 C 0.4 1.5 0.78 1.34 1.06 1.06 C 1.34 0.78 1.5 0.4 1.5 0 C 1.5 -0.4 1.34 -0.78 1.06 -1.06 C 0.78 -1.34 0.4 -1.5 0 -1.5 C -0.4 -1.5 -0.78 -1.34 -1.06 -1.06 C -1.34 -0.78 -1.5 -0.4 -1.5 0 C -1.5 0.4 -1.34 0.78 -1.06 1.06 C -0.78 1.34 -0.4 1.5 0 1.5 z " transform="translate(603.39 406.7)" style="stroke: #ee82ee;fill: #ee82ee; stroke: #ee82ee"/><path d="M 0 1.5 C 0.4 1.5 0.78 1.34 1.06 1.06 C 1.34 0.78 1.5 0.4 1.5 0 C 1.5 -0.4 1.34 -0.78 1.06 -1.06 C 0.78 -1.34 0.4 -1.5 0 -1.5 C -0.4 -1.5 -0.78 -1.34 -1.06 -1.06 C -1.34 -0.78 -1.5 -0.4 -1.5 0 C -1.5 0.4 -1.34 0.78 -1.06 1.06 C -0.78 1.34 -0.4 1.5 0 1.5 z " transform="translate(619.78 397.24)" style="stroke: #ee82ee;fill: #ee82ee; stroke: #ee82ee"/><path d="M 0 1.5 C 0.4 1.5 0.78 1.34 1.06 1.06 C 1.34 0.78 1.5 0.4 1.5 0 C 1.5 -0.4 1.34 -0.78 1.06 -1.06 C 0.78 -1.34 0.4 -1.5 0 -1.5 C -0.4 -1.5 -0.78 -1.34 -1.06 -1.06 C -1.34 -0.78 -1.5 -0.4 -1.5 0 C -1.5 0.4 -1.34 0.78 -1.06 1.06 C -0.78 1.34 -0.4 1.5 0 1.5 z " transform="translate(636.18 392.19)" style="stroke: #ee82ee;fill: #ee82ee; stroke: #ee82ee"/><path d="M 0 1.5 C 0.4 1.5 0.78 1.34 1.06 1.06 C 1.34 0.78 1.5 0.4 1.5 0 C 1.5 -0.4 1.34 -0.78 1.06 -1.06 C 0.78 -1.34 0.4 -1.5 0 -1.5 C -0.4 -1.5 -0.78 -1.34 -1.06 -1.06 C -1.34 -0.78 -1.5 -0.4 -1.5 0 C -1.5 0.4 -1.34 0.78 -1.06 1.06 C -0.78 1.34 -0.4 1.5 0 1.5 z " transform="translate(652.57 388.03)" style="stroke: #ee82ee;fill: #ee82ee; stroke: #ee82ee"/><path d="M 0 1.5 C 0.4 1.5 0.78 1.34 1.06 1.06 C 1.34 0.78 1.5 0.4 1.5 0 C 1.5 -0.4 1.34 -0.78 1.06 -1.06 C 0.78 -1.34 0.4 -1.5 0 -1.5 C -0.4 -1.5 -0.78 -1.34 -1.06 -1.06 C -1.34 -0.78 -1.5 -0.4 -1.5 0 C -1.5 0.4 -1.34 0.78 -1.06 1.06 C -0.78 1.34 -0.4 1.5 0 1.5 z " transform="translate(668.97 384.97)" style="stroke: #ee82ee;fill: #ee82ee; stroke: #ee82ee"/><path d="M 0 1.5 C 0.4 1.5 0.78 1.34 1.06 1.06 C 1.34 0.78 1.5 0.4 1.5 0 C 1.5 -0.4 1.34 -0.78 1.06 -1.06 C 0.78 -1.34 0.4 -1.5 0 -1.5 C -0.4 -1.5 -0.78 -1.34 -1.06 -1.06 C -1.34 -0.78 -1.5 -0.4 -1.5 0 C -1.5 0.4 -1.34 0.78 -1.06 1.06 C -0.78 1.34 -0.4 1.5 0 1.5 z " transform="translate(685.36 380.56)" style="stroke: #ee82ee;fill: #ee82ee; stroke: #ee82ee"/><path d="M 0 1.5 C 0.4 1.5 0.78 1.34 1.06 1.06 C 1.34 0.78 1.5 0.4 1.5 0 C 1.5 -0.4 1.34 -0.78 1.06 -1.06 C 0.78 -1.34 0.4 -1.5 0 -1.5 C -0.4 -1.5 -0.78 -1.34 -1.06 -1.06 C -1.34 -0.78 -1.5 -0.4 -1.5 0 C -1.5 0.4 -1.34 0.78 -1.06 1.06 C -0.78 1.34 -0.4 1.5 0 1.5 z " transform="translate(701.76 378)" style="stroke: #ee82ee;fill: #ee82ee; stroke: #ee82ee"/><path d="M 0 1.5 C 0.4 1.5 0.78 1.34 1.06 1.06 C 1.34 0.78 1.5 0.4 1.5 0 C 1.5 -0.4 1.34 -0.78 1.06 -1.06 C 0.78 -1.34 0.4 -1.5 0 -1.5 C -0.4 -1.5 -0.78 -1.34 -1.06 -1.06 C -1.34 -0.78 -1.5 -0.4 -1.5 0 C -1.5 0.4 -1.34 0.78 -1.06 1.06 C -0.78 1.34 -0.4 1.5 0 1.5 z " transform="translate(718.15 381.64)" style="stroke: #ee82ee;fill: #ee82ee; stroke: #ee82ee"/><path d="M 0 1.5 C 0.4 1.5 0.78 1.34 1.06 1.06 C 1.34 0.78 1.5 0.4 1.5 0 C 1.5 -0.4 1.34 -0.78 1.06 -1.06 C 0.78 -1.34 0.4 -1.5 0 -1.5 C -0.4 -1.5 -0.78 -1.34 -1.06 -1.06 C -1.34 -0.78 -1.5 -0.4 -1.5 0 C -1.5 0.4 -1.34 0.78 -1.06 1.06 C -0.78 1.34 -0.4 1.5 0 1.5 z " transform="translate(734.54 378.64)" style="stroke: #ee82ee;fill: #ee82ee; stroke: #ee82ee"/></g></g><g id="patch_22"><path shape-rendering="crispEdges" d="M 62.28 484.56 L 62.28 316.44 " style="fill: none; stroke: #000000; stroke-width: 0.72; stroke-linejoin: miter; stroke-linecap: square"/></g><g id="patch_23"><path shape-rendering="crispEdges" d="M 751.32 484.56 L 751.32 316.44 " style="fill: none; stroke: #000000; stroke-width: 0.72; stroke-linejoin: miter; stroke-linecap: square"/></g><g id="patch_24"><path shape-rendering="crispEdges" d="M 62.28 484.56 L 751.32 484.56 " style="fill: none; stroke: #000000; stroke-width: 0.72; stroke-linejoin: miter; stroke-linecap: square"/></g><g id="patch_25"><path shape-rendering="crispEdges" d="M 62.28 316.44 L 751.32 316.44 " style="fill: none; stroke: #000000; stroke-width: 0.72; stroke-linejoin: miter; stroke-linecap: square"/></g><g id="legend_1"><g id="patch_26"><path d="M 68.11 335.33 L 275.19 335.33 Q 276.86 335.33 276.86 333.66 L 276.86 322.27 Q 276.86 320.61 275.19 320.61 L 68.11 320.61 Q 66.44 320.61 66.44 322.27 L 66.44 333.66 Q 66.44 335.33 68.11 335.33 z " style="fill: #ffffff; opacity: 0.8; stroke: #cccccc; stroke-linejoin: miter"/></g><g id="line2d_83"><path d="M 69.78 327.35 L 78.11 327.35 L 86.44 327.35 " style="fill: none; stroke: #000000; stroke-width: 1.5; stroke-linecap: square"/><g><path d="M 0 1.5 C 0.4 1.5 0.78 1.34 1.06 1.06 C 1.34 0.78 1.5 0.4 1.5 0 C 1.5 -0.4 1.34 -0.78 1.06 -1.06 C 0.78 -1.34 0.4 -1.5 0 -1.5 C -0.4 -1.5 -0.78 -1.34 -1.06 -1.06 C -1.34 -0.78 -1.5 -0.4 -1.5 0 C -1.5 0.4 -1.34 0.78 -1.06 1.06 C -0.78 1.34 -0.4 1.5 0 1.5 z " transform="translate(78.11 327.35)" style="stroke: #000000;stroke: #000000"/></g></g><g id="text_33"><text style="font-size: 8.33px; font-family: 'DejaVu Sans', 'Liberation Sans', sans-serif; text-anchor: start" x="93.1" y="330.27" transform="rotate(-0 93.1 330.27)">T(2m)</text></g><g id="line2d_84"><path d="M 134.76 327.35 L 143.09 327.35 L 151.42 327.35 " style="fill: none; stroke: #008000; stroke-width: 1.5; stroke-linecap: square"/><g><path d="M 0 1.5 C 0.4 1.5 0.78 1.34 1.06 1.06 C 1.34 0.78 1.5 0.4 1.5 0 C 1.5 -0.4 1.34 -0.78 1.06 -1.06 C 0.78 -1.34 0.4 -1.5 0 -1.5 C -0.4 -1.5 -0.78 -1.34 -1.06 -1.06 C -1.34 -0.78 -1.5 -0.4 -1.5 0 C -1.5 0.4 -1.34 0.78 -1.06 1.06 C -0.78 1.34 -0.4 1.5 0 1.5 z " transform="translate(143.09 327.35)" style="stroke: #008000;fill: #008000; stroke: #008000"/></g></g><g id="text_34"><text style="font-size: 8.33px; font-family: 'DejaVu Sans', 'Liberation Sans', sans-serif; text-anchor: start" x="158.09" y="330.27" transform="rotate(-0 158.09 330.27)">Td(2m)</text></g><g id="line2d_85"><path d="M 205.04 327.35 L 213.37 327.35 L 221.7 327.35 " style="fill: none; stroke: #ee82ee; stroke-width: 1.5; stroke-linecap: square"/><g><path d="M 0 1.5 C 0.4 1.5 0.78 1.34 1.06 1.06 C 1.34 0.78 1.5 0.4 1.5 0 C 1.5 -0.4 1.34 -0.78 1.06 -1.06 C 0.78 -1.34 0.4 -1.5 0 -1.5 C -0.4 -1.5 -0.78 -1.34 -1.06 -1.06 C -1.34 -0.78 -1.5 -0.4 -1.5 0 C -1.5 0.4 -1.34 0.78 -1.06 1.06 C -0.78 1.34 -0.4 1.5 0 1.5 z " transform="translate(213.37 327.35)" style="stroke: #ee82ee;fill: #ee82ee; stroke: #ee82ee"/></g></g><g id="text_35"><text style="font-size: 8.33px; font-family: 'DejaVu Sans', 'Liberation Sans', sans-serif; text-anchor: start" x="228.36" y="330.27" transform="rotate(-0 228.36 330.27)">T(850 hPa)</text></g></g></g><g id="axes_4"><g id="patch_27"><path d="M 62.28 576.72 L 751.32 576.72 L 751.32 499.97 L 62.28 499.97 z " style="fill: #ffffff"/></g><g id="Barbs_2"><path d="M 78.77 509.04 L 78.21 509.13 L 77.71 509.38 L 77.31 509.78 L 77.06 510.28 L 76.97 510.84 L 77.06 511.4 L 77.31 511.9 L 77.71 512.3 L 78.21 512.55 L 78.77 512.64 L 79.32 512.55 L 79.83 512.3 L 80.22 511.9 L 80.48 511.4 L 80.57 510.84 L 80.48 510.28 L 80.22 509.78 L 79.83 509.38 L 79.32 509.13 L 78.77 509.04 L 78.77 509.04 L 79.32 509.13 L 79.83 509.38 L 80.22 509.78 L 80.48 510.28 L 80.57 510.84 L 80.48 511.4 L 80.22 511.9 L 79.83 512.3 L 79.32 512.55 L 78.77 512.64 L 78.21 512.55 L 77.71 512.3 L 77.31 511.9 L 77.06 511.4 L 76.97 510.84 L 77.06 510.28 L 77.31 509.78 L 77.71 509.38 L 78.21 509.13 L 78.77 509.04 z " clip-path="url(#pb868a80c06)" style="stroke: #000000"/><path d="M 95.16 509.04 L 94.61 509.13 L 94.1 509.38 L 93.71 509.78 L 93.45 510.28 L 93.36 510.84 L 93.45 511.4 L 93.71 511.9 L 94.1 512.3 L 94.61 512.55 L 95.16 512.64 L 95.72 512.55 L 96.22 512.3 L 96.62 511.9 L 96.88 511.4 L 96.96 510.84 L 96.88 510.28 L 96.62 509.78 L 96.22 509.38 L 95.72 509.13 L 95.16 509.04 L 95.16 509.04 L 95.72 509.13 L 96.22 509.38 L 96.62 509.78 L 96.88 510.28 L 96.96 510.84 L 96.88 511.4 L 96.62 511.9 L 96.22 512.3 L 95.72 512.55 L 95.16 512.64 L 94.61 512.55 L 94.1 512.3 L 93.71 511.9 L 93.45 511.4 L 93.36 510.84 L 93.45 510.28 L 93.71 509.78 L 94.1 509.38 L 94.61 509.13 L 95.16 509.04 z " clip-path="url(#pb868a80c06)" style="stroke: #000000"/><path d="M 111.56 509.04 L 111 509.13 L 110.5 509.38 L 110.1 509.78 L 109.84 510.28 L 109.76 510.84 L 109.84 511.4 L 110.1 511.9 L 110.5 512.3 L 111 512.55 L 111.56 512.64 L 112.11 512.55 L 112.62 512.3 L 113.01 511.9 L 113.27 511.4 L 113.36 510.84 L 113.27 510.28 L 113.01 509.78 L 112.62 509.38 L 112.11 509.13 L 111.56 509.04 L 111.56 509.04 L 112.11 509.13 L 112.62 509.38 L 113.01 509.78 L 113.27 510.28 L 113.36 510.84 L 113.27 511.4 L 113.01 511.9 L 112.62 512.3 L 112.11 512.55 L 111.56 512.64 L 111 512.55 L 110.5 512.3 L 110.1 511.9 L 109.84 511.4 L 109.76 510.84 L 109.84 510.28 L 110.1 509.78 L 110.5 509.38 L 111 509.13 L 111.56 509.04 z " clip-path="url(#pb868a80c06)" style="stroke: #000000"/><path d="M 127.95 509.04 L 127.39 509.13 L 126.89 509.38 L 126.49 509.78 L 126.24 510.28 L 126.15 510.84 L 126.24 511.4 L 126.49 511.9 L 126.89 512.3 L 127.39 512.55 L 127.95 512.64 L 128.51 512.55 L 129.01 512.3 L 129.41 511.9 L 129.66 511.4 L 129.75 510.84 L 129.66 510.28 L 129.41 509.78 L 129.01 509.38 L 128.51 509.13 L 127.95 509.04 L 127.95 509.04 L 128.51 509.13 L 129.01 509.38 L 129.41 509.78 L 129.66 510.28 L 129.75 510.84 L 129.66 511.4 L 129.41 511.9 L 129.01 512.3 L 128.51 512.55 L 127.95 512.64 L 127.39 512.55 L 126.89 512.3 L 126.49 511.9 L 126.24 511.4 L 126.15 510.84 L 126.24 510.28 L 126.49 509.78 L 126.89 509.38 L 127.39 509.13 L 127.95 509.04 z " clip-path="url(#pb868a80c06)" style="stroke: #000000"/><path d="M 144.35 509.04 L 143.79 509.13 L 143.29 509.38 L 142.89 509.78 L 142.63 510.28 L 142.54 510.84 L 142.63 511.4 L 142.89 511.9 L 143.29 512.3 L 143.79 512.55 L 144.35 512.64 L 144.9 512.55 L 145.4 512.3 L 145.8 511.9 L 146.06 511.4 L 146.15 510.84 L 146.06 510.28 L 145.8 509.78 L 145.4 509.38 L 144.9 509.13 L 144.35 509.04 L 144.35 509.04 L 144.9 509.13 L 145.4 509.38 L 145.8 509.78 L 146.06 510.28 L 146.15 510.84 L 146.06 511.4 L 145.8 511.9 L 145.4 512.3 L 144.9 512.55 L 144.35 512.64 L 143.79 512.55 L 143.29 512.3 L 142.89 511.9 L 142.63 511.4 L 142.54 510.84 L 142.63 510.28 L 142.89 509.78 L 143.29 509.38 L 143.79 509.13 L 144.35 509.04 z " clip-path="url(#pb868a80c06)" style="stroke: #000000"/><path d="M 160.74 509.04 L 160.18 509.13 L 159.68 509.38 L 159.28 509.78 L 159.03 510.28 L 158.94 510.84 L 159.03 511.4 L 159.28 511.9 L 159.68 512.3 L 160.18 512.55 L 160.74 512.64 L 161.3 512.55 L 161.8 512.3 L 162.2 511.9 L 162.45 511.4 L 162.54 510.84 L 162.45 510.28 L 162.2 509.78 L 161.8 509.38 L 161.3 509.13 L 160.74 509.04 L 160.74 509.04 L 161.3 509.13 L 161.8 509.38 L 162.2 509.78 L 162.45 510.28 L 162.54 510.84 L 162.45 511.4 L 162.2 511.9 L 161.8 512.3 L 161.3 512.55 L 160.74 512.64 L 160.18 512.55 L 159.68 512.3 L 159.28 511.9 L 159.03 511.4 L 158.94 510.84 L 159.03 510.28 L 159.28 509.78 L 159.68 509.38 L 160.18 509.13 L 160.74 509.04 z " clip-path="url(#pb868a80c06)" style="stroke: #000000"/><path d="M 177.13 509.04 L 176.58 509.13 L 176.08 509.38 L 175.68 509.78 L 175.42 510.28 L 175.33 510.84 L 175.42 511.4 L 175.68 511.9 L 176.08 512.3 L 176.58 512.55 L 177.13 512.64 L 177.69 512.55 L 178.19 512.3 L 178.59 511.9 L 178.85 511.4 L 178.94 510.84 L 178.85 510.28 L 178.59 509.78 L 178.19 509.38 L 177.69 509.13 L 177.13 509.04 L 177.13 509.04 L 177.69 509.13 L 178.19 509.38 L 178.59 509.78 L 178.85 510.28 L 178.94 510.84 L 178.85 511.4 L 178.59 511.9 L 178.19 512.3 L 177.69 512.55 L 177.13 512.64 L 176.58 512.55 L 176.08 512.3 L 175.68 511.9 L 175.42 511.4 L 175.33 510.84 L 175.42 510.28 L 175.68 509.78 L 176.08 509.38 L 176.58 509.13 L 177.13 509.04 z " clip-path="url(#pb868a80c06)" style="stroke: #000000"/><path d="M 193.53 509.04 L 192.97 509.13 L 192.47 509.38 L 192.07 509.78 L 191.82 510.28 L 191.73 510.84 L 191.82 511.4 L 192.07 511.9 L 192.47 512.3 L 192.97 512.55 L 193.53 512.64 L 194.09 512.55 L 194.59 512.3 L 194.99 511.9 L 195.24 511.4 L 195.33 510.84 L 195.24 510.28 L 194.99 509.78 L 194.59 509.38 L 194.09 509.13 L 193.53 509.04 L 193.53 509.04 L 194.09 509.13 L 194.59 509.38 L 194.99 509.78 L 195.24 510.28 L 195.33 510.84 L 195.24 511.4 L 194.99 511.9 L 194.59 512.3 L 194.09 512.55 L 193.53 512.64 L 192.97 512.55 L 192.47 512.3 L 192.07 511.9 L 191.82 511.4 L 191.73 510.84 L 191.82 510.28 L 192.07 509.78 L 192.47 509.38 L 192.97 509.13 L 193.53 509.04 z " clip-path="url(#pb868a80c06)" style="stroke: #000000"/><path d="M 209.92 509.04 L 209.37 509.13 L 208.86 509.38 L 208.47 509.78 L 208.21 510.28 L 208.12 510.84 L 208.21 511.4 L 208.47 511.9 L 208.86 512.3 L 209.37 512.55 L 209.92 512.64 L 210.48 512.55 L 210.98 512.3 L 211.38 511.9 L 211.64 511.4 L 211.72 510.84 L 211.64 510.28 L 211.38 509.78 L 210.98 509.38 L 210.48 509.13 L 209.92 509.04 L 209.92 509.04 L 210.48 509.13 L 210.98 509.38 L 211.38 509.78 L 211.64 510.28 L 211.72 510.84 L 211.64 511.4 L 211.38 511.9 L 210.98 512.3 L 210.48 512.55 L 209.92 512.64 L 209.37 512.55 L 208.86 512.3 L 208.47 511.9 L 208.21 511.4 L 208.12 510.84 L 208.21 510.28 L 208.47 509.78 L 208.86 509.38 L 209.37 509.13 L 209.92 509.04 z " clip-path="url(#pb868a80c06)" style="stroke: #000000"/><path d="M 226.32 509.04 L 225.76 509.13 L 225.26 509.38 L 224.86 509.78 L 224.6 510.28 L 224.52 510.84 L 224.6 511.4 L 224.86 511.9 L 225.26 512.3 L 225.76 512.55 L 226.32 512.64 L 226.87 512.55 L 227.38 512.3 L 227.77 511.9 L 228.03 511.4 L 228.12 510.84 L 228.03 510.28 L 227.77 509.78 L 227.38 509.38 L 226.87 509.13 L 226.32 509.04 L 226.32 509.04 L 226.87 509.13 L 227.38 509.38 L 227.77 509.78 L 228.03 510.28 L 228.12 510.84 L 228.03 511.4 L 227.77 511.9 L 227.38 512.3 L 226.87 512.55 L 226.32 512.64 L 225.76 512.55 L 225.26 512.3 L 224.86 511.9 L 224.6 511.4 L 224.52 510.84 L 224.6 510.28 L 224.86 509.78 L 225.26 509.38 L 225.76 509.13 L 226.32 509.04 z " clip-path="url(#pb868a80c06)" style="stroke: #000000"/><path d="M 237.51 507.84 L 247.91 513.84 L 245.96 512.72 L 245.41 515.17 L 245.96 512.72 z " clip-path="url(#pb868a80c06)" style="stroke: #000000"/><path d="M 259.11 509.04 L 258.55 509.13 L 258.05 509.38 L 257.65 509.78 L 257.39 510.28 L 257.31 510.84 L 257.39 511.4 L 257.65 511.9 L 258.05 512.3 L 258.55 512.55 L 259.11 512.64 L 259.66 512.55 L 260.16 512.3 L 260.56 511.9 L 260.82 511.4 L 260.91 510.84 L 260.82 510.28 L 260.56 509.78 L 260.16 509.38 L 259.66 509.13 L 259.11 509.04 L 259.11 509.04 L 259.66 509.13 L 260.16 509.38 L 260.56 509.78 L 260.82 510.28 L 260.91 510.84 L 260.82 511.4 L 260.56 511.9 L 260.16 512.3 L 259.66 512.55 L 259.11 512.64 L 258.55 512.55 L 258.05 512.3 L 257.65 511.9 L 257.39 511.4 L 257.31 510.84 L 257.39 510.28 L 257.65 509.78 L 258.05 509.38 L 258.55 509.13 L 259.11 509.04 z " clip-path="url(#pb868a80c06)" style="stroke: #000000"/><path d="M 279.75 506.6 L 271.26 515.09 L 272.85 513.49 L 270.62 512.33 L 272.85 513.49 z " clip-path="url(#pb868a80c06)" style="stroke: #000000"/><path d="M 295.75 506.24 L 288.04 515.44 L 289.48 513.72 L 287.16 512.75 L 289.48 513.72 z " clip-path="url(#pb868a80c06)" style="stroke: #000000"/><path d="M 308.29 509.04 L 307.73 509.13 L 307.23 509.38 L 306.83 509.78 L 306.58 510.28 L 306.49 510.84 L 306.58 511.4 L 306.83 511.9 L 307.23 512.3 L 307.73 512.55 L 308.29 512.64 L 308.85 512.55 L 309.35 512.3 L 309.75 511.9 L 310 511.4 L 310.09 510.84 L 310 510.28 L 309.75 509.78 L 309.35 509.38 L 308.85 509.13 L 308.29 509.04 L 308.29 509.04 L 308.85 509.13 L 309.35 509.38 L 309.75 509.78 L 310 510.28 L 310.09 510.84 L 310 511.4 L 309.75 511.9 L 309.35 512.3 L 308.85 512.55 L 308.29 512.64 L 307.73 512.55 L 307.23 512.3 L 306.83 511.9 L 306.58 511.4 L 306.49 510.84 L 306.58 510.28 L 306.83 509.78 L 307.23 509.38 L 307.73 509.13 L 308.29 509.04 z " clip-path="url(#pb868a80c06)" style="stroke: #000000"/><path d="M 324.68 509.04 L 324.13 509.13 L 323.63 509.38 L 323.23 509.78 L 322.97 510.28 L 322.88 510.84 L 322.97 511.4 L 323.23 511.9 L 323.63 512.3 L 324.13 512.55 L 324.68 512.64 L 325.24 512.55 L 325.74 512.3 L 326.14 511.9 L 326.4 511.4 L 326.48 510.84 L 326.4 510.28 L 326.14 509.78 L 325.74 509.38 L 325.24 509.13 L 324.68 509.04 L 324.68 509.04 L 325.24 509.13 L 325.74 509.38 L 326.14 509.78 L 326.4 510.28 L 326.48 510.84 L 326.4 511.4 L 326.14 511.9 L 325.74 512.3 L 325.24 512.55 L 324.68 512.64 L 324.13 512.55 L 323.63 512.3 L 323.23 511.9 L 322.97 511.4 L 322.88 510.84 L 322.97 510.28 L 323.23 509.78 L 323.63 509.38 L 324.13 509.13 L 324.68 509.04 z " clip-path="url(#pb868a80c06)" style="stroke: #000000"/><path d="M 341.08 509.04 L 340.52 509.13 L 340.02 509.38 L 339.62 509.78 L 339.37 510.28 L 339.28 510.84 L 339.37 511.4 L 339.62 511.9 L 340.02 512.3 L 340.52 512.55 L 341.08 512.64 L 341.63 512.55 L 342.14 512.3 L 342.54 511.9 L 342.79 511.4 L 342.88 510.84 L 342.79 510.28 L 342.54 509.78 L 342.14 509.38 L 341.63 509.13 L 341.08 509.04 L 341.08 509.04 L 341.63 509.13 L 342.14 509.38 L 342.54 509.78 L 342.79 510.28 L 342.88 510.84 L 342.79 511.4 L 342.54 511.9 L 342.14 512.3 L 341.63 512.55 L 341.08 512.64 L 340.52 512.55 L 340.02 512.3 L 339.62 511.9 L 339.37 511.4 L 339.28 510.84 L 339.37 510.28 L 339.62 509.78 L 340.02 509.38 L 340.52 509.13 L 341.08 509.04 z " clip-path="url(#pb868a80c06)" style="stroke: #000000"/><path d="M 362.39 514.28 L 352.56 507.4 L 354.4 508.69 L 355.16 506.29 L 354.4 508.69 z " clip-path="url(#pb868a80c06)" style="stroke: #000000"/><path d="M 379.72 509.49 L 368.02 512.19 L 370.21 511.69 L 368.94 509.51 L 370.21 511.69 z " clip-path="url(#pb868a80c06)" style="stroke: #000000"/><path d="M 392.31 505.2 L 388.21 516.48 L 388.98 514.37 L 386.47 514.25 L 388.98 514.37 z " clip-path="url(#pb868a80c06)" style="stroke: #000000"/><path d="M 409 505.32 L 404.31 516.37 L 405.19 514.29 L 402.69 514.05 L 405.19 514.29 z " clip-path="url(#pb868a80c06)" style="stroke: #000000"/><path d="M 427.51 506.82 L 418.59 514.86 L 420.26 513.35 L 418.1 512.07 L 420.26 513.35 z " clip-path="url(#pb868a80c06)" style="stroke: #000000"/><path d="M 445.24 509.29 L 433.65 512.39 L 430.95 508.14 L 433.65 512.39 z " clip-path="url(#pb868a80c06)" style="stroke: #000000"/><path d="M 461.48 508.79 L 450.2 512.89 L 447.15 508.9 L 450.2 512.89 z " clip-path="url(#pb868a80c06)" style="stroke: #000000"/><path d="M 478.14 509.8 L 466.32 511.88 L 464.01 507.42 L 466.32 511.88 z " clip-path="url(#pb868a80c06)" style="stroke: #000000"/><path d="M 494.63 510.84 L 482.63 510.84 L 484.88 510.84 L 484.13 508.44 L 484.88 510.84 z " clip-path="url(#pb868a80c06)" style="stroke: #000000"/><path d="M 511.02 510.84 L 499.02 510.84 L 497.52 506.04 L 499.02 510.84 z " clip-path="url(#pb868a80c06)" style="stroke: #000000"/><path d="M 527.42 510.84 L 515.41 510.84 L 517.67 510.84 L 516.91 508.44 L 517.67 510.84 z " clip-path="url(#pb868a80c06)" style="stroke: #000000"/><path d="M 538.33 504.86 L 537.29 516.82 L 537.48 514.58 L 535.03 515.12 L 537.48 514.58 z " clip-path="url(#pb868a80c06)" style="stroke: #000000"/><path d="M 554.21 509.04 L 553.65 509.13 L 553.15 509.38 L 552.75 509.78 L 552.49 510.28 L 552.4 510.84 L 552.49 511.4 L 552.75 511.9 L 553.15 512.3 L 553.65 512.55 L 554.21 512.64 L 554.76 512.55 L 555.26 512.3 L 555.66 511.9 L 555.92 511.4 L 556.01 510.84 L 555.92 510.28 L 555.66 509.78 L 555.26 509.38 L 554.76 509.13 L 554.21 509.04 L 554.21 509.04 L 554.76 509.13 L 555.26 509.38 L 555.66 509.78 L 555.92 510.28 L 556.01 510.84 L 555.92 511.4 L 555.66 511.9 L 555.26 512.3 L 554.76 512.55 L 554.21 512.64 L 553.65 512.55 L 553.15 512.3 L 552.75 511.9 L 552.49 511.4 L 552.4 510.84 L 552.49 510.28 L 552.75 509.78 L 553.15 509.38 L 553.65 509.13 L 554.21 509.04 z " clip-path="url(#pb868a80c06)" style="stroke: #000000"/><path d="M 570.6 509.04 L 570.04 509.13 L 569.54 509.38 L 569.14 509.78 L 568.89 510.28 L 568.8 510.84 L 568.89 511.4 L 569.14 511.9 L 569.54 512.3 L 570.04 512.55 L 570.6 512.64 L 571.16 512.55 L 571.66 512.3 L 572.06 511.9 L 572.31 511.4 L 572.4 510.84 L 572.31 510.28 L 572.06 509.78 L 571.66 509.38 L 571.16 509.13 L 570.6 509.04 L 570.6 509.04 L 571.16 509.13 L 571.66 509.38 L 572.06 509.78 L 572.31 510.28 L 572.4 510.84 L 572.31 511.4 L 572.06 511.9 L 571.66 512.3 L 571.16 512.55 L 570.6 512.64 L 570.04 512.55 L 569.54 512.3 L 569.14 511.9 L 568.89 511.4 L 568.8 510.84 L 568.89 510.28 L 569.14 509.78 L 569.54 509.38 L 570.04 509.13 L 570.6 509.04 z " clip-path="url(#pb868a80c06)" style="stroke: #000000"/><path d="M 586.99 509.04 L 586.44 509.13 L 585.94 509.38 L 585.54 509.78 L 585.28 510.28 L 585.19 510.84 L 585.28 511.4 L 585.54 511.9 L 585.94 512.3 L 586.44 512.55 L 586.99 512.64 L 587.55 512.55 L 588.05 512.3 L 588.45 511.9 L 588.71 511.4 L 588.8 510.84 L 588.71 510.28 L 588.45 509.78 L 588.05 509.38 L 587.55 509.13 L 586.99 509.04 L 586.99 509.04 L 587.55 509.13 L 588.05 509.38 L 588.45 509.78 L 588.71 510.28 L 588.8 510.84 L 588.71 511.4 L 588.45 511.9 L 588.05 512.3 L 587.55 512.55 L 586.99 512.64 L 586.44 512.55 L 585.94 512.3 L 585.54 511.9 L 585.28 511.4 L 585.19 510.84 L 585.28 510.28 L 585.54 509.78 L 585.94 509.38 L 586.44 509.13 L 586.99 509.04 z " clip-path="url(#pb868a80c06)" style="stroke: #000000"/><path d="M 603.39 509.04 L 602.83 509.13 L 602.33 509.38 L 601.93 509.78 L 601.68 510.28 L 601.59 510.84 L 601.68 511.4 L 601.93 511.9 L 602.33 512.3 L 602.83 512.55 L 603.39 512.64 L 603.95 512.55 L 604.45 512.3 L 604.85 511.9 L 605.1 511.4 L 605.19 510.84 L 605.1 510.28 L 604.85 509.78 L 604.45 509.38 L 603.95 509.13 L 603.39 509.04 L 603.39 509.04 L 603.95 509.13 L 604.45 509.38 L 604.85 509.78 L 605.1 510.28 L 605.19 510.84 L 605.1 511.4 L 604.85 511.9 L 604.45 512.3 L 603.95 512.55 L 603.39 512.64 L 602.83 512.55 L 602.33 512.3 L 601.93 511.9 L 601.68 511.4 L 601.59 510.84 L 601.68 510.28 L 601.93 509.78 L 602.33 509.38 L 602.83 509.13 L 603.39 509.04 z " clip-path="url(#pb868a80c06)" style="stroke: #000000"/><path d="M 619.78 509.04 L 619.23 509.13 L 618.72 509.38 L 618.33 509.78 L 618.07 510.28 L 617.98 510.84 L 618.07 511.4 L 618.33 511.9 L 618.72 512.3 L 619.23 512.55 L 619.78 512.64 L 620.34 512.55 L 620.84 512.3 L 621.24 511.9 L 621.5 511.4 L 621.58 510.84 L 621.5 510.28 L 621.24 509.78 L 620.84 509.38 L 620.34 509.13 L 619.78 509.04 L 619.78 509.04 L 620.34 509.13 L 620.84 509.38 L 621.24 509.78 L 621.5 510.28 L 621.58 510.84 L 621.5 511.4 L 621.24 511.9 L 620.84 512.3 L 620.34 512.55 L 619.78 512.64 L 619.23 512.55 L 618.72 512.3 L 618.33 511.9 L 618.07 511.4 L 617.98 510.84 L 618.07 510.28 L 618.33 509.78 L 618.72 509.38 L 619.23 509.13 L 619.78 509.04 z " clip-path="url(#pb868a80c06)" style="stroke: #000000"/><path d="M 636.18 509.04 L 635.62 509.13 L 635.12 509.38 L 634.72 509.78 L 634.46 510.28 L 634.38 510.84 L 634.46 511.4 L 634.72 511.9 L 635.12 512.3 L 635.62 512.55 L 636.18 512.64 L 636.73 512.55 L 637.24 512.3 L 637.63 511.9 L 637.89 511.4 L 637.98 510.84 L 637.89 510.28 L 637.63 509.78 L 637.24 509.38 L 636.73 509.13 L 636.18 509.04 L 636.18 509.04 L 636.73 509.13 L 637.24 509.38 L 637.63 509.78 L 637.89 510.28 L 637.98 510.84 L 637.89 511.4 L 637.63 511.9 L 637.24 512.3 L 636.73 512.55 L 636.18 512.64 L 635.62 512.55 L 635.12 512.3 L 634.72 511.9 L 634.46 511.4 L 634.38 510.84 L 634.46 510.28 L 634.72 509.78 L 635.12 509.38 L 635.62 509.13 L 636.18 509.04 z " clip-path="url(#pb868a80c06)" style="stroke: #000000"/><path d="M 652.57 509.04 L 652.02 509.13 L 651.51 509.38 L 651.12 509.78 L 650.86 510.28 L 650.77 510.84 L 650.86 511.4 L 651.12 511.9 L 651.51 512.3 L 652.02 512.55 L 652.57 512.64 L 653.13 512.55 L 653.63 512.3 L 654.03 511.9 L 654.28 511.4 L 654.37 510.84 L 654.28 510.28 L 654.03 509.78 L 653.63 509.38 L 653.13 509.13 L 652.57 509.04 L 652.57 509.04 L 653.13 509.13 L 653.63 509.38 L 654.03 509.78 L 654.28 510.28 L 654.37 510.84 L 654.28 511.4 L 654.03 511.9 L 653.63 512.3 L 653.13 512.55 L 652.57 512.64 L 652.02 512.55 L 651.51 512.3 L 651.12 511.9 L 650.86 511.4 L 650.77 510.84 L 650.86 510.28 L 651.12 509.78 L 651.51 509.38 L 652.02 509.13 L 652.57 509.04 z " clip-path="url(#pb868a80c06)" style="stroke: #000000"/><path d="M 668.97 509.04 L 668.41 509.13 L 667.91 509.38 L 667.51 509.78 L 667.25 510.28 L 667.17 510.84 L 667.25 511.4 L 667.51 511.9 L 667.91 512.3 L 668.41 512.55 L 668.97 512.64 L 669.52 512.55 L 670.02 512.3 L 670.42 511.9 L 670.68 511.4 L 670.77 510.84 L 670.68 510.28 L 670.42 509.78 L 670.02 509.38 L 669.52 509.13 L 668.97 509.04 L 668.97 509.04 L 669.52 509.13 L 670.02 509.38 L 670.42 509.78 L 670.68 510.28 L 670.77 510.84 L 670.68 511.4 L 670.42 511.9 L 670.02 512.3 L 669.52 512.55 L 668.97 512.64 L 668.41 512.55 L 667.91 512.3 L 667.51 511.9 L 667.25 511.4 L 667.17 510.84 L 667.25 510.28 L 667.51 509.78 L 667.91 509.38 L 668.41 509.13 L 668.97 509.04 z " clip-path="url(#pb868a80c06)" style="stroke: #000000"/><path d="M 685.36 509.04 L 684.8 509.13 L 684.3 509.38 L 683.9 509.78 L 683.65 510.28 L 683.56 510.84 L 683.65 511.4 L 683.9 511.9 L 684.3 512.3 L 684.8 512.55 L 685.36 512.64 L 685.92 512.55 L 686.42 512.3 L 686.82 511.9 L 687.07 511.4 L 687.16 510.84 L 687.07 510.28 L 686.82 509.78 L 686.42 509.38 L 685.92 509.13 L 685.36 509.04 L 685.36 509.04 L 685.92 509.13 L 686.42 509.38 L 686.82 509.78 L 687.07 510.28 L 687.16 510.84 L 687.07 511.4 L 686.82 511.9 L 686.42 512.3 L 685.92 512.55 L 685.36 512.64 L 684.8 512.55 L 684.3 512.3 L 683.9 511.9 L 683.65 511.4 L 683.56 510.84 L 683.65 510.28 L 683.9 509.78 L 684.3 509.38 L 684.8 509.13 L 685.36 509.04 z " clip-path="url(#pb868a80c06)" style="stroke: #000000"/><path d="M 701.76 509.04 L 701.2 509.13 L 700.7 509.38 L 700.3 509.78 L 700.04 510.28 L 699.95 510.84 L 700.04 511.4 L 700.3 511.9 L 700.7 512.3 L 701.2 512.55 L 701.76 512.64 L 702.31 512.55 L 702.81 512.3 L 703.21 511.9 L 703.47 511.4 L 703.56 510.84 L 703.47 510.28 L 703.21 509.78 L 702.81 509.38 L 702.31 509.13 L 701.76 509.04 L 701.76 509.04 L 702.31 509.13 L 702.81 509.38 L 703.21 509.78 L 703.47 510.28 L 703.56 510.84 L 703.47 511.4 L 703.21 511.9 L 702.81 512.3 L 702.31 512.55 L 701.76 512.64 L 701.2 512.55 L 700.7 512.3 L 700.3 511.9 L 700.04 511.4 L 699.95 510.84 L 700.04 510.28 L 700.3 509.78 L 700.7 509.38 L 701.2 509.13 L 701.76 509.04 z " clip-path="url(#pb868a80c06)" style="stroke: #000000"/><path d="M 718.15 509.04 L 717.59 509.13 L 717.09 509.38 L 716.69 509.78 L 716.44 510.28 L 716.35 510.84 L 716.44 511.4 L 716.69 511.9 L 717.09 512.3 L 717.59 512.55 L 718.15 512.64 L 718.71 512.55 L 719.21 512.3 L 719.61 511.9 L 719.86 511.4 L 719.95 510.84 L 719.86 510.28 L 719.61 509.78 L 719.21 509.38 L 718.71 509.13 L 718.15 509.04 L 718.15 509.04 L 718.71 509.13 L 719.21 509.38 L 719.61 509.78 L 719.86 510.28 L 719.95 510.84 L 719.86 511.4 L 719.61 511.9 L 719.21 512.3 L 718.71 512.55 L 718.15 512.64 L 717.59 512.55 L 717.09 512.3 L 716.69 511.9 L 716.44 511.4 L 716.35 510.84 L 716.44 510.28 L 716.69 509.78 L 717.09 509.38 L 717.59 509.13 L 718.15 509.04 z " clip-path="url(#pb868a80c06)" style="stroke: #000000"/><path d="M 734.54 509.04 L 733.99 509.13 L 733.49 509.38 L 733.09 509.78 L 732.83 510.28 L 732.74 510.84 L 732.83 511.4 L 733.09 511.9 L 733.49 512.3 L 733.99 512.55 L 734.54 512.64 L 735.1 512.55 L 735.6 512.3 L 736 511.9 L 736.26 511.4 L 736.34 510.84 L 736.26 510.28 L 736 509.78 L 735.6 509.38 L 735.1 509.13 L 734.54 509.04 L 734.54 509.04 L 735.1 509.13 L 735.6 509.38 L 736 509.78 L 736.26 510.28 L 736.34 510.84 L 736.26 511.4 L 736 511.9 L 735.6 512.3 L 735.1 512.55 L 734.54 512.64 L 733.99 512.55 L 733.49 512.3 L 733.09 511.9 L 732.83 511.4 L 732.74 510.84 L 732.83 510.28 L 733.09 509.78 L 733.49 509.38 L 733.99 509.13 L 734.54 509.04 z " clip-path="url(#pb868a80c06)" style="stroke: #000000"/></g><g id="matplotlib.axis_7"><g id="xtick_21"><g id="line2d_86"><path shape-rendering="crispEdges" d="M 177.13 576.72 L 177.13 499.97 " clip-path="url(#pb868a80c06)" style="fill: none; stroke-dasharray: 2.4,1.04; stroke-dashoffset: 0; stroke: #000000; stroke-opacity: 0.4; stroke-width: 0.72"/></g><g id="line2d_87"><g><path shape-rendering="crispEdges" d="M 0 0 L 0 4 " transform="translate(177.13 576.72)" style="stroke: #000000; stroke-width: 0.72;stroke: #000000; stroke-width: 0.72"/></g></g></g><g id="xtick_22"><g id="line2d_88"><path shape-rendering="crispEdges" d="M 308.29 576.72 L 308.29 499.97 " clip-path="url(#pb868a80c06)" style="fill: none; stroke-dasharray: 2.4,1.04; stroke-dashoffset: 0; stroke: #000000; stroke-opacity: 0.4; stroke-width: 0.72"/></g><g id="line2d_89"><g><path shape-rendering="crispEdges" d="M 0 0 L 0 4 " transform="translate(308.29 576.72)" style="stroke: #000000; stroke-width: 0.72;stroke: #000000; stroke-width: 0.72"/></g></g></g><g id="xtick_23"><g id="line2d_90"><path shape-rendering="crispEdges" d="M 439.44 576.72 L 439.44 499.97 " clip-path="url(#pb868a80c06)" style="fill: none; stroke-dasharray: 2.4,1.04; stroke-dashoffset: 0; stroke: #000000; stroke-opacity: 0.4; stroke-width: 0.72"/></g><g id="line2d_91"><g><path shape-rendering="crispEdges" d="M 0 0 L 0 4 " transform="translate(439.44 576.72)" style="stroke: #000000; stroke-width: 0.72;stroke: #000000; stroke-width: 0.72"/></g></g></g><g id="xtick_24"><g id="line2d_92"><path shape-rendering="crispEdges" d="M 570.6 576.72 L 570.6 499.97 " clip-path="url(#pb868a80c06)" style="fill: none; stroke-dasharray: 2.4,1.04; stroke-dashoffset: 0; stroke: #000000; stroke-opacity: 0.4; stroke-width: 0.72"/></g><g id="line2d_93"><g><path shape-rendering="crispEdges" d="M 0 0 L 0 4 " transform="translate(570.6 576.72)" style="stroke: #000000; stroke-width: 0.72;stroke: #000000; stroke-width: 0.72"/></g></g></g><g id="xtick_25"><g id="line2d_94"><path shape-rendering="crispEdges" d="M 701.76 576.72 L 701.76 499.97 " clip-path="url(#pb868a80c06)" style="fill: none; stroke-dasharray: 2.4,1.04; stroke-dashoffset: 0; stroke: #000000; stroke-opacity: 0.4; stroke-width: 0.72"/></g><g id="line2d_95"><g><path shape-rendering="crispEdges" d="M 0 0 L 0 4 " transform="translate(701.76 576.72)" style="stroke: #000000; stroke-width: 0.72;stroke: #000000; stroke-width: 0.72"/></g></g></g><g id="xtick_26"><g id="line2d_96"><g><path shape-rendering="crispEdges" d="M 0 0 L 0 2 " transform="translate(111.56 576.72)" style="stroke: #000000; stroke-width: 0.72;stroke: #000000; stroke-width: 0.72"/></g></g></g><g id="xtick_27"><g id="line2d_97"><g><path shape-rendering="crispEdges" d="M 0 0 L 0 2 " transform="translate(242.71 576.72)" style="stroke: #000000; stroke-width: 0.72;stroke: #000000; stroke-width: 0.72"/></g></g></g><g id="xtick_28"><g id="line2d_98"><g><path shape-rendering="crispEdges" d="M 0 0 L 0 2 " transform="translate(373.87 576.72)" style="stroke: #000000; stroke-width: 0.72;stroke: #000000; stroke-width: 0.72"/></g></g></g><g id="xtick_29"><g id="line2d_99"><g><path shape-rendering="crispEdges" d="M 0 0 L 0 2 " transform="translate(505.02 576.72)" style="stroke: #000000; stroke-width: 0.72;stroke: #000000; stroke-width: 0.72"/></g></g></g><g id="xtick_30"><g id="line2d_100"><g><path shape-rendering="crispEdges" d="M 0 0 L 0 2 " transform="translate(636.18 576.72)" style="stroke: #000000; stroke-width: 0.72;stroke: #000000; stroke-width: 0.72"/></g></g></g></g><g id="matplotlib.axis_8"><g id="ytick_21"><g id="line2d_101"><path shape-rendering="crispEdges" d="M 62.28 563.93 L 751.32 563.93 " clip-path="url(#pb868a80c06)" style="fill: none; stroke: #b0b0b0; stroke-width: 0.72; stroke-linecap: square"/></g><g id="line2d_102"><g><path shape-rendering="crispEdges" d="M 0 0 L -3.5 0 " transform="translate(62.28 563.93)" style="stroke: #000000; stroke-width: 0.72;stroke: #000000; stroke-width: 0.72"/></g></g><g id="text_36"><text style="font-size: 10px; font-family: 'DejaVu Sans', 'Liberation Sans', sans-serif; text-anchor: end" x="55.28" y="567.73" transform="rotate(-0 55.28 567.73)">0</text></g></g><g id="ytick_22"><g id="line2d_103"><path shape-rendering="crispEdges" d="M 62.28 538.34 L 751.32 538.34 " clip-path="url(#pb868a80c06)" style="fill: none; stroke: #b0b0b0; stroke-width: 0.72; stroke-linecap: square"/></g><g id="line2d_104"><g><path shape-rendering="crispEdges" d="M 0 0 L -3.5 0 " transform="translate(62.28 538.34)" style="stroke: #000000; stroke-width: 0.72;stroke: #000000; stroke-width: 0.72"/></g></g><g id="text_37"><text style="font-size: 10px; font-family: 'DejaVu Sans', 'Liberation Sans', sans-serif; text-anchor: end" x="55.28" y="542.14" transform="rotate(-0 55.28 542.14)">10</text></g></g><g id="ytick_23"><g id="line2d_105"><path shape-rendering="crispEdges" d="M 62.28 512.76 L 751.32 512.76 " clip-path="url(#pb868a80c06)" style="fill: none; stroke: #b0b0b0; stroke-width: 0.72; stroke-linecap: square"/></g><g id="line2d_106"><g><path shape-rendering="crispEdges" d="M 0 0 L -3.5 0 " transform="translate(62.28 512.76)" style="stroke: #000000; stroke-width: 0.72;stroke: #000000; stroke-width: 0.72"/></g></g><g id="text_38"><text style="font-size: 10px; font-family: 'DejaVu Sans', 'Liberation Sans', sans-serif; text-anchor: end" x="55.28" y="516.56" transform="rotate(-0 55.28 516.56)">20</text></g></g><g id="text_39"><text style="font-size: 10px; font-family: 'DejaVu Sans', 'Liberation Sans', sans-serif; text-anchor: middle" x="33.88" y="538.34" transform="rotate(-90 33.88 538.34)">10 m ws [ms<tspan dy="-3.8" style="font-size:7px">−1</tspan><tspan dy="3.8">]</tspan></text></g></g><g id="line2d_107"><path d="M 78.77 559.32 L 95.16 557.53 L 111.56 558.63 L 127.95 557.17 L 144.35 561.63 L 160.74 559.32 L 177.13 559.91 L 193.53 559.48 L 209.92 557.28 L 226.32 554.85 L 242.71 553.57 L 259.11 557.02 L 275.5 552.93 L 291.9 553.18 L 308.29 557.17 L 324.68 560.76 L 341.08 560.09 L 357.47 550.11 L 373.87 546.02 L 390.26 549.35 L 406.66 553.57 L 423.05 547.3 L 439.44 533.48 L 455.84 534.25 L 472.23 536.55 L 488.63 541.41 L 505.02 537.83 L 521.42 546.53 L 537.81 557.38 L 554.21 558.3 L 570.6 559.48 L 586.99 559.48 L 603.39 559.32 L 619.78 556.25 L 636.18 554.21 L 652.57 554.97 L 668.97 558.81 L 685.36 559.48 L 701.76 560.09 L 718.15 561.8 L 734.54 558.81 " clip-path="url(#pb868a80c06)" style="fill: none; stroke: #ff7f0e; stroke-width: 1.5; stroke-linecap: square"/><g clip-path="url(#pb868a80c06)"><path d="M 0 1.5 C 0.4 1.5 0.78 1.34 1.06 1.06 C 1.34 0.78 1.5 0.4 1.5 0 C 1.5 -0.4 1.34 -0.78 1.06 -1.06 C 0.78 -1.34 0.4 -1.5 0 -1.5 C -0.4 -1.5 -0.78 -1.34 -1.06 -1.06 C -1.34 -0.78 -1.5 -0.4 -1.5 0 C -1.5 0.4 -1.34 0.78 -1.06 1.06 C -0.78 1.34 -0.4 1.5 0 1.5 z " transform="translate(78.77 559.32)" style="stroke: #ff7f0e;fill: #ff7f0e; stroke: #ff7f0e"/><path d="M 0 1.5 C 0.4 1.5 0.78 1.34 1.06 1.06 C 1.34 0.78 1.5 0.4 1.5 0 C 1.5 -0.4 1.34 -0.78 1.06 -1.06 C 0.78 -1.34 0.4 -1.5 0 -1.5 C -0.4 -1.5 -0.78 -1.34 -1.06 -1.06 C -1.34 -0.78 -1.5 -0.4 -1.5 0 C -1.5 0.4 -1.34 0.78 -1.06 1.06 C -0.78 1.34 -0.4 1.5 0 1.5 z " transform="translate(95.16 557.53)" style="stroke: #ff7f0e;fill: #ff7f0e; stroke: #ff7f0e"/><path d="M 0 1.5 C 0.4 1.5 0.78 1.34 1.06 1.06 C 1.34 0.78 1.5 0.4 1.5 0 C 1.5 -0.4 1.34 -0.78 1.06 -1.06 C 0.78 -1.34 0.4 -1.5 0 -1.5 C -0.4 -1.5 -0.78 -1.34 -1.06 -1.06 C -1.34 -0.78 -1.5 -0.4 -1.5 0 C -1.5 0.4 -1.34 0.78 -1.06 1.06 C -0.78 1.34 -0.4 1.5 0 1.5 z " transform="translate(111.56 558.63)" style="stroke: #ff7f0e;fill: #ff7f0e; stroke: #ff7f0e"/><path d="M 0 1.5 C 0.4 1.5 0.78 1.34 1.06 1.06 C 1.34 0.78 1.5 0.4 1.5 0 C 1.5 -0.4 1.34 -0.78 1.06 -1.06 C 0.78 -1.34 0.4 -1.5 0 -1.5 C -0.4 -1.5 -0.78 -1.34 -1.06 -1.06 C -1.34 -0.78 -1.5 -0.4 -1.5 0 C -1.5 0.4 -1.34 0.78 -1.06 1.06 C -0.78 1.34 -0.4 1.5 0 1.5 z " transform="translate(127.95 557.17)" style="stroke: #ff7f0e;fill: #ff7f0e; stroke: #ff7f0e"/><path d="M 0 1.5 C 0.4 1.5 0.78 1.34 1.06 1.06 C 1.34 0.78 1.5 0.4 1.5 0 C 1.5 -0.4 1.34 -0.78 1.06 -1.06 C 0.78 -1.34 0.4 -1.5 0 -1.5 C -0.4 -1.5 -0.78 -1.34 -1.06 -1.06 C -1.34 -0.78 -1.5 -0.4 -1.5 0 C -1.5 0.4 -1.34 0.78 -1.06 1.06 C -0.78 1.34 -0.4 1.5 0 1.5 z " transform="translate(144.35 561.63)" style="stroke: #ff7f0e;fill: #ff7f0e; stroke: #ff7f0e"/><path d="M 0 1.5 C 0.4 1.5 0.78 1.34 1.06 1.06 C 1.34 0.78 1.5 0.4 1.5 0 C 1.5 -0.4 1.34 -0.78 1.06 -1.06 C 0.78 -1.34 0.4 -1.5 0 -1.5 C -0.4 -1.5 -0.78 -1.34 -1.06 -1.06 C -1.34 -0.78 -1.5 -0.4 -1.5 0 C -1.5 0.4 -1.34 0.78 -1.06 1.06 C -0.78 1.34 -0.4 1.5 0 1.5 z " transform="translate(160.74 559.32)" style="stroke: #ff7f0e;fill: #ff7f0e; stroke: #ff7f0e"/><path d="M 0 1.5 C 0.4 1.5 0.78 1.34 1.06 1.06 C 1.34 0.78 1.5 0.4 1.5 0 C 1.5 -0.4 1.34 -0.78 1.06 -1.06 C 0.78 -1.34 0.4 -1.5 0 -1.5 C -0.4 -1.5 -0.78 -1.34 -1.06 -1.06 C -1.34 -0.78 -1.5 -0.4 -1.5 0 C -1.5 0.4 -1.34 0.78 -1.06 1.06 C -0.78 1.34 -0.4 1.5 0 1.5 z " transform="translate(177.13 559.91)" style="stroke: #ff7f0e;fill: #ff7f0e; stroke: #ff7f0e"/><path d="M 0 1.5 C 0.4 1.5 0.78 1.34 1.06 1.06 C 1.34 0.78 1.5 0.4 1.5 0 C 1.5 -0.4 1.34 -0.78 1.06 -1.06 C 0.78 -1.34 0.4 -1.5 0 -1.5 C -0.4 -1.5 -0.78 -1.34 -1.06 -1.06 C -1.34 -0.78 -1.5 -0.4 -1.5 0 C -1.5 0.4 -1.34 0.78 -1.06 1.06 C -0.78 1.34 -0.4 1.5 0 1.5 z " transform="translate(193.53 559.48)" style="stroke: #ff7f0e;fill: #ff7f0e; stroke: #ff7f0e"/><path d="M 0 1.5 C 0.4 1.5 0.78 1.34 1.06 1.06 C 1.34 0.78 1.5 0.4 1.5 0 C 1.5 -0.4 1.34 -0.78 1.06 -1.06 C 0.78 -1.34 0.4 -1.5 0 -1.5 C -0.4 -1.5 -0.78 -1.34 -1.06 -1.06 C -1.34 -0.78 -1.5 -0.4 -1.5 0 C -1.5 0.4 -1.34 0.78 -1.06 1.06 C -0.78 1.34 -0.4 1.5 0 1.5 z " transform="translate(209.92 557.28)" style="stroke: #ff7f0e;fill: #ff7f0e; stroke: #ff7f0e"/><path d="M 0 1.5 C 0.4 1.5 0.78 1.34 1.06 1.06 C 1.34 0.78 1.5 0.4 1.5 0 C 1.5 -0.4 1.34 -0.78 1.06 -1.06 C 0.78 -1.34 0.4 -1.5 0 -1.5 C -0.4 -1.5 -0.78 -1.34 -1.06 -1.06 C -1.34 -0.78 -1.5 -0.4 -1.5 0 C -1.5 0.4 -1.34 0.78 -1.06 1.06 C -0.78 1.34 -0.4 1.5 0 1.5 z " transform="translate(226.32 554.85)" style="stroke: #ff7f0e;fill: #ff7f0e; stroke: #ff7f0e"/><path d="M 0 1.5 C 0.4 1.5 0.78 1.34 1.06 1.06 C 1.34 0.78 1.5 0.4 1.5 0 C 1.5 -0.4 1.34 -0.78 1.06 -1.06 C 0.78 -1.34 0.4 -1.5 0 -1.5 C -0.4 -1.5 -0.78 -1.34 -1.06 -1.06 C -1.34 -0.78 -1.5 -0.4 -1.5 0 C -1.5 0.4 -1.34 0.78 -1.06 1.06 C -0.78 1.34 -0.4 1.5 0 1.5 z " transform="translate(242.71 553.57)" style="stroke: #ff7f0e;fill: #ff7f0e; stroke: #ff7f0e"/><path d="M 0 1.5 C 0.4 1.5 0.78 1.34 1.06 1.06 C 1.34 0.78 1.5 0.4 1.5 0 C 1.5 -0.4 1.34 -0.78 1.06 -1.06 C 0.78 -1.34 0.4 -1.5 0 -1.5 C -0.4 -1.5 -0.78 -1.34 -1.06 -1.06 C -1.34 -0.78 -1.5 -0.4 -1.5 0 C -1.5 0.4 -1.34 0.78 -1.06 1.06 C -0.78 1.34 -0.4 1.5 0 1.5 z " transform="translate(259.11 557.02)" style="stroke: #ff7f0e;fill: #ff7f0e; stroke: #ff7f0e"/><path d="M 0 1.5 C 0.4 1.5 0.78 1.34 1.06 1.06 C 1.34 0.78 1.5 0.4 1.5 0 C 1.5 -0.4 1.34 -0.78 1.06 -1.06 C 0.78 -1.34 0.4 -1.5 0 -1.5 C -0.4 -1.5 -0.78 -1.34 -1.06 -1.06 C -1.34 -0.78 -1.5 -0.4 -1.5 0 C -1.5 0.4 -1.34 0.78 -1.06 1.06 C -0.78 1.34 -0.4 1.5 0 1.5 z " transform="translate(275.5 552.93)" style="stroke: #ff7f0e;fill: #ff7f0e; stroke: #ff7f0e"/><path d="M 0 1.5 C 0.4 1.5 0.78 1.34 1.06 1.06 C 1.34 0.78 1.5 0.4 1.5 0 C 1.5 -0.4 1.34 -0.78 1.06 -1.06 C 0.78 -1.34 0.4 -1.5 0 -1.5 C -0.4 -1.5 -0.78 -1.34 -1.06 -1.06 C -1.34 -0.78 -1.5 -0.4 -1.5 0 C -1.5 0.4 -1.34 0.78 -1.06 1.06 C -0.78 1.34 -0.4 1.5 0 1.5 z " transform="translate(291.9 553.18)" style="stroke: #ff7f0e;fill: #ff7f0e; stroke: #ff7f0e"/><path d="M 0 1.5 C 0.4 1.5 0.78 1.34 1.06 1.06 C 1.34 0.78 1.5 0.4 1.5 0 C 1.5 -0.4 1.34 -0.78 1.06 -1.06 C 0.78 -1.34 0.4 -1.5 0 -1.5 C -0.4 -1.5 -0.78 -1.34 -1.06 -1.06 C -1.34 -0.78 -1.5 -0.4 -1.5 0 C -1.5 0.4 -1.34 0.78 -1.06 1.06 C -0.78 1.34 -0.4 1.5 0 1.5 z " transform="translate(308.29 557.17)" style="stroke: #ff7f0e;fill: #ff7f0e; stroke: #ff7f0e"/><path d="M 0 1.5 C 0.4 1.5 0.78 1.34 1.06 1.06 C 1.34 0.78 1.5 0.4 1.5 0 C 1.5 -0.4 1.34 -0.78 1.06 -1.06 C 0.78 -1.34 0.4 -1.5 0 -1.5 C -0.4 -1.5 -0.78 -1.34 -1.06 -1.06 C -1.34 -0.78 -1.5 -0.4 -1.5 0 C -1.5 0.4 -1.34 0.78 -1.06 1.06 C -0.78 1.34 -0.4 1.5 0 1.5 z " transform="translate(324.68 560.76)" style="stroke: #ff7f0e;fill: #ff7f0e; stroke: #ff7f0e"/><path d="M 0 1.5 C 0.4 1.5 0.78 1.34 1.06 1.06 C 1.34 0.78 1.5 0.4 1.5 0 C 1.5 -0.4 1.34 -0.78 1.06 -1.06 C 0.78 -1.34 0.4 -1.5 0 -1.5 C -0.4 -1.5 -0.78 -1.34 -1.06 -1.06 C -1.34 -0.78 -1.5 -0.4 -1.5 0 C -1.5 0.4 -1.34 0.78 -1.06 1.06 C -0.78 1.34 -0.4 1.5 0 1.5 z " transform="translate(341.08 560.09)" style="stroke: #ff7f0e;fill: #ff7f0e; stroke: #ff7f0e"/><path d="M 0 1.5 C 0.4 1.5 0.78 1.34 1.06 1.06 C 1.34 0.78 1.5 0.4 1.5 0 C 1.5 -0.4 1.34 -0.78 1.06 -1.06 C 0.78 -1.34 0.4 -1.5 0 -1.5 C -0.4 -1.5 -0.78 -1.34 -1.06 -1.06 C -1.34 -0.78 -1.5 -0.4 -1.5 0 C -1.5 0.4 -1.34 0.78 -1.06 1.06 C -0.78 1.34 -0.4 1.5 0 1.5 z " transform="translate(357.47 550.11)" style="stroke: #ff7f0e;fill: #ff7f0e; stroke: #ff7f0e"/><path d="M 0 1.5 C 0.4 1.5 0.78 1.34 1.06 1.06 C 1.34 0.78 1.5 0.4 1.5 0 C 1.5 -0.4 1.34 -0.78 1.06 -1.06 C 0.78 -1.34 0.4 -1.5 0 -1.5 C -0.4 -1.5 -0.78 -1.34 -1.06 -1.06 C -1.34 -0.78 -1.5 -0.4 -1.5 0 C -1.5 0.4 -1.34 0.78 -1.06 1.06 C -0.78 1.34 -0.4 1.5 0 1.5 z " transform="translate(373.87 546.02)" style="stroke: #ff7f0e;fill: #ff7f0e; stroke: #ff7f0e"/><path d="M 0 1.5 C 0.4 1.5 0.78 1.34 1.06 1.06 C 1.34 0.78 1.5 0.4 1.5 0 C 1.5 -0.4 1.34 -0.78 1.06 -1.06 C 0.78 -1.34 0.4 -1.5 0 -1.5 C -0.4 -1.5 -0.78 -1.34 -1.06 -1.06 C -1.34 -0.78 -1.5 -0.4 -1.5 0 C -1.5 0.4 -1.34 0.78 -1.06 1.06 C -0.78 1.34 -0.4 1.5 0 1.5 z " transform="translate(390.26 549.35)" style="stroke: #ff7f0e;fill: #ff7f0e; stroke: #ff7f0e"/><path d="M 0 1.5 C 0.4 1.5 0.78 1.34 1.06 1.06 C 1.34 0.78 1.5 0.4 1.5 0 C 1.5 -0.4 1.34 -0.78 1.06 -1.06 C 0.78 -1.34 0.4 -1.5 0 -1.5 C -0.4 -1.5 -0.78 -1.34 -1.06 -1.06 C -1.34 -0.78 -1.5 -0.4 -1.5 0 C -1.5 0.4 -1.34 0.78 -1.06 1.06 C -0.78 1.34 -0.4 1.5 0 1.5 z " transform="translate(406.66 553.57)" style="stroke: #ff7f0e;fill: #ff7f0e; stroke: #ff7f0e"/><path d="M 0 1.5 C 0.4 1.5 0.78 1.34 1.06 1.06 C 1.34 0.78 1.5 0.4 1.5 0 C 1.5 -0.4 1.34 -0.78 1.06 -1.06 C 0.78 -1.34 0.4 -1.5 0 -1.5 C -0.4 -1.5 -0.78 -1.34 -1.06 -1.06 C -1.34 -0.78 -1.5 -0.4 -1.5 0 C -1.5 0.4 -1.34 0.78 -1.06 1.06 C -0.78 1.34 -0.4 1.5 0 1.5 z " transform="translate(423.05 547.3)" style="stroke: #ff7f0e;fill: #ff7f0e; stroke: #ff7f0e"/><path d="M 0 1.5 C 0.4 1.5 0.78 1.34 1.06 1.06 C 1.34 0.78 1.5 0.4 1.5 0 C 1.5 -0.4 1.34 -0.78 1.06 -1.06 C 0.78 -1.34 0.4 -1.5 0 -1.5 C -0.4 -1.5 -0.78 -1.34 -1.06 -1.06 C -1.34 -0.78 -1.5 -0.4 -1.5 0 C -1.5 0.4 -1.34 0.78 -1.06 1.06 C -0.78 1.34 -0.4 1.5 0 1.5 z " transform="translate(439.44 533.48)" style="stroke: #ff7f0e;fill: #ff7f0e; stroke: #ff7f0e"/><path d="M 0 1.5 C 0.4 1.5 0.78 1.34 1.06 1.06 C 1.34 0.78 1.5 0.4 1.5 0 C 1.5 -0.4 1.34 -0.78 1.06 -1.06 C 0.78 -1.34 0.4 -1.5 0 -1.5 C -0.4 -1.5 -0.78 -1.34 -1.06 -1.06 C -1.34 -0.78 -1.5 -0.4 -1.5 0 C -1.5 0.4 -1.34 0.78 -1.06 1.06 C -0.78 1.34 -0.4 1.5 0 1.5 z " transform="translate(455.84 534.25)" style="stroke: #ff7f0e;fill: #ff7f0e; stroke: #ff7f0e"/><path d="M 0 1.5 C 0.4 1.5 0.78 1.34 1.06 1.06 C 1.34 0.78 1.5 0.4 1.5 0 C 1.5 -0.4 1.34 -0.78 1.06 -1.06 C 0.78 -1.34 0.4 -1.5 0 -1.5 C -0.4 -1.5 -0.78 -1.34 -1.06 -1.06 C -1.34 -0.78 -1.5 -0.4 -1.5 0 C -1.5 0.4 -1.34 0.78 -1.06 1.06 C -0.78 1.34 -0.4 1.5 0 1.5 z " transform="translate(472.23 536.55)" style="stroke: #ff7f0e;fill: #ff7f0e; stroke: #ff7f0e"/><path d="M 0 1.5 C 0.4 1.5 0.78 1.34 1.06 1.06 C 1.34 0.78 1.5 0.4 1.5 0 C 1.5 -0.4 1.34 -0.78 1.06 -1.06 C 0.78 -1.34 0.4 -1.5 0 -1.5 C -0.4 -1.5 -0.78 -1.34 -1.06 -1.06 C -1.34 -0.78 -1.5 -0.4 -1.5 0 C -1.5 0.4 -1.34 0.78 -1.06 1.06 C -0.78 1.34 -0.4 1.5 0 1.5 z " transform="translate(488.63 541.41)" style="stroke: #ff7f0e;fill: #ff7f0e; stroke: #ff7f0e"/><path d="M 0 1.5 C 0.4 1.5 0.78 1.34 1.06 1.06 C 1.34 0.78 1.5 0.4 1.5 0 C 1.5 -0.4 1.34 -0.78 1.06 -1.06 C 0.78 -1.34 0.4 -1.5 0 -1.5 C -0.4 -1.5 -0.78 -1.34 -1.06 -1.06 C -1.34 -0.78 -1.5 -0.4 -1.5 0 C -1.5 0.4 -1.34 0.78 -1.06 1.06 C -0.78 1.34 -0.4 1.5 0 1.5 z " transform="translate(505.02 537.83)" style="stroke: #ff7f0e;fill: #ff7f0e; stroke: #ff7f0e"/><path d="M 0 1.5 C 0.4 1.5 0.78 1.34 1.06 1.06 C 1.34 0.78 1.5 0.4 1.5 0 C 1.5 -0.4 1.34 -0.78 1.06 -1.06 C 0.78 -1.34 0.4 -1.5 0 -1.5 C -0.4 -1.5 -0.78 -1.34 -1.06 -1.06 C -1.34 -0.78 -1.5 -0.4 -1.5 0 C -1.5 0.4 -1.34 0.78 -1.06 1.06 C -0.78 1.34 -0.4 1.5 0 1.5 z " transform="translate(521.42 546.53)" style="stroke: #ff7f0e;fill: #ff7f0e; stroke: #ff7f0e"/><path d="M 0 1.5 C 0.4 1.5 0.78 1.34 1.06 1.06 C 1.34 0.78 1.5 0.4 1.5 0 C 1.5 -0.4 1.34 -0.78 1.06 -1.06 C 0.78 -1.34 0.4 -1.5 0 -1.5 C -0.4 -1.5 -0.78 -1.34 -1.06 -1.06 C -1.34 -0.78 -1.5 -0.4 -1.5 0 C -1.5 0.4 -1.34 0.78 -1.06 1.06 C -0.78 1.34 -0.4 1.5 0 1.5 z " transform="translate(537.81 557.38)" style="stroke: #ff7f0e;fill: #ff7f0e; stroke: #ff7f0e"/><path d="M 0 1.5 C 0.4 1.5 0.78 1.34 1.06 1.06 C 1.34 0.78 1.5 0.4 1.5 0 C 1.5 -0.4 1.34 -0.78 1.06 -1.06 C 0.78 -1.34 0.4 -1.5 0 -1.5 C -0.4 -1.5 -0.78 -1.34 -1.06 -1.06 C -1.34 -0.78 -1.5 -0.4 -1.5 0 C -1.5 0.4 -1.34 0.78 -1.06 1.06 C -0.78 1.34 -0.4 1.5 0 1.5 z " transform="translate(554.21 558.3)" style="stroke: #ff7f0e;fill: #ff7f0e; stroke: #ff7f0e"/><path d="M 0 1.5 C 0.4 1.5 0.78 1.34 1.06 1.06 C 1.34 0.78 1.5 0.4 1.5 0 C 1.5 -0.4 1.34 -0.78 1.06 -1.06 C 0.78 -1.34 0.4 -1.5 0 -1.5 C -0.4 -1.5 -0.78 -1.34 -1.06 -1.06 C -1.34 -0.78 -1.5 -0.4 -1.5 0 C -1.5 0.4 -1.34 0.78 -1.06 1.06 C -0.78 1.34 -0.4 1.5 0 1.5 z " transform="translate(570.6 559.48)" style="stroke: #ff7f0e;fill: #ff7f0e; stroke: #ff7f0e"/><path d="M 0 1.5 C 0.4 1.5 0.78 1.34 1.06 1.06 C 1.34 0.78 1.5 0.4 1.5 0 C 1.5 -0.4 1.34 -0.78 1.06 -1.06 C 0.78 -1.34 0.4 -1.5 0 -1.5 C -0.4 -1.5 -0.78 -1.34 -1.06 -1.06 C -1.34 -0.78 -1.5 -0.4 -1.5 0 C -1.5 0.4 -1.34 0.78 -1.06 1.06 C -0.78 1.34 -0.4 1.5 0 1.5 z " transform="translate(586.99 559.48)" style="stroke: #ff7f0e;fill: #ff7f0e; stroke: #ff7f0e"/><path d="M 0 1.5 C 0.4 1.5 0.78 1.34 1.06 1.06 C 1.34 0.78 1.5 0.4 1.5 0 C 1.5 -0.4 1.34 -0.78 1.06 -1.06 C 0.78 -1.34 0.4 -1.5 0 -1.5 C -0.4 -1.5 -0.78 -1.34 -1.06 -1.06 C -1.34 -0.78 -1.5 -0.4 -1.5 0 C -1.5 0.4 -1.34 0.78 -1.06 1.06 C -0.78 1.34 -0.4 1.5 0 1.5 z " transform="translate(603.39 559.32)" style="stroke: #ff7f0e;fill: #ff7f0e; stroke: #ff7f0e"/><path d="M 0 1.5 C 0.4 1.5 0.78 1.34 1.06 1.06 C 1.34 0.78 1.5 0.4 1.5 0 C 1.5 -0.4 1.34 -0.78 1.06 -1.06 C 0.78 -1.34 0.4 -1.5 0 -1.5 C -0.4 -1.5 -0.78 -1.34 -1.06 -1.06 C -1.34 -0.78 -1.5 -0.4 -1.5 0 C -1.5 0.4 -1.34 0.78 -1.06 1.06 C -0.78 1.34 -0.4 1.5 0 1.5 z " transform="translate(619.78 556.25)" style="stroke: #ff7f0e;fill: #ff7f0e; stroke: #ff7f0e"/><path d="M 0 1.5 C 0.4 1.5 0.78 1.34 1.06 1.06 C 1.34 0.78 1.5 0.4 1.5 0 C 1.5 -0.4 1.34 -0.78 1.06 -1.06 C 0.78 -1.34 0.4 -1.5 0 -1.5 C -0.4 -1.5 -0.78 -1.34 -1.06 -1.06 C -1.34 -0.78 -1.5 -0.4 -1.5 0 C -1.5 0.4 -1.34 0.78 -1.06 1.06 C -0.78 1.34 -0.4 1.5 0 1.5 z " transform="translate(636.18 554.21)" style="stroke: #ff7f0e;fill: #ff7f0e; stroke: #ff7f0e"/><path d="M 0 1.5 C 0.4 1.5 0.78 1.34 1.06 1.06 C 1.34 0.78 1.5 0.4 1.5 0 C 1.5 -0.4 1.34 -0.78 1.06 -1.06 C 0.78 -1.34 0.4 -1.5 0 -1.5 C -0.4 -1.5 -0.78 -1.34 -1.06 -1.06 C -1.34 -0.78 -1.5 -0.4 -1.5 0 C -1.5 0.4 -1.34 0.78 -1.06 1.06 C -0.78 1.34 -0.4 1.5 0 1.5 z " transform="translate(652.57 554.97)" style="stroke: #ff7f0e;fill: #ff7f0e; stroke: #ff7f0e"/><path d="M 0 1.5 C 0.4 1.5 0.78 1.34 1.06 1.06 C 1.34 0.78 1.5 0.4 1.5 0 C 1.5 -0.4 1.34 -0.78 1.06 -1.06 C 0.78 -1.34 0.4 -1.5 0 -1.5 C -0.4 -1.5 -0.78 -1.34 -1.06 -1.06 C -1.34 -0.78 -1.5 -0.4 -1.5 0 C -1.5 0.4 -1.34 0.78 -1.06 1.06 C -0.78 1.34 -0.4 1.5 0 1.5 z " transform="translate(668.97 558.81)" style="stroke: #ff7f0e;fill: #ff7f0e; stroke: #ff7f0e"/><path d="M 0 1.5 C 0.4 1.5 0.78 1.34 1.06 1.06 C 1.34 0.78 1.5 0.4 1.5 0 C 1.5 -0.4 1.34 -0.78 1.06 -1.06 C 0.78 -1.34 0.4 -1.5 0 -1.5 C -0.4 -1.5 -0.78 -1.34 -1.06 -1.06 C -1.34 -0.78 -1.5 -0.4 -1.5 0 C -1.5 0.4 -1.34 0.78 -1.06 1.06 C -0.78 1.34 -0.4 1.5 0 1.5 z " transform="translate(685.36 559.48)" style="stroke: #ff7f0e;fill: #ff7f0e; stroke: #ff7f0e"/><path d="M 0 1.5 C 0.4 1.5 0.78 1.34 1.06 1.06 C 1.34 0.78 1.5 0.4 1.5 0 C 1.5 -0.4 1.34 -0.78 1.06 -1.06 C 0.78 -1.34 0.4 -1.5 0 -1.5 C -0.4 -1.5 -0.78 -1.34 -1.06 -1.06 C -1.34 -0.78 -1.5 -0.4 -1.5 0 C -1.5 0.4 -1.34 0.78 -1.06 1.06 C -0.78 1.34 -0.4 1.5 0 1.5 z " transform="translate(701.76 560.09)" style="stroke: #ff7f0e;fill: #ff7f0e; stroke: #ff7f0e"/><path d="M 0 1.5 C 0.4 1.5 0.78 1.34 1.06 1.06 C 1.34 0.78 1.5 0.4 1.5 0 C 1.5 -0.4 1.34 -0.78 1.06 -1.06 C 0.78 -1.34 0.4 -1.5 0 -1.5 C -0.4 -1.5 -0.78 -1.34 -1.06 -1.06 C -1.34 -0.78 -1.5 -0.4 -1.5 0 C -1.5 0.4 -1.34 0.78 -1.06 1.06 C -0.78 1.34 -0.4 1.5 0 1.5 z " transform="translate(718.15 561.8)" style="stroke: #ff7f0e;fill: #ff7f0e; stroke: #ff7f0e"/><path d="M 0 1.5 C 0.4 1.5 0.78 1.34 1.06 1.06 C 1.34 0.78 1.5 0.4 1.5 0 C 1.5 -0.4 1.34 -0.78 1.06 -1.06 C 0.78 -1.34 0.4 -1.5 0 -1.5 C -0.4 -1.5 -0.78 -1.34 -1.06 -1.06 C -1.34 -0.78 -1.5 -0.4 -1.5 0 C -1.5 0.4 -1.34 0.78 -1.06 1.06 C -0.78 1.34 -0.4 1.5 0 1.5 z " transform="translate(734.54 558.81)" style="stroke: #ff7f0e;fill: #ff7f0e; stroke: #ff7f0e"/></g></g><g id="line2d_108"><path d="M 78.77 562.44 L 95.16 562.44 L 111.56 562.9 L 127.95 561.63 L 144.35 562.01 L 160.74 561.63 L 177.13 562.24 L 193.53 562.24 L 209.92 561.37 L 226.32 560.99 L 242.71 560.6 L 259.11 560.99 L 275.5 559.45 L 291.9 559.71 L 308.29 561.37 L 324.68 562.24 L 341.08 562.24 L 357.47 558.43 L 373.87 558.3 L 390.26 558.63 L 406.66 559.48 L 423.05 557.17 L 439.44 551.65 L 455.84 552.93 L 472.23 554.21 L 488.63 555.23 L 505.02 553.95 L 521.42 559.48 L 537.81 560.6 L 554.21 560.99 L 570.6 561.63 L 586.99 561.63 L 603.39 562.52 L 619.78 561.63 L 636.18 560.86 L 652.57 561.63 L 668.97 561.63 L 685.36 561.63 L 701.76 562.9 L 718.15 562.24 L 734.54 561.88 " clip-path="url(#pb868a80c06)" style="fill: none; stroke: #000000; stroke-width: 1.5; stroke-linecap: square"/><g clip-path="url(#pb868a80c06)"><path d="M 0 1.5 C 0.4 1.5 0.78 1.34 1.06 1.06 C 1.34 0.78 1.5 0.4 1.5 0 C 1.5 -0.4 1.34 -0.78 1.06 -1.06 C 0.78 -1.34 0.4 -1.5 0 -1.5 C -0.4 -1.5 -0.78 -1.34 -1.06 -1.06 C -1.34 -0.78 -1.5 -0.4 -1.5 0 C -1.5 0.4 -1.34 0.78 -1.06 1.06 C -0.78 1.34 -0.4 1.5 0 1.5 z " transform="translate(78.77 562.44)" style="stroke: #000000;stroke: #000000"/><path d="M 0 1.5 C 0.4 1.5 0.78 1.34 1.06 1.06 C 1.34 0.78 1.5 0.4 1.5 0 C 1.5 -0.4 1.34 -0.78 1.06 -1.06 C 0.78 -1.34 0.4 -1.5 0 -1.5 C -0.4 -1.5 -0.78 -1.34 -1.06 -1.06 C -1.34 -0.78 -1.5 -0.4 -1.5 0 C -1.5 0.4 -1.34 0.78 -1.06 1.06 C -0.78 1.34 -0.4 1.5 0 1.5 z " transform="translate(95.16 562.44)" style="stroke: #000000;stroke: #000000"/><path d="M 0 1.5 C 0.4 1.5 0.78 1.34 1.06 1.06 C 1.34 0.78 1.5 0.4 1.5 0 C 1.5 -0.4 1.34 -0.78 1.06 -1.06 C 0.78 -1.34 0.4 -1.5 0 -1.5 C -0.4 -1.5 -0.78 -1.34 -1.06 -1.06 C -1.34 -0.78 -1.5 -0.4 -1.5 0 C -1.5 0.4 -1.34 0.78 -1.06 1.06 C -0.78 1.34 -0.4 1.5 0 1.5 z " transform="translate(111.56 562.9)" style="stroke: #000000;stroke: #000000"/><path d="M 0 1.5 C 0.4 1.5 0.78 1.34 1.06 1.06 C 1.34 0.78 1.5 0.4 1.5 0 C 1.5 -0.4 1.34 -0.78 1.06 -1.06 C 0.78 -1.34 0.4 -1.5 0 -1.5 C -0.4 -1.5 -0.78 -1.34 -1.06 -1.06 C -1.34 -0.78 -1.5 -0.4 -1.5 0 C -1.5 0.4 -1.34 0.78 -1.06 1.06 C -0.78 1.34 -0.4 1.5 0 1.5 z " transform="translate(127.95 561.63)" style="stroke: #000000;stroke: #000000"/><path d="M 0 1.5 C 0.4 1.5 0.78 1.34 1.06 1.06 C 1.34 0.78 1.5 0.4 1.5 0 C 1.5 -0.4 1.34 -0.78 1.06 -1.06 C 0.78 -1.34 0.4 -1.5 0 -1.5 C -0.4 -1.5 -0.78 -1.34 -1.06 -1.06 C -1.34 -0.78 -1.5 -0.4 -1.5 0 C -1.5 0.4 -1.34 0.78 -1.06 1.06 C -0.78 1.34 -0.4 1.5 0 1.5 z " transform="translate(144.35 562.01)" style="stroke: #000000;stroke: #000000"/><path d="M 0 1.5 C 0.4 1.5 0.78 1.34 1.06 1.06 C 1.34 0.78 1.5 0.4 1.5 0 C 1.5 -0.4 1.34 -0.78 1.06 -1.06 C 0.78 -1.34 0.4 -1.5 0 -1.5 C -0.4 -1.5 -0.78 -1.34 -1.06 -1.06 C -1.34 -0.78 -1.5 -0.4 -1.5 0 C -1.5 0.4 -1.34 0.78 -1.06 1.06 C -0.78 1.34 -0.4 1.5 0 1.5 z " transform="translate(160.74 561.63)" style="stroke: #000000;stroke: #000000"/><path d="M 0 1.5 C 0.4 1.5 0.78 1.34 1.06 1.06 C 1.34 0.78 1.5 0.4 1.5 0 C 1.5 -0.4 1.34 -0.78 1.06 -1.06 C 0.78 -1.34 0.4 -1.5 0 -1.5 C -0.4 -1.5 -0.78 -1.34 -1.06 -1.06 C -1.34 -0.78 -1.5 -0.4 -1.5 0 C -1.5 0.4 -1.34 0.78 -1.06 1.06 C -0.78 1.34 -0.4 1.5 0 1.5 z " transform="translate(177.13 562.24)" style="stroke: #000000;stroke: #000000"/><path d="M 0 1.5 C 0.4 1.5 0.78 1.34 1.06 1.06 C 1.34 0.78 1.5 0.4 1.5 0 C 1.5 -0.4 1.34 -0.78 1.06 -1.06 C 0.78 -1.34 0.4 -1.5 0 -1.5 C -0.4 -1.5 -0.78 -1.34 -1.06 -1.06 C -1.34 -0.78 -1.5 -0.4 -1.5 0 C -1.5 0.4 -1.34 0.78 -1.06 1.06 C -0.78 1.34 -0.4 1.5 0 1.5 z " transform="translate(193.53 562.24)" style="stroke: #000000;stroke: #000000"/><path d="M 0 1.5 C 0.4 1.5 0.78 1.34 1.06 1.06 C 1.34 0.78 1.5 0.4 1.5 0 C 1.5 -0.4 1.34 -0.78 1.06 -1.06 C 0.78 -1.34 0.4 -1.5 0 -1.5 C -0.4 -1.5 -0.78 -1.34 -1.06 -1.06 C -1.34 -0.78 -1.5 -0.4 -1.5 0 C -1.5 0.4 -1.34 0.78 -1.06 1.06 C -0.78 1.34 -0.4 1.5 0 1.5 z " transform="translate(209.92 561.37)" style="stroke: #000000;stroke: #000000"/><path d="M 0 1.5 C 0.4 1.5 0.78 1.34 1.06 1.06 C 1.34 0.78 1.5 0.4 1.5 0 C 1.5 -0.4 1.34 -0.78 1.06 -1.06 C 0.78 -1.34 0.4 -1.5 0 -1.5 C -0.4 -1.5 -0.78 -1.34 -1.06 -1.06 C -1.34 -0.78 -1.5 -0.4 -1.5 0 C -1.5 0.4 -1.34 0.78 -1.06 1.06 C -0.78 1.34 -0.4 1.5 0 1.5 z " transform="translate(226.32 560.99)" style="stroke: #000000;stroke: #000000"/><path d="M 0 1.5 C 0.4 1.5 0.78 1.34 1.06 1.06 C 1.34 0.78 1.5 0.4 1.5 0 C 1.5 -0.4 1.34 -0.78 1.06 -1.06 C 0.78 -1.34 0.4 -1.5 0 -1.5 C -0.4 -1.5 -0.78 -1.34 -1.06 -1.06 C -1.34 -0.78 -1.5 -0.4 -1.5 0 C -1.5 0.4 -1.34 0.78 -1.06 1.06 C -0.78 1.34 -0.4 1.5 0 1.5 z " transform="translate(242.71 560.6)" style="stroke: #000000;stroke: #000000"/><path d="M 0 1.5 C 0.4 1.5 0.78 1.34 1.06 1.06 C 1.34 0.78 1.5 0.4 1.5 0 C 1.5 -0.4 1.34 -0.78 1.06 -1.06 C 0.78 -1.34 0.4 -1.5 0 -1.5 C -0.4 -1.5 -0.78 -1.34 -1.06 -1.06 C -1.34 -0.78 -1.5 -0.4 -1.5 0 C -1.5 0.4 -1.34 0.78 -1.06 1.06 C -0.78 1.34 -0.4 1.5 0 1.5 z " transform="translate(259.11 560.99)" style="stroke: #000000;stroke: #000000"/><path d="M 0 1.5 C 0.4 1.5 0.78 1.34 1.06 1.06 C 1.34 0.78 1.5 0.4 1.5 0 C 1.5 -0.4 1.34 -0.78 1.06 -1.06 C 0.78 -1.34 0.4 -1.5 0 -1.5 C -0.4 -1.5 -0.78 -1.34 -1.06 -1.06 C -1.34 -0.78 -1.5 -0.4 -1.5 0 C -1.5 0.4 -1.34 0.78 -1.06 1.06 C -0.78 1.34 -0.4 1.5 0 1.5 z " transform="translate(275.5 559.45)" style="stroke: #000000;stroke: #000000"/><path d="M 0 1.5 C 0.4 1.5 0.78 1.34 1.06 1.06 C 1.34 0.78 1.5 0.4 1.5 0 C 1.5 -0.4 1.34 -0.78 1.06 -1.06 C 0.78 -1.34 0.4 -1.5 0 -1.5 C -0.4 -1.5 -0.78 -1.34 -1.06 -1.06 C -1.34 -0.78 -1.5 -0.4 -1.5 0 C -1.5 0.4 -1.34 0.78 -1.06 1.06 C -0.78 1.34 -0.4 1.5 0 1.5 z " transform="translate(291.9 559.71)" style="stroke: #000000;stroke: #000000"/><path d="M 0 1.5 C 0.4 1.5 0.78 1.34 1.06 1.06 C 1.34 0.78 1.5 0.4 1.5 0 C 1.5 -0.4 1.34 -0.78 1.06 -1.06 C 0.78 -1.34 0.4 -1.5 0 -1.5 C -0.4 -1.5 -0.78 -1.34 -1.06 -1.06 C -1.34 -0.78 -1.5 -0.4 -1.5 0 C -1.5 0.4 -1.34 0.78 -1.06 1.06 C -0.78 1.34 -0.4 1.5 0 1.5 z " transform="translate(308.29 561.37)" style="stroke: #000000;stroke: #000000"/><path d="M 0 1.5 C 0.4 1.5 0.78 1.34 1.06 1.06 C 1.34 0.78 1.5 0.4 1.5 0 C 1.5 -0.4 1.34 -0.78 1.06 -1.06 C 0.78 -1.34 0.4 -1.5 0 -1.5 C -0.4 -1.5 -0.78 -1.34 -1.06 -1.06 C -1.34 -0.78 -1.5 -0.4 -1.5 0 C -1.5 0.4 -1.34 0.78 -1.06 1.06 C -0.78 1.34 -0.4 1.5 0 1.5 z " transform="translate(324.68 562.24)" style="stroke: #000000;stroke: #000000"/><path d="M 0 1.5 C 0.4 1.5 0.78 1.34 1.06 1.06 C 1.34 0.78 1.5 0.4 1.5 0 C 1.5 -0.4 1.34 -0.78 1.06 -1.06 C 0.78 -1.34 0.4 -1.5 0 -1.5 C -0.4 -1.5 -0.78 -1.34 -1.06 -1.06 C -1.34 -0.78 -1.5 -0.4 -1.5 0 C -1.5 0.4 -1.34 0.78 -1.06 1.06 C -0.78 1.34 -0.4 1.5 0 1.5 z " transform="translate(341.08 562.24)" style="stroke: #000000;stroke: #000000"/><path d="M 0 1.5 C 0.4 1.5 0.78 1.34 1.06 1.06 C 1.34 0.78 1.5 0.4 1.5 0 C 1.5 -0.4 1.34 -0.78 1.06 -1.06 C 0.78 -1.34 0.4 -1.5 0 -1.5 C -0.4 -1.5 -0.78 -1.34 -1.06 -1.06 C -1.34 -0.78 -1.5 -0.4 -1.5 0 C -1.5 0.4 -1.34 0.78 -1.06 1.06 C -0.78 1.34 -0.4 1.5 0 1.5 z " transform="translate(357.47 558.43)" style="stroke: #000000;stroke: #000000"/><path d="M 0 1.5 C 0.4 1.5 0.78 1.34 1.06 1.06 C 1.34 0.78 1.5 0.4 1.5 0 C 1.5 -0.4 1.34 -0.78 1.06 -1.06 C 0.78 -1.34 0.4 -1.5 0 -1.5 C -0.4 -1.5 -0.78 -1.34 -1.06 -1.06 C -1.34 -0.78 -1.5 -0.4 -1.5 0 C -1.5 0.4 -1.34 0.78 -1.06 1.06 C -0.78 1.34 -0.4 1.5 0 1.5 z " transform="translate(373.87 558.3)" style="stroke: #000000;stroke: #000000"/><path d="M 0 1.5 C 0.4 1.5 0.78 1.34 1.06 1.06 C 1.34 0.78 1.5 0.4 1.5 0 C 1.5 -0.4 1.34 -0.78 1.06 -1.06 C 0.78 -1.34 0.4 -1.5 0 -1.5 C -0.4 -1.5 -0.78 -1.34 -1.06 -1.06 C -1.34 -0.78 -1.5 -0.4 -1.5 0 C -1.5 0.4 -1.34 0.78 -1.06 1.06 C -0.78 1.34 -0.4 1.5 0 1.5 z " transform="translate(390.26 558.63)" style="stroke: #000000;stroke: #000000"/><path d="M 0 1.5 C 0.4 1.5 0.78 1.34 1.06 1.06 C 1.34 0.78 1.5 0.4 1.5 0 C 1.5 -0.4 1.34 -0.78 1.06 -1.06 C 0.78 -1.34 0.4 -1.5 0 -1.5 C -0.4 -1.5 -0.78 -1.34 -1.06 -1.06 C -1.34 -0.78 -1.5 -0.4 -1.5 0 C -1.5 0.4 -1.34 0.78 -1.06 1.06 C -0.78 1.34 -0.4 1.5 0 1.5 z " transform="translate(406.66 559.48)" style="stroke: #000000;stroke: #000000"/><path d="M 0 1.5 C 0.4 1.5 0.78 1.34 1.06 1.06 C 1.34 0.78 1.5 0.4 1.5 0 C 1.5 -0.4 1.34 -0.78 1.06 -1.06 C 0.78 -1.34 0.4 -1.5 0 -1.5 C -0.4 -1.5 -0.78 -1.34 -1.06 -1.06 C -1.34 -0.78 -1.5 -0.4 -1.5 0 C -1.5 0.4 -1.34 0.78 -1.06 1.06 C -0.78 1.34 -0.4 1.5 0 1.5 z " transform="translate(423.05 557.17)" style="stroke: #000000;stroke: #000000"/><path d="M 0 1.5 C 0.4 1.5 0.78 1.34 1.06 1.06 C 1.34 0.78 1.5 0.4 1.5 0 C 1.5 -0.4 1.34 -0.78 1.06 -1.06 C 0.78 -1.34 0.4 -1.5 0 -1.5 C -0.4 -1.5 -0.78 -1.34 -1.06 -1.06 C -1.34 -0.78 -1.5 -0.4 -1.5 0 C -1.5 0.4 -1.34 0.78 -1.06 1.06 C -0.78 1.34 -0.4 1.5 0 1.5 z " transform="translate(439.44 551.65)" style="stroke: #000000;stroke: #000000"/><path d="M 0 1.5 C 0.4 1.5 0.78 1.34 1.06 1.06 C 1.34 0.78 1.5 0.4 1.5 0 C 1.5 -0.4 1.34 -0.78 1.06 -1.06 C 0.78 -1.34 0.4 -1.5 0 -1.5 C -0.4 -1.5 -0.78 -1.34 -1.06 -1.06 C -1.34 -0.78 -1.5 -0.4 -1.5 0 C -1.5 0.4 -1.34 0.78 -1.06 1.06 C -0.78 1.34 -0.4 1.5 0 1.5 z " transform="translate(455.84 552.93)" style="stroke: #000000;stroke: #000000"/><path d="M 0 1.5 C 0.4 1.5 0.78 1.34 1.06 1.06 C 1.34 0.78 1.5 0.4 1.5 0 C 1.5 -0.4 1.34 -0.78 1.06 -1.06 C 0.78 -1.34 0.4 -1.5 0 -1.5 C -0.4 -1.5 -0.78 -1.34 -1.06 -1.06 C -1.34 -0.78 -1.5 -0.4 -1.5 0 C -1.5 0.4 -1.34 0.78 -1.06 1.06 C -0.78 1.34 -0.4 1.5 0 1.5 z " transform="translate(472.23 554.21)" style="stroke: #000000;stroke: #000000"/><path d="M 0 1.5 C 0.4 1.5 0.78 1.34 1.06 1.06 C 1.34 0.78 1.5 0.4 1.5 0 C 1.5 -0.4 1.34 -0.78 1.06 -1.06 C 0.78 -1.34 0.4 -1.5 0 -1.5 C -0.4 -1.5 -0.78 -1.34 -1.06 -1.06 C -1.34 -0.78 -1.5 -0.4 -1.5 0 C -1.5 0.4 -1.34 0.78 -1.06 1.06 C -0.78 1.34 -0.4 1.5 0 1.5 z " transform="translate(488.63 555.23)" style="stroke: #000000;stroke: #000000"/><path d="M 0 1.5 C 0.4 1.5 0.78 1.34 1.06 1.06 C 1.34 0.78 1.5 0.4 1.5 0 C 1.5 -0.4 1.34 -0.78 1.06 -1.06 C 0.78 -1.34 0.4 -1.5 0 -1.5 C -0.4 -1.5 -0.78 -1.34 -1.06 -1.06 C -1.34 -0.78 -1.5 -0.4 -1.5 0 C -1.5 0.4 -1.34 0.78 -1.06 1.06 C -0.78 1.34 -0.4 1.5 0 1.5 z " transform="translate(505.02 553.95)" style="stroke: #000000;stroke: #000000"/><path d="M 0 1.5 C 0.4 1.5 0.78 1.34 1.06 1.06 C 1.34 0.78 1.5 0.4 1.5 0 C 1.5 -0.4 1.34 -0.78 1.06 -1.06 C 0.78 -1.34 0.4 -1.5 0 -1.5 C -0.4 -1.5 -0.78 -1.34 -1.06 -1.06 C -1.34 -0.78 -1.5 -0.4 -1.5 0 C -1.5 0.4 -1.34 0.78 -1.06 1.06 C -0.78 1.34 -0.4 1.5 0 1.5 z " transform="translate(521.42 559.48)" style="stroke: #000000;stroke: #000000"/><path d="M 0 1.5 C 0.4 1.5 0.78 1.34 1.06 1.06 C 1.34 0.78 1.5 0.4 1.5 0 C 1.5 -0.4 1.34 -0.78 1.06 -1.06 C 0.78 -1.34 0.4 -1.5 0 -1.5 C -0.4 -1.5 -0.78 -1.34 -1.06 -1.06 C -1.34 -0.78 -1.5 -0.4 -1.5 0 C -1.5 0.4 -1.34 0.78 -1.06 1.06 C -0.78 1.34 -0.4 1.5 0 1.5 z " transform="translate(537.81 560.6)" style="stroke: #000000;stroke: #000000"/><path d="M 0 1.5 C 0.4 1.5 0.78 1.34 1.06 1.06 C 1.34 0.78 1.5 0.4 1.5 0 C 1.5 -0.4 1.34 -0.78 1.06 -1.06 C 0.78 -1.34 0.4 -1.5 0 -1.5 C -0.4 -1.5 -0.78 -1.34 -1.06 -1.06 C -1.34 -0.78 -1.5 -0.4 -1.5 0 C -1.5 0.4 -1.34 0.78 -1.06 1.06 C -0.78 1.34 -0.4 1.5 0 1.5 z " transform="translate(554.21 560.99)" style="stroke: #000000;stroke: #000000"/><path d="M 0 1.5 C 0.4 1.5 0.78 1.34 1.06 1.06 C 1.34 0.78 1.5 0.4 1.5 0 C 1.5 -0.4 1.34 -0.78 1.06 -1.06 C 0.78 -1.34 0.4 -1.5 0 -1.5 C -0.4 -1.5 -0.78 -1.34 -1.06 -1.06 C -1.34 -0.78 -1.5 -0.4 -1.5 0 C -1.5 0.4 -1.34 0.78 -1.06 1.06 C -0.78 1.34 -0.4 1.5 0 1.5 z " transform="translate(570.6 561.63)" style="stroke: #000000;stroke: #000000"/><path d="M 0 1.5 C 0.4 1.5 0.78 1.34 1.06 1.06 C 1.34 0.78 1.5 0.4 1.5 0 C 1.5 -0.4 1.34 -0.78 1.06 -1.06 C 0.78 -1.34 0.4 -1.5 0 -1.5 C -0.4 -1.5 -0.78 -1.34 -1.06 -1.06 C -1.34 -0.78 -1.5 -0.4 -1.5 0 C -1.5 0.4 -1.34 0.78 -1.06 1.06 C -0.78 1.34 -0.4 1.5 0 1.5 z " transform="translate(586.99 561.63)" style="stroke: #000000;stroke: #000000"/><path d="M 0 1.5 C 0.4 1.5 0.78 1.34 1.06 1.06 C 1.34 0.78 1.5 0.4 1.5 0 C 1.5 -0.4 1.34 -0.78 1.06 -1.06 C 0.78 -1.34 0.4 -1.5 0 -1.5 C -0.4 -1.5 -0.78 -1.34 -1.06 -1.06 C -1.34 -0.78 -1.5 -0.4 -1.5 0 C -1.5 0.4 -1.34 0.78 -1.06 1.06 C -0.78 1.34 -0.4 1.5 0 1.5 z " transform="translate(603.39 562.52)" style="stroke: #000000;stroke: #000000"/><path d="M 0 1.5 C 0.4 1.5 0.78 1.34 1.06 1.06 C 1.34 0.78 1.5 0.4 1.5 0 C 1.5 -0.4 1.34 -0.78 1.06 -1.06 C 0.78 -1.34 0.4 -1.5 0 -1.5 C -0.4 -1.5 -0.78 -1.34 -1.06 -1.06 C -1.34 -0.78 -1.5 -0.4 -1.5 0 C -1.5 0.4 -1.34 0.78 -1.06 1.06 C -0.78 1.34 -0.4 1.5 0 1.5 z " transform="translate(619.78 561.63)" style="stroke: #000000;stroke: #000000"/><path d="M 0 1.5 C 0.4 1.5 0.78 1.34 1.06 1.06 C 1.34 0.78 1.5 0.4 1.5 0 C 1.5 -0.4 1.34 -0.78 1.06 -1.06 C 0.78 -1.34 0.4 -1.5 0 -1.5 C -0.4 -1.5 -0.78 -1.34 -1.06 -1.06 C -1.34 -0.78 -1.5 -0.4 -1.5 0 C -1.5 0.4 -1.34 0.78 -1.06 1.06 C -0.78 1.34 -0.4 1.5 0 1.5 z " transform="translate(636.18 560.86)" style="stroke: #000000;stroke: #000000"/><path d="M 0 1.5 C 0.4 1.5 0.78 1.34 1.06 1.06 C 1.34 0.78 1.5 0.4 1.5 0 C 1.5 -0.4 1.34 -0.78 1.06 -1.06 C 0.78 -1.34 0.4 -1.5 0 -1.5 C -0.4 -1.5 -0.78 -1.34 -1.06 -1.06 C -1.34 -0.78 -1.5 -0.4 -1.5 0 C -1.5 0.4 -1.34 0.78 -1.06 1.06 C -0.78 1.34 -0.4 1.5 0 1.5 z " transform="translate(652.57 561.63)" style="stroke: #000000;stroke: #000000"/><path d="M 0 1.5 C 0.4 1.5 0.78 1.34 1.06 1.06 C 1.34 0.78 1.5 0.4 1.5 0 C 1.5 -0.4 1.34 -0.78 1.06 -1.06 C 0.78 -1.34 0.4 -1.5 0 -1.5 C -0.4 -1.5 -0.78 -1.34 -1.06 -1.06 C -1.34 -0.78 -1.5 -0.4 -1.5 0 C -1.5 0.4 -1.34 0.78 -1.06 1.06 C -0.78 1.34 -0.4 1.5 0 1.5 z " transform="translate(668.97 561.63)" style="stroke: #000000;stroke: #000000"/><path d="M 0 1.5 C 0.4 1.5 0.78 1.34 1.06 1.06 C 1.34 0.78 1.5 0.4 1.5 0 C 1.5 -0.4 1.34 -0.78 1.06 -1.06 C 0.78 -1.34 0.4 -1.5 0 -1.5 C -0.4 -1.5 -0.78 -1.34 -1.06 -1.06 C -1.34 -0.78 -1.5 -0.4 -1.5 0 C -1.5 0.4 -1.34 0.78 -1.06 1.06 C -0.78 1.34 -0.4 1.5 0 1.5 z " transform="translate(685.36 561.63)" style="stroke: #000000;stroke: #000000"/><path d="M 0 1.5 C 0.4 1.5 0.78 1.34 1.06 1.06 C 1.34 0.78 1.5 0.4 1.5 0 C 1.5 -0.4 1.34 -0.78 1.06 -1.06 C 0.78 -1.34 0.4 -1.5 0 -1.5 C -0.4 -1.5 -0.78 -1.34 -1.06 -1.06 C -1.34 -0.78 -1.5 -0.4 -1.5 0 C -1.5 0.4 -1.34 0.78 -1.06 1.06 C -0.78 1.34 -0.4 1.5 0 1.5 z " transform="translate(701.76 562.9)" style="stroke: #000000;stroke: #000000"/><path d="M 0 1.5 C 0.4 1.5 0.78 1.34 1.06 1.06 C 1.34 0.78 1.5 0.4 1.5 0 C 1.5 -0.4 1.34 -0.78 1.06 -1.06 C 0.78 -1.34 0.4 -1.5 0 -1.5 C -0.4 -1.5 -0.78 -1.34 -1.06 -1.06 C -1.34 -0.78 -1.5 -0.4 -1.5 0 C -1.5 0.4 -1.34 0.78 -1.06 1.06 C -0.78 1.34 -0.4 1.5 0 1.5 z " transform="translate(718.15 562.24)" style="stroke: #000000;stroke: #000000"/><path d="M 0 1.5 C 0.4 1.5 0.78 1.34 1.06 1.06 C 1.34 0.78 1.5 0.4 1.5 0 C 1.5 -0.4 1.34 -0.78 1.06 -1.06 C 0.78 -1.34 0.4 -1.5 0 -1.5 C -0.4 -1.5 -0.78 -1.34 -1.06 -1.06 C -1.34 -0.78 -1.5 -0.4 -1.5 0 C -1.5 0.4 -1.34 0.78 -1.06 1.06 C -0.78 1.34 -0.4 1.5 0 1.5 z " transform="translate(734.54 561.88)" style="stroke: #000000;stroke: #000000"/></g></g><g id="patch_28"><path shape-rendering="crispEdges" d="M 62.28 576.72 L 62.28 499.97 " style="fill: none; stroke: #000000; stroke-width: 0.72; stroke-linejoin: miter; stroke-linecap: square"/></g><g id="patch_29"><path shape-rendering="crispEdges" d="M 751.32 576.72 L 751.32 499.97 " style="fill: none; stroke: #000000; stroke-width: 0.72; stroke-linejoin: miter; stroke-linecap: square"/></g><g id="patch_30"><path shape-rendering="crispEdges" d="M 62.28 576.72 L 751.32 576.72 " style="fill: none; stroke: #000000; stroke-width: 0.72; stroke-linejoin: miter; stroke-linecap: square"/></g><g id="patch_31"><path shape-rendering="crispEdges" d="M 62.28 499.97 L 751.32 499.97 " style="fill: none; stroke: #000000; stroke-width: 0.72; stroke-linejoin: miter; stroke-linecap: square"/></g><g id="text_40"><text style="font-size: 10px; font-family: 'DejaVu Sans', 'Liberation Sans', sans-serif; text-anchor: middle; fill: #ff7f0e" x="78.77" y="553.44" transform="rotate(-0 78.77 553.44)">2.0</text></g><g id="text_41"><text style="font-size: 10px; font-family: 'DejaVu Sans', 'Liberation Sans', sans-serif; text-anchor: middle" x="78.77" y="575.14" transform="rotate(-0 78.77 575.14)">1.0</text></g><g id="text_42"><text style="font-size: 10px; font-family: 'DejaVu Sans', 'Liberation Sans', sans-serif; text-anchor: middle; fill: #ff7f0e" x="95.16" y="551.65" transform="rotate(-0 95.16 551.65)">3.0</text></g><g id="text_43"><text style="font-size: 10px; font-family: 'DejaVu Sans', 'Liberation Sans', sans-serif; text-anchor: middle" x="95.16" y="575.14" transform="rotate(-0 95.16 575.14)">1.0</text></g><g id="text_44"><text style="font-size: 10px; font-family: 'DejaVu Sans', 'Liberation Sans', sans-serif; text-anchor: middle; fill: #ff7f0e" x="111.56" y="552.75" transform="rotate(-0 111.56 552.75)">2.0</text></g><g id="text_45"><text style="font-size: 10px; font-family: 'DejaVu Sans', 'Liberation Sans', sans-serif; text-anchor: middle" x="111.56" y="575.6" transform="rotate(-0 111.56 575.6)">0.0</text></g><g id="text_46"><text style="font-size: 10px; font-family: 'DejaVu Sans', 'Liberation Sans', sans-serif; text-anchor: middle; fill: #ff7f0e" x="127.95" y="551.29" transform="rotate(-0 127.95 551.29)">3.0</text></g><g id="text_47"><text style="font-size: 10px; font-family: 'DejaVu Sans', 'Liberation Sans', sans-serif; text-anchor: middle" x="127.95" y="574.32" transform="rotate(-0 127.95 574.32)">1.0</text></g><g id="text_48"><text style="font-size: 10px; font-family: 'DejaVu Sans', 'Liberation Sans', sans-serif; text-anchor: middle; fill: #ff7f0e" x="144.35" y="555.75" transform="rotate(-0 144.35 555.75)">1.0</text></g><g id="text_49"><text style="font-size: 10px; font-family: 'DejaVu Sans', 'Liberation Sans', sans-serif; text-anchor: middle" x="144.35" y="574.71" transform="rotate(-0 144.35 574.71)">1.0</text></g><g id="text_50"><text style="font-size: 10px; font-family: 'DejaVu Sans', 'Liberation Sans', sans-serif; text-anchor: middle; fill: #ff7f0e" x="160.74" y="553.44" transform="rotate(-0 160.74 553.44)">2.0</text></g><g id="text_51"><text style="font-size: 10px; font-family: 'DejaVu Sans', 'Liberation Sans', sans-serif; text-anchor: middle" x="160.74" y="574.32" transform="rotate(-0 160.74 574.32)">1.0</text></g><g id="text_52"><text style="font-size: 10px; font-family: 'DejaVu Sans', 'Liberation Sans', sans-serif; text-anchor: middle; fill: #ff7f0e" x="177.13" y="554.03" transform="rotate(-0 177.13 554.03)">2.0</text></g><g id="text_53"><text style="font-size: 10px; font-family: 'DejaVu Sans', 'Liberation Sans', sans-serif; text-anchor: middle" x="177.13" y="574.94" transform="rotate(-0 177.13 574.94)">1.0</text></g><g id="text_54"><text style="font-size: 10px; font-family: 'DejaVu Sans', 'Liberation Sans', sans-serif; text-anchor: middle; fill: #ff7f0e" x="193.53" y="553.6" transform="rotate(-0 193.53 553.6)">2.0</text></g><g id="text_55"><text style="font-size: 10px; font-family: 'DejaVu Sans', 'Liberation Sans', sans-serif; text-anchor: middle" x="193.53" y="574.94" transform="rotate(-0 193.53 574.94)">1.0</text></g><g id="text_56"><text style="font-size: 10px; font-family: 'DejaVu Sans', 'Liberation Sans', sans-serif; text-anchor: middle; fill: #ff7f0e" x="209.92" y="551.4" transform="rotate(-0 209.92 551.4)">3.0</text></g><g id="text_57"><text style="font-size: 10px; font-family: 'DejaVu Sans', 'Liberation Sans', sans-serif; text-anchor: middle" x="209.92" y="574.07" transform="rotate(-0 209.92 574.07)">1.0</text></g><g id="text_58"><text style="font-size: 10px; font-family: 'DejaVu Sans', 'Liberation Sans', sans-serif; text-anchor: middle; fill: #ff7f0e" x="226.32" y="548.97" transform="rotate(-0 226.32 548.97)">4.0</text></g><g id="text_59"><text style="font-size: 10px; font-family: 'DejaVu Sans', 'Liberation Sans', sans-serif; text-anchor: middle" x="226.32" y="573.68" transform="rotate(-0 226.32 573.68)">1.0</text></g><g id="text_60"><text style="font-size: 10px; font-family: 'DejaVu Sans', 'Liberation Sans', sans-serif; text-anchor: middle; fill: #ff7f0e" x="242.71" y="547.69" transform="rotate(-0 242.71 547.69)">4.0</text></g><g id="text_61"><text style="font-size: 10px; font-family: 'DejaVu Sans', 'Liberation Sans', sans-serif; text-anchor: middle" x="242.71" y="573.3" transform="rotate(-0 242.71 573.3)">1.0</text></g><g id="text_62"><text style="font-size: 10px; font-family: 'DejaVu Sans', 'Liberation Sans', sans-serif; text-anchor: middle; fill: #ff7f0e" x="259.11" y="551.14" transform="rotate(-0 259.11 551.14)">3.0</text></g><g id="text_63"><text style="font-size: 10px; font-family: 'DejaVu Sans', 'Liberation Sans', sans-serif; text-anchor: middle" x="259.11" y="573.68" transform="rotate(-0 259.11 573.68)">1.0</text></g><g id="text_64"><text style="font-size: 10px; font-family: 'DejaVu Sans', 'Liberation Sans', sans-serif; text-anchor: middle; fill: #ff7f0e" x="275.5" y="547.05" transform="rotate(-0 275.5 547.05)">4.0</text></g><g id="text_65"><text style="font-size: 10px; font-family: 'DejaVu Sans', 'Liberation Sans', sans-serif; text-anchor: middle" x="275.5" y="572.15" transform="rotate(-0 275.5 572.15)">2.0</text></g><g id="text_66"><text style="font-size: 10px; font-family: 'DejaVu Sans', 'Liberation Sans', sans-serif; text-anchor: middle; fill: #ff7f0e" x="291.9" y="547.3" transform="rotate(-0 291.9 547.3)">4.0</text></g><g id="text_67"><text style="font-size: 10px; font-family: 'DejaVu Sans', 'Liberation Sans', sans-serif; text-anchor: middle" x="291.9" y="572.41" transform="rotate(-0 291.9 572.41)">2.0</text></g><g id="text_68"><text style="font-size: 10px; font-family: 'DejaVu Sans', 'Liberation Sans', sans-serif; text-anchor: middle; fill: #ff7f0e" x="308.29" y="551.29" transform="rotate(-0 308.29 551.29)">3.0</text></g><g id="text_69"><text style="font-size: 10px; font-family: 'DejaVu Sans', 'Liberation Sans', sans-serif; text-anchor: middle" x="308.29" y="574.07" transform="rotate(-0 308.29 574.07)">1.0</text></g><g id="text_70"><text style="font-size: 10px; font-family: 'DejaVu Sans', 'Liberation Sans', sans-serif; text-anchor: middle; fill: #ff7f0e" x="324.68" y="554.88" transform="rotate(-0 324.68 554.88)">1.0</text></g><g id="text_71"><text style="font-size: 10px; font-family: 'DejaVu Sans', 'Liberation Sans', sans-serif; text-anchor: middle" x="324.68" y="574.94" transform="rotate(-0 324.68 574.94)">1.0</text></g><g id="text_72"><text style="font-size: 10px; font-family: 'DejaVu Sans', 'Liberation Sans', sans-serif; text-anchor: middle; fill: #ff7f0e" x="341.08" y="554.21" transform="rotate(-0 341.08 554.21)">2.0</text></g><g id="text_73"><text style="font-size: 10px; font-family: 'DejaVu Sans', 'Liberation Sans', sans-serif; text-anchor: middle" x="341.08" y="574.94" transform="rotate(-0 341.08 574.94)">1.0</text></g><g id="text_74"><text style="font-size: 10px; font-family: 'DejaVu Sans', 'Liberation Sans', sans-serif; text-anchor: middle; fill: #ff7f0e" x="357.47" y="544.23" transform="rotate(-0 357.47 544.23)">6.0</text></g><g id="text_75"><text style="font-size: 10px; font-family: 'DejaVu Sans', 'Liberation Sans', sans-serif; text-anchor: middle" x="357.47" y="571.13" transform="rotate(-0 357.47 571.13)">2.0</text></g><g id="text_76"><text style="font-size: 10px; font-family: 'DejaVu Sans', 'Liberation Sans', sans-serif; text-anchor: middle; fill: #ff7f0e" x="373.87" y="540.14" transform="rotate(-0 373.87 540.14)">7.0</text></g><g id="text_77"><text style="font-size: 10px; font-family: 'DejaVu Sans', 'Liberation Sans', sans-serif; text-anchor: middle" x="373.87" y="571" transform="rotate(-0 373.87 571)">2.0</text></g><g id="text_78"><text style="font-size: 10px; font-family: 'DejaVu Sans', 'Liberation Sans', sans-serif; text-anchor: middle; fill: #ff7f0e" x="390.26" y="543.47" transform="rotate(-0 390.26 543.47)">6.0</text></g><g id="text_79"><text style="font-size: 10px; font-family: 'DejaVu Sans', 'Liberation Sans', sans-serif; text-anchor: middle" x="390.26" y="571.33" transform="rotate(-0 390.26 571.33)">2.0</text></g><g id="text_80"><text style="font-size: 10px; font-family: 'DejaVu Sans', 'Liberation Sans', sans-serif; text-anchor: middle; fill: #ff7f0e" x="406.66" y="547.69" transform="rotate(-0 406.66 547.69)">4.0</text></g><g id="text_81"><text style="font-size: 10px; font-family: 'DejaVu Sans', 'Liberation Sans', sans-serif; text-anchor: middle" x="406.66" y="572.17" transform="rotate(-0 406.66 572.17)">2.0</text></g><g id="text_82"><text style="font-size: 10px; font-family: 'DejaVu Sans', 'Liberation Sans', sans-serif; text-anchor: middle; fill: #ff7f0e" x="423.05" y="541.42" transform="rotate(-0 423.05 541.42)">7.0</text></g><g id="text_83"><text style="font-size: 10px; font-family: 'DejaVu Sans', 'Liberation Sans', sans-serif; text-anchor: middle" x="423.05" y="569.87" transform="rotate(-0 423.05 569.87)">3.0</text></g><g id="text_84"><text style="font-size: 10px; font-family: 'DejaVu Sans', 'Liberation Sans', sans-serif; text-anchor: middle; fill: #ff7f0e" x="439.44" y="527.6" transform="rotate(-0 439.44 527.6)">12.0</text></g><g id="text_85"><text style="font-size: 10px; font-family: 'DejaVu Sans', 'Liberation Sans', sans-serif; text-anchor: middle" x="439.44" y="564.35" transform="rotate(-0 439.44 564.35)">5.0</text></g><g id="text_86"><text style="font-size: 10px; font-family: 'DejaVu Sans', 'Liberation Sans', sans-serif; text-anchor: middle; fill: #ff7f0e" x="455.84" y="528.37" transform="rotate(-0 455.84 528.37)">12.0</text></g><g id="text_87"><text style="font-size: 10px; font-family: 'DejaVu Sans', 'Liberation Sans', sans-serif; text-anchor: middle" x="455.84" y="565.63" transform="rotate(-0 455.84 565.63)">4.0</text></g><g id="text_88"><text style="font-size: 10px; font-family: 'DejaVu Sans', 'Liberation Sans', sans-serif; text-anchor: middle; fill: #ff7f0e" x="472.23" y="530.67" transform="rotate(-0 472.23 530.67)">11.0</text></g><g id="text_89"><text style="font-size: 10px; font-family: 'DejaVu Sans', 'Liberation Sans', sans-serif; text-anchor: middle" x="472.23" y="566.9" transform="rotate(-0 472.23 566.9)">4.0</text></g><g id="text_90"><text style="font-size: 10px; font-family: 'DejaVu Sans', 'Liberation Sans', sans-serif; text-anchor: middle; fill: #ff7f0e" x="488.63" y="535.53" transform="rotate(-0 488.63 535.53)">9.0</text></g><g id="text_91"><text style="font-size: 10px; font-family: 'DejaVu Sans', 'Liberation Sans', sans-serif; text-anchor: middle" x="488.63" y="567.93" transform="rotate(-0 488.63 567.93)">3.0</text></g><g id="text_92"><text style="font-size: 10px; font-family: 'DejaVu Sans', 'Liberation Sans', sans-serif; text-anchor: middle; fill: #ff7f0e" x="505.02" y="531.95" transform="rotate(-0 505.02 531.95)">10.0</text></g><g id="text_93"><text style="font-size: 10px; font-family: 'DejaVu Sans', 'Liberation Sans', sans-serif; text-anchor: middle" x="505.02" y="566.65" transform="rotate(-0 505.02 566.65)">4.0</text></g><g id="text_94"><text style="font-size: 10px; font-family: 'DejaVu Sans', 'Liberation Sans', sans-serif; text-anchor: middle; fill: #ff7f0e" x="521.42" y="540.65" transform="rotate(-0 521.42 540.65)">7.0</text></g><g id="text_95"><text style="font-size: 10px; font-family: 'DejaVu Sans', 'Liberation Sans', sans-serif; text-anchor: middle" x="521.42" y="572.17" transform="rotate(-0 521.42 572.17)">2.0</text></g><g id="text_96"><text style="font-size: 10px; font-family: 'DejaVu Sans', 'Liberation Sans', sans-serif; text-anchor: middle; fill: #ff7f0e" x="537.81" y="551.5" transform="rotate(-0 537.81 551.5)">3.0</text></g><g id="text_97"><text style="font-size: 10px; font-family: 'DejaVu Sans', 'Liberation Sans', sans-serif; text-anchor: middle" x="537.81" y="573.3" transform="rotate(-0 537.81 573.3)">1.0</text></g><g id="text_98"><text style="font-size: 10px; font-family: 'DejaVu Sans', 'Liberation Sans', sans-serif; text-anchor: middle; fill: #ff7f0e" x="554.21" y="552.42" transform="rotate(-0 554.21 552.42)">2.0</text></g><g id="text_99"><text style="font-size: 10px; font-family: 'DejaVu Sans', 'Liberation Sans', sans-serif; text-anchor: middle" x="554.21" y="573.68" transform="rotate(-0 554.21 573.68)">1.0</text></g><g id="text_100"><text style="font-size: 10px; font-family: 'DejaVu Sans', 'Liberation Sans', sans-serif; text-anchor: middle; fill: #ff7f0e" x="570.6" y="553.6" transform="rotate(-0 570.6 553.6)">2.0</text></g><g id="text_101"><text style="font-size: 10px; font-family: 'DejaVu Sans', 'Liberation Sans', sans-serif; text-anchor: middle" x="570.6" y="574.32" transform="rotate(-0 570.6 574.32)">1.0</text></g><g id="text_102"><text style="font-size: 10px; font-family: 'DejaVu Sans', 'Liberation Sans', sans-serif; text-anchor: middle; fill: #ff7f0e" x="586.99" y="553.6" transform="rotate(-0 586.99 553.6)">2.0</text></g><g id="text_103"><text style="font-size: 10px; font-family: 'DejaVu Sans', 'Liberation Sans', sans-serif; text-anchor: middle" x="586.99" y="574.32" transform="rotate(-0 586.99 574.32)">1.0</text></g><g id="text_104"><text style="font-size: 10px; font-family: 'DejaVu Sans', 'Liberation Sans', sans-serif; text-anchor: middle; fill: #ff7f0e" x="603.39" y="553.44" transform="rotate(-0 603.39 553.44)">2.0</text></g><g id="text_105"><text style="font-size: 10px; font-family: 'DejaVu Sans', 'Liberation Sans', sans-serif; text-anchor: middle" x="603.39" y="575.22" transform="rotate(-0 603.39 575.22)">1.0</text></g><g id="text_106"><text style="font-size: 10px; font-family: 'DejaVu Sans', 'Liberation Sans', sans-serif; text-anchor: middle; fill: #ff7f0e" x="619.78" y="550.37" transform="rotate(-0 619.78 550.37)">3.0</text></g><g id="text_107"><text style="font-size: 10px; font-family: 'DejaVu Sans', 'Liberation Sans', sans-serif; text-anchor: middle" x="619.78" y="574.32" transform="rotate(-0 619.78 574.32)">1.0</text></g><g id="text_108"><text style="font-size: 10px; font-family: 'DejaVu Sans', 'Liberation Sans', sans-serif; text-anchor: middle; fill: #ff7f0e" x="636.18" y="548.33" transform="rotate(-0 636.18 548.33)">4.0</text></g><g id="text_109"><text style="font-size: 10px; font-family: 'DejaVu Sans', 'Liberation Sans', sans-serif; text-anchor: middle" x="636.18" y="573.56" transform="rotate(-0 636.18 573.56)">1.0</text></g><g id="text_110"><text style="font-size: 10px; font-family: 'DejaVu Sans', 'Liberation Sans', sans-serif; text-anchor: middle; fill: #ff7f0e" x="652.57" y="549.09" transform="rotate(-0 652.57 549.09)">4.0</text></g><g id="text_111"><text style="font-size: 10px; font-family: 'DejaVu Sans', 'Liberation Sans', sans-serif; text-anchor: middle" x="652.57" y="574.32" transform="rotate(-0 652.57 574.32)">1.0</text></g><g id="text_112"><text style="font-size: 10px; font-family: 'DejaVu Sans', 'Liberation Sans', sans-serif; text-anchor: middle; fill: #ff7f0e" x="668.97" y="552.93" transform="rotate(-0 668.97 552.93)">2.0</text></g><g id="text_113"><text style="font-size: 10px; font-family: 'DejaVu Sans', 'Liberation Sans', sans-serif; text-anchor: middle" x="668.97" y="574.32" transform="rotate(-0 668.97 574.32)">1.0</text></g><g id="text_114"><text style="font-size: 10px; font-family: 'DejaVu Sans', 'Liberation Sans', sans-serif; text-anchor: middle; fill: #ff7f0e" x="685.36" y="553.6" transform="rotate(-0 685.36 553.6)">2.0</text></g><g id="text_115"><text style="font-size: 10px; font-family: 'DejaVu Sans', 'Liberation Sans', sans-serif; text-anchor: middle" x="685.36" y="574.32" transform="rotate(-0 685.36 574.32)">1.0</text></g><g id="text_116"><text style="font-size: 10px; font-family: 'DejaVu Sans', 'Liberation Sans', sans-serif; text-anchor: middle; fill: #ff7f0e" x="701.76" y="554.21" transform="rotate(-0 701.76 554.21)">2.0</text></g><g id="text_117"><text style="font-size: 10px; font-family: 'DejaVu Sans', 'Liberation Sans', sans-serif; text-anchor: middle" x="701.76" y="575.6" transform="rotate(-0 701.76 575.6)">0.0</text></g><g id="text_118"><text style="font-size: 10px; font-family: 'DejaVu Sans', 'Liberation Sans', sans-serif; text-anchor: middle; fill: #ff7f0e" x="718.15" y="555.92" transform="rotate(-0 718.15 555.92)">1.0</text></g><g id="text_119"><text style="font-size: 10px; font-family: 'DejaVu Sans', 'Liberation Sans', sans-serif; text-anchor: middle" x="718.15" y="574.94" transform="rotate(-0 718.15 574.94)">1.0</text></g><g id="text_120"><text style="font-size: 10px; font-family: 'DejaVu Sans', 'Liberation Sans', sans-serif; text-anchor: middle; fill: #ff7f0e" x="734.54" y="552.93" transform="rotate(-0 734.54 552.93)">2.0</text></g><g id="text_121"><text style="font-size: 10px; font-family: 'DejaVu Sans', 'Liberation Sans', sans-serif; text-anchor: middle" x="734.54" y="574.58" transform="rotate(-0 734.54 574.58)">1.0</text></g></g><g id="axes_5"><g id="patch_32"><path d="M 62.28 669.31 L 751.32 669.31 L 751.32 592.13 L 62.28 592.13 z " style="fill: #ffffff"/></g><g id="matplotlib.axis_9"><g id="xtick_31"><g id="line2d_109"><path shape-rendering="crispEdges" d="M 177.13 669.31 L 177.13 592.13 " clip-path="url(#pa27e579a9d)" style="fill: none; stroke-dasharray: 2.4,1.04; stroke-dashoffset: 0; stroke: #000000; stroke-opacity: 0.4; stroke-width: 0.72"/></g><g id="line2d_110"><g><path shape-rendering="crispEdges" d="M 0 0 L 0 4 " transform="translate(177.13 669.31)" style="stroke: #000000; stroke-width: 0.72;stroke: #000000; stroke-width: 0.72"/></g></g></g><g id="xtick_32"><g id="line2d_111"><path shape-rendering="crispEdges" d="M 308.29 669.31 L 308.29 592.13 " clip-path="url(#pa27e579a9d)" style="fill: none; stroke-dasharray: 2.4,1.04; stroke-dashoffset: 0; stroke: #000000; stroke-opacity: 0.4; stroke-width: 0.72"/></g><g id="line2d_112"><g><path shape-rendering="crispEdges" d="M 0 0 L 0 4 " transform="translate(308.29 669.31)" style="stroke: #000000; stroke-width: 0.72;stroke: #000000; stroke-width: 0.72"/></g></g></g><g id="xtick_33"><g id="line2d_113"><path shape-rendering="crispEdges" d="M 439.44 669.31 L 439.44 592.13 " clip-path="url(#pa27e579a9d)" style="fill: none; stroke-dasharray: 2.4,1.04; stroke-dashoffset: 0; stroke: #000000; stroke-opacity: 0.4; stroke-width: 0.72"/></g><g id="line2d_114"><g><path shape-rendering="crispEdges" d="M 0 0 L 0 4 " transform="translate(439.44 669.31)" style="stroke: #000000; stroke-width: 0.72;stroke: #000000; stroke-width: 0.72"/></g></g></g><g id="xtick_34"><g id="line2d_115"><path shape-rendering="crispEdges" d="M 570.6 669.31 L 570.6 592.13 " clip-path="url(#pa27e579a9d)" style="fill: none; stroke-dasharray: 2.4,1.04; stroke-dashoffset: 0; stroke: #000000; stroke-opacity: 0.4; stroke-width: 0.72"/></g><g id="line2d_116"><g><path shape-rendering="crispEdges" d="M 0 0 L 0 4 " transform="translate(570.6 669.31)" style="stroke: #000000; stroke-width: 0.72;stroke: #000000; stroke-width: 0.72"/></g></g></g><g id="xtick_35"><g id="line2d_117"><path shape-rendering="crispEdges" d="M 701.76 669.31 L 701.76 592.13 " clip-path="url(#pa27e579a9d)" style="fill: none; stroke-dasharray: 2.4,1.04; stroke-dashoffset: 0; stroke: #000000; stroke-opacity: 0.4; stroke-width: 0.72"/></g><g id="line2d_118"><g><path shape-rendering="crispEdges" d="M 0 0 L 0 4 " transform="translate(701.76 669.31)" style="stroke: #000000; stroke-width: 0.72;stroke: #000000; stroke-width: 0.72"/></g></g></g><g id="xtick_36"><g id="line2d_119"><g><path shape-rendering="crispEdges" d="M 0 0 L 0 2 " transform="translate(111.56 669.31)" style="stroke: #000000; stroke-width: 0.72;stroke: #000000; stroke-width: 0.72"/></g></g></g><g id="xtick_37"><g id="line2d_120"><g><path shape-rendering="crispEdges" d="M 0 0 L 0 2 " transform="translate(242.71 669.31)" style="stroke: #000000; stroke-width: 0.72;stroke: #000000; stroke-width: 0.72"/></g></g></g><g id="xtick_38"><g id="line2d_121"><g><path shape-rendering="crispEdges" d="M 0 0 L 0 2 " transform="translate(373.87 669.31)" style="stroke: #000000; stroke-width: 0.72;stroke: #000000; stroke-width: 0.72"/></g></g></g><g id="xtick_39"><g id="line2d_122"><g><path shape-rendering="crispEdges" d="M 0 0 L 0 2 " transform="translate(505.02 669.31)" style="stroke: #000000; stroke-width: 0.72;stroke: #000000; stroke-width: 0.72"/></g></g></g><g id="xtick_40"><g id="line2d_123"><g><path shape-rendering="crispEdges" d="M 0 0 L 0 2 " transform="translate(636.18 669.31)" style="stroke: #000000; stroke-width: 0.72;stroke: #000000; stroke-width: 0.72"/></g></g></g></g><g id="matplotlib.axis_10"><g id="ytick_24"><g id="line2d_124"><path shape-rendering="crispEdges" d="M 62.28 661.25 L 751.32 661.25 " clip-path="url(#pa27e579a9d)" style="fill: none; stroke: #b0b0b0; stroke-width: 0.72; stroke-linecap: square"/></g><g id="line2d_125"><g><path shape-rendering="crispEdges" d="M 0 0 L -3.5 0 " transform="translate(62.28 661.25)" style="stroke: #000000; stroke-width: 0.72;stroke: #000000; stroke-width: 0.72"/></g></g><g id="text_122"><text style="font-size: 10px; font-family: 'DejaVu Sans', 'Liberation Sans', sans-serif; text-anchor: end" x="55.28" y="665.05" transform="rotate(-0 55.28 665.05)">1010</text></g></g><g id="ytick_25"><g id="line2d_126"><path shape-rendering="crispEdges" d="M 62.28 630.61 L 751.32 630.61 " clip-path="url(#pa27e579a9d)" style="fill: none; stroke: #b0b0b0; stroke-width: 0.72; stroke-linecap: square"/></g><g id="line2d_127"><g><path shape-rendering="crispEdges" d="M 0 0 L -3.5 0 " transform="translate(62.28 630.61)" style="stroke: #000000; stroke-width: 0.72;stroke: #000000; stroke-width: 0.72"/></g></g><g id="text_123"><text style="font-size: 10px; font-family: 'DejaVu Sans', 'Liberation Sans', sans-serif; text-anchor: end" x="55.28" y="634.41" transform="rotate(-0 55.28 634.41)">1020</text></g></g><g id="ytick_26"><g id="line2d_128"><path shape-rendering="crispEdges" d="M 62.28 599.97 L 751.32 599.97 " clip-path="url(#pa27e579a9d)" style="fill: none; stroke: #b0b0b0; stroke-width: 0.72; stroke-linecap: square"/></g><g id="line2d_129"><g><path shape-rendering="crispEdges" d="M 0 0 L -3.5 0 " transform="translate(62.28 599.97)" style="stroke: #000000; stroke-width: 0.72;stroke: #000000; stroke-width: 0.72"/></g></g><g id="text_124"><text style="font-size: 10px; font-family: 'DejaVu Sans', 'Liberation Sans', sans-serif; text-anchor: end" x="55.28" y="603.77" transform="rotate(-0 55.28 603.77)">1030</text></g></g><g id="text_125"><text style="font-size: 10px; font-family: 'DejaVu Sans', 'Liberation Sans', sans-serif; text-anchor: middle" x="22.05" y="630.72" transform="rotate(-90 22.05 630.72)">MSLP [hPa]</text></g></g><g id="line2d_130"><path d="M 78.77 638.03 L 95.16 635.06 L 111.56 638.67 L 127.95 641.64 L 144.35 637.38 L 160.74 636.56 L 177.13 633.58 L 193.53 634.01 L 209.92 637.2 L 226.32 643.11 L 242.71 650.96 L 259.11 649.7 L 275.5 641.64 L 291.9 640.79 L 308.29 643.76 L 324.68 647.99 L 341.08 653.1 L 357.47 652.25 L 373.87 646.52 L 390.26 648.2 L 406.66 645.04 L 423.05 642.9 L 439.44 637.2 L 455.84 628.5 L 472.23 619.15 L 488.63 612.81 L 505.02 613.64 L 521.42 614.28 L 537.81 608.55 L 554.21 607.51 L 570.6 608.55 L 586.99 608.55 L 603.39 609.84 L 619.78 614.5 L 636.18 620.87 L 652.57 622.77 L 668.97 620.01 L 685.36 619.8 L 701.76 618.54 L 718.15 620.87 L 734.54 622.13 " clip-path="url(#pa27e579a9d)" style="fill: none; stroke: #ff0000; stroke-width: 1.5; stroke-linecap: square"/><g clip-path="url(#pa27e579a9d)"><path d="M 0 1.5 C 0.4 1.5 0.78 1.34 1.06 1.06 C 1.34 0.78 1.5 0.4 1.5 0 C 1.5 -0.4 1.34 -0.78 1.06 -1.06 C 0.78 -1.34 0.4 -1.5 0 -1.5 C -0.4 -1.5 -0.78 -1.34 -1.06 -1.06 C -1.34 -0.78 -1.5 -0.4 -1.5 0 C -1.5 0.4 -1.34 0.78 -1.06 1.06 C -0.78 1.34 -0.4 1.5 0 1.5 z " transform="translate(78.77 638.03)" style="stroke: #ff0000;fill: #ff0000; stroke: #ff0000"/><path d="M 0 1.5 C 0.4 1.5 0.78 1.34 1.06 1.06 C 1.34 0.78 1.5 0.4 1.5 0 C 1.5 -0.4 1.34 -0.78 1.06 -1.06 C 0.78 -1.34 0.4 -1.5 0 -1.5 C -0.4 -1.5 -0.78 -1.34 -1.06 -1.06 C -1.34 -0.78 -1.5 -0.4 -1.5 0 C -1.5 0.4 -1.34 0.78 -1.06 1.06 C -0.78 1.34 -0.4 1.5 0 1.5 z " transform="translate(95.16 635.06)" style="stroke: #ff0000;fill: #ff0000; stroke: #ff0000"/><path d="M 0 1.5 C 0.4 1.5 0.78 1.34 1.06 1.06 C 1.34 0.78 1.5 0.4 1.5 0 C 1.5 -0.4 1.34 -0.78 1.06 -1.06 C 0.78 -1.34 0.4 -1.5 0 -1.5 C -0.4 -1.5 -0.78 -1.34 -1.06 -1.06 C -1.34 -0.78 -1.5 -0.4 -1.5 0 C -1.5 0.4 -1.34 0.78 -1.06 1.06 C -0.78 1.34 -0.4 1.5 0 1.5 z " transform="translate(111.56 638.67)" style="stroke: #ff0000;fill: #ff0000; stroke: #ff0000"/><path d="M 0 1.5 C 0.4 1.5 0.78 1.34 1.06 1.06 C 1.34 0.78 1.5 0.4 1.5 0 C 1.5 -0.4 1.34 -0.78 1.06 -1.06 C 0.78 -1.34 0.4 -1.5 0 -1.5 C -0.4 -1.5 -0.78 -1.34 -1.06 -1.06 C -1.34 -0.78 -1.5 -0.4 -1.5 0 C -1.5 0.4 -1.34 0.78 -1.06 1.06 C -0.78 1.34 -0.4 1.5 0 1.5 z " transform="translate(127.95 641.64)" style="stroke: #ff0000;fill: #ff0000; stroke: #ff0000"/><path d="M 0 1.5 C 0.4 1.5 0.78 1.34 1.06 1.06 C 1.34 0.78 1.5 0.4 1.5 0 C 1.5 -0.4 1.34 -0.78 1.06 -1.06 C 0.78 -1.34 0.4 -1.5 0 -1.5 C -0.4 -1.5 -0.78 -1.34 -1.06 -1.06 C -1.34 -0.78 -1.5 -0.4 -1.5 0 C -1.5 0.4 -1.34 0.78 -1.06 1.06 C -0.78 1.34 -0.4 1.5 0 1.5 z " transform="translate(144.35 637.38)" style="stroke: #ff0000;fill: #ff0000; stroke: #ff0000"/><path d="M 0 1.5 C 0.4 1.5 0.78 1.34 1.06 1.06 C 1.34 0.78 1.5 0.4 1.5 0 C 1.5 -0.4 1.34 -0.78 1.06 -1.06 C 0.78 -1.34 0.4 -1.5 0 -1.5 C -0.4 -1.5 -0.78 -1.34 -1.06 -1.06 C -1.34 -0.78 -1.5 -0.4 -1.5 0 C -1.5 0.4 -1.34 0.78 -1.06 1.06 C -0.78 1.34 -0.4 1.5 0 1.5 z " transform="translate(160.74 636.56)" style="stroke: #ff0000;fill: #ff0000; stroke: #ff0000"/><path d="M 0 1.5 C 0.4 1.5 0.78 1.34 1.06 1.06 C 1.34 0.78 1.5 0.4 1.5 0 C 1.5 -0.4 1.34 -0.78 1.06 -1.06 C 0.78 -1.34 0.4 -1.5 0 -1.5 C -0.4 -1.5 -0.78 -1.34 -1.06 -1.06 C -1.34 -0.78 -1.5 -0.4 -1.5 0 C -1.5 0.4 -1.34 0.78 -1.06 1.06 C -0.78 1.34 -0.4 1.5 0 1.5 z " transform="translate(177.13 633.58)" style="stroke: #ff0000;fill: #ff0000; stroke: #ff0000"/><path d="M 0 1.5 C 0.4 1.5 0.78 1.34 1.06 1.06 C 1.34 0.78 1.5 0.4 1.5 0 C 1.5 -0.4 1.34 -0.78 1.06 -1.06 C 0.78 -1.34 0.4 -1.5 0 -1.5 C -0.4 -1.5 -0.78 -1.34 -1.06 -1.06 C -1.34 -0.78 -1.5 -0.4 -1.5 0 C -1.5 0.4 -1.34 0.78 -1.06 1.06 C -0.78 1.34 -0.4 1.5 0 1.5 z " transform="translate(193.53 634.01)" style="stroke: #ff0000;fill: #ff0000; stroke: #ff0000"/><path d="M 0 1.5 C 0.4 1.5 0.78 1.34 1.06 1.06 C 1.34 0.78 1.5 0.4 1.5 0 C 1.5 -0.4 1.34 -0.78 1.06 -1.06 C 0.78 -1.34 0.4 -1.5 0 -1.5 C -0.4 -1.5 -0.78 -1.34 -1.06 -1.06 C -1.34 -0.78 -1.5 -0.4 -1.5 0 C -1.5 0.4 -1.34 0.78 -1.06 1.06 C -0.78 1.34 -0.4 1.5 0 1.5 z " transform="translate(209.92 637.2)" style="stroke: #ff0000;fill: #ff0000; stroke: #ff0000"/><path d="M 0 1.5 C 0.4 1.5 0.78 1.34 1.06 1.06 C 1.34 0.78 1.5 0.4 1.5 0 C 1.5 -0.4 1.34 -0.78 1.06 -1.06 C 0.78 -1.34 0.4 -1.5 0 -1.5 C -0.4 -1.5 -0.78 -1.34 -1.06 -1.06 C -1.34 -0.78 -1.5 -0.4 -1.5 0 C -1.5 0.4 -1.34 0.78 -1.06 1.06 C -0.78 1.34 -0.4 1.5 0 1.5 z " transform="translate(226.32 643.11)" style="stroke: #ff0000;fill: #ff0000; stroke: #ff0000"/><path d="M 0 1.5 C 0.4 1.5 0.78 1.34 1.06 1.06 C 1.34 0.78 1.5 0.4 1.5 0 C 1.5 -0.4 1.34 -0.78 1.06 -1.06 C 0.78 -1.34 0.4 -1.5 0 -1.5 C -0.4 -1.5 -0.78 -1.34 -1.06 -1.06 C -1.34 -0.78 -1.5 -0.4 -1.5 0 C -1.5 0.4 -1.34 0.78 -1.06 1.06 C -0.78 1.34 -0.4 1.5 0 1.5 z " transform="translate(242.71 650.96)" style="stroke: #ff0000;fill: #ff0000; stroke: #ff0000"/><path d="M 0 1.5 C 0.4 1.5 0.78 1.34 1.06 1.06 C 1.34 0.78 1.5 0.4 1.5 0 C 1.5 -0.4 1.34 -0.78 1.06 -1.06 C 0.78 -1.34 0.4 -1.5 0 -1.5 C -0.4 -1.5 -0.78 -1.34 -1.06 -1.06 C -1.34 -0.78 -1.5 -0.4 -1.5 0 C -1.5 0.4 -1.34 0.78 -1.06 1.06 C -0.78 1.34 -0.4 1.5 0 1.5 z " transform="translate(259.11 649.7)" style="stroke: #ff0000;fill: #ff0000; stroke: #ff0000"/><path d="M 0 1.5 C 0.4 1.5 0.78 1.34 1.06 1.06 C 1.34 0.78 1.5 0.4 1.5 0 C 1.5 -0.4 1.34 -0.78 1.06 -1.06 C 0.78 -1.34 0.4 -1.5 0 -1.5 C -0.4 -1.5 -0.78 -1.34 -1.06 -1.06 C -1.34 -0.78 -1.5 -0.4 -1.5 0 C -1.5 0.4 -1.34 0.78 -1.06 1.06 C -0.78 1.34 -0.4 1.5 0 1.5 z " transform="translate(275.5 641.64)" style="stroke: #ff0000;fill: #ff0000; stroke: #ff0000"/><path d="M 0 1.5 C 0.4 1.5 0.78 1.34 1.06 1.06 C 1.34 0.78 1.5 0.4 1.5 0 C 1.5 -0.4 1.34 -0.78 1.06 -1.06 C 0.78 -1.34 0.4 -1.5 0 -1.5 C -0.4 -1.5 -0.78 -1.34 -1.06 -1.06 C -1.34 -0.78 -1.5 -0.4 -1.5 0 C -1.5 0.4 -1.34 0.78 -1.06 1.06 C -0.78 1.34 -0.4 1.5 0 1.5 z " transform="translate(291.9 640.79)" style="stroke: #ff0000;fill: #ff0000; stroke: #ff0000"/><path d="M 0 1.5 C 0.4 1.5 0.78 1.34 1.06 1.06 C 1.34 0.78 1.5 0.4 1.5 0 C 1.5 -0.4 1.34 -0.78 1.06 -1.06 C 0.78 -1.34 0.4 -1.5 0 -1.5 C -0.4 -1.5 -0.78 -1.34 -1.06 -1.06 C -1.34 -0.78 -1.5 -0.4 -1.5 0 C -1.5 0.4 -1.34 0.78 -1.06 1.06 C -0.78 1.34 -0.4 1.5 0 1.5 z " transform="translate(308.29 643.76)" style="stroke: #ff0000;fill: #ff0000; stroke: #ff0000"/><path d="M 0 1.5 C 0.4 1.5 0.78 1.34 1.06 1.06 C 1.34 0.78 1.5 0.4 1.5 0 C 1.5 -0.4 1.34 -0.78 1.06 -1.06 C 0.78 -1.34 0.4 -1.5 0 -1.5 C -0.4 -1.5 -0.78 -1.34 -1.06 -1.06 C -1.34 -0.78 -1.5 -0.4 -1.5 0 C -1.5 0.4 -1.34 0.78 -1.06 1.06 C -0.78 1.34 -0.4 1.5 0 1.5 z " transform="translate(324.68 647.99)" style="stroke: #ff0000;fill: #ff0000; stroke: #ff0000"/><path d="M 0 1.5 C 0.4 1.5 0.78 1.34 1.06 1.06 C 1.34 0.78 1.5 0.4 1.5 0 C 1.5 -0.4 1.34 -0.78 1.06 -1.06 C 0.78 -1.34 0.4 -1.5 0 -1.5 C -0.4 -1.5 -0.78 -1.34 -1.06 -1.06 C -1.34 -0.78 -1.5 -0.4 -1.5 0 C -1.5 0.4 -1.34 0.78 -1.06 1.06 C -0.78 1.34 -0.4 1.5 0 1.5 z " transform="translate(341.08 653.1)" style="stroke: #ff0000;fill: #ff0000; stroke: #ff0000"/><path d="M 0 1.5 C 0.4 1.5 0.78 1.34 1.06 1.06 C 1.34 0.78 1.5 0.4 1.5 0 C 1.5 -0.4 1.34 -0.78 1.06 -1.06 C 0.78 -1.34 0.4 -1.5 0 -1.5 C -0.4 -1.5 -0.78 -1.34 -1.06 -1.06 C -1.34 -0.78 -1.5 -0.4 -1.5 0 C -1.5 0.4 -1.34 0.78 -1.06 1.06 C -0.78 1.34 -0.4 1.5 0 1.5 z " transform="translate(357.47 652.25)" style="stroke: #ff0000;fill: #ff0000; stroke: #ff0000"/><path d="M 0 1.5 C 0.4 1.5 0.78 1.34 1.06 1.06 C 1.34 0.78 1.5 0.4 1.5 0 C 1.5 -0.4 1.34 -0.78 1.06 -1.06 C 0.78 -1.34 0.4 -1.5 0 -1.5 C -0.4 -1.5 -0.78 -1.34 -1.06 -1.06 C -1.34 -0.78 -1.5 -0.4 -1.5 0 C -1.5 0.4 -1.34 0.78 -1.06 1.06 C -0.78 1.34 -0.4 1.5 0 1.5 z " transform="translate(373.87 646.52)" style="stroke: #ff0000;fill: #ff0000; stroke: #ff0000"/><path d="M 0 1.5 C 0.4 1.5 0.78 1.34 1.06 1.06 C 1.34 0.78 1.5 0.4 1.5 0 C 1.5 -0.4 1.34 -0.78 1.06 -1.06 C 0.78 -1.34 0.4 -1.5 0 -1.5 C -0.4 -1.5 -0.78 -1.34 -1.06 -1.06 C -1.34 -0.78 -1.5 -0.4 -1.5 0 C -1.5 0.4 -1.34 0.78 -1.06 1.06 C -0.78 1.34 -0.4 1.5 0 1.5 z " transform="translate(390.26 648.2)" style="stroke: #ff0000;fill: #ff0000; stroke: #ff0000"/><path d="M 0 1.5 C 0.4 1.5 0.78 1.34 1.06 1.06 C 1.34 0.78 1.5 0.4 1.5 0 C 1.5 -0.4 1.34 -0.78 1.06 -1.06 C 0.78 -1.34 0.4 -1.5 0 -1.5 C -0.4 -1.5 -0.78 -1.34 -1.06 -1.06 C -1.34 -0.78 -1.5 -0.4 -1.5 0 C -1.5 0.4 -1.34 0.78 -1.06 1.06 C -0.78 1.34 -0.4 1.5 0 1.5 z " transform="translate(406.66 645.04)" style="stroke: #ff0000;fill: #ff0000; stroke: #ff0000"/><path d="M 0 1.5 C 0.4 1.5 0.78 1.34 1.06 1.06 C 1.34 0.78 1.5 0.4 1.5 0 C 1.5 -0.4 1.34 -0.78 1.06 -1.06 C 0.78 -1.34 0.4 -1.5 0 -1.5 C -0.4 -1.5 -0.78 -1.34 -1.06 -1.06 C -1.34 -0.78 -1.5 -0.4 -1.5 0 C -1.5 0.4 -1.34 0.78 -1.06 1.06 C -0.78 1.34 -0.4 1.5 0 1.5 z " transform="translate(423.05 642.9)" style="stroke: #ff0000;fill: #ff0000; stroke: #ff0000"/><path d="M 0 1.5 C 0.4 1.5 0.78 1.34 1.06 1.06 C 1.34 0.78 1.5 0.4 1.5 0 C 1.5 -0.4 1.34 -0.78 1.06 -1.06 C 0.78 -1.34 0.4 -1.5 0 -1.5 C -0.4 -1.5 -0.78 -1.34 -1.06 -1.06 C -1.34 -0.78 -1.5 -0.4 -1.5 0 C -1.5 0.4 -1.34 0.78 -1.06 1.06 C -0.78 1.34 -0.4 1.5 0 1.5 z " transform="translate(439.44 637.2)" style="stroke: #ff0000;fill: #ff0000; stroke: #ff0000"/><path d="M 0 1.5 C 0.4 1.5 0.78 1.34 1.06 1.06 C 1.34 0.78 1.5 0.4 1.5 0 C 1.5 -0.4 1.34 -0.78 1.06 -1.06 C 0.78 -1.34 0.4 -1.5 0 -1.5 C -0.4 -1.5 -0.78 -1.34 -1.06 -1.06 C -1.34 -0.78 -1.5 -0.4 -1.5 0 C -1.5 0.4 -1.34 0.78 -1.06 1.06 C -0.78 1.34 -0.4 1.5 0 1.5 z " transform="translate(455.84 628.5)" style="stroke: #ff0000;fill: #ff0000; stroke: #ff0000"/><path d="M 0 1.5 C 0.4 1.5 0.78 1.34 1.06 1.06 C 1.34 0.78 1.5 0.4 1.5 0 C 1.5 -0.4 1.34 -0.78 1.06 -1.06 C 0.78 -1.34 0.4 -1.5 0 -1.5 C -0.4 -1.5 -0.78 -1.34 -1.06 -1.06 C -1.34 -0.78 -1.5 -0.4 -1.5 0 C -1.5 0.4 -1.34 0.78 -1.06 1.06 C -0.78 1.34 -0.4 1.5 0 1.5 z " transform="translate(472.23 619.15)" style="stroke: #ff0000;fill: #ff0000; stroke: #ff0000"/><path d="M 0 1.5 C 0.4 1.5 0.78 1.34 1.06 1.06 C 1.34 0.78 1.5 0.4 1.5 0 C 1.5 -0.4 1.34 -0.78 1.06 -1.06 C 0.78 -1.34 0.4 -1.5 0 -1.5 C -0.4 -1.5 -0.78 -1.34 -1.06 -1.06 C -1.34 -0.78 -1.5 -0.4 -1.5 0 C -1.5 0.4 -1.34 0.78 -1.06 1.06 C -0.78 1.34 -0.4 1.5 0 1.5 z " transform="translate(488.63 612.81)" style="stroke: #ff0000;fill: #ff0000; stroke: #ff0000"/><path d="M 0 1.5 C 0.4 1.5 0.78 1.34 1.06 1.06 C 1.34 0.78 1.5 0.4 1.5 0 C 1.5 -0.4 1.34 -0.78 1.06 -1.06 C 0.78 -1.34 0.4 -1.5 0 -1.5 C -0.4 -1.5 -0.78 -1.34 -1.06 -1.06 C -1.34 -0.78 -1.5 -0.4 -1.5 0 C -1.5 0.4 -1.34 0.78 -1.06 1.06 C -0.78 1.34 -0.4 1.5 0 1.5 z " transform="translate(505.02 613.64)" style="stroke: #ff0000;fill: #ff0000; stroke: #ff0000"/><path d="M 0 1.5 C 0.4 1.5 0.78 1.34 1.06 1.06 C 1.34 0.78 1.5 0.4 1.5 0 C 1.5 -0.4 1.34 -0.78 1.06 -1.06 C 0.78 -1.34 0.4 -1.5 0 -1.5 C -0.4 -1.5 -0.78 -1.34 -1.06 -1.06 C -1.34 -0.78 -1.5 -0.4 -1.5 0 C -1.5 0.4 -1.34 0.78 -1.06 1.06 C -0.78 1.34 -0.4 1.5 0 1.5 z " transform="translate(521.42 614.28)" style="stroke: #ff0000;fill: #ff0000; stroke: #ff0000"/><path d="M 0 1.5 C 0.4 1.5 0.78 1.34 1.06 1.06 C 1.34 0.78 1.5 0.4 1.5 0 C 1.5 -0.4 1.34 -0.78 1.06 -1.06 C 0.78 -1.34 0.4 -1.5 0 -1.5 C -0.4 -1.5 -0.78 -1.34 -1.06 -1.06 C -1.34 -0.78 -1.5 -0.4 -1.5 0 C -1.5 0.4 -1.34 0.78 -1.06 1.06 C -0.78 1.34 -0.4 1.5 0 1.5 z " transform="translate(537.81 608.55)" style="stroke: #ff0000;fill: #ff0000; stroke: #ff0000"/><path d="M 0 1.5 C 0.4 1.5 0.78 1.34 1.06 1.06 C 1.34 0.78 1.5 0.4 1.5 0 C 1.5 -0.4 1.34 -0.78 1.06 -1.06 C 0.78 -1.34 0.4 -1.5 0 -1.5 C -0.4 -1.5 -0.78 -1.34 -1.06 -1.06 C -1.34 -0.78 -1.5 -0.4 -1.5 0 C -1.5 0.4 -1.34 0.78 -1.06 1.06 C -0.78 1.34 -0.4 1.5 0 1.5 z " transform="translate(554.21 607.51)" style="stroke: #ff0000;fill: #ff0000; stroke: #ff0000"/><path d="M 0 1.5 C 0.4 1.5 0.78 1.34 1.06 1.06 C 1.34 0.78 1.5 0.4 1.5 0 C 1.5 -0.4 1.34 -0.78 1.06 -1.06 C 0.78 -1.34 0.4 -1.5 0 -1.5 C -0.4 -1.5 -0.78 -1.34 -1.06 -1.06 C -1.34 -0.78 -1.5 -0.4 -1.5 0 C -1.5 0.4 -1.34 0.78 -1.06 1.06 C -0.78 1.34 -0.4 1.5 0 1.5 z " transform="translate(570.6 608.55)" style="stroke: #ff0000;fill: #ff0000; stroke: #ff0000"/><path d="M 0 1.5 C 0.4 1.5 0.78 1.34 1.06 1.06 C 1.34 0.78 1.5 0.4 1.5 0 C 1.5 -0.4 1.34 -0.78 1.06 -1.06 C 0.78 -1.34 0.4 -1.5 0 -1.5 C -0.4 -1.5 -0.78 -1.34 -1.06 -1.06 C -1.34 -0.78 -1.5 -0.4 -1.5 0 C -1.5 0.4 -1.34 0.78 -1.06 1.06 C -0.78 1.34 -0.4 1.5 0 1.5 z " transform="translate(586.99 608.55)" style="stroke: #ff0000;fill: #ff0000; stroke: #ff0000"/><path d="M 0 1.5 C 0.4 1.5 0.78 1.34 1.06 1.06 C 1.34 0.78 1.5 0.4 1.5 0 C 1.5 -0.4 1.34 -0.78 1.06 -1.06 C 0.78 -1.34 0.4 -1.5 0 -1.5 C -0.4 -1.5 -0.78 -1.34 -1.06 -1.06 C -1.34 -0.78 -1.5 -0.4 -1.5 0 C -1.5 0.4 -1.34 0.78 -1.06 1.06 C -0.78 1.34 -0.4 1.5 0 1.5 z " transform="translate(603.39 609.84)" style="stroke: #ff0000;fill: #ff0000; stroke: #ff0000"/><path d="M 0 1.5 C 0.4 1.5 0.78 1.34 1.06 1.06 C 1.34 0.78 1.5 0.4 1.5 0 C 1.5 -0.4 1.34 -0.78 1.06 -1.06 C 0.78 -1.34 0.4 -1.5 0 -1.5 C -0.4 -1.5 -0.78 -1.34 -1.06 -1.06 C -1.34 -0.78 -1.5 -0.4 -1.5 0 C -1.5 0.4 -1.34 0.78 -1.06 1.06 C -0.78 1.34 -0.4 1.5 0 1.5 z " transform="translate(619.78 614.5)" style="stroke: #ff0000;fill: #ff0000; stroke: #ff0000"/><path d="M 0 1.5 C 0.4 1.5 0.78 1.34 1.06 1.06 C 1.34 0.78 1.5 0.4 1.5 0 C 1.5 -0.4 1.34 -0.78 1.06 -1.06 C 0.78 -1.34 0.4 -1.5 0 -1.5 C -0.4 -1.5 -0.78 -1.34 -1.06 -1.06 C -1.34 -0.78 -1.5 -0.4 -1.5 0 C -1.5 0.4 -1.34 0.78 -1.06 1.06 C -0.78 1.34 -0.4 1.5 0 1.5 z " transform="translate(636.18 620.87)" style="stroke: #ff0000;fill: #ff0000; stroke: #ff0000"/><path d="M 0 1.5 C 0.4 1.5 0.78 1.34 1.06 1.06 C 1.34 0.78 1.5 0.4 1.5 0 C 1.5 -0.4 1.34 -0.78 1.06 -1.06 C 0.78 -1.34 0.4 -1.5 0 -1.5 C -0.4 -1.5 -0.78 -1.34 -1.06 -1.06 C -1.34 -0.78 -1.5 -0.4 -1.5 0 C -1.5 0.4 -1.34 0.78 -1.06 1.06 C -0.78 1.34 -0.4 1.5 0 1.5 z " transform="translate(652.57 622.77)" style="stroke: #ff0000;fill: #ff0000; stroke: #ff0000"/><path d="M 0 1.5 C 0.4 1.5 0.78 1.34 1.06 1.06 C 1.34 0.78 1.5 0.4 1.5 0 C 1.5 -0.4 1.34 -0.78 1.06 -1.06 C 0.78 -1.34 0.4 -1.5 0 -1.5 C -0.4 -1.5 -0.78 -1.34 -1.06 -1.06 C -1.34 -0.78 -1.5 -0.4 -1.5 0 C -1.5 0.4 -1.34 0.78 -1.06 1.06 C -0.78 1.34 -0.4 1.5 0 1.5 z " transform="translate(668.97 620.01)" style="stroke: #ff0000;fill: #ff0000; stroke: #ff0000"/><path d="M 0 1.5 C 0.4 1.5 0.78 1.34 1.06 1.06 C 1.34 0.78 1.5 0.4 1.5 0 C 1.5 -0.4 1.34 -0.78 1.06 -1.06 C 0.78 -1.34 0.4 -1.5 0 -1.5 C -0.4 -1.5 -0.78 -1.34 -1.06 -1.06 C -1.34 -0.78 -1.5 -0.4 -1.5 0 C -1.5 0.4 -1.34 0.78 -1.06 1.06 C -0.78 1.34 -0.4 1.5 0 1.5 z " transform="translate(685.36 619.8)" style="stroke: #ff0000;fill: #ff0000; stroke: #ff0000"/><path d="M 0 1.5 C 0.4 1.5 0.78 1.34 1.06 1.06 C 1.34 0.78 1.5 0.4 1.5 0 C 1.5 -0.4 1.34 -0.78 1.06 -1.06 C 0.78 -1.34 0.4 -1.5 0 -1.5 C -0.4 -1.5 -0.78 -1.34 -1.06 -1.06 C -1.34 -0.78 -1.5 -0.4 -1.5 0 C -1.5 0.4 -1.34 0.78 -1.06 1.06 C -0.78 1.34 -0.4 1.5 0 1.5 z " transform="translate(701.76 618.54)" style="stroke: #ff0000;fill: #ff0000; stroke: #ff0000"/><path d="M 0 1.5 C 0.4 1.5 0.78 1.34 1.06 1.06 C 1.34 0.78 1.5 0.4 1.5 0 C 1.5 -0.4 1.34 -0.78 1.06 -1.06 C 0.78 -1.34 0.4 -1.5 0 -1.5 C -0.4 -1.5 -0.78 -1.34 -1.06 -1.06 C -1.34 -0.78 -1.5 -0.4 -1.5 0 C -1.5 0.4 -1.34 0.78 -1.06 1.06 C -0.78 1.34 -0.4 1.5 0 1.5 z " transform="translate(718.15 620.87)" style="stroke: #ff0000;fill: #ff0000; stroke: #ff0000"/><path d="M 0 1.5 C 0.4 1.5 0.78 1.34 1.06 1.06 C 1.34 0.78 1.5 0.4 1.5 0 C 1.5 -0.4 1.34 -0.78 1.06 -1.06 C 0.78 -1.34 0.4 -1.5 0 -1.5 C -0.4 -1.5 -0.78 -1.34 -1.06 -1.06 C -1.34 -0.78 -1.5 -0.4 -1.5 0 C -1.5 0.4 -1.34 0.78 -1.06 1.06 C -0.78 1.34 -0.4 1.5 0 1.5 z " transform="translate(734.54 622.13)" style="stroke: #ff0000;fill: #ff0000; stroke: #ff0000"/></g></g><g id="patch_33"><path shape-rendering="crispEdges" d="M 62.28 669.31 L 62.28 592.13 " style="fill: none; stroke: #000000; stroke-width: 0.72; stroke-linejoin: miter; stroke-linecap: square"/></g><g id="patch_34"><path shape-rendering="crispEdges" d="M 751.32 669.31 L 751.32 592.13 " style="fill: none; stroke: #000000; stroke-width: 0.72; stroke-linejoin: miter; stroke-linecap: square"/></g><g id="patch_35"><path shape-rendering="crispEdges" d="M 62.28 669.31 L 751.32 669.31 " style="fill: none; stroke: #000000; stroke-width: 0.72; stroke-linejoin: miter; stroke-linecap: square"/></g><g id="patch_36"><path shape-rendering="crispEdges" d="M 62.28 592.13 L 751.32 592.13 " style="fill: none; stroke: #000000; stroke-width: 0.72; stroke-linejoin: miter; stroke-linecap: square"/></g></g><g id="axes_6"><g id="patch_37"><path d="M 62.28 761.4 L 751.32 761.4 L 751.32 684.43 L 62.28 684.43 z " style="fill: #ffffff"/></g><g id="patch_38"><path d="M 333.21 761.4 L 348.07 761.4 L 348.07 759.09 L 333.21 759.09 z " clip-path="url(#pd74ccff818)" style="fill: #00bfbf"/></g><g id="patch_39"><path d="M 349.6 761.4 L 364.47 761.4 L 364.47 751.27 L 349.6 751.27 z " clip-path="url(#pd74ccff818)" style="fill: #00bfbf"/></g><g id="patch_40"><path d="M 366 761.4 L 380.86 761.4 L 380.86 697.26 L 366 697.26 z " clip-path="url(#pd74ccff818)" style="fill: #00bfbf"/></g><g id="patch_41"><path d="M 382.39 761.4 L 397.26 761.4 L 397.26 728.69 L 382.39 728.69 z " clip-path="url(#pd74ccff818)" style="fill: #00bfbf"/></g><g id="patch_42"><path d="M 398.79 761.4 L 413.65 761.4 L 413.65 749.73 L 398.79 749.73 z " clip-path="url(#pd74ccff818)" style="fill: #00bfbf"/></g><g id="patch_43"><path d="M 415.18 761.4 L 430.05 761.4 L 430.05 720.86 L 415.18 720.86 z " clip-path="url(#pd74ccff818)" style="fill: #00bfbf"/></g><g id="patch_44"><path d="M 431.58 761.4 L 446.44 761.4 L 446.44 756.27 L 431.58 756.27 z " clip-path="url(#pd74ccff818)" style="fill: #00bfbf"/></g><g id="patch_45"><path d="M 447.97 761.4 L 462.83 761.4 L 462.83 760.5 L 447.97 760.5 z " clip-path="url(#pd74ccff818)" style="fill: #00bfbf"/></g><g id="patch_46"><path d="M 71.39 761.4 L 86.15 761.4 L 86.15 761.4 L 71.39 761.4 z " clip-path="url(#pd74ccff818)" style="fill: #ff00ff"/></g><g id="matplotlib.axis_11"><g id="xtick_41"><g id="line2d_131"><path shape-rendering="crispEdges" d="M 177.13 761.4 L 177.13 684.43 " clip-path="url(#pd74ccff818)" style="fill: none; stroke-dasharray: 2.4,1.04; stroke-dashoffset: 0; stroke: #000000; stroke-opacity: 0.4; stroke-width: 0.72"/></g><g id="line2d_132"><g><path shape-rendering="crispEdges" d="M 0 0 L 0 4 " transform="translate(177.13 761.4)" style="stroke: #000000; stroke-width: 0.72;stroke: #000000; stroke-width: 0.72"/></g></g><g id="text_126"><text style="font-size: 10px; font-family: 'DejaVu Sans', 'Liberation Sans', sans-serif; text-anchor: middle" x="177.13" y="775.7" transform="rotate(-0 177.13 775.7)">00 UTC</text></g></g><g id="xtick_42"><g id="line2d_133"><path shape-rendering="crispEdges" d="M 308.29 761.4 L 308.29 684.43 " clip-path="url(#pd74ccff818)" style="fill: none; stroke-dasharray: 2.4,1.04; stroke-dashoffset: 0; stroke: #000000; stroke-opacity: 0.4; stroke-width: 0.72"/></g><g id="line2d_134"><g><path shape-rendering="crispEdges" d="M 0 0 L 0 4 " transform="translate(308.29 761.4)" style="stroke: #000000; stroke-width: 0.72;stroke: #000000; stroke-width: 0.72"/></g></g><g id="text_127"><text style="font-size: 10px; font-family: 'DejaVu Sans', 'Liberation Sans', sans-serif; text-anchor: middle" x="308.29" y="775.7" transform="rotate(-0 308.29 775.7)">00 UTC</text></g></g><g id="xtick_43"><g id="line2d_135"><path shape-rendering="crispEdges" d="M 439.44 761.4 L 439.44 684.43 " clip-path="url(#pd74ccff818)" style="fill: none; stroke-dasharray: 2.4,1.04; stroke-dashoffset: 0; stroke: #000000; stroke-opacity: 0.4; stroke-width: 0.72"/></g><g id="line2d_136"><g><path shape-rendering="crispEdges" d="M 0 0 L 0 4 " transform="translate(439.44 761.4)" style="stroke: #000000; stroke-width: 0.72;stroke: #000000; stroke-width: 0.72"/></g></g><g id="text_128"><text style="font-size: 10px; font-family: 'DejaVu Sans', 'Liberation Sans', sans-serif; text-anchor: middle" x="439.44" y="775.7" transform="rotate(-0 439.44 775.7)">00 UTC</text></g></g><g id="xtick_44"><g id="line2d_137"><path shape-rendering="crispEdges" d="M 570.6 761.4 L 570.6 684.43 " clip-path="url(#pd74ccff818)" style="fill: none; stroke-dasharray: 2.4,1.04; stroke-dashoffset: 0; stroke: #000000; stroke-opacity: 0.4; stroke-width: 0.72"/></g><g id="line2d_138"><g><path shape-rendering="crispEdges" d="M 0 0 L 0 4 " transform="translate(570.6 761.4)" style="stroke: #000000; stroke-width: 0.72;stroke: #000000; stroke-width: 0.72"/></g></g><g id="text_129"><text style="font-size: 10px; font-family: 'DejaVu Sans', 'Liberation Sans', sans-serif; text-anchor: middle" x="570.6" y="775.7" transform="rotate(-0 570.6 775.7)">00 UTC</text></g></g><g id="xtick_45"><g id="line2d_139"><path shape-rendering="crispEdges" d="M 701.76 761.4 L 701.76 684.43 " clip-path="url(#pd74ccff818)" style="fill: none; stroke-dasharray: 2.4,1.04; stroke-dashoffset: 0; stroke: #000000; stroke-opacity: 0.4; stroke-width: 0.72"/></g><g id="line2d_140"><g><path shape-rendering="crispEdges" d="M 0 0 L 0 4 " transform="translate(701.76 761.4)" style="stroke: #000000; stroke-width: 0.72;stroke: #000000; stroke-width: 0.72"/></g></g><g id="text_130"><text style="font-size: 10px; font-family: 'DejaVu Sans', 'Liberation Sans', sans-serif; text-anchor: middle" x="701.76" y="775.7" transform="rotate(-0 701.76 775.7)">00 UTC</text></g></g><g id="xtick_46"><g id="line2d_141"><g><path shape-rendering="crispEdges" d="M 0 0 L 0 2 " transform="translate(111.56 761.4)" style="stroke: #000000; stroke-width: 0.72;stroke: #000000; stroke-width: 0.72"/></g></g><g id="text_131"><text style="font-size: 10px; font-family: 'DejaVu Sans', 'Liberation Sans', sans-serif; text-anchor: middle" x="111.56" y="774.4" transform="rotate(-0 111.56 774.4)">12 UTC</text></g></g><g id="xtick_47"><g id="line2d_142"><g><path shape-rendering="crispEdges" d="M 0 0 L 0 2 " transform="translate(242.71 761.4)" style="stroke: #000000; stroke-width: 0.72;stroke: #000000; stroke-width: 0.72"/></g></g><g id="text_132"><text style="font-size: 10px; font-family: 'DejaVu Sans', 'Liberation Sans', sans-serif; text-anchor: middle" x="242.71" y="774.4" transform="rotate(-0 242.71 774.4)">12 UTC</text></g></g><g id="xtick_48"><g id="line2d_143"><g><path shape-rendering="crispEdges" d="M 0 0 L 0 2 " transform="translate(373.87 761.4)" style="stroke: #000000; stroke-width: 0.72;stroke: #000000; stroke-width: 0.72"/></g></g><g id="text_133"><text style="font-size: 10px; font-family: 'DejaVu Sans', 'Liberation Sans', sans-serif; text-anchor: middle" x="373.87" y="774.4" transform="rotate(-0 373.87 774.4)">12 UTC</text></g></g><g id="xtick_49"><g id="line2d_144"><g><path shape-rendering="crispEdges" d="M 0 0 L 0 2 " transform="translate(505.02 761.4)" style="stroke: #000000; stroke-width: 0.72;stroke: #000000; stroke-width: 0.72"/></g></g><g id="text_134"><text style="font-size: 10px; font-family: 'DejaVu Sans', 'Liberation Sans', sans-serif; text-anchor: middle" x="505.02" y="774.4" transform="rotate(-0 505.02 774.4)">12 UTC</text></g></g><g id="xtick_50"><g id="line2d_145"><g><path shape-rendering="crispEdges" d="M 0 0 L 0 2 " transform="translate(636.18 761.4)" style="stroke: #000000; stroke-width: 0.72;stroke: #000000; stroke-width: 0.72"/></g></g><g id="text_135"><text style="font-size: 10px; font-family: 'DejaVu Sans', 'Liberation Sans', sans-serif; text-anchor: middle" x="636.18" y="774.4" transform="rotate(-0 636.18 774.4)">12 UTC</text></g></g></g><g id="matplotlib.axis_12"><g id="ytick_27"><g id="line2d_146"><path shape-rendering="crispEdges" d="M 62.28 761.4 L 751.32 761.4 " clip-path="url(#pd74ccff818)" style="fill: none; stroke: #b0b0b0; stroke-width: 0.72; stroke-linecap: square"/></g><g id="line2d_147"><g><path shape-rendering="crispEdges" d="M 0 0 L -3.5 0 " transform="translate(62.28 761.4)" style="stroke: #000000; stroke-width: 0.72;stroke: #000000; stroke-width: 0.72"/></g></g><g id="text_136"><text style="font-size: 10px; font-family: 'DejaVu Sans', 'Liberation Sans', sans-serif; text-anchor: end" x="55.28" y="765.2" transform="rotate(-0 55.28 765.2)">0</text></g></g><g id="ytick_28"><g id="line2d_148"><path shape-rendering="crispEdges" d="M 62.28 748.57 L 751.32 748.57 " clip-path="url(#pd74ccff818)" style="fill: none; stroke: #b0b0b0; stroke-width: 0.72; stroke-linecap: square"/></g><g id="line2d_149"><g><path shape-rendering="crispEdges" d="M 0 0 L -3.5 0 " transform="translate(62.28 748.57)" style="stroke: #000000; stroke-width: 0.72;stroke: #000000; stroke-width: 0.72"/></g></g><g id="text_137"><text style="font-size: 10px; font-family: 'DejaVu Sans', 'Liberation Sans', sans-serif; text-anchor: end" x="55.28" y="752.37" transform="rotate(-0 55.28 752.37)">1</text></g></g><g id="ytick_29"><g id="line2d_150"><path shape-rendering="crispEdges" d="M 62.28 735.74 L 751.32 735.74 " clip-path="url(#pd74ccff818)" style="fill: none; stroke: #b0b0b0; stroke-width: 0.72; stroke-linecap: square"/></g><g id="line2d_151"><g><path shape-rendering="crispEdges" d="M 0 0 L -3.5 0 " transform="translate(62.28 735.74)" style="stroke: #000000; stroke-width: 0.72;stroke: #000000; stroke-width: 0.72"/></g></g><g id="text_138"><text style="font-size: 10px; font-family: 'DejaVu Sans', 'Liberation Sans', sans-serif; text-anchor: end" x="55.28" y="739.54" transform="rotate(-0 55.28 739.54)">2</text></g></g><g id="ytick_30"><g id="line2d_152"><path shape-rendering="crispEdges" d="M 62.28 722.92 L 751.32 722.92 " clip-path="url(#pd74ccff818)" style="fill: none; stroke: #b0b0b0; stroke-width: 0.72; stroke-linecap: square"/></g><g id="line2d_153"><g><path shape-rendering="crispEdges" d="M 0 0 L -3.5 0 " transform="translate(62.28 722.92)" style="stroke: #000000; stroke-width: 0.72;stroke: #000000; stroke-width: 0.72"/></g></g><g id="text_139"><text style="font-size: 10px; font-family: 'DejaVu Sans', 'Liberation Sans', sans-serif; text-anchor: end" x="55.28" y="726.72" transform="rotate(-0 55.28 726.72)">3</text></g></g><g id="ytick_31"><g id="line2d_154"><path shape-rendering="crispEdges" d="M 62.28 710.09 L 751.32 710.09 " clip-path="url(#pd74ccff818)" style="fill: none; stroke: #b0b0b0; stroke-width: 0.72; stroke-linecap: square"/></g><g id="line2d_155"><g><path shape-rendering="crispEdges" d="M 0 0 L -3.5 0 " transform="translate(62.28 710.09)" style="stroke: #000000; stroke-width: 0.72;stroke: #000000; stroke-width: 0.72"/></g></g><g id="text_140"><text style="font-size: 10px; font-family: 'DejaVu Sans', 'Liberation Sans', sans-serif; text-anchor: end" x="55.28" y="713.89" transform="rotate(-0 55.28 713.89)">4</text></g></g><g id="ytick_32"><g id="line2d_156"><path shape-rendering="crispEdges" d="M 62.28 697.26 L 751.32 697.26 " clip-path="url(#pd74ccff818)" style="fill: none; stroke: #b0b0b0; stroke-width: 0.72; stroke-linecap: square"/></g><g id="line2d_157"><g><path shape-rendering="crispEdges" d="M 0 0 L -3.5 0 " transform="translate(62.28 697.26)" style="stroke: #000000; stroke-width: 0.72;stroke: #000000; stroke-width: 0.72"/></g></g><g id="text_141"><text style="font-size: 10px; font-family: 'DejaVu Sans', 'Liberation Sans', sans-serif; text-anchor: end" x="55.28" y="701.06" transform="rotate(-0 55.28 701.06)">5</text></g></g><g id="ytick_33"><g id="line2d_158"><path shape-rendering="crispEdges" d="M 62.28 684.43 L 751.32 684.43 " clip-path="url(#pd74ccff818)" style="fill: none; stroke: #b0b0b0; stroke-width: 0.72; stroke-linecap: square"/></g><g id="line2d_159"><g><path shape-rendering="crispEdges" d="M 0 0 L -3.5 0 " transform="translate(62.28 684.43)" style="stroke: #000000; stroke-width: 0.72;stroke: #000000; stroke-width: 0.72"/></g></g><g id="text_142"><text style="font-size: 10px; font-family: 'DejaVu Sans', 'Liberation Sans', sans-serif; text-anchor: end" x="55.28" y="688.23" transform="rotate(-0 55.28 688.23)">6</text></g></g><g id="text_143"><text style="font-size: 10px; font-family: 'DejaVu Sans', 'Liberation Sans', sans-serif; text-anchor: middle" x="41.94" y="722.92" transform="rotate(-90 41.94 722.92)">precipitation [mm/h]</text></g></g><g id="patch_47"><path shape-rendering="crispEdges" d="M 62.28 761.4 L 62.28 684.43 " style="fill: none; stroke: #000000; stroke-width: 0.72; stroke-linejoin: miter; stroke-linecap: square"/></g><g id="patch_48"><path shape-rendering="crispEdges" d="M 751.32 761.4 L 751.32 684.43 " style="fill: none; stroke: #000000; stroke-width: 0.72; stroke-linejoin: miter; stroke-linecap: square"/></g><g id="patch_49"><path shape-rendering="crispEdges" d="M 62.28 761.4 L 751.32 761.4 " style="fill: none; stroke: #000000; stroke-width: 0.72; stroke-linejoin: miter; stroke-linecap: square"/></g><g id="patch_50"><path shape-rendering="crispEdges" d="M 62.28 684.43 L 751.32 684.43 " style="fill: none; stroke: #000000; stroke-width: 0.72; stroke-linejoin: miter; stroke-linecap: square"/></g><g id="legend_2"><g id="patch_51"><path d="M 619.52 703.32 L 745.49 703.32 Q 747.15 703.32 747.15 701.66 L 747.15 690.26 Q 747.15 688.6 745.49 688.6 L 619.52 688.6 Q 617.85 688.6 617.85 690.26 L 617.85 701.66 Q 617.85 703.32 619.52 703.32 z " style="fill: #ffffff; opacity: 0.8; stroke: #cccccc; stroke-linejoin: miter"/></g><g id="patch_52"><path d="M 621.19 698.26 L 637.85 698.26 L 637.85 692.43 L 621.19 692.43 z " style="fill: #00bfbf"/></g><g id="text_144"><text style="font-size: 8.33px; font-family: 'DejaVu Sans', 'Liberation Sans', sans-serif; text-anchor: start" x="644.51" y="698.26" transform="rotate(-0 644.51 698.26)">tot. prec.</text></g><g id="patch_53"><path d="M 698.97 698.26 L 715.63 698.26 L 715.63 692.43 L 698.97 692.43 z " style="fill: #ff00ff"/></g><g id="text_145"><text style="font-size: 8.33px; font-family: 'DejaVu Sans', 'Liberation Sans', sans-serif; text-anchor: start" x="722.3" y="698.26" transform="rotate(-0 722.3 698.26)">snow</text></g></g></g><g id="text_146"><text style="font-size: 10px; font-family: 'DejaVu Sans', 'Liberation Sans', sans-serif; text-anchor: middle" x="16.06" y="169.2" transform="rotate(-90 16.06 169.2)">temperature [ °C], upper wind</text></g><g id="text_147"><text style="font-size: 10px; font-family: 'DejaVu Sans', 'Liberation Sans', sans-serif; text-anchor: middle" x="28.8" y="169.2" transform="rotate(-90 28.8 169.2)">pressure [hPa]</text></g><g id="text_148"><text style="font-size: 10px; font-family: 'DejaVu Sans', 'Liberation Sans', sans-serif; text-anchor: middle" x="128.09" y="785.95" transform="rotate(-0 128.09 785.95)">Fri 31 Oct</text></g><g id="text_149"><text style="font-size: 10px; font-family: 'DejaVu Sans', 'Liberation Sans', sans-serif; text-anchor: middle" x="242.71" y="785.95" transform="rotate(-0 242.71 785.95)">Sat 1 Nov</text></g><g id="text_150"><text style="font-size: 10px; font-family: 'DejaVu Sans', 'Liberation Sans', sans-serif; text-anchor: middle" x="373.9" y="785.95" transform="rotate(-0 373.9 785.95)">Sun 2 Nov</text></g><g id="text_151"><text style="font-size: 10px; font-family: 'DejaVu Sans', 'Liberation Sans', sans-serif; text-anchor: middle" x="505.01" y="785.95" transform="rotate(-0 505.01 785.95)">Mon 3 Nov</text></g><g id="text_152"><text style="font-size: 10px; font-family: 'DejaVu Sans', 'Liberation Sans', sans-serif; text-anchor: middle" x="636.19" y="785.95" transform="rotate(-0 636.19 785.95)">Tue 4 Nov</text></g><g id="text_153"><text style="font-size: 10px; font-family: 'DejaVu Sans', 'Liberation Sans', sans-serif; text-anchor: middle" x="718.2" y="785.95" transform="rotate(-0 718.2 785.95)">Wed 5 Nov</text></g><g id="text_154"><text style="font-size: 17.28px; font-family: 'DejaVu Sans', 'Liberation Sans', sans-serif; text-anchor: start" x="79.34" y="20.52" transform="rotate(-0 79.34 20.52)">MIM Forecast (ICON-EU)</text></g><g id="text_155"><text style="font-size: 8.33px; font-family: 'DejaVu Sans', 'Liberation Sans', sans-serif; text-anchor: start" x="80.28" y="32.33" transform="rotate(-0 80.28 32.33)">Meteogram @11.57549, 48.13743</text></g><g id="text_156"><text style="font-size: 8.33px; font-family: 'DejaVu Sans', 'Liberation Sans', sans-serif; text-anchor: end" x="731.52" y="19.94" transform="rotate(-0 731.52 19.94)">12:55, October 31 2025</text></g><g id="text_157"><text style="font-size: 8.33px; font-family: 'DejaVu Sans', 'Liberation Sans', sans-serif; text-anchor: end" x="732.96" y="32.4" transform="rotate(-0 732.96 32.4)">ICON-EU, 2025-10-31 06 UTC, Δ<tspan style="font-style:italic">x</tspan> = 6.5 km</text></g></g><defs><clipPath id="p9851077e19"><rect x="62.28" y="40.68" width="689.04" height="260.64"/></clipPath><clipPath id="p7bbf53f812"><rect x="757.08" y="40.68" width="30.96" height="260.64"/></clipPath><clipPath id="p8bf510d1eb"><rect x="62.28" y="316.44" width="689.04" height="168.12"/></clipPath><clipPath id="pb868a80c06"><rect x="62.28" y="499.97" width="689.04" height="76.75"/></clipPath><clipPath id="pa27e579a9d"><rect x="62.28" y="592.13" width="689.04" height="77.18"/></clipPath><clipPath id="pd74ccff818"><rect x="62.28" y="684.43" width="689.04" height="76.97"/></clipPath></defs></svg> 
</body></html>
